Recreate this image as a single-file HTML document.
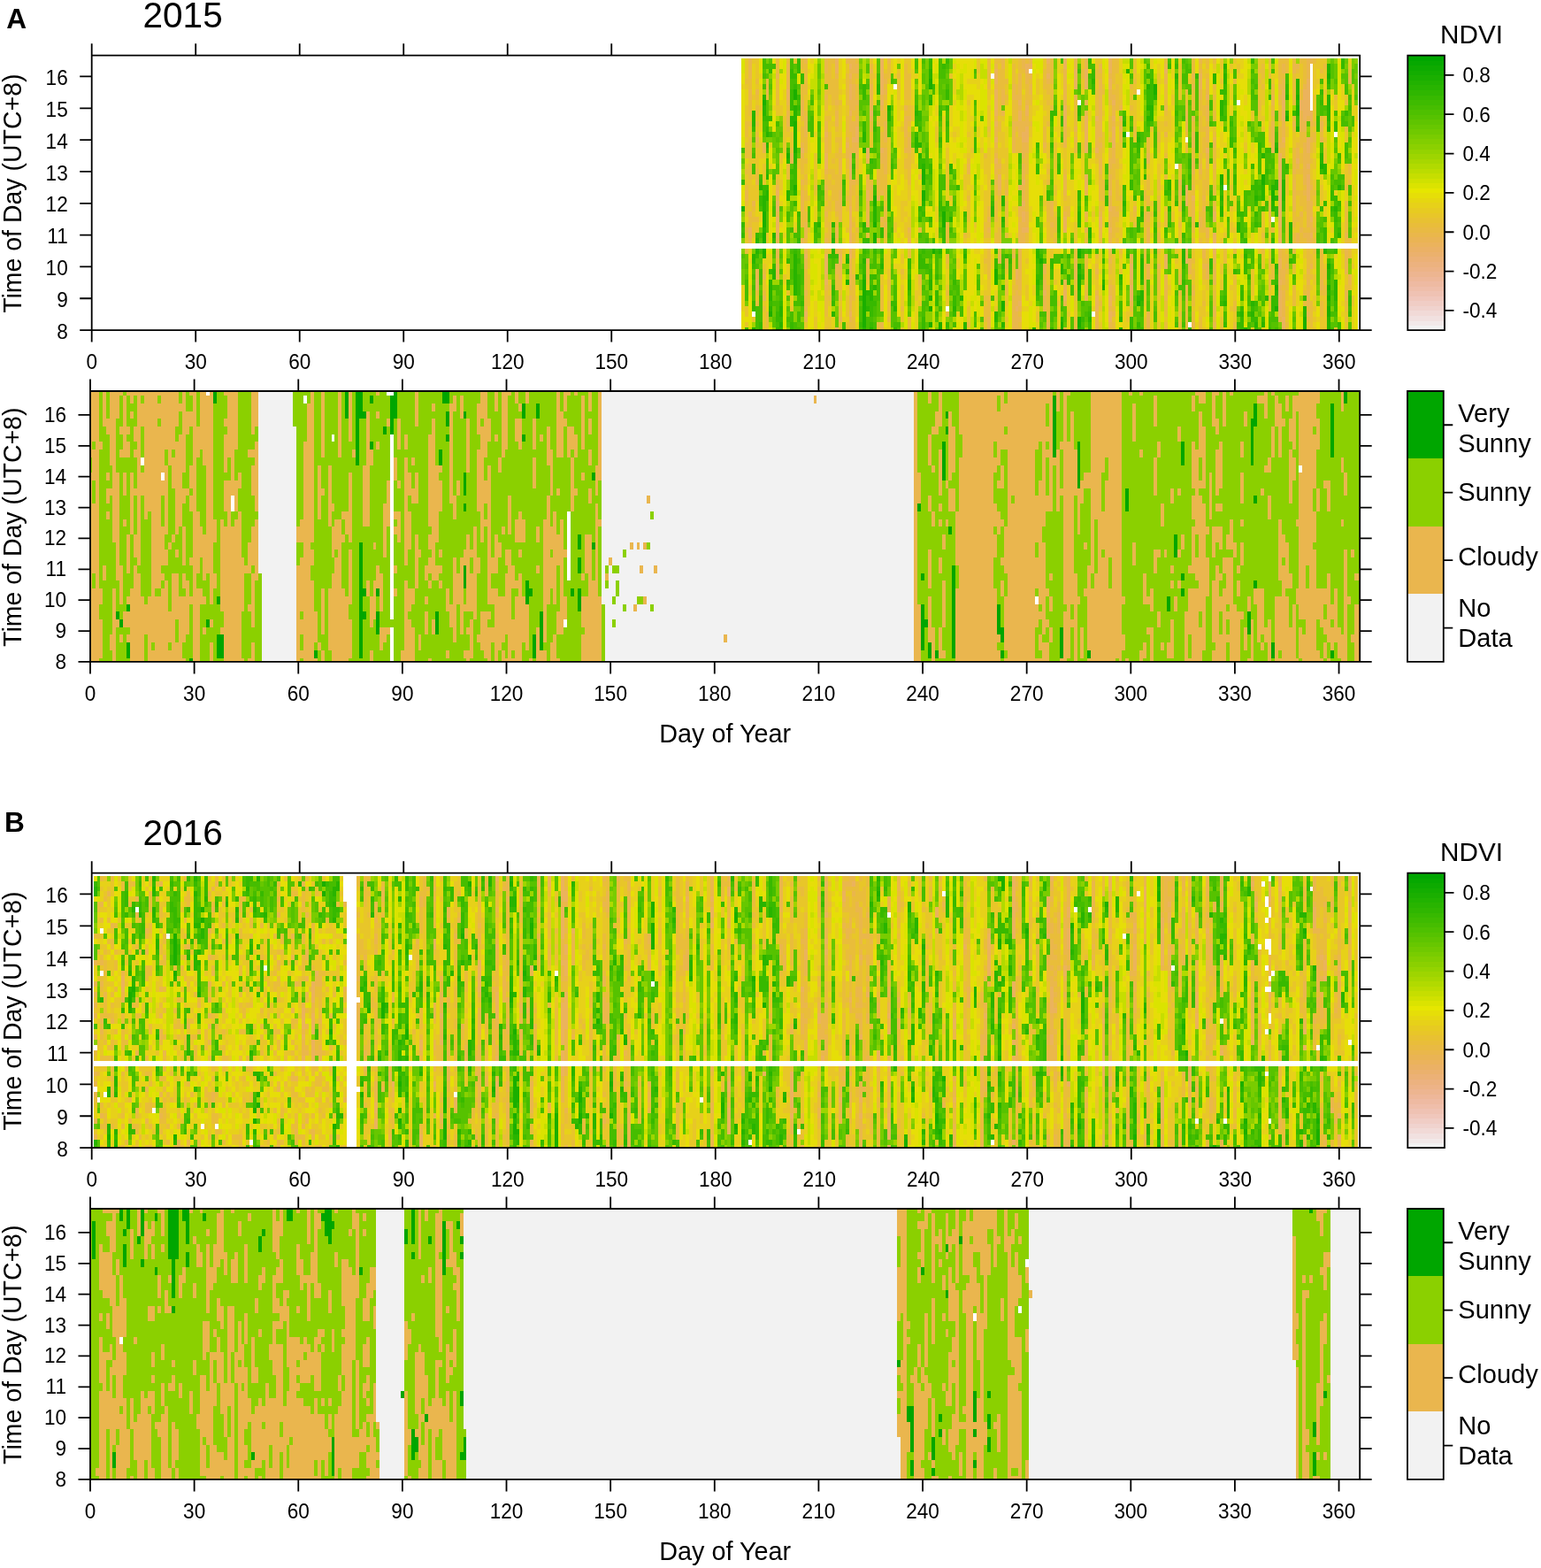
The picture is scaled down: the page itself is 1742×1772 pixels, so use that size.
<!DOCTYPE html>
<html lang="en"><head><meta charset="utf-8"><title>NDVI and sky condition by time of day, 2015-2016</title>
<style>html,body{margin:0;padding:0;background:#fff}body{width:1742px;height:1772px;overflow:hidden}svg{display:block}text{font-family:'Liberation Sans', sans-serif;fill:#000}</style>
</head><body>
<svg width="1742" height="1772" viewBox="0 0 1742 1772" role="img" aria-label="NDVI and sky condition heat maps for 2015 and 2016">
<rect width="1742" height="1772" fill="#fff"/>
<text transform="translate(7.3 31.7) scale(1 1.02)" font-size="31.6" font-weight="bold">A</text>
<text transform="translate(161.4 31.4) scale(1 1.02)" font-size="40.6">2015</text>
<clipPath id="c1A"><rect x="103.7" y="62.7" width="1433.5" height="310.4"/></clipPath>
<g clip-path="url(#c1A)"><g shape-rendering="crispEdges" transform="translate(105.66 376.09) scale(3.917 -5.9717)">
<path fill="#E6DE08" d="M187 0h1v4h-1zM187 25h1v2h-1zM187 37h1v9h-1zM187 47h1v2h-1zM188 2h1v1h-1zM189 2h1v5h-1zM189 9h1v1h-1zM189 11h1v2h-1zM189 14h1v1h-1zM192 20h1v1h-1zM192 37h1v1h-1zM192 47h1v1h-1zM192 49h1v3h-1zM194 9h1v2h-1zM194 15h1v1h-1zM195 12h1v1h-1zM195 18h1v5h-1zM195 24h1v6h-1zM195 32h1v3h-1zM196 31h1v1h-1zM196 38h1v1h-1zM196 40h1v2h-1zM196 43h1v3h-1zM196 51h1v1h-1zM198 19h1v1h-1zM198 25h1v1h-1zM198 44h1v3h-1zM198 48h1v1h-1zM198 50h1v2h-1zM199 0h1v1h-1zM199 6h1v1h-1zM199 8h1v1h-1zM199 11h1v3h-1zM199 15h1v1h-1zM199 17h1v1h-1zM199 19h1v2h-1zM199 24h1v2h-1zM199 32h1v1h-1zM199 46h1v3h-1zM202 21h1v2h-1zM203 35h1v3h-1zM203 40h1v1h-1zM206 0h1v3h-1zM206 26h1v2h-1zM206 29h1v1h-1zM206 45h1v1h-1zM206 47h1v2h-1zM206 50h1v2h-1zM207 1h1v5h-1zM207 34h1v2h-1zM207 49h1v2h-1zM208 6h1v3h-1zM208 13h1v1h-1zM208 24h1v1h-1zM208 34h1v3h-1zM208 38h1v3h-1zM209 0h1v1h-1zM209 2h1v2h-1zM209 8h1v6h-1zM209 15h1v1h-1zM209 29h1v2h-1zM210 0h1v2h-1zM210 31h1v1h-1zM210 34h1v2h-1zM210 37h1v2h-1zM216 3h1v1h-1zM216 8h1v1h-1zM216 18h1v2h-1zM216 30h1v3h-1zM216 34h1v4h-1zM216 40h1v1h-1zM216 43h1v2h-1zM216 46h1v1h-1zM216 48h1v4h-1zM217 17h1v2h-1zM220 2h1v1h-1zM220 7h1v2h-1zM220 14h1v2h-1zM221 33h1v2h-1zM222 29h1v1h-1zM225 44h1v1h-1zM225 51h1v1h-1zM228 1h1v8h-1zM228 10h1v1h-1zM229 43h1v4h-1zM230 23h1v1h-1zM230 27h1v2h-1zM230 45h1v1h-1zM231 13h1v1h-1zM231 17h1v2h-1zM231 22h1v2h-1zM231 28h1v1h-1zM231 30h1v1h-1zM231 38h1v1h-1zM231 43h1v2h-1zM231 49h1v3h-1zM232 3h1v5h-1zM232 13h1v3h-1zM232 19h1v1h-1zM232 26h1v2h-1zM232 33h1v2h-1zM232 39h1v1h-1zM233 18h1v1h-1zM233 27h1v3h-1zM233 40h1v2h-1zM233 43h1v9h-1zM234 8h1v2h-1zM234 12h1v2h-1zM234 17h1v1h-1zM236 2h1v1h-1zM236 26h1v1h-1zM236 30h1v1h-1zM236 39h1v1h-1zM236 46h1v2h-1zM236 50h1v2h-1zM237 12h1v4h-1zM237 18h1v2h-1zM237 25h1v2h-1zM237 29h1v1h-1zM237 32h1v2h-1zM237 38h1v1h-1zM238 28h1v1h-1zM238 45h1v3h-1zM238 49h1v3h-1zM240 19h1v2h-1zM240 23h1v1h-1zM241 23h1v1h-1zM241 33h1v1h-1zM241 40h1v1h-1zM242 39h1v1h-1zM242 41h1v1h-1zM242 49h1v2h-1zM243 17h1v1h-1zM243 20h1v1h-1zM243 24h1v3h-1zM243 31h1v4h-1zM243 40h1v1h-1zM243 43h1v1h-1zM243 51h1v1h-1zM245 1h1v3h-1zM245 35h1v3h-1zM245 41h1v1h-1zM247 32h1v5h-1zM247 38h1v1h-1zM248 0h1v1h-1zM248 31h1v1h-1zM248 34h1v2h-1zM248 39h1v4h-1zM248 44h1v1h-1zM248 48h1v1h-1zM249 2h1v1h-1zM249 10h1v2h-1zM249 14h1v1h-1zM249 33h1v2h-1zM249 36h1v1h-1zM249 39h1v3h-1zM249 49h1v1h-1zM249 51h1v1h-1zM250 0h1v3h-1zM250 18h1v1h-1zM250 23h1v1h-1zM250 29h1v1h-1zM250 33h1v1h-1zM250 50h1v2h-1zM251 7h1v1h-1zM251 24h1v1h-1zM251 32h1v1h-1zM251 35h1v1h-1zM251 37h1v3h-1zM251 42h1v2h-1zM251 46h1v3h-1zM251 51h1v1h-1zM252 6h1v7h-1zM252 45h1v2h-1zM252 48h1v4h-1zM253 7h1v9h-1zM253 17h1v2h-1zM253 22h1v5h-1zM253 28h1v2h-1zM253 32h1v1h-1zM253 39h1v1h-1zM253 41h1v3h-1zM253 45h1v2h-1zM253 50h1v2h-1zM254 4h1v2h-1zM254 8h1v1h-1zM254 14h1v1h-1zM254 18h1v1h-1zM254 30h1v1h-1zM254 44h1v3h-1zM255 6h1v1h-1zM255 13h1v2h-1zM255 22h1v2h-1zM255 36h1v1h-1zM255 39h1v2h-1zM255 42h1v4h-1zM256 3h1v2h-1zM256 8h1v1h-1zM256 15h1v1h-1zM256 17h1v1h-1zM256 19h1v6h-1zM256 28h1v3h-1zM256 37h1v3h-1zM256 47h1v1h-1zM257 10h1v1h-1zM257 27h1v1h-1zM257 36h1v1h-1zM257 46h1v1h-1zM259 3h1v1h-1zM259 8h1v1h-1zM259 15h1v1h-1zM259 30h1v2h-1zM259 35h1v1h-1zM259 40h1v2h-1zM259 44h1v1h-1zM259 46h1v1h-1zM259 49h1v1h-1zM259 51h1v1h-1zM260 8h1v1h-1zM263 0h1v1h-1zM263 39h1v4h-1zM264 0h1v1h-1zM264 19h1v3h-1zM264 25h1v1h-1zM264 41h1v3h-1zM265 17h1v1h-1zM265 19h1v1h-1zM265 21h1v2h-1zM265 24h1v1h-1zM265 26h1v1h-1zM265 29h1v2h-1zM265 32h1v2h-1zM266 19h1v3h-1zM266 24h1v1h-1zM266 26h1v3h-1zM266 31h1v3h-1zM268 0h1v4h-1zM268 5h1v2h-1zM269 1h1v3h-1zM269 5h1v1h-1zM269 11h1v1h-1zM270 6h1v10h-1zM270 20h1v1h-1zM270 24h1v8h-1zM271 2h1v3h-1zM271 6h1v1h-1zM271 12h1v1h-1zM271 17h1v2h-1zM271 20h1v2h-1zM271 23h1v10h-1zM271 35h1v4h-1zM271 40h1v1h-1zM271 43h1v1h-1zM271 45h1v4h-1zM271 50h1v1h-1zM272 22h1v6h-1zM272 36h1v2h-1zM272 40h1v2h-1zM272 49h1v1h-1zM273 26h1v3h-1zM273 30h1v1h-1zM273 34h1v9h-1zM273 44h1v1h-1zM273 48h1v1h-1zM274 17h1v1h-1zM274 19h1v1h-1zM274 21h1v2h-1zM274 30h1v1h-1zM274 32h1v2h-1zM277 8h1v1h-1zM277 12h1v1h-1zM277 37h1v1h-1zM278 7h1v1h-1zM278 12h1v1h-1zM278 24h1v3h-1zM278 29h1v1h-1zM278 34h1v1h-1zM278 36h1v1h-1zM278 42h1v7h-1zM279 8h1v1h-1zM279 15h1v1h-1zM279 18h1v6h-1zM279 30h1v1h-1zM279 32h1v1h-1zM279 45h1v1h-1zM281 0h1v1h-1zM281 15h1v1h-1zM281 17h1v3h-1zM281 26h1v1h-1zM281 29h1v1h-1zM281 47h1v1h-1zM281 49h1v1h-1zM281 51h1v1h-1zM282 3h1v1h-1zM282 21h1v1h-1zM282 23h1v1h-1zM282 35h1v1h-1zM282 37h1v1h-1zM282 42h1v2h-1zM282 46h1v2h-1zM282 49h1v3h-1zM283 27h1v2h-1zM283 31h1v2h-1zM284 29h1v1h-1zM284 31h1v2h-1zM284 36h1v2h-1zM285 19h1v2h-1zM285 24h1v1h-1zM285 27h1v2h-1zM287 12h1v1h-1zM287 36h1v4h-1zM287 42h1v1h-1zM287 49h1v1h-1zM288 0h1v3h-1zM288 5h1v4h-1zM288 13h1v2h-1zM288 19h1v2h-1zM288 24h1v3h-1zM288 30h1v2h-1zM288 33h1v1h-1zM288 35h1v1h-1zM288 51h1v1h-1zM289 17h1v3h-1zM289 25h1v3h-1zM290 9h1v2h-1zM290 12h1v1h-1zM291 19h1v1h-1zM291 38h1v2h-1zM292 2h1v5h-1zM292 18h1v1h-1zM292 21h1v1h-1zM292 32h1v2h-1zM292 47h1v2h-1zM292 50h1v2h-1zM295 0h1v4h-1zM296 1h1v1h-1zM297 4h1v4h-1zM297 15h1v1h-1zM297 28h1v1h-1zM297 30h1v2h-1zM297 33h1v2h-1zM297 42h1v1h-1zM297 44h1v1h-1zM297 47h1v1h-1zM298 0h1v1h-1zM298 9h1v2h-1zM298 20h1v2h-1zM298 26h1v1h-1zM299 26h1v1h-1zM301 8h1v1h-1zM301 25h1v1h-1zM301 39h1v1h-1zM301 44h1v1h-1zM301 49h1v3h-1zM302 27h1v1h-1zM302 29h1v2h-1zM302 33h1v2h-1zM302 38h1v2h-1zM302 41h1v1h-1zM305 9h1v1h-1zM305 11h1v1h-1zM305 14h1v1h-1zM305 17h1v1h-1zM305 19h1v1h-1zM305 25h1v1h-1zM305 34h1v1h-1zM306 30h1v3h-1zM306 50h1v1h-1zM307 41h1v3h-1zM307 51h1v1h-1zM308 11h1v1h-1zM308 18h1v2h-1zM308 26h1v1h-1zM308 28h1v2h-1zM308 33h1v3h-1zM308 41h1v1h-1zM308 43h1v1h-1zM308 45h1v2h-1zM308 48h1v4h-1zM310 1h1v1h-1zM310 5h1v2h-1zM310 10h1v1h-1zM310 30h1v1h-1zM310 32h1v4h-1zM310 43h1v2h-1zM311 0h1v5h-1zM311 7h1v1h-1zM311 11h1v1h-1zM311 13h1v1h-1zM311 27h1v2h-1zM311 30h1v4h-1zM311 35h1v2h-1zM311 41h1v1h-1zM311 46h1v2h-1zM311 50h1v2h-1zM312 0h1v1h-1zM312 18h1v6h-1zM314 34h1v4h-1zM318 0h1v1h-1zM318 2h1v2h-1zM318 17h1v1h-1zM318 23h1v1h-1zM318 25h1v2h-1zM318 49h1v3h-1zM319 8h1v1h-1zM319 10h1v4h-1zM321 1h1v1h-1zM321 4h1v1h-1zM322 14h1v2h-1zM322 17h1v1h-1zM322 28h1v1h-1zM322 36h1v2h-1zM322 45h1v6h-1zM324 3h1v1h-1zM324 7h1v6h-1zM324 22h1v1h-1zM324 31h1v2h-1zM324 35h1v2h-1zM324 40h1v1h-1zM324 51h1v1h-1zM325 19h1v1h-1zM325 34h1v1h-1zM325 38h1v1h-1zM325 44h1v1h-1zM326 0h1v1h-1zM326 20h1v2h-1zM326 23h1v1h-1zM326 36h1v2h-1zM327 0h1v11h-1zM327 13h1v1h-1zM328 9h1v1h-1zM328 12h1v2h-1zM328 15h1v1h-1zM328 18h1v1h-1zM328 31h1v4h-1zM328 43h1v1h-1zM328 47h1v2h-1zM329 21h1v2h-1zM330 6h1v1h-1zM330 13h1v1h-1zM330 26h1v6h-1zM330 37h1v2h-1zM330 47h1v1h-1zM331 12h1v2h-1zM331 15h1v1h-1zM331 25h1v1h-1zM331 30h1v2h-1zM331 35h1v1h-1zM331 41h1v4h-1zM331 46h1v2h-1zM331 49h1v1h-1zM332 21h1v1h-1zM332 27h1v1h-1zM332 39h1v3h-1zM332 45h1v7h-1zM333 22h1v1h-1zM333 27h1v1h-1zM333 31h1v2h-1zM334 32h1v2h-1zM335 30h1v1h-1zM335 32h1v1h-1zM335 34h1v1h-1zM337 30h1v3h-1zM338 0h1v1h-1zM338 3h1v1h-1zM338 37h1v1h-1zM339 43h1v1h-1zM341 42h1v2h-1zM341 47h1v1h-1zM345 0h1v1h-1zM345 4h1v1h-1zM345 7h1v1h-1zM345 22h1v1h-1zM345 35h1v5h-1zM345 43h1v1h-1zM345 45h1v1h-1zM345 49h1v3h-1zM347 0h1v5h-1zM347 8h1v2h-1zM348 7h1v3h-1zM348 12h1v1h-1zM348 14h1v1h-1zM352 23h1v1h-1zM353 0h1v2h-1zM353 3h1v2h-1zM353 45h1v1h-1zM355 27h1v2h-1zM356 17h1v2h-1zM356 20h1v5h-1zM357 18h1v1h-1zM357 33h1v1h-1zM357 36h1v1h-1zM357 38h1v1h-1zM357 40h1v3h-1zM357 44h1v1h-1zM358 12h1v2h-1zM359 5h1v4h-1zM359 35h1v2h-1zM359 42h1v4h-1zM359 51h1v1h-1zM360 2h1v1h-1zM360 4h1v1h-1zM360 6h1v6h-1zM360 21h1v1h-1zM360 24h1v1h-1zM360 31h1v3h-1zM360 42h1v2h-1zM363 7h1v1h-1zM363 11h1v1h-1zM363 20h1v1h-1zM363 28h1v9h-1zM364 0h1v9h-1zM364 12h1v3h-1zM364 18h1v1h-1zM364 20h1v1h-1zM364 22h1v3h-1zM364 26h1v2h-1zM364 31h1v1h-1zM364 34h1v3h-1zM364 38h1v2h-1z"/>
<path fill="#E7D119" d="M187 4h1v5h-1zM187 46h1v1h-1zM188 21h1v1h-1zM188 32h1v1h-1zM188 43h1v3h-1zM189 7h1v2h-1zM189 13h1v1h-1zM189 15h1v1h-1zM190 17h1v1h-1zM190 28h1v1h-1zM190 42h1v2h-1zM190 45h1v6h-1zM191 22h1v3h-1zM192 21h1v2h-1zM192 30h1v3h-1zM192 36h1v1h-1zM192 38h1v4h-1zM192 43h1v4h-1zM192 48h1v1h-1zM193 13h1v1h-1zM193 32h1v1h-1zM194 4h1v5h-1zM194 11h1v4h-1zM195 13h1v2h-1zM195 31h1v1h-1zM195 35h1v1h-1zM196 26h1v2h-1zM196 42h1v1h-1zM198 20h1v1h-1zM198 24h1v1h-1zM198 26h1v1h-1zM198 29h1v3h-1zM198 43h1v1h-1zM199 9h1v1h-1zM199 18h1v1h-1zM199 33h1v1h-1zM199 41h1v5h-1zM200 10h1v3h-1zM200 36h1v1h-1zM201 5h1v2h-1zM201 38h1v1h-1zM202 20h1v1h-1zM203 29h1v2h-1zM203 38h1v2h-1zM205 0h1v1h-1zM206 3h1v2h-1zM206 11h1v1h-1zM206 17h1v2h-1zM206 24h1v1h-1zM206 28h1v1h-1zM206 30h1v8h-1zM206 44h1v1h-1zM206 46h1v1h-1zM206 49h1v1h-1zM207 51h1v1h-1zM208 3h1v3h-1zM208 21h1v3h-1zM208 25h1v1h-1zM208 37h1v1h-1zM210 29h1v2h-1zM210 36h1v1h-1zM212 3h1v2h-1zM212 26h1v1h-1zM212 42h1v1h-1zM213 0h1v3h-1zM213 21h1v2h-1zM213 34h1v5h-1zM213 40h1v1h-1zM215 44h1v1h-1zM215 46h1v6h-1zM216 2h1v1h-1zM216 13h1v2h-1zM216 17h1v1h-1zM216 20h1v4h-1zM216 41h1v2h-1zM216 45h1v1h-1zM216 47h1v1h-1zM217 2h1v1h-1zM217 7h1v2h-1zM217 15h1v1h-1zM217 20h1v3h-1zM217 27h1v2h-1zM219 22h1v1h-1zM220 0h1v2h-1zM220 3h1v4h-1zM220 20h1v3h-1zM221 30h1v3h-1zM223 8h1v1h-1zM225 43h1v1h-1zM225 45h1v3h-1zM225 49h1v2h-1zM228 0h1v1h-1zM228 9h1v1h-1zM228 11h1v4h-1zM228 50h1v2h-1zM229 0h1v2h-1zM229 12h1v4h-1zM229 28h1v2h-1zM230 49h1v3h-1zM231 12h1v1h-1zM231 21h1v1h-1zM231 24h1v4h-1zM231 48h1v1h-1zM232 11h1v2h-1zM232 18h1v1h-1zM232 20h1v6h-1zM232 28h1v5h-1zM232 35h1v4h-1zM232 40h1v4h-1zM232 51h1v1h-1zM233 9h1v1h-1zM233 12h1v1h-1zM233 15h1v1h-1zM233 17h1v1h-1zM233 19h1v2h-1zM233 25h1v2h-1zM233 30h1v8h-1zM233 39h1v1h-1zM233 42h1v1h-1zM234 10h1v2h-1zM234 21h1v1h-1zM234 23h1v1h-1zM234 25h1v4h-1zM235 22h1v3h-1zM236 31h1v1h-1zM236 43h1v3h-1zM236 48h1v2h-1zM237 0h1v6h-1zM237 8h1v3h-1zM237 17h1v1h-1zM237 27h1v2h-1zM237 31h1v1h-1zM237 48h1v1h-1zM238 6h1v1h-1zM238 24h1v4h-1zM238 30h1v1h-1zM238 34h1v1h-1zM243 18h1v2h-1zM243 21h1v3h-1zM243 35h1v1h-1zM243 39h1v1h-1zM243 41h1v2h-1zM245 38h1v3h-1zM246 9h1v3h-1zM246 25h1v2h-1zM246 35h1v1h-1zM247 24h1v1h-1zM247 37h1v1h-1zM247 39h1v4h-1zM248 32h1v2h-1zM248 36h1v1h-1zM248 38h1v1h-1zM248 43h1v1h-1zM248 45h1v3h-1zM248 50h1v1h-1zM249 3h1v1h-1zM249 12h1v2h-1zM249 37h1v2h-1zM251 23h1v1h-1zM251 25h1v2h-1zM251 30h1v2h-1zM251 33h1v1h-1zM252 0h1v1h-1zM252 5h1v1h-1zM252 17h1v1h-1zM252 19h1v2h-1zM252 27h1v1h-1zM252 34h1v3h-1zM252 38h1v5h-1zM252 44h1v1h-1zM252 47h1v1h-1zM253 27h1v1h-1zM253 33h1v1h-1zM253 35h1v4h-1zM253 40h1v1h-1zM253 44h1v1h-1zM253 47h1v1h-1zM254 0h1v1h-1zM254 15h1v1h-1zM254 17h1v1h-1zM254 19h1v1h-1zM254 47h1v1h-1zM255 15h1v1h-1zM255 37h1v2h-1zM255 46h1v3h-1zM256 7h1v1h-1zM256 9h1v6h-1zM256 25h1v3h-1zM256 31h1v3h-1zM256 35h1v2h-1zM257 8h1v2h-1zM257 28h1v2h-1zM258 35h1v2h-1zM258 43h1v1h-1zM259 12h1v3h-1zM259 32h1v3h-1zM259 45h1v1h-1zM260 5h1v1h-1zM260 7h1v1h-1zM261 22h1v1h-1zM261 35h1v1h-1zM262 29h1v1h-1zM262 32h1v1h-1zM262 38h1v2h-1zM263 1h1v1h-1zM263 3h1v2h-1zM263 10h1v1h-1zM263 35h1v4h-1zM263 48h1v4h-1zM264 18h1v1h-1zM265 23h1v1h-1zM266 18h1v1h-1zM266 22h1v2h-1zM266 49h1v1h-1zM268 4h1v1h-1zM268 7h1v9h-1zM268 45h1v1h-1zM269 0h1v1h-1zM269 4h1v1h-1zM269 9h1v2h-1zM269 12h1v1h-1zM269 14h1v2h-1zM270 5h1v1h-1zM270 17h1v3h-1zM270 21h1v3h-1zM270 34h1v3h-1zM271 7h1v2h-1zM271 41h1v2h-1zM271 44h1v1h-1zM272 0h1v2h-1zM272 4h1v1h-1zM272 42h1v1h-1zM272 44h1v1h-1zM272 48h1v1h-1zM273 29h1v1h-1zM273 43h1v1h-1zM273 45h1v3h-1zM274 20h1v1h-1zM274 23h1v1h-1zM274 25h1v3h-1zM274 29h1v1h-1zM274 31h1v1h-1zM274 41h1v1h-1zM275 13h1v3h-1zM275 32h1v1h-1zM275 36h1v3h-1zM277 10h1v2h-1zM277 15h1v1h-1zM277 23h1v1h-1zM277 25h1v1h-1zM277 28h1v3h-1zM277 36h1v1h-1zM277 38h1v1h-1zM278 1h1v4h-1zM278 6h1v1h-1zM278 8h1v4h-1zM278 15h1v1h-1zM278 27h1v2h-1zM278 35h1v1h-1zM278 37h1v5h-1zM278 49h1v3h-1zM279 7h1v1h-1zM279 24h1v3h-1zM279 33h1v2h-1zM279 44h1v1h-1zM279 46h1v3h-1zM279 50h1v1h-1zM281 1h1v2h-1zM281 4h1v5h-1zM281 20h1v2h-1zM281 27h1v2h-1zM281 30h1v7h-1zM281 39h1v2h-1zM281 43h1v4h-1zM282 19h1v2h-1zM282 24h1v5h-1zM282 34h1v1h-1zM282 38h1v4h-1zM283 21h1v6h-1zM283 33h1v1h-1zM285 29h1v5h-1zM285 36h1v2h-1zM285 45h1v1h-1zM287 13h1v1h-1zM287 31h1v2h-1zM287 40h1v2h-1zM288 4h1v1h-1zM288 9h1v4h-1zM288 21h1v1h-1zM288 23h1v1h-1zM288 32h1v1h-1zM288 34h1v1h-1zM289 28h1v4h-1zM290 2h1v2h-1zM290 7h1v2h-1zM290 11h1v1h-1zM290 13h1v3h-1zM291 20h1v3h-1zM291 29h1v5h-1zM291 40h1v1h-1zM291 42h1v3h-1zM291 47h1v3h-1zM295 36h1v3h-1zM295 40h1v2h-1zM296 12h1v2h-1zM296 17h1v1h-1zM296 20h1v3h-1zM296 28h1v3h-1zM296 32h1v1h-1zM296 49h1v3h-1zM297 0h1v4h-1zM298 1h1v1h-1zM298 4h1v1h-1zM299 23h1v3h-1zM301 40h1v4h-1zM301 46h1v3h-1zM302 28h1v1h-1zM302 40h1v1h-1zM303 3h1v2h-1zM304 30h1v1h-1zM305 0h1v9h-1zM305 10h1v1h-1zM305 12h1v2h-1zM305 15h1v1h-1zM305 18h1v1h-1zM305 20h1v2h-1zM305 23h1v1h-1zM305 27h1v7h-1zM305 35h1v3h-1zM305 50h1v2h-1zM307 0h1v1h-1zM307 2h1v4h-1zM307 32h1v2h-1zM307 40h1v1h-1zM307 44h1v3h-1zM307 49h1v2h-1zM308 12h1v4h-1zM308 17h1v1h-1zM308 20h1v1h-1zM308 27h1v1h-1zM308 30h1v3h-1zM308 36h1v2h-1zM308 40h1v1h-1zM308 47h1v1h-1zM310 7h1v1h-1zM310 9h1v1h-1zM310 31h1v1h-1zM310 36h1v2h-1zM310 42h1v1h-1zM311 23h1v4h-1zM311 29h1v1h-1zM311 37h1v4h-1zM311 42h1v1h-1zM311 45h1v1h-1zM311 48h1v2h-1zM312 12h1v1h-1zM313 12h1v4h-1zM313 22h1v1h-1zM313 51h1v1h-1zM316 48h1v1h-1zM318 1h1v1h-1zM318 4h1v12h-1zM318 27h1v1h-1zM318 29h1v2h-1zM319 5h1v3h-1zM319 14h1v2h-1zM320 1h1v2h-1zM320 8h1v1h-1zM320 31h1v2h-1zM320 46h1v2h-1zM320 50h1v1h-1zM321 0h1v1h-1zM321 3h1v1h-1zM321 5h1v3h-1zM321 25h1v1h-1zM322 18h1v2h-1zM322 38h1v1h-1zM322 51h1v1h-1zM323 49h1v1h-1zM324 17h1v4h-1zM324 33h1v2h-1zM325 3h1v2h-1zM325 10h1v1h-1zM325 13h1v3h-1zM325 18h1v1h-1zM325 20h1v1h-1zM325 35h1v3h-1zM325 39h1v1h-1zM325 46h1v1h-1zM325 48h1v2h-1zM326 19h1v1h-1zM326 22h1v1h-1zM326 24h1v3h-1zM326 28h1v3h-1zM326 33h1v1h-1zM326 35h1v1h-1zM327 11h1v2h-1zM328 0h1v4h-1zM328 5h1v3h-1zM328 10h1v2h-1zM328 14h1v1h-1zM328 21h1v2h-1zM328 25h1v2h-1zM328 28h1v3h-1zM328 41h1v2h-1zM328 44h1v3h-1zM328 49h1v1h-1zM329 18h1v1h-1zM329 20h1v1h-1zM329 23h1v3h-1zM329 50h1v1h-1zM330 48h1v1h-1zM330 51h1v1h-1zM331 14h1v1h-1zM331 48h1v1h-1zM331 50h1v2h-1zM332 28h1v1h-1zM332 30h1v1h-1zM332 36h1v3h-1zM332 43h1v2h-1zM333 23h1v1h-1zM334 0h1v1h-1zM334 6h1v1h-1zM334 17h1v2h-1zM334 34h1v2h-1zM336 17h1v3h-1zM337 0h1v1h-1zM337 24h1v1h-1zM337 39h1v1h-1zM337 41h1v2h-1zM339 18h1v1h-1zM339 35h1v1h-1zM339 40h1v3h-1zM340 7h1v2h-1zM340 48h1v1h-1zM341 48h1v3h-1zM344 5h1v1h-1zM344 21h1v5h-1zM344 32h1v5h-1zM344 39h1v1h-1zM345 5h1v2h-1zM347 5h1v3h-1zM347 37h1v1h-1zM349 9h1v1h-1zM349 11h1v3h-1zM351 6h1v2h-1zM351 9h1v1h-1zM352 1h1v1h-1zM352 3h1v1h-1zM352 5h1v1h-1zM352 7h1v2h-1zM352 11h1v1h-1zM352 22h1v1h-1zM352 29h1v2h-1zM352 33h1v1h-1zM352 45h1v1h-1zM353 2h1v1h-1zM353 23h1v1h-1zM353 46h1v1h-1zM353 48h1v2h-1zM354 24h1v1h-1zM354 28h1v2h-1zM355 13h1v2h-1zM355 22h1v2h-1zM355 25h1v2h-1zM355 35h1v1h-1zM355 37h1v2h-1zM355 43h1v2h-1zM355 46h1v2h-1zM357 19h1v1h-1zM357 43h1v1h-1zM357 45h1v1h-1zM358 14h1v1h-1zM358 26h1v1h-1zM360 3h1v1h-1zM360 5h1v1h-1zM360 12h1v3h-1zM360 17h1v4h-1zM360 30h1v1h-1zM360 44h1v3h-1zM361 25h1v2h-1zM362 51h1v1h-1zM363 0h1v5h-1zM363 8h1v3h-1zM363 13h1v3h-1zM363 17h1v3h-1zM363 21h1v7h-1zM363 37h1v1h-1zM363 41h1v5h-1zM364 15h1v1h-1zM364 17h1v1h-1zM364 19h1v1h-1zM364 40h1v3h-1z"/>
<path fill="#79CC00" d="M187 9h1v3h-1zM188 5h1v1h-1zM190 15h1v1h-1zM190 37h1v1h-1zM192 19h1v1h-1zM192 26h1v1h-1zM194 36h1v1h-1zM194 51h1v1h-1zM195 2h1v1h-1zM195 30h1v1h-1zM195 36h1v1h-1zM195 38h1v1h-1zM195 42h1v1h-1zM195 44h1v1h-1zM196 7h1v1h-1zM196 13h1v1h-1zM196 33h1v1h-1zM198 21h1v2h-1zM198 39h1v1h-1zM200 14h1v1h-1zM200 35h1v1h-1zM202 4h1v1h-1zM202 17h1v1h-1zM202 23h1v1h-1zM202 43h1v1h-1zM203 4h1v1h-1zM206 20h1v1h-1zM206 42h1v1h-1zM207 45h1v1h-1zM209 17h1v1h-1zM209 22h1v1h-1zM209 41h1v2h-1zM209 44h1v1h-1zM209 46h1v2h-1zM213 10h1v1h-1zM213 19h1v1h-1zM214 3h1v2h-1zM215 17h1v1h-1zM215 20h1v1h-1zM221 23h1v1h-1zM221 35h1v1h-1zM221 38h1v1h-1zM221 51h1v1h-1zM222 18h1v1h-1zM222 35h1v1h-1zM223 35h1v8h-1zM224 14h1v2h-1zM224 20h1v1h-1zM226 2h1v1h-1zM226 18h1v3h-1zM226 42h1v1h-1zM230 13h1v1h-1zM230 34h1v1h-1zM230 36h1v2h-1zM230 41h1v1h-1zM232 2h1v1h-1zM238 36h1v2h-1zM239 9h1v1h-1zM239 19h1v2h-1zM239 27h1v1h-1zM239 38h1v1h-1zM239 41h1v1h-1zM240 8h1v1h-1zM240 30h1v1h-1zM240 41h1v1h-1zM240 43h1v1h-1zM240 50h1v2h-1zM241 7h1v1h-1zM241 17h1v1h-1zM241 26h1v1h-1zM243 0h1v1h-1zM243 4h1v1h-1zM244 5h1v1h-1zM244 30h1v1h-1zM244 33h1v1h-1zM247 0h1v1h-1zM247 2h1v1h-1zM247 4h1v1h-1zM247 13h1v1h-1zM247 20h1v1h-1zM248 14h1v1h-1zM248 28h1v1h-1zM251 19h1v1h-1zM254 23h1v2h-1zM261 6h1v2h-1zM261 11h1v1h-1zM262 3h1v1h-1zM262 7h1v1h-1zM262 17h1v2h-1zM262 23h1v1h-1zM263 17h1v1h-1zM264 15h1v1h-1zM264 17h1v1h-1zM267 24h1v2h-1zM273 7h1v1h-1zM273 23h1v1h-1zM274 1h1v1h-1zM275 27h1v1h-1zM276 4h1v1h-1zM276 8h1v1h-1zM276 31h1v2h-1zM276 36h1v1h-1zM277 0h1v2h-1zM277 47h1v1h-1zM277 50h1v2h-1zM279 3h1v1h-1zM280 10h1v1h-1zM280 12h1v2h-1zM280 15h1v1h-1zM282 12h1v1h-1zM282 14h1v1h-1zM282 29h1v1h-1zM284 4h1v2h-1zM284 47h1v2h-1zM285 9h1v1h-1zM285 41h1v2h-1zM286 30h1v3h-1zM286 44h1v1h-1zM287 29h1v2h-1zM291 14h1v1h-1zM297 36h1v1h-1zM298 6h1v2h-1zM298 17h1v1h-1zM299 29h1v1h-1zM300 1h1v2h-1zM300 34h1v1h-1zM301 31h1v1h-1zM302 15h1v1h-1zM303 42h1v1h-1zM304 49h1v1h-1zM306 11h1v1h-1zM306 13h1v1h-1zM306 21h1v1h-1zM306 39h1v1h-1zM306 43h1v1h-1zM309 15h1v1h-1zM309 17h1v1h-1zM309 31h1v1h-1zM311 18h1v2h-1zM312 4h1v1h-1zM312 38h1v1h-1zM312 49h1v1h-1zM313 34h1v1h-1zM313 43h1v1h-1zM314 0h1v1h-1zM314 31h1v1h-1zM314 43h1v2h-1zM315 10h1v1h-1zM315 18h1v1h-1zM315 22h1v2h-1zM315 28h1v3h-1zM316 6h1v1h-1zM316 37h1v1h-1zM318 39h1v1h-1zM322 2h1v1h-1zM322 24h1v1h-1zM326 4h1v1h-1zM326 12h1v1h-1zM326 39h1v1h-1zM330 2h1v1h-1zM330 4h1v1h-1zM330 21h1v1h-1zM332 18h1v1h-1zM332 31h1v1h-1zM332 33h1v1h-1zM333 4h1v1h-1zM333 11h1v1h-1zM333 38h1v1h-1zM334 28h1v2h-1zM334 36h1v1h-1zM334 50h1v1h-1zM335 3h1v1h-1zM335 19h1v1h-1zM335 50h1v1h-1zM336 9h1v1h-1zM339 29h1v1h-1zM342 1h1v1h-1zM353 5h1v1h-1zM353 8h1v1h-1zM353 24h1v2h-1zM353 27h1v2h-1zM357 4h1v1h-1zM357 46h1v2h-1zM358 11h1v1h-1zM358 29h1v1h-1zM358 32h1v1h-1zM361 50h1v1h-1zM362 13h1v1h-1zM363 50h1v2h-1zM364 43h1v1h-1zM364 48h1v1h-1z"/>
<path fill="#67C700" d="M187 12h1v2h-1zM187 32h1v1h-1zM188 11h1v1h-1zM188 13h1v2h-1zM192 8h1v1h-1zM192 12h1v1h-1zM192 14h1v1h-1zM193 36h1v1h-1zM195 45h1v1h-1zM195 47h1v1h-1zM196 3h1v2h-1zM196 6h1v1h-1zM196 25h1v1h-1zM196 28h1v1h-1zM196 35h1v2h-1zM197 32h1v2h-1zM197 35h1v1h-1zM197 37h1v2h-1zM198 13h1v1h-1zM198 15h1v1h-1zM198 17h1v2h-1zM198 34h1v1h-1zM198 36h1v1h-1zM198 38h1v1h-1zM200 3h1v1h-1zM201 22h1v1h-1zM202 49h1v1h-1zM203 33h1v1h-1zM203 45h1v1h-1zM204 13h1v2h-1zM209 45h1v1h-1zM209 48h1v3h-1zM210 27h1v1h-1zM213 11h1v1h-1zM214 1h1v2h-1zM214 6h1v2h-1zM221 36h1v1h-1zM221 39h1v1h-1zM221 41h1v1h-1zM221 48h1v2h-1zM222 42h1v1h-1zM223 31h1v1h-1zM224 13h1v1h-1zM224 21h1v2h-1zM224 24h1v1h-1zM226 31h1v2h-1zM226 34h1v2h-1zM230 7h1v2h-1zM230 12h1v1h-1zM230 14h1v1h-1zM230 17h1v2h-1zM230 35h1v1h-1zM231 32h1v1h-1zM232 50h1v1h-1zM235 4h1v1h-1zM236 36h1v2h-1zM237 47h1v1h-1zM238 2h1v1h-1zM239 21h1v1h-1zM239 34h1v2h-1zM239 39h1v2h-1zM239 42h1v1h-1zM239 45h1v1h-1zM239 49h1v1h-1zM240 0h1v1h-1zM240 9h1v1h-1zM240 36h1v2h-1zM240 40h1v1h-1zM240 44h1v2h-1zM240 47h1v3h-1zM241 27h1v1h-1zM244 6h1v1h-1zM244 11h1v3h-1zM244 20h1v1h-1zM244 34h1v1h-1zM244 38h1v1h-1zM244 43h1v2h-1zM245 46h1v1h-1zM246 48h1v1h-1zM247 5h1v1h-1zM247 9h1v1h-1zM247 11h1v2h-1zM247 14h1v2h-1zM247 28h1v1h-1zM247 43h1v5h-1zM247 50h1v2h-1zM248 12h1v1h-1zM249 4h1v1h-1zM251 20h1v1h-1zM254 21h1v1h-1zM254 27h1v1h-1zM254 39h1v1h-1zM259 26h1v1h-1zM261 0h1v1h-1zM261 2h1v1h-1zM261 4h1v2h-1zM261 12h1v1h-1zM262 15h1v1h-1zM262 19h1v1h-1zM262 42h1v1h-1zM266 12h1v3h-1zM267 30h1v1h-1zM272 5h1v1h-1zM273 0h1v1h-1zM273 2h1v1h-1zM273 19h1v2h-1zM273 24h1v1h-1zM276 7h1v1h-1zM276 25h1v1h-1zM276 29h1v2h-1zM276 33h1v1h-1zM277 2h1v1h-1zM277 44h1v1h-1zM277 46h1v1h-1zM280 1h1v1h-1zM280 14h1v1h-1zM282 10h1v2h-1zM282 18h1v1h-1zM282 30h1v1h-1zM282 32h1v2h-1zM283 45h1v1h-1zM285 43h1v2h-1zM286 1h1v1h-1zM286 23h1v1h-1zM286 42h1v1h-1zM287 28h1v1h-1zM287 33h1v1h-1zM296 41h1v1h-1zM298 5h1v1h-1zM298 8h1v1h-1zM298 18h1v1h-1zM299 15h1v1h-1zM299 17h1v1h-1zM299 47h1v1h-1zM300 0h1v1h-1zM300 5h1v1h-1zM300 7h1v3h-1zM300 27h1v2h-1zM300 30h1v1h-1zM301 26h1v2h-1zM302 17h1v1h-1zM302 19h1v1h-1zM303 40h1v2h-1zM303 44h1v1h-1zM304 6h1v1h-1zM304 15h1v1h-1zM304 23h1v1h-1zM304 51h1v1h-1zM306 5h1v1h-1zM306 7h1v4h-1zM308 42h1v1h-1zM309 11h1v1h-1zM309 30h1v1h-1zM309 32h1v1h-1zM310 12h1v1h-1zM311 14h1v1h-1zM311 20h1v1h-1zM312 9h1v3h-1zM312 26h1v1h-1zM313 33h1v1h-1zM313 35h1v1h-1zM313 37h1v1h-1zM313 40h1v2h-1zM314 4h1v2h-1zM314 32h1v1h-1zM314 46h1v1h-1zM314 49h1v1h-1zM315 11h1v2h-1zM315 17h1v1h-1zM315 19h1v2h-1zM315 31h1v3h-1zM316 3h1v1h-1zM316 15h1v1h-1zM316 18h1v2h-1zM316 21h1v1h-1zM316 36h1v1h-1zM316 38h1v5h-1zM316 51h1v1h-1zM318 31h1v1h-1zM318 40h1v1h-1zM321 21h1v2h-1zM322 6h1v1h-1zM322 20h1v1h-1zM322 40h1v1h-1zM323 19h1v1h-1zM326 11h1v1h-1zM326 17h1v1h-1zM327 23h1v2h-1zM329 39h1v2h-1zM329 45h1v2h-1zM330 25h1v1h-1zM333 8h1v1h-1zM334 21h1v1h-1zM334 39h1v1h-1zM335 37h1v1h-1zM336 4h1v1h-1zM336 8h1v1h-1zM336 11h1v1h-1zM337 9h1v1h-1zM340 29h1v1h-1zM342 0h1v1h-1zM343 17h1v2h-1zM346 1h1v1h-1zM346 3h1v1h-1zM353 7h1v1h-1zM353 9h1v5h-1zM353 19h1v1h-1zM353 21h1v2h-1zM353 26h1v1h-1zM357 30h1v1h-1zM357 51h1v1h-1zM358 30h1v2h-1zM358 35h1v1h-1zM358 45h1v2h-1zM358 48h1v3h-1zM360 47h1v1h-1zM361 49h1v1h-1zM361 51h1v1h-1zM362 20h1v1h-1zM362 33h1v1h-1zM362 35h1v1h-1zM362 39h1v2h-1zM364 45h1v3h-1zM364 49h1v2h-1z"/>
<path fill="#56C200" d="M187 14h1v1h-1zM188 10h1v1h-1zM188 12h1v1h-1zM190 6h1v2h-1zM190 9h1v1h-1zM190 11h1v1h-1zM190 34h1v1h-1zM190 36h1v1h-1zM191 13h1v1h-1zM192 7h1v1h-1zM192 13h1v1h-1zM192 17h1v1h-1zM193 37h1v1h-1zM193 49h1v1h-1zM194 19h1v4h-1zM194 41h1v3h-1zM194 48h1v1h-1zM195 46h1v1h-1zM195 51h1v1h-1zM196 1h1v2h-1zM196 14h1v1h-1zM196 24h1v1h-1zM196 30h1v1h-1zM196 37h1v1h-1zM197 6h1v1h-1zM197 30h1v2h-1zM197 34h1v1h-1zM197 36h1v1h-1zM198 8h1v1h-1zM198 11h1v1h-1zM198 14h1v1h-1zM198 23h1v1h-1zM198 37h1v1h-1zM200 1h1v1h-1zM200 4h1v1h-1zM200 6h1v1h-1zM200 17h1v3h-1zM201 9h1v1h-1zM201 12h1v3h-1zM201 23h1v2h-1zM201 31h1v1h-1zM202 50h1v1h-1zM203 1h1v1h-1zM203 34h1v1h-1zM203 46h1v1h-1zM204 0h1v2h-1zM204 3h1v2h-1zM204 7h1v2h-1zM204 12h1v1h-1zM206 40h1v2h-1zM207 41h1v1h-1zM207 44h1v1h-1zM209 19h1v1h-1zM209 21h1v1h-1zM209 23h1v2h-1zM209 37h1v1h-1zM210 25h1v1h-1zM210 28h1v1h-1zM212 11h1v3h-1zM213 9h1v1h-1zM214 13h1v1h-1zM216 25h1v1h-1zM219 29h1v1h-1zM219 32h1v1h-1zM221 5h1v1h-1zM221 8h1v2h-1zM221 11h1v1h-1zM221 13h1v2h-1zM221 18h1v1h-1zM221 20h1v1h-1zM221 24h1v2h-1zM221 27h1v3h-1zM221 42h1v2h-1zM221 45h1v1h-1zM221 47h1v1h-1zM222 43h1v1h-1zM223 14h1v1h-1zM223 30h1v1h-1zM223 43h1v2h-1zM223 47h1v1h-1zM223 49h1v2h-1zM224 29h1v1h-1zM225 2h1v1h-1zM225 35h1v1h-1zM225 40h1v1h-1zM225 42h1v1h-1zM226 3h1v3h-1zM226 10h1v1h-1zM226 12h1v1h-1zM226 15h1v1h-1zM226 21h1v3h-1zM226 33h1v1h-1zM226 36h1v3h-1zM226 41h1v1h-1zM226 49h1v3h-1zM227 3h1v1h-1zM227 24h1v1h-1zM229 17h1v1h-1zM229 19h1v2h-1zM230 1h1v4h-1zM230 10h1v2h-1zM230 20h1v3h-1zM230 33h1v1h-1zM230 39h1v2h-1zM230 42h1v1h-1zM230 48h1v1h-1zM231 2h1v2h-1zM231 9h1v2h-1zM231 14h1v2h-1zM231 31h1v1h-1zM231 33h1v1h-1zM231 47h1v1h-1zM232 0h1v1h-1zM235 3h1v1h-1zM236 35h1v1h-1zM237 45h1v1h-1zM237 49h1v1h-1zM238 0h1v2h-1zM238 3h1v1h-1zM238 11h1v1h-1zM238 17h1v1h-1zM239 7h1v1h-1zM239 10h1v2h-1zM239 17h1v2h-1zM239 36h1v2h-1zM239 43h1v2h-1zM239 47h1v2h-1zM239 50h1v1h-1zM240 1h1v1h-1zM240 4h1v1h-1zM240 6h1v2h-1zM240 18h1v1h-1zM240 21h1v1h-1zM240 25h1v4h-1zM240 35h1v1h-1zM240 46h1v1h-1zM241 13h1v1h-1zM241 20h1v1h-1zM241 24h1v1h-1zM241 32h1v1h-1zM243 2h1v1h-1zM243 9h1v1h-1zM244 8h1v1h-1zM244 10h1v1h-1zM244 18h1v1h-1zM244 21h1v1h-1zM244 31h1v1h-1zM244 37h1v1h-1zM244 39h1v1h-1zM244 45h1v3h-1zM245 42h1v1h-1zM245 44h1v2h-1zM245 47h1v1h-1zM246 21h1v2h-1zM246 47h1v1h-1zM246 49h1v1h-1zM247 3h1v1h-1zM247 8h1v1h-1zM247 10h1v1h-1zM247 18h1v1h-1zM247 23h1v1h-1zM247 27h1v1h-1zM248 7h1v1h-1zM248 13h1v1h-1zM248 18h1v1h-1zM248 23h1v1h-1zM248 25h1v1h-1zM248 27h1v1h-1zM248 30h1v1h-1zM249 5h1v2h-1zM249 9h1v1h-1zM251 8h1v4h-1zM254 2h1v1h-1zM254 28h1v1h-1zM254 41h1v2h-1zM254 48h1v1h-1zM255 10h1v1h-1zM255 12h1v1h-1zM256 2h1v1h-1zM256 5h1v1h-1zM259 28h1v1h-1zM260 0h1v1h-1zM261 3h1v1h-1zM261 10h1v1h-1zM267 26h1v1h-1zM267 28h1v1h-1zM267 31h1v1h-1zM272 33h1v1h-1zM273 1h1v1h-1zM273 5h1v2h-1zM273 8h1v1h-1zM273 17h1v2h-1zM273 25h1v1h-1zM274 2h1v1h-1zM274 15h1v1h-1zM276 1h1v1h-1zM276 27h1v1h-1zM276 38h1v1h-1zM277 4h1v1h-1zM277 43h1v1h-1zM278 17h1v1h-1zM279 5h1v1h-1zM279 37h1v1h-1zM280 2h1v3h-1zM281 12h1v2h-1zM282 0h1v3h-1zM282 15h1v1h-1zM282 17h1v1h-1zM284 33h1v1h-1zM284 45h1v2h-1zM284 50h1v1h-1zM285 3h1v2h-1zM285 12h1v1h-1zM286 2h1v1h-1zM286 4h1v2h-1zM286 24h1v1h-1zM287 5h1v1h-1zM287 34h1v2h-1zM287 46h1v2h-1zM291 10h1v2h-1zM296 7h1v1h-1zM298 19h1v1h-1zM299 39h1v1h-1zM299 50h1v2h-1zM300 3h1v2h-1zM300 6h1v1h-1zM300 10h1v2h-1zM300 17h1v3h-1zM300 26h1v1h-1zM300 29h1v1h-1zM300 32h1v2h-1zM300 44h1v1h-1zM301 2h1v2h-1zM301 28h1v3h-1zM302 1h1v2h-1zM302 35h1v1h-1zM303 36h1v4h-1zM303 45h1v1h-1zM303 47h1v3h-1zM303 51h1v1h-1zM304 4h1v2h-1zM304 7h1v3h-1zM304 13h1v2h-1zM304 37h1v1h-1zM306 4h1v1h-1zM306 12h1v1h-1zM306 14h1v1h-1zM306 33h1v2h-1zM306 38h1v1h-1zM310 11h1v1h-1zM310 13h1v3h-1zM312 2h1v1h-1zM312 5h1v2h-1zM312 14h1v1h-1zM312 25h1v1h-1zM312 27h1v2h-1zM312 32h1v2h-1zM312 36h1v2h-1zM312 43h1v3h-1zM313 32h1v1h-1zM313 38h1v1h-1zM313 42h1v1h-1zM314 2h1v2h-1zM314 6h1v1h-1zM314 21h1v1h-1zM314 29h1v1h-1zM314 33h1v1h-1zM314 41h1v2h-1zM314 50h1v1h-1zM315 9h1v1h-1zM315 46h1v1h-1zM315 51h1v1h-1zM316 2h1v1h-1zM316 4h1v1h-1zM316 7h1v3h-1zM316 14h1v1h-1zM316 17h1v1h-1zM316 20h1v1h-1zM316 35h1v1h-1zM316 43h1v1h-1zM316 46h1v1h-1zM316 50h1v1h-1zM317 41h1v1h-1zM318 42h1v6h-1zM322 0h1v1h-1zM322 3h1v3h-1zM322 9h1v1h-1zM322 21h1v1h-1zM322 27h1v1h-1zM323 25h1v1h-1zM323 39h1v1h-1zM325 7h1v1h-1zM326 31h1v1h-1zM327 18h1v3h-1zM327 25h1v1h-1zM327 27h1v1h-1zM328 24h1v1h-1zM329 30h1v1h-1zM329 37h1v2h-1zM329 41h1v1h-1zM329 43h1v2h-1zM332 20h1v1h-1zM333 7h1v1h-1zM333 9h1v1h-1zM333 14h1v1h-1zM333 24h1v2h-1zM334 1h1v1h-1zM334 12h1v1h-1zM334 19h1v2h-1zM334 23h1v4h-1zM334 37h1v2h-1zM334 42h1v2h-1zM334 46h1v1h-1zM334 48h1v1h-1zM335 41h1v3h-1zM335 47h1v2h-1zM336 0h1v1h-1zM336 3h1v1h-1zM336 7h1v1h-1zM336 10h1v1h-1zM336 13h1v2h-1zM336 21h1v2h-1zM337 6h1v3h-1zM337 11h1v1h-1zM338 18h1v1h-1zM338 23h1v1h-1zM339 3h1v1h-1zM339 27h1v2h-1zM339 31h1v1h-1zM340 0h1v2h-1zM340 18h1v1h-1zM340 20h1v1h-1zM340 30h1v1h-1zM340 33h1v1h-1zM341 1h1v1h-1zM341 38h1v1h-1zM341 40h1v2h-1zM343 19h1v3h-1zM346 0h1v1h-1zM346 2h1v1h-1zM346 9h1v1h-1zM350 39h1v1h-1zM353 20h1v1h-1zM353 41h1v4h-1zM354 17h1v2h-1zM354 20h1v2h-1zM355 41h1v1h-1zM357 1h1v1h-1zM357 5h1v2h-1zM357 8h1v3h-1zM357 13h1v1h-1zM357 28h1v1h-1zM357 48h1v3h-1zM358 1h1v2h-1zM358 17h1v1h-1zM358 27h1v1h-1zM358 34h1v1h-1zM358 36h1v1h-1zM358 47h1v1h-1zM359 20h1v1h-1zM360 28h1v1h-1zM360 41h1v1h-1zM360 48h1v1h-1zM361 32h1v1h-1zM361 40h1v1h-1zM361 47h1v2h-1zM362 0h1v2h-1zM362 18h1v2h-1zM362 21h1v2h-1zM362 32h1v1h-1zM362 36h1v1h-1zM362 38h1v1h-1zM362 41h1v1h-1zM362 43h1v1h-1zM363 47h1v3h-1zM364 44h1v1h-1z"/>
<path fill="#8BD000" d="M187 15h1v1h-1zM187 17h1v1h-1zM187 22h1v1h-1zM187 31h1v1h-1zM193 47h1v1h-1zM194 49h1v1h-1zM195 43h1v1h-1zM195 48h1v1h-1zM196 34h1v1h-1zM198 12h1v1h-1zM198 40h1v1h-1zM200 0h1v1h-1zM200 15h1v1h-1zM200 23h1v1h-1zM201 17h1v1h-1zM201 21h1v1h-1zM202 2h1v2h-1zM204 2h1v1h-1zM209 43h1v1h-1zM209 51h1v1h-1zM215 18h1v2h-1zM216 12h1v1h-1zM216 29h1v1h-1zM217 12h1v1h-1zM220 9h1v1h-1zM221 10h1v1h-1zM221 19h1v1h-1zM221 21h1v1h-1zM221 44h1v1h-1zM221 50h1v1h-1zM223 45h1v1h-1zM223 51h1v1h-1zM224 17h1v3h-1zM224 23h1v1h-1zM225 19h1v1h-1zM226 14h1v1h-1zM227 2h1v1h-1zM230 15h1v1h-1zM230 38h1v1h-1zM230 43h1v1h-1zM237 46h1v1h-1zM238 20h1v1h-1zM238 44h1v1h-1zM239 6h1v1h-1zM239 33h1v1h-1zM240 2h1v2h-1zM240 13h1v1h-1zM240 42h1v1h-1zM241 2h1v2h-1zM241 25h1v1h-1zM244 32h1v1h-1zM245 24h1v2h-1zM246 2h1v1h-1zM247 1h1v1h-1zM247 6h1v1h-1zM247 17h1v1h-1zM247 29h1v1h-1zM248 15h1v1h-1zM248 17h1v1h-1zM248 19h1v1h-1zM248 22h1v1h-1zM248 26h1v1h-1zM250 5h1v1h-1zM254 22h1v1h-1zM254 40h1v1h-1zM255 7h1v1h-1zM259 21h1v1h-1zM261 8h1v2h-1zM263 15h1v1h-1zM266 15h1v1h-1zM267 29h1v1h-1zM272 32h1v1h-1zM273 22h1v1h-1zM274 0h1v1h-1zM274 14h1v1h-1zM277 48h1v2h-1zM279 10h1v1h-1zM279 13h1v1h-1zM279 43h1v1h-1zM280 17h1v1h-1zM282 31h1v1h-1zM284 3h1v1h-1zM284 13h1v1h-1zM284 44h1v1h-1zM285 13h1v1h-1zM286 33h1v1h-1zM286 45h1v1h-1zM287 14h1v1h-1zM291 12h1v1h-1zM292 29h1v1h-1zM300 31h1v1h-1zM301 32h1v1h-1zM303 30h1v1h-1zM303 34h1v1h-1zM303 43h1v1h-1zM303 46h1v1h-1zM304 47h1v1h-1zM309 24h1v2h-1zM310 17h1v1h-1zM310 19h1v1h-1zM311 17h1v1h-1zM312 30h1v1h-1zM314 25h1v1h-1zM314 30h1v1h-1zM318 38h1v1h-1zM318 41h1v1h-1zM322 1h1v1h-1zM322 7h1v1h-1zM322 33h1v2h-1zM325 21h1v1h-1zM328 51h1v1h-1zM329 13h1v1h-1zM329 35h1v1h-1zM330 12h1v1h-1zM332 32h1v1h-1zM333 2h1v1h-1zM334 22h1v1h-1zM335 38h1v3h-1zM335 45h1v1h-1zM335 51h1v1h-1zM336 29h1v1h-1zM337 3h1v1h-1zM338 19h1v1h-1zM339 26h1v1h-1zM343 22h1v1h-1zM344 42h1v2h-1zM345 12h1v1h-1zM345 14h1v1h-1zM350 37h1v1h-1zM355 20h1v1h-1zM355 29h1v1h-1zM356 14h1v1h-1zM356 51h1v1h-1zM357 2h1v1h-1zM357 21h1v1h-1zM358 51h1v1h-1zM359 22h1v1h-1zM359 30h1v1h-1zM360 49h1v1h-1zM362 11h1v2h-1zM362 37h1v1h-1zM362 45h1v1h-1zM364 51h1v1h-1z"/>
<path fill="#37B900" d="M187 18h1v1h-1zM187 20h1v1h-1zM187 28h1v1h-1zM190 4h1v2h-1zM190 12h1v1h-1zM190 38h1v1h-1zM191 14h1v1h-1zM191 18h1v1h-1zM192 0h1v2h-1zM192 24h1v2h-1zM192 28h1v1h-1zM193 26h1v2h-1zM193 40h1v1h-1zM194 27h1v1h-1zM194 30h1v1h-1zM194 34h1v1h-1zM194 38h1v1h-1zM194 40h1v1h-1zM195 5h1v1h-1zM195 11h1v1h-1zM195 37h1v1h-1zM195 40h1v1h-1zM195 49h1v1h-1zM196 12h1v1h-1zM196 17h1v1h-1zM197 0h1v1h-1zM197 2h1v2h-1zM198 0h1v1h-1zM198 2h1v1h-1zM198 5h1v1h-1zM200 9h1v1h-1zM200 13h1v1h-1zM200 34h1v1h-1zM201 0h1v2h-1zM201 27h1v2h-1zM201 30h1v1h-1zM201 42h1v4h-1zM201 48h1v2h-1zM202 15h1v1h-1zM202 24h1v1h-1zM202 28h1v4h-1zM202 46h1v1h-1zM202 48h1v1h-1zM203 7h1v4h-1zM203 13h1v1h-1zM203 17h1v1h-1zM203 22h1v1h-1zM203 42h1v1h-1zM203 44h1v1h-1zM203 49h1v3h-1zM204 5h1v1h-1zM204 47h1v2h-1zM208 19h1v2h-1zM209 27h1v1h-1zM209 32h1v1h-1zM212 14h1v1h-1zM213 5h1v1h-1zM213 7h1v2h-1zM213 14h1v1h-1zM213 18h1v1h-1zM214 14h1v1h-1zM216 28h1v1h-1zM217 11h1v1h-1zM219 31h1v1h-1zM221 1h1v1h-1zM221 6h1v1h-1zM221 26h1v1h-1zM222 11h1v2h-1zM222 15h1v1h-1zM222 17h1v1h-1zM222 19h1v1h-1zM222 38h1v2h-1zM222 44h1v3h-1zM223 5h1v2h-1zM223 17h1v1h-1zM224 1h1v1h-1zM224 3h1v3h-1zM224 8h1v1h-1zM224 10h1v1h-1zM224 32h1v1h-1zM225 5h1v1h-1zM225 10h1v1h-1zM225 15h1v1h-1zM225 26h1v1h-1zM225 38h1v1h-1zM226 47h1v2h-1zM227 13h1v1h-1zM227 15h1v1h-1zM227 18h1v2h-1zM229 27h1v1h-1zM230 5h1v1h-1zM230 31h1v1h-1zM231 0h1v1h-1zM231 5h1v1h-1zM235 7h1v1h-1zM235 10h1v1h-1zM235 12h1v2h-1zM237 34h1v1h-1zM237 37h1v1h-1zM237 39h1v2h-1zM237 42h1v1h-1zM238 12h1v3h-1zM238 21h1v1h-1zM238 23h1v1h-1zM238 31h1v2h-1zM238 38h1v1h-1zM238 40h1v2h-1zM239 0h1v3h-1zM239 12h1v2h-1zM239 15h1v1h-1zM239 22h1v1h-1zM239 32h1v1h-1zM240 12h1v1h-1zM241 10h1v2h-1zM241 21h1v1h-1zM241 30h1v2h-1zM241 44h1v1h-1zM241 50h1v2h-1zM242 17h1v1h-1zM242 46h1v1h-1zM243 5h1v3h-1zM243 10h1v1h-1zM243 15h1v1h-1zM244 23h1v2h-1zM244 36h1v1h-1zM244 41h1v1h-1zM245 17h1v3h-1zM245 23h1v1h-1zM245 50h1v1h-1zM246 1h1v1h-1zM246 24h1v1h-1zM246 39h1v1h-1zM246 42h1v1h-1zM246 44h1v2h-1zM246 51h1v1h-1zM247 30h1v1h-1zM248 3h1v1h-1zM248 5h1v2h-1zM248 9h1v1h-1zM249 27h1v1h-1zM251 15h1v1h-1zM251 22h1v1h-1zM254 34h1v3h-1zM259 24h1v1h-1zM260 12h1v2h-1zM260 15h1v1h-1zM262 10h1v1h-1zM262 12h1v1h-1zM262 20h1v1h-1zM263 14h1v1h-1zM264 13h1v1h-1zM272 7h1v2h-1zM272 10h1v1h-1zM272 13h1v1h-1zM272 30h1v2h-1zM272 35h1v1h-1zM273 10h1v3h-1zM273 14h1v1h-1zM275 25h1v2h-1zM276 0h1v1h-1zM276 12h1v2h-1zM276 35h1v1h-1zM276 40h1v2h-1zM277 41h1v1h-1zM278 19h1v3h-1zM278 30h1v2h-1zM279 9h1v1h-1zM279 14h1v1h-1zM279 39h1v2h-1zM281 9h1v2h-1zM281 14h1v1h-1zM284 23h1v1h-1zM284 25h1v2h-1zM284 40h1v1h-1zM285 0h1v1h-1zM285 2h1v1h-1zM285 10h1v1h-1zM285 15h1v1h-1zM287 0h1v2h-1zM287 3h1v1h-1zM287 15h1v1h-1zM287 17h1v1h-1zM287 51h1v1h-1zM288 45h1v2h-1zM288 48h1v2h-1zM291 13h1v1h-1zM291 15h1v1h-1zM292 24h1v2h-1zM292 27h1v1h-1zM294 15h1v1h-1zM296 9h1v1h-1zM297 22h1v2h-1zM297 27h1v1h-1zM297 35h1v1h-1zM297 40h1v1h-1zM298 14h1v1h-1zM299 0h1v3h-1zM299 27h1v2h-1zM299 38h1v1h-1zM300 25h1v1h-1zM301 1h1v1h-1zM301 19h1v3h-1zM301 34h1v2h-1zM301 37h1v1h-1zM302 5h1v1h-1zM302 9h1v1h-1zM302 14h1v1h-1zM302 21h1v1h-1zM302 23h1v1h-1zM302 25h1v1h-1zM303 31h1v2h-1zM304 39h1v1h-1zM304 43h1v3h-1zM304 48h1v1h-1zM305 43h1v5h-1zM306 15h1v1h-1zM306 19h1v1h-1zM306 22h1v1h-1zM309 19h1v1h-1zM309 26h1v1h-1zM310 20h1v1h-1zM310 26h1v1h-1zM310 50h1v1h-1zM312 24h1v1h-1zM312 41h1v1h-1zM312 47h1v1h-1zM312 50h1v1h-1zM314 9h1v1h-1zM314 12h1v1h-1zM314 18h1v1h-1zM314 23h1v2h-1zM314 27h1v1h-1zM316 0h1v1h-1zM316 29h1v1h-1zM316 31h1v2h-1zM318 34h1v4h-1zM318 48h1v1h-1zM322 12h1v2h-1zM322 25h1v1h-1zM325 5h1v1h-1zM325 24h1v1h-1zM325 26h1v1h-1zM325 40h1v1h-1zM325 45h1v1h-1zM326 1h1v1h-1zM326 6h1v1h-1zM326 40h1v1h-1zM326 43h1v1h-1zM326 45h1v2h-1zM326 49h1v1h-1zM327 29h1v2h-1zM328 35h1v2h-1zM328 39h1v1h-1zM329 11h1v1h-1zM329 28h1v2h-1zM329 34h1v1h-1zM330 1h1v1h-1zM330 3h1v1h-1zM330 22h1v1h-1zM331 0h1v3h-1zM331 4h1v1h-1zM331 6h1v2h-1zM331 18h1v1h-1zM331 22h1v1h-1zM332 11h1v3h-1zM332 15h1v1h-1zM332 17h1v1h-1zM333 3h1v1h-1zM333 10h1v1h-1zM334 2h1v1h-1zM334 4h1v1h-1zM334 27h1v1h-1zM334 31h1v1h-1zM334 51h1v1h-1zM335 0h1v1h-1zM335 2h1v1h-1zM335 5h1v1h-1zM335 20h1v1h-1zM335 22h1v1h-1zM335 24h1v1h-1zM335 26h1v3h-1zM336 25h1v1h-1zM336 27h1v1h-1zM336 34h1v2h-1zM336 39h1v1h-1zM337 2h1v1h-1zM337 23h1v1h-1zM338 30h1v1h-1zM338 34h1v1h-1zM339 0h1v1h-1zM339 34h1v1h-1zM339 44h1v1h-1zM339 46h1v2h-1zM340 4h1v3h-1zM340 13h1v1h-1zM340 17h1v1h-1zM341 5h1v2h-1zM341 9h1v1h-1zM341 11h1v1h-1zM341 22h1v2h-1zM343 23h1v2h-1zM344 31h1v1h-1zM344 45h1v2h-1zM345 13h1v1h-1zM346 41h1v1h-1zM347 39h1v2h-1zM349 6h1v1h-1zM353 15h1v1h-1zM353 38h1v3h-1zM354 23h1v1h-1zM354 30h1v1h-1zM354 43h1v1h-1zM354 45h1v1h-1zM355 17h1v3h-1zM355 24h1v1h-1zM356 9h1v1h-1zM356 13h1v1h-1zM356 39h1v1h-1zM356 46h1v1h-1zM357 23h1v1h-1zM357 25h1v2h-1zM358 4h1v2h-1zM358 15h1v1h-1zM358 21h1v2h-1zM358 25h1v1h-1zM358 38h1v2h-1zM359 0h1v2h-1zM359 19h1v1h-1zM359 24h1v1h-1zM359 33h1v1h-1zM360 50h1v2h-1zM361 41h1v1h-1zM362 3h1v1h-1zM362 5h1v2h-1z"/>
<path fill="#46BD00" d="M187 19h1v1h-1zM187 34h1v1h-1zM188 0h1v1h-1zM188 6h1v4h-1zM190 8h1v1h-1zM190 10h1v1h-1zM190 30h1v2h-1zM190 33h1v1h-1zM191 0h1v5h-1zM191 12h1v1h-1zM192 2h1v5h-1zM192 9h1v3h-1zM192 15h1v1h-1zM192 18h1v1h-1zM192 23h1v1h-1zM192 29h1v1h-1zM193 38h1v2h-1zM193 46h1v1h-1zM193 48h1v1h-1zM193 50h1v2h-1zM194 23h1v2h-1zM194 31h1v2h-1zM194 39h1v1h-1zM194 50h1v1h-1zM195 50h1v1h-1zM196 5h1v1h-1zM196 8h1v1h-1zM196 15h1v1h-1zM196 22h1v2h-1zM196 29h1v1h-1zM196 50h1v1h-1zM197 1h1v1h-1zM197 4h1v2h-1zM197 7h1v2h-1zM197 39h1v1h-1zM198 6h1v2h-1zM198 9h1v1h-1zM200 2h1v1h-1zM200 8h1v1h-1zM200 21h1v2h-1zM201 2h1v2h-1zM201 10h1v2h-1zM201 15h1v1h-1zM201 19h1v1h-1zM201 26h1v1h-1zM201 29h1v1h-1zM201 46h1v2h-1zM201 50h1v2h-1zM202 0h1v2h-1zM202 5h1v1h-1zM202 18h1v1h-1zM202 47h1v1h-1zM203 0h1v1h-1zM203 2h1v2h-1zM203 5h1v2h-1zM203 11h1v2h-1zM203 14h1v2h-1zM203 18h1v4h-1zM203 41h1v1h-1zM203 43h1v1h-1zM204 6h1v1h-1zM204 9h1v3h-1zM206 21h1v3h-1zM206 38h1v2h-1zM207 37h1v4h-1zM207 43h1v1h-1zM208 17h1v2h-1zM209 18h1v1h-1zM209 25h1v2h-1zM209 33h1v4h-1zM209 38h1v2h-1zM210 24h1v1h-1zM210 26h1v1h-1zM211 46h1v1h-1zM213 6h1v1h-1zM213 12h1v2h-1zM216 0h1v2h-1zM216 24h1v1h-1zM216 26h1v2h-1zM219 30h1v1h-1zM219 33h1v1h-1zM221 0h1v1h-1zM221 2h1v3h-1zM221 12h1v1h-1zM221 22h1v1h-1zM221 46h1v1h-1zM222 14h1v1h-1zM222 41h1v1h-1zM223 0h1v3h-1zM223 15h1v1h-1zM223 19h1v1h-1zM223 46h1v1h-1zM224 2h1v1h-1zM224 9h1v1h-1zM224 12h1v1h-1zM224 30h1v2h-1zM224 34h1v1h-1zM225 0h1v2h-1zM225 3h1v2h-1zM225 6h1v1h-1zM225 12h1v3h-1zM225 27h1v1h-1zM225 31h1v2h-1zM225 34h1v1h-1zM225 36h1v2h-1zM225 39h1v1h-1zM225 41h1v1h-1zM226 6h1v4h-1zM226 11h1v1h-1zM226 43h1v1h-1zM227 11h1v1h-1zM227 14h1v1h-1zM227 23h1v1h-1zM229 18h1v1h-1zM229 21h1v1h-1zM229 37h1v3h-1zM230 19h1v1h-1zM230 29h1v2h-1zM230 32h1v1h-1zM230 47h1v1h-1zM231 1h1v1h-1zM231 6h1v3h-1zM231 34h1v1h-1zM232 1h1v1h-1zM235 5h1v2h-1zM235 11h1v1h-1zM237 43h1v2h-1zM237 50h1v2h-1zM238 15h1v1h-1zM238 18h1v1h-1zM238 22h1v1h-1zM238 39h1v1h-1zM239 3h1v3h-1zM239 8h1v1h-1zM239 14h1v1h-1zM239 23h1v1h-1zM239 51h1v1h-1zM240 5h1v1h-1zM240 11h1v1h-1zM240 14h1v2h-1zM240 17h1v1h-1zM240 29h1v1h-1zM240 31h1v4h-1zM241 12h1v1h-1zM241 14h1v2h-1zM241 28h1v2h-1zM242 45h1v1h-1zM243 3h1v1h-1zM243 11h1v4h-1zM244 4h1v1h-1zM244 14h1v1h-1zM244 19h1v1h-1zM244 22h1v1h-1zM244 25h1v5h-1zM244 35h1v1h-1zM244 40h1v1h-1zM244 42h1v1h-1zM244 48h1v4h-1zM245 27h1v3h-1zM245 48h1v2h-1zM246 0h1v1h-1zM246 15h1v1h-1zM246 23h1v1h-1zM246 36h1v3h-1zM246 40h1v2h-1zM246 46h1v1h-1zM246 50h1v1h-1zM247 7h1v1h-1zM247 19h1v1h-1zM247 22h1v1h-1zM248 1h1v1h-1zM248 8h1v1h-1zM248 10h1v2h-1zM248 24h1v1h-1zM248 29h1v1h-1zM249 7h1v2h-1zM250 3h1v2h-1zM251 13h1v1h-1zM251 21h1v1h-1zM254 1h1v1h-1zM254 3h1v1h-1zM254 26h1v1h-1zM254 29h1v1h-1zM254 38h1v1h-1zM254 43h1v1h-1zM254 49h1v1h-1zM255 8h1v2h-1zM256 0h1v1h-1zM256 40h1v1h-1zM259 6h1v1h-1zM259 25h1v1h-1zM260 1h1v1h-1zM262 0h1v1h-1zM262 11h1v1h-1zM262 13h1v2h-1zM264 10h1v3h-1zM264 14h1v1h-1zM267 32h1v2h-1zM272 6h1v1h-1zM272 11h1v2h-1zM272 20h1v2h-1zM272 34h1v1h-1zM273 3h1v1h-1zM273 9h1v1h-1zM273 15h1v1h-1zM274 3h1v1h-1zM274 13h1v1h-1zM276 2h1v2h-1zM276 5h1v2h-1zM276 10h1v2h-1zM276 26h1v1h-1zM276 28h1v1h-1zM276 34h1v1h-1zM276 37h1v1h-1zM276 39h1v1h-1zM277 3h1v1h-1zM277 5h1v3h-1zM277 13h1v2h-1zM277 42h1v1h-1zM278 13h1v2h-1zM278 18h1v1h-1zM278 22h1v2h-1zM278 32h1v2h-1zM279 4h1v1h-1zM279 6h1v1h-1zM279 36h1v1h-1zM279 42h1v1h-1zM279 51h1v1h-1zM280 11h1v1h-1zM282 7h1v2h-1zM284 24h1v1h-1zM284 34h1v2h-1zM284 49h1v1h-1zM285 1h1v1h-1zM285 5h1v1h-1zM285 11h1v1h-1zM285 14h1v1h-1zM286 3h1v1h-1zM286 15h1v1h-1zM286 25h1v1h-1zM287 4h1v1h-1zM287 7h1v5h-1zM287 48h1v1h-1zM287 50h1v1h-1zM288 50h1v1h-1zM289 15h1v1h-1zM292 20h1v1h-1zM292 28h1v1h-1zM292 30h1v2h-1zM296 3h1v3h-1zM296 8h1v1h-1zM297 12h1v1h-1zM297 17h1v1h-1zM297 25h1v2h-1zM297 41h1v1h-1zM298 15h1v1h-1zM299 18h1v2h-1zM299 30h1v7h-1zM299 40h1v1h-1zM299 48h1v1h-1zM300 12h1v4h-1zM300 35h1v1h-1zM301 0h1v1h-1zM301 7h1v1h-1zM301 33h1v1h-1zM302 0h1v1h-1zM302 3h1v2h-1zM302 26h1v1h-1zM302 36h1v2h-1zM304 38h1v1h-1zM304 41h1v1h-1zM304 50h1v1h-1zM305 39h1v1h-1zM305 48h1v2h-1zM306 2h1v2h-1zM306 17h1v2h-1zM306 20h1v1h-1zM306 23h1v2h-1zM306 35h1v3h-1zM309 18h1v1h-1zM309 27h1v2h-1zM310 21h1v2h-1zM310 25h1v1h-1zM310 51h1v1h-1zM312 1h1v1h-1zM312 7h1v1h-1zM312 17h1v1h-1zM312 34h1v1h-1zM312 39h1v2h-1zM312 42h1v1h-1zM312 46h1v1h-1zM312 51h1v1h-1zM313 8h1v1h-1zM314 1h1v1h-1zM314 7h1v2h-1zM314 10h1v2h-1zM314 17h1v1h-1zM314 22h1v1h-1zM314 28h1v1h-1zM314 40h1v1h-1zM314 47h1v2h-1zM314 51h1v1h-1zM315 47h1v4h-1zM316 27h1v2h-1zM316 30h1v1h-1zM316 33h1v1h-1zM316 45h1v1h-1zM316 49h1v1h-1zM318 32h1v1h-1zM321 23h1v1h-1zM322 11h1v1h-1zM322 22h1v2h-1zM322 26h1v1h-1zM322 32h1v1h-1zM322 35h1v1h-1zM322 39h1v1h-1zM322 42h1v2h-1zM325 6h1v1h-1zM326 2h1v2h-1zM326 7h1v4h-1zM326 32h1v1h-1zM326 34h1v1h-1zM326 38h1v1h-1zM326 41h1v2h-1zM326 44h1v1h-1zM327 21h1v1h-1zM327 28h1v1h-1zM328 37h1v2h-1zM328 40h1v1h-1zM329 14h1v1h-1zM329 26h1v2h-1zM329 31h1v1h-1zM329 33h1v1h-1zM329 36h1v1h-1zM329 48h1v2h-1zM330 0h1v1h-1zM330 11h1v1h-1zM330 23h1v2h-1zM331 8h1v1h-1zM331 17h1v1h-1zM331 19h1v3h-1zM332 19h1v1h-1zM332 22h1v5h-1zM333 0h1v2h-1zM333 5h1v2h-1zM333 12h1v1h-1zM333 15h1v1h-1zM333 26h1v1h-1zM333 39h1v1h-1zM334 13h1v3h-1zM334 44h1v2h-1zM334 47h1v1h-1zM334 49h1v1h-1zM335 4h1v1h-1zM335 21h1v1h-1zM335 36h1v1h-1zM335 44h1v1h-1zM335 46h1v1h-1zM336 6h1v1h-1zM336 12h1v1h-1zM336 20h1v1h-1zM336 23h1v1h-1zM336 26h1v1h-1zM336 28h1v1h-1zM336 30h1v4h-1zM336 36h1v2h-1zM337 5h1v1h-1zM337 35h1v3h-1zM338 24h1v1h-1zM338 28h1v2h-1zM338 31h1v3h-1zM339 1h1v2h-1zM339 30h1v1h-1zM339 32h1v2h-1zM340 2h1v2h-1zM340 9h1v1h-1zM340 14h1v2h-1zM340 28h1v1h-1zM340 31h1v2h-1zM340 49h1v1h-1zM340 51h1v1h-1zM341 0h1v1h-1zM341 2h1v1h-1zM341 10h1v1h-1zM341 36h1v2h-1zM343 29h1v4h-1zM344 30h1v1h-1zM344 47h1v2h-1zM345 15h1v1h-1zM346 10h1v1h-1zM346 13h1v2h-1zM353 14h1v1h-1zM353 17h1v2h-1zM354 19h1v1h-1zM354 34h1v2h-1zM354 41h1v2h-1zM354 44h1v1h-1zM354 47h1v1h-1zM355 21h1v1h-1zM355 42h1v1h-1zM356 15h1v1h-1zM357 0h1v1h-1zM357 3h1v1h-1zM357 7h1v1h-1zM357 11h1v2h-1zM357 15h1v1h-1zM357 17h1v1h-1zM357 22h1v1h-1zM357 27h1v1h-1zM357 29h1v1h-1zM358 3h1v1h-1zM358 18h1v3h-1zM358 24h1v1h-1zM358 28h1v1h-1zM358 41h1v1h-1zM359 21h1v1h-1zM359 23h1v1h-1zM359 28h1v2h-1zM359 32h1v1h-1zM360 27h1v1h-1zM360 29h1v1h-1zM360 39h1v2h-1zM361 33h1v3h-1zM361 39h1v1h-1zM361 45h1v2h-1zM362 4h1v1h-1zM362 7h1v1h-1zM362 24h1v1h-1zM362 26h1v2h-1zM362 42h1v1h-1zM362 44h1v1h-1zM363 39h1v2h-1z"/>
<path fill="#9ED500" d="M187 21h1v1h-1zM187 29h1v1h-1zM187 33h1v1h-1zM190 1h1v1h-1zM190 35h1v1h-1zM193 45h1v1h-1zM194 33h1v1h-1zM195 10h1v1h-1zM195 41h1v1h-1zM196 0h1v1h-1zM196 9h1v1h-1zM196 32h1v1h-1zM197 9h1v1h-1zM198 10h1v1h-1zM198 35h1v1h-1zM198 49h1v1h-1zM200 5h1v1h-1zM200 20h1v1h-1zM200 27h1v2h-1zM201 7h1v2h-1zM201 18h1v1h-1zM201 20h1v1h-1zM201 41h1v1h-1zM202 6h1v1h-1zM204 18h1v2h-1zM206 43h1v1h-1zM207 42h1v1h-1zM212 10h1v1h-1zM214 5h1v1h-1zM217 10h1v1h-1zM221 7h1v1h-1zM221 15h1v1h-1zM221 37h1v1h-1zM221 40h1v1h-1zM223 3h1v1h-1zM224 11h1v1h-1zM225 7h1v1h-1zM225 9h1v1h-1zM225 28h1v1h-1zM225 33h1v1h-1zM226 13h1v1h-1zM226 24h1v1h-1zM227 17h1v1h-1zM227 22h1v1h-1zM229 22h1v1h-1zM230 0h1v1h-1zM230 6h1v1h-1zM230 44h1v1h-1zM231 11h1v1h-1zM236 38h1v1h-1zM238 4h1v1h-1zM238 42h1v2h-1zM239 46h1v1h-1zM240 24h1v1h-1zM240 38h1v2h-1zM241 45h1v1h-1zM243 1h1v1h-1zM244 3h1v1h-1zM244 7h1v1h-1zM244 9h1v1h-1zM245 43h1v1h-1zM246 43h1v1h-1zM247 26h1v1h-1zM247 49h1v1h-1zM250 7h1v1h-1zM251 12h1v1h-1zM254 25h1v1h-1zM254 37h1v1h-1zM256 6h1v1h-1zM259 27h1v1h-1zM261 1h1v1h-1zM262 2h1v1h-1zM266 17h1v1h-1zM273 32h1v1h-1zM276 9h1v1h-1zM279 38h1v1h-1zM279 41h1v1h-1zM280 18h1v1h-1zM281 11h1v1h-1zM284 51h1v1h-1zM286 0h1v1h-1zM286 20h1v1h-1zM291 17h1v1h-1zM292 26h1v1h-1zM293 35h1v1h-1zM296 6h1v1h-1zM297 38h1v1h-1zM298 13h1v1h-1zM301 4h1v1h-1zM301 18h1v1h-1zM302 8h1v1h-1zM302 18h1v1h-1zM302 24h1v1h-1zM303 33h1v1h-1zM306 0h1v2h-1zM306 6h1v1h-1zM306 42h1v1h-1zM311 15h1v1h-1zM312 29h1v1h-1zM312 35h1v1h-1zM313 36h1v1h-1zM313 39h1v1h-1zM314 45h1v1h-1zM315 21h1v1h-1zM321 20h1v1h-1zM322 8h1v1h-1zM322 10h1v1h-1zM322 41h1v1h-1zM322 44h1v1h-1zM323 20h1v1h-1zM326 51h1v1h-1zM327 26h1v1h-1zM329 32h1v1h-1zM331 5h1v1h-1zM334 30h1v1h-1zM335 49h1v1h-1zM336 1h1v2h-1zM336 5h1v1h-1zM336 24h1v1h-1zM336 38h1v1h-1zM337 4h1v1h-1zM337 10h1v1h-1zM337 34h1v1h-1zM338 17h1v1h-1zM339 45h1v1h-1zM340 22h1v1h-1zM340 50h1v1h-1zM341 26h1v1h-1zM346 4h1v1h-1zM346 42h1v1h-1zM347 51h1v1h-1zM348 6h1v1h-1zM350 38h1v1h-1zM354 46h1v1h-1zM356 45h1v1h-1zM357 14h1v1h-1zM357 24h1v1h-1zM358 33h1v1h-1zM358 40h1v1h-1zM359 31h1v1h-1zM361 42h1v1h-1zM362 23h1v1h-1zM362 25h1v1h-1zM362 34h1v1h-1zM362 46h1v1h-1zM363 38h1v1h-1z"/>
<path fill="#1AAF00" d="M187 23h1v1h-1zM193 14h1v2h-1zM193 17h1v2h-1zM193 20h1v3h-1zM193 43h1v1h-1zM195 3h1v1h-1zM200 33h1v1h-1zM202 27h1v1h-1zM202 34h1v6h-1zM202 44h1v2h-1zM217 9h1v1h-1zM217 13h1v1h-1zM222 1h1v9h-1zM222 34h1v1h-1zM225 17h1v2h-1zM225 20h1v1h-1zM225 24h1v2h-1zM229 42h1v1h-1zM239 25h1v2h-1zM239 28h1v3h-1zM241 1h1v1h-1zM241 4h1v1h-1zM241 6h1v1h-1zM241 46h1v2h-1zM242 15h1v1h-1zM244 0h1v2h-1zM245 20h1v3h-1zM260 9h1v3h-1zM262 4h1v2h-1zM273 13h1v1h-1zM279 0h1v2h-1zM284 1h1v2h-1zM284 8h1v3h-1zM284 12h1v1h-1zM284 14h1v2h-1zM291 8h1v1h-1zM297 37h1v1h-1zM301 5h1v1h-1zM306 45h1v2h-1zM325 28h1v2h-1zM337 28h1v2h-1zM340 25h1v2h-1zM341 4h1v1h-1zM341 8h1v1h-1zM341 34h1v1h-1zM344 40h1v1h-1zM347 38h1v1h-1zM347 41h1v2h-1zM347 44h1v1h-1zM349 0h1v3h-1zM354 31h1v1h-1zM356 3h1v2h-1zM356 6h1v1h-1zM356 8h1v1h-1zM356 12h1v1h-1zM356 48h1v1h-1z"/>
<path fill="#DBE300" d="M187 24h1v1h-1zM187 27h1v1h-1zM187 35h1v2h-1zM187 49h1v3h-1zM189 1h1v1h-1zM189 10h1v1h-1zM195 0h1v1h-1zM195 15h1v1h-1zM195 17h1v1h-1zM195 23h1v1h-1zM195 39h1v1h-1zM196 19h1v1h-1zM196 21h1v1h-1zM196 39h1v1h-1zM196 46h1v2h-1zM196 49h1v1h-1zM198 47h1v1h-1zM199 1h1v5h-1zM199 7h1v1h-1zM199 14h1v1h-1zM199 21h1v1h-1zM199 26h1v4h-1zM199 31h1v1h-1zM199 49h1v3h-1zM203 23h1v3h-1zM203 27h1v2h-1zM203 47h1v2h-1zM207 0h1v1h-1zM207 6h1v1h-1zM207 8h1v1h-1zM207 10h1v4h-1zM207 15h1v1h-1zM207 17h1v2h-1zM207 20h1v4h-1zM207 31h1v3h-1zM207 36h1v1h-1zM207 48h1v1h-1zM208 9h1v4h-1zM208 14h1v2h-1zM208 41h1v3h-1zM208 51h1v1h-1zM209 1h1v1h-1zM209 4h1v2h-1zM209 14h1v1h-1zM210 2h1v4h-1zM210 7h1v1h-1zM210 14h1v1h-1zM210 20h1v1h-1zM210 32h1v2h-1zM210 39h1v4h-1zM216 4h1v2h-1zM216 9h1v2h-1zM216 38h1v2h-1zM220 13h1v1h-1zM222 28h1v1h-1zM222 30h1v2h-1zM222 47h1v1h-1zM225 29h1v2h-1zM228 15h1v1h-1zM230 24h1v3h-1zM230 46h1v1h-1zM231 29h1v1h-1zM231 35h1v3h-1zM231 39h1v4h-1zM231 45h1v1h-1zM232 8h1v3h-1zM232 17h1v1h-1zM234 0h1v5h-1zM234 6h1v2h-1zM236 0h1v2h-1zM236 3h1v1h-1zM236 10h1v2h-1zM236 17h1v1h-1zM236 25h1v1h-1zM236 27h1v3h-1zM237 11h1v1h-1zM237 20h1v1h-1zM237 22h1v3h-1zM237 30h1v1h-1zM238 48h1v1h-1zM240 22h1v1h-1zM241 18h1v2h-1zM241 22h1v1h-1zM241 34h1v6h-1zM242 0h1v1h-1zM242 4h1v1h-1zM242 6h1v1h-1zM242 12h1v1h-1zM242 19h1v4h-1zM242 31h1v8h-1zM242 40h1v1h-1zM242 42h1v1h-1zM242 51h1v1h-1zM243 27h1v4h-1zM243 44h1v1h-1zM243 47h1v1h-1zM243 49h1v2h-1zM245 0h1v1h-1zM245 6h1v2h-1zM245 11h1v5h-1zM245 31h1v1h-1zM245 33h1v2h-1zM248 20h1v2h-1zM248 49h1v1h-1zM248 51h1v1h-1zM249 0h1v2h-1zM249 15h1v1h-1zM249 19h1v1h-1zM249 28h1v1h-1zM249 35h1v1h-1zM249 42h1v2h-1zM249 46h1v3h-1zM249 50h1v1h-1zM250 11h1v4h-1zM250 17h1v1h-1zM250 19h1v4h-1zM250 24h1v3h-1zM250 30h1v3h-1zM250 34h1v1h-1zM250 36h1v4h-1zM250 42h1v1h-1zM250 49h1v1h-1zM251 3h1v4h-1zM251 34h1v1h-1zM251 36h1v1h-1zM251 40h1v2h-1zM251 44h1v2h-1zM251 49h1v2h-1zM252 13h1v2h-1zM253 3h1v2h-1zM253 6h1v1h-1zM253 19h1v3h-1zM253 30h1v2h-1zM253 48h1v2h-1zM254 6h1v2h-1zM254 9h1v5h-1zM254 31h1v3h-1zM254 50h1v2h-1zM255 0h1v2h-1zM255 3h1v3h-1zM255 17h1v5h-1zM255 24h1v1h-1zM255 26h1v1h-1zM255 28h1v1h-1zM255 32h1v2h-1zM255 35h1v1h-1zM255 41h1v1h-1zM256 18h1v1h-1zM256 42h1v5h-1zM256 51h1v1h-1zM257 34h1v2h-1zM257 39h1v7h-1zM257 47h1v1h-1zM257 50h1v2h-1zM259 1h1v2h-1zM259 5h1v1h-1zM259 7h1v1h-1zM259 9h1v3h-1zM259 17h1v1h-1zM259 29h1v1h-1zM259 36h1v4h-1zM259 42h1v2h-1zM259 47h1v1h-1zM259 50h1v1h-1zM264 1h1v5h-1zM264 7h1v3h-1zM264 23h1v2h-1zM264 26h1v2h-1zM264 34h1v3h-1zM264 44h1v2h-1zM264 47h1v4h-1zM265 18h1v1h-1zM265 20h1v1h-1zM265 25h1v1h-1zM265 27h1v2h-1zM265 31h1v1h-1zM266 25h1v1h-1zM266 29h1v2h-1zM270 1h1v4h-1zM270 32h1v2h-1zM271 1h1v1h-1zM271 5h1v1h-1zM271 9h1v3h-1zM271 13h1v2h-1zM271 19h1v1h-1zM271 22h1v1h-1zM271 34h1v1h-1zM271 39h1v1h-1zM271 49h1v1h-1zM271 51h1v1h-1zM272 17h1v3h-1zM272 28h1v2h-1zM272 38h1v2h-1zM272 43h1v1h-1zM272 50h1v2h-1zM273 31h1v1h-1zM273 33h1v1h-1zM273 49h1v3h-1zM274 18h1v1h-1zM277 39h1v2h-1zM279 17h1v1h-1zM279 27h1v3h-1zM279 31h1v1h-1zM281 48h1v1h-1zM281 50h1v1h-1zM282 4h1v3h-1zM282 22h1v1h-1zM282 36h1v1h-1zM282 44h1v2h-1zM282 48h1v1h-1zM283 29h1v2h-1zM284 17h1v1h-1zM284 27h1v2h-1zM284 30h1v1h-1zM284 38h1v2h-1zM285 7h1v2h-1zM285 21h1v3h-1zM285 25h1v2h-1zM287 21h1v1h-1zM287 23h1v2h-1zM287 26h1v2h-1zM287 43h1v3h-1zM288 17h1v1h-1zM288 27h1v1h-1zM288 29h1v1h-1zM288 36h1v3h-1zM288 41h1v1h-1zM288 43h1v2h-1zM289 20h1v2h-1zM289 24h1v1h-1zM291 18h1v1h-1zM291 50h1v2h-1zM292 1h1v1h-1zM292 7h1v2h-1zM292 10h1v1h-1zM292 12h1v1h-1zM292 14h1v2h-1zM292 17h1v1h-1zM292 19h1v1h-1zM292 22h1v2h-1zM292 34h1v1h-1zM292 40h1v3h-1zM292 46h1v1h-1zM292 49h1v1h-1zM295 4h1v1h-1zM295 7h1v2h-1zM297 8h1v4h-1zM297 13h1v2h-1zM297 18h1v2h-1zM297 21h1v1h-1zM297 29h1v1h-1zM297 32h1v1h-1zM297 43h1v1h-1zM297 45h1v2h-1zM297 48h1v1h-1zM297 50h1v1h-1zM298 11h1v2h-1zM298 22h1v1h-1zM298 25h1v1h-1zM298 27h1v10h-1zM298 41h1v2h-1zM298 46h1v3h-1zM298 50h1v1h-1zM301 9h1v7h-1zM301 17h1v1h-1zM301 22h1v3h-1zM302 31h1v2h-1zM302 42h1v5h-1zM302 50h1v1h-1zM306 29h1v1h-1zM306 49h1v1h-1zM306 51h1v1h-1zM308 2h1v2h-1zM308 7h1v4h-1zM308 21h1v5h-1zM308 44h1v1h-1zM310 0h1v1h-1zM310 2h1v3h-1zM310 18h1v1h-1zM310 29h1v1h-1zM310 45h1v4h-1zM311 5h1v2h-1zM311 8h1v3h-1zM311 12h1v1h-1zM311 34h1v1h-1zM314 19h1v2h-1zM314 38h1v2h-1zM318 18h1v2h-1zM318 21h1v2h-1zM318 24h1v1h-1zM319 9h1v1h-1zM321 2h1v1h-1zM322 29h1v3h-1zM324 0h1v3h-1zM324 5h1v2h-1zM324 13h1v1h-1zM324 15h1v1h-1zM324 21h1v1h-1zM324 23h1v1h-1zM324 25h1v1h-1zM324 30h1v1h-1zM324 37h1v3h-1zM324 41h1v8h-1zM325 30h1v4h-1zM327 15h1v1h-1zM327 17h1v1h-1zM327 22h1v1h-1zM327 37h1v1h-1zM327 50h1v2h-1zM328 17h1v1h-1zM330 5h1v1h-1zM330 7h1v2h-1zM330 10h1v1h-1zM330 14h1v2h-1zM330 17h1v2h-1zM330 32h1v5h-1zM330 39h1v4h-1zM330 44h1v3h-1zM331 9h1v3h-1zM331 24h1v1h-1zM331 26h1v4h-1zM331 32h1v3h-1zM331 36h1v1h-1zM331 38h1v1h-1zM331 40h1v1h-1zM331 45h1v1h-1zM332 1h1v1h-1zM332 4h1v2h-1zM332 8h1v2h-1zM332 29h1v1h-1zM332 42h1v1h-1zM333 17h1v1h-1zM333 20h1v2h-1zM333 28h1v3h-1zM333 33h1v5h-1zM333 40h1v5h-1zM333 50h1v1h-1zM335 7h1v2h-1zM335 11h1v2h-1zM335 14h1v2h-1zM335 17h1v2h-1zM335 29h1v1h-1zM335 31h1v1h-1zM335 33h1v1h-1zM335 35h1v1h-1zM338 1h1v2h-1zM338 4h1v1h-1zM338 10h1v1h-1zM338 14h1v2h-1zM338 20h1v3h-1zM338 26h1v2h-1zM338 35h1v2h-1zM338 38h1v2h-1zM338 46h1v1h-1zM338 50h1v1h-1zM341 15h1v1h-1zM341 17h1v4h-1zM341 44h1v3h-1zM341 51h1v1h-1zM345 1h1v3h-1zM345 8h1v3h-1zM345 21h1v1h-1zM345 24h1v2h-1zM345 27h1v3h-1zM345 33h1v1h-1zM345 40h1v3h-1zM345 44h1v1h-1zM345 46h1v3h-1zM347 10h1v4h-1zM347 15h1v1h-1zM348 0h1v3h-1zM348 4h1v2h-1zM348 10h1v1h-1zM348 13h1v1h-1zM348 15h1v1h-1zM353 29h1v4h-1zM353 34h1v1h-1zM356 19h1v1h-1zM356 25h1v3h-1zM356 30h1v2h-1zM357 20h1v1h-1zM357 31h1v2h-1zM357 34h1v2h-1zM357 37h1v1h-1zM357 39h1v1h-1zM359 3h1v2h-1zM359 9h1v1h-1zM359 11h1v5h-1zM359 17h1v1h-1zM359 34h1v1h-1zM359 37h1v3h-1zM359 41h1v1h-1zM359 46h1v5h-1zM360 0h1v2h-1zM360 22h1v2h-1zM360 25h1v2h-1zM360 34h1v4h-1zM364 9h1v3h-1zM364 21h1v1h-1zM364 25h1v1h-1zM364 28h1v3h-1zM364 32h1v1h-1zM364 37h1v1h-1z"/>
<path fill="#B1DA00" d="M187 30h1v1h-1zM194 28h1v1h-1zM197 40h1v1h-1zM200 24h1v1h-1zM201 25h1v1h-1zM202 25h1v1h-1zM204 15h1v1h-1zM207 27h1v1h-1zM207 29h1v1h-1zM209 28h1v1h-1zM209 40h1v1h-1zM210 10h1v1h-1zM210 48h1v1h-1zM213 4h1v1h-1zM216 11h1v1h-1zM221 17h1v1h-1zM222 23h1v4h-1zM222 32h1v1h-1zM222 40h1v1h-1zM222 49h1v3h-1zM223 48h1v1h-1zM224 33h1v1h-1zM225 11h1v1h-1zM226 44h1v1h-1zM227 25h1v1h-1zM230 9h1v1h-1zM233 1h1v1h-1zM236 5h1v2h-1zM236 13h1v3h-1zM236 20h1v4h-1zM240 10h1v1h-1zM241 0h1v1h-1zM241 5h1v1h-1zM242 10h1v1h-1zM242 14h1v1h-1zM242 23h1v4h-1zM243 8h1v1h-1zM244 2h1v1h-1zM244 17h1v1h-1zM245 51h1v1h-1zM248 2h1v1h-1zM249 21h1v3h-1zM249 45h1v1h-1zM250 8h1v2h-1zM250 44h1v3h-1zM255 11h1v1h-1zM256 1h1v1h-1zM259 0h1v1h-1zM259 20h1v1h-1zM260 14h1v1h-1zM262 6h1v1h-1zM262 9h1v1h-1zM262 22h1v1h-1zM263 19h1v1h-1zM264 28h1v1h-1zM264 31h1v1h-1zM264 39h1v1h-1zM273 4h1v1h-1zM273 21h1v1h-1zM277 45h1v1h-1zM282 9h1v1h-1zM282 13h1v1h-1zM287 6h1v1h-1zM291 4h1v1h-1zM291 7h1v1h-1zM295 11h1v1h-1zM295 13h1v1h-1zM299 20h1v1h-1zM299 37h1v1h-1zM299 49h1v1h-1zM302 20h1v1h-1zM303 35h1v1h-1zM303 50h1v1h-1zM306 41h1v1h-1zM306 47h1v1h-1zM310 24h1v1h-1zM312 3h1v1h-1zM312 8h1v1h-1zM316 5h1v1h-1zM316 34h1v1h-1zM316 44h1v1h-1zM318 33h1v1h-1zM324 27h1v1h-1zM327 32h1v1h-1zM327 43h1v4h-1zM327 48h1v1h-1zM329 12h1v1h-1zM329 42h1v1h-1zM333 13h1v1h-1zM333 45h1v3h-1zM335 6h1v1h-1zM335 23h1v1h-1zM338 8h1v1h-1zM338 12h1v1h-1zM341 3h1v1h-1zM341 29h1v2h-1zM341 32h1v2h-1zM341 39h1v1h-1zM345 11h1v1h-1zM345 31h1v1h-1zM353 6h1v1h-1zM354 22h1v1h-1zM358 10h1v1h-1zM362 2h1v1h-1z"/>
<path fill="#E8C629" d="M188 1h1v1h-1zM188 3h1v2h-1zM188 17h1v2h-1zM188 20h1v1h-1zM188 22h1v2h-1zM188 28h1v2h-1zM188 31h1v1h-1zM188 36h1v1h-1zM188 40h1v3h-1zM188 46h1v1h-1zM188 48h1v4h-1zM189 23h1v6h-1zM189 32h1v1h-1zM189 37h1v2h-1zM189 40h1v1h-1zM190 2h1v1h-1zM190 18h1v3h-1zM190 22h1v1h-1zM190 25h1v3h-1zM190 29h1v1h-1zM190 32h1v1h-1zM190 44h1v1h-1zM190 51h1v1h-1zM191 6h1v1h-1zM191 19h1v2h-1zM191 25h1v3h-1zM191 31h1v4h-1zM191 38h1v1h-1zM191 40h1v1h-1zM191 43h1v1h-1zM191 46h1v1h-1zM191 48h1v4h-1zM192 33h1v3h-1zM192 42h1v1h-1zM193 0h1v4h-1zM193 5h1v1h-1zM193 8h1v2h-1zM193 12h1v1h-1zM193 28h1v4h-1zM193 33h1v1h-1zM194 0h1v1h-1zM194 17h1v2h-1zM197 29h1v1h-1zM197 41h1v2h-1zM198 27h1v2h-1zM198 32h1v2h-1zM198 41h1v2h-1zM199 10h1v1h-1zM199 34h1v7h-1zM200 7h1v1h-1zM200 37h1v1h-1zM201 4h1v1h-1zM201 35h1v3h-1zM202 19h1v1h-1zM202 51h1v1h-1zM203 31h1v2h-1zM204 29h1v1h-1zM204 39h1v1h-1zM204 49h1v1h-1zM205 1h1v1h-1zM205 23h1v2h-1zM205 27h1v1h-1zM205 30h1v2h-1zM205 33h1v1h-1zM205 42h1v3h-1zM206 5h1v6h-1zM206 12h1v4h-1zM206 19h1v1h-1zM206 25h1v1h-1zM208 0h1v3h-1zM208 26h1v1h-1zM208 28h1v6h-1zM211 1h1v2h-1zM211 19h1v1h-1zM211 24h1v1h-1zM211 41h1v1h-1zM212 0h1v3h-1zM212 5h1v1h-1zM212 7h1v1h-1zM212 9h1v1h-1zM212 15h1v1h-1zM212 21h1v2h-1zM212 25h1v1h-1zM212 29h1v1h-1zM212 31h1v3h-1zM212 38h1v2h-1zM212 41h1v1h-1zM212 43h1v2h-1zM213 23h1v2h-1zM213 28h1v1h-1zM213 31h1v1h-1zM213 33h1v1h-1zM213 39h1v1h-1zM213 41h1v2h-1zM213 48h1v3h-1zM214 21h1v1h-1zM214 30h1v3h-1zM214 34h1v2h-1zM214 37h1v1h-1zM215 0h1v2h-1zM215 5h1v1h-1zM215 7h1v1h-1zM215 37h1v6h-1zM215 45h1v1h-1zM216 15h1v1h-1zM216 33h1v1h-1zM217 0h1v2h-1zM217 3h1v4h-1zM217 19h1v1h-1zM217 23h1v2h-1zM217 26h1v1h-1zM217 29h1v2h-1zM217 41h1v2h-1zM217 49h1v2h-1zM219 3h1v3h-1zM219 11h1v3h-1zM219 19h1v1h-1zM219 21h1v1h-1zM219 23h1v3h-1zM219 40h1v1h-1zM220 17h1v2h-1zM220 26h1v2h-1zM220 29h1v2h-1zM220 47h1v1h-1zM223 9h1v1h-1zM224 35h1v3h-1zM224 51h1v1h-1zM225 48h1v1h-1zM226 0h1v1h-1zM226 40h1v1h-1zM227 9h1v2h-1zM227 38h1v1h-1zM228 17h1v1h-1zM228 24h1v1h-1zM228 42h1v2h-1zM228 49h1v1h-1zM229 3h1v1h-1zM229 6h1v2h-1zM229 10h1v2h-1zM229 30h1v7h-1zM229 47h1v1h-1zM231 19h1v2h-1zM232 44h1v2h-1zM232 47h1v1h-1zM232 49h1v1h-1zM233 0h1v1h-1zM233 2h1v2h-1zM233 5h1v4h-1zM233 10h1v1h-1zM233 13h1v2h-1zM233 21h1v4h-1zM233 38h1v1h-1zM234 18h1v3h-1zM234 22h1v1h-1zM234 24h1v1h-1zM234 29h1v2h-1zM234 33h1v1h-1zM234 43h1v1h-1zM234 51h1v1h-1zM235 20h1v2h-1zM235 25h1v3h-1zM235 38h1v1h-1zM235 43h1v1h-1zM235 49h1v3h-1zM236 32h1v3h-1zM236 40h1v3h-1zM237 6h1v2h-1zM238 5h1v1h-1zM238 7h1v2h-1zM243 36h1v3h-1zM246 5h1v2h-1zM246 8h1v1h-1zM246 12h1v1h-1zM246 27h1v8h-1zM247 25h1v1h-1zM247 48h1v1h-1zM248 37h1v1h-1zM251 17h1v1h-1zM251 27h1v3h-1zM252 2h1v3h-1zM252 18h1v1h-1zM252 21h1v4h-1zM252 26h1v1h-1zM252 28h1v2h-1zM252 33h1v1h-1zM252 37h1v1h-1zM252 43h1v1h-1zM253 34h1v1h-1zM254 20h1v1h-1zM255 49h1v3h-1zM256 34h1v1h-1zM257 0h1v2h-1zM257 5h1v1h-1zM257 7h1v1h-1zM257 11h1v2h-1zM257 14h1v2h-1zM257 17h1v1h-1zM257 21h1v6h-1zM257 30h1v3h-1zM258 7h1v3h-1zM258 17h1v1h-1zM258 24h1v11h-1zM258 37h1v1h-1zM258 39h1v4h-1zM258 44h1v2h-1zM260 4h1v1h-1zM260 6h1v1h-1zM260 19h1v2h-1zM260 25h1v1h-1zM261 20h1v2h-1zM261 23h1v2h-1zM261 33h1v2h-1zM261 36h1v2h-1zM261 40h1v1h-1zM261 50h1v1h-1zM262 26h1v3h-1zM262 30h1v2h-1zM262 33h1v5h-1zM262 40h1v1h-1zM263 2h1v1h-1zM263 5h1v2h-1zM263 9h1v1h-1zM263 11h1v1h-1zM263 20h1v2h-1zM263 25h1v1h-1zM263 29h1v6h-1zM263 43h1v1h-1zM263 45h1v2h-1zM265 9h1v5h-1zM265 51h1v1h-1zM266 37h1v1h-1zM266 47h1v2h-1zM266 50h1v2h-1zM268 42h1v3h-1zM268 46h1v3h-1zM269 6h1v3h-1zM269 13h1v1h-1zM269 29h1v1h-1zM270 37h1v2h-1zM270 40h1v3h-1zM272 2h1v2h-1zM272 45h1v3h-1zM274 24h1v1h-1zM274 28h1v1h-1zM274 39h1v2h-1zM274 42h1v4h-1zM274 50h1v2h-1zM275 9h1v4h-1zM275 17h1v4h-1zM275 29h1v1h-1zM275 31h1v1h-1zM275 33h1v3h-1zM275 40h1v3h-1zM275 44h1v1h-1zM276 14h1v2h-1zM276 17h1v1h-1zM276 43h1v1h-1zM276 46h1v1h-1zM277 9h1v1h-1zM277 18h1v1h-1zM277 22h1v1h-1zM277 24h1v1h-1zM277 26h1v2h-1zM277 31h1v5h-1zM278 0h1v1h-1zM278 5h1v1h-1zM279 35h1v1h-1zM279 49h1v1h-1zM280 24h1v1h-1zM280 31h1v4h-1zM281 3h1v1h-1zM281 24h1v2h-1zM281 37h1v2h-1zM281 41h1v2h-1zM283 3h1v3h-1zM283 8h1v1h-1zM283 17h1v4h-1zM285 34h1v2h-1zM285 38h1v3h-1zM285 46h1v2h-1zM285 50h1v2h-1zM286 9h1v3h-1zM286 18h1v1h-1zM288 22h1v1h-1zM289 8h1v2h-1zM289 13h1v1h-1zM289 32h1v1h-1zM289 46h1v2h-1zM289 50h1v2h-1zM290 0h1v2h-1zM290 4h1v1h-1zM290 6h1v1h-1zM290 24h1v1h-1zM290 51h1v1h-1zM291 23h1v2h-1zM291 34h1v4h-1zM291 41h1v1h-1zM291 46h1v1h-1zM293 10h1v1h-1zM293 37h1v1h-1zM293 41h1v2h-1zM294 2h1v1h-1zM294 5h1v1h-1zM294 9h1v6h-1zM294 17h1v1h-1zM294 24h1v5h-1zM294 46h1v1h-1zM295 18h1v1h-1zM295 20h1v1h-1zM295 24h1v1h-1zM295 29h1v2h-1zM295 33h1v3h-1zM295 39h1v1h-1zM295 47h1v2h-1zM296 11h1v1h-1zM296 14h1v1h-1zM296 18h1v2h-1zM296 23h1v2h-1zM296 26h1v2h-1zM296 31h1v1h-1zM296 33h1v3h-1zM296 44h1v5h-1zM298 2h1v2h-1zM299 3h1v1h-1zM299 21h1v2h-1zM299 41h1v1h-1zM299 43h1v3h-1zM300 21h1v1h-1zM300 24h1v1h-1zM300 36h1v1h-1zM300 39h1v5h-1zM300 46h1v1h-1zM300 48h1v1h-1zM300 50h1v2h-1zM303 0h1v3h-1zM303 5h1v3h-1zM303 10h1v2h-1zM303 13h1v1h-1zM303 17h1v3h-1zM303 23h1v2h-1zM303 27h1v2h-1zM304 26h1v1h-1zM304 29h1v1h-1zM304 31h1v1h-1zM305 22h1v1h-1zM305 24h1v1h-1zM305 26h1v1h-1zM305 38h1v1h-1zM307 1h1v1h-1zM307 6h1v2h-1zM307 13h1v2h-1zM307 19h1v1h-1zM307 21h1v2h-1zM307 26h1v1h-1zM307 29h1v3h-1zM307 34h1v2h-1zM307 38h1v2h-1zM307 47h1v2h-1zM308 38h1v2h-1zM309 2h1v1h-1zM309 23h1v1h-1zM309 34h1v3h-1zM309 38h1v1h-1zM309 40h1v1h-1zM310 8h1v1h-1zM310 38h1v4h-1zM311 21h1v2h-1zM311 43h1v2h-1zM312 13h1v1h-1zM312 15h1v1h-1zM313 0h1v1h-1zM313 2h1v1h-1zM313 4h1v3h-1zM313 11h1v1h-1zM313 17h1v3h-1zM313 21h1v1h-1zM313 24h1v1h-1zM313 29h1v2h-1zM313 44h1v7h-1zM315 44h1v1h-1zM316 10h1v1h-1zM316 47h1v1h-1zM317 4h1v1h-1zM317 9h1v1h-1zM317 12h1v1h-1zM317 14h1v2h-1zM317 18h1v1h-1zM318 28h1v1h-1zM319 3h1v2h-1zM319 18h1v1h-1zM319 23h1v6h-1zM319 34h1v4h-1zM319 41h1v1h-1zM320 0h1v1h-1zM320 3h1v2h-1zM320 6h1v2h-1zM320 9h1v1h-1zM320 17h1v2h-1zM320 29h1v2h-1zM320 33h1v1h-1zM320 37h1v1h-1zM320 39h1v2h-1zM320 43h1v3h-1zM320 48h1v2h-1zM320 51h1v1h-1zM321 8h1v2h-1zM321 14h1v2h-1zM321 24h1v1h-1zM321 26h1v1h-1zM321 49h1v1h-1zM323 8h1v1h-1zM323 28h1v1h-1zM323 38h1v1h-1zM323 42h1v2h-1zM323 45h1v1h-1zM323 50h1v1h-1zM325 1h1v2h-1zM325 8h1v2h-1zM325 11h1v2h-1zM325 17h1v1h-1zM325 47h1v1h-1zM325 50h1v2h-1zM326 18h1v1h-1zM328 4h1v1h-1zM328 8h1v1h-1zM328 19h1v2h-1zM328 23h1v1h-1zM328 27h1v1h-1zM328 50h1v1h-1zM329 2h1v2h-1zM329 6h1v3h-1zM329 10h1v1h-1zM329 17h1v1h-1zM329 19h1v1h-1zM329 51h1v1h-1zM330 49h1v2h-1zM332 34h1v2h-1zM334 7h1v5h-1zM334 40h1v2h-1zM336 15h1v1h-1zM336 40h1v2h-1zM336 44h1v3h-1zM336 48h1v1h-1zM336 50h1v2h-1zM337 12h1v3h-1zM337 17h1v1h-1zM337 19h1v4h-1zM337 38h1v1h-1zM337 40h1v1h-1zM337 43h1v3h-1zM337 47h1v1h-1zM337 51h1v1h-1zM339 4h1v2h-1zM339 7h1v1h-1zM339 11h1v1h-1zM339 14h1v2h-1zM339 17h1v1h-1zM339 19h1v2h-1zM339 24h1v2h-1zM339 39h1v1h-1zM339 49h1v1h-1zM340 12h1v1h-1zM340 47h1v1h-1zM342 39h1v1h-1zM342 42h1v1h-1zM344 0h1v1h-1zM344 2h1v3h-1zM344 6h1v2h-1zM344 10h1v1h-1zM344 15h1v1h-1zM344 17h1v4h-1zM344 26h1v4h-1zM344 37h1v2h-1zM346 11h1v1h-1zM346 19h1v1h-1zM346 35h1v3h-1zM347 19h1v2h-1zM347 22h1v4h-1zM347 27h1v3h-1zM347 36h1v1h-1zM347 48h1v1h-1zM348 23h1v1h-1zM348 27h1v3h-1zM348 31h1v1h-1zM348 34h1v1h-1zM348 46h1v5h-1zM349 8h1v1h-1zM349 10h1v1h-1zM349 14h1v2h-1zM349 20h1v3h-1zM350 0h1v2h-1zM351 0h1v1h-1zM351 8h1v1h-1zM351 11h1v1h-1zM351 15h1v1h-1zM351 29h1v3h-1zM351 33h1v1h-1zM352 0h1v1h-1zM352 2h1v1h-1zM352 4h1v1h-1zM352 6h1v1h-1zM352 9h1v2h-1zM352 12h1v3h-1zM352 18h1v1h-1zM352 20h1v2h-1zM352 24h1v2h-1zM352 27h1v2h-1zM352 31h1v2h-1zM352 34h1v2h-1zM352 38h1v1h-1zM352 40h1v5h-1zM352 46h1v5h-1zM353 47h1v1h-1zM353 50h1v2h-1zM354 0h1v3h-1zM354 6h1v1h-1zM354 25h1v3h-1zM354 48h1v1h-1zM354 50h1v2h-1zM355 0h1v7h-1zM355 9h1v1h-1zM355 12h1v1h-1zM355 32h1v3h-1zM355 36h1v1h-1zM355 39h1v2h-1zM355 45h1v1h-1zM355 48h1v2h-1zM355 51h1v1h-1zM358 0h1v1h-1zM358 42h1v2h-1zM360 15h1v1h-1zM361 0h1v2h-1zM361 3h1v1h-1zM361 9h1v2h-1zM361 28h1v4h-1zM361 36h1v2h-1zM361 44h1v1h-1zM362 29h1v1h-1zM362 50h1v1h-1zM363 5h1v2h-1zM363 12h1v1h-1zM363 46h1v1h-1z"/>
<path fill="#E9BD3A" d="M188 15h1v1h-1zM188 19h1v1h-1zM188 24h1v1h-1zM188 27h1v1h-1zM188 30h1v1h-1zM188 33h1v3h-1zM188 37h1v3h-1zM188 47h1v1h-1zM189 20h1v2h-1zM189 29h1v3h-1zM189 33h1v4h-1zM189 39h1v1h-1zM189 41h1v3h-1zM189 46h1v2h-1zM190 21h1v1h-1zM190 23h1v1h-1zM191 5h1v1h-1zM191 7h1v1h-1zM191 21h1v1h-1zM191 29h1v2h-1zM191 35h1v1h-1zM191 37h1v1h-1zM191 39h1v1h-1zM191 41h1v2h-1zM191 44h1v1h-1zM191 47h1v1h-1zM193 4h1v1h-1zM193 7h1v1h-1zM193 11h1v1h-1zM194 1h1v3h-1zM194 44h1v1h-1zM194 46h1v2h-1zM197 13h1v1h-1zM197 28h1v1h-1zM197 43h1v5h-1zM197 49h1v3h-1zM200 29h1v3h-1zM200 38h1v1h-1zM200 42h1v1h-1zM200 51h1v1h-1zM201 34h1v1h-1zM204 20h1v3h-1zM204 27h1v1h-1zM204 30h1v3h-1zM204 36h1v3h-1zM204 40h1v1h-1zM204 44h1v3h-1zM204 50h1v2h-1zM205 5h1v2h-1zM205 8h1v4h-1zM205 17h1v1h-1zM205 21h1v2h-1zM205 25h1v2h-1zM205 28h1v2h-1zM205 32h1v1h-1zM205 34h1v3h-1zM205 41h1v1h-1zM205 45h1v6h-1zM208 27h1v1h-1zM211 0h1v1h-1zM211 3h1v5h-1zM211 15h1v1h-1zM211 18h1v1h-1zM211 20h1v2h-1zM211 23h1v1h-1zM211 25h1v2h-1zM211 28h1v2h-1zM211 40h1v1h-1zM211 42h1v2h-1zM211 45h1v1h-1zM211 47h1v2h-1zM212 6h1v1h-1zM212 8h1v1h-1zM212 17h1v4h-1zM212 23h1v2h-1zM212 27h1v2h-1zM212 30h1v1h-1zM212 34h1v4h-1zM212 40h1v1h-1zM212 45h1v7h-1zM213 25h1v3h-1zM213 29h1v2h-1zM213 32h1v1h-1zM213 43h1v5h-1zM213 51h1v1h-1zM214 8h1v3h-1zM214 15h1v1h-1zM214 17h1v1h-1zM214 20h1v1h-1zM214 22h1v1h-1zM214 25h1v5h-1zM214 33h1v1h-1zM214 36h1v1h-1zM214 38h1v1h-1zM214 42h1v1h-1zM214 44h1v4h-1zM215 3h1v2h-1zM215 6h1v1h-1zM215 8h1v2h-1zM215 27h1v3h-1zM215 33h1v1h-1zM215 35h1v2h-1zM215 43h1v1h-1zM217 25h1v1h-1zM217 31h1v2h-1zM217 37h1v4h-1zM217 43h1v6h-1zM218 0h1v2h-1zM218 7h1v1h-1zM218 35h1v3h-1zM219 0h1v3h-1zM219 6h1v5h-1zM219 14h1v2h-1zM219 17h1v2h-1zM219 20h1v1h-1zM219 26h1v2h-1zM219 41h1v1h-1zM219 47h1v2h-1zM220 19h1v1h-1zM220 23h1v3h-1zM220 28h1v1h-1zM220 31h1v2h-1zM220 41h1v2h-1zM220 44h1v3h-1zM220 48h1v1h-1zM220 51h1v1h-1zM223 10h1v3h-1zM223 18h1v1h-1zM223 29h1v1h-1zM224 25h1v2h-1zM224 28h1v1h-1zM224 38h1v2h-1zM224 47h1v2h-1zM224 50h1v1h-1zM226 1h1v1h-1zM226 17h1v1h-1zM226 26h1v2h-1zM226 29h1v2h-1zM226 39h1v1h-1zM227 4h1v5h-1zM227 20h1v1h-1zM227 27h1v5h-1zM227 35h1v3h-1zM227 39h1v3h-1zM228 18h1v2h-1zM228 21h1v3h-1zM228 25h1v5h-1zM228 35h1v1h-1zM228 40h1v2h-1zM228 44h1v1h-1zM228 46h1v1h-1zM228 48h1v1h-1zM229 2h1v1h-1zM229 4h1v2h-1zM229 8h1v2h-1zM229 48h1v3h-1zM232 46h1v1h-1zM232 48h1v1h-1zM233 4h1v1h-1zM233 11h1v1h-1zM234 31h1v2h-1zM234 35h1v2h-1zM234 41h1v1h-1zM234 44h1v7h-1zM235 0h1v3h-1zM235 14h1v2h-1zM235 18h1v1h-1zM235 28h1v6h-1zM235 37h1v1h-1zM235 39h1v1h-1zM235 41h1v2h-1zM235 44h1v5h-1zM238 9h1v2h-1zM238 19h1v1h-1zM238 29h1v1h-1zM246 3h1v1h-1zM246 7h1v1h-1zM246 13h1v2h-1zM246 17h1v4h-1zM251 18h1v1h-1zM252 1h1v1h-1zM252 25h1v1h-1zM252 32h1v1h-1zM257 2h1v3h-1zM257 6h1v1h-1zM257 13h1v1h-1zM257 18h1v3h-1zM257 33h1v1h-1zM258 3h1v4h-1zM258 10h1v6h-1zM258 18h1v1h-1zM258 20h1v1h-1zM258 22h1v2h-1zM258 38h1v1h-1zM258 46h1v6h-1zM260 17h1v2h-1zM260 21h1v4h-1zM260 26h1v2h-1zM260 29h1v1h-1zM260 34h1v1h-1zM260 51h1v1h-1zM261 15h1v1h-1zM261 17h1v3h-1zM261 25h1v1h-1zM261 30h1v1h-1zM261 32h1v1h-1zM261 38h1v2h-1zM261 41h1v9h-1zM261 51h1v1h-1zM262 46h1v4h-1zM263 7h1v2h-1zM263 12h1v2h-1zM263 18h1v1h-1zM263 22h1v3h-1zM263 27h1v2h-1zM263 44h1v1h-1zM263 47h1v1h-1zM265 7h1v2h-1zM265 15h1v1h-1zM265 40h1v4h-1zM265 47h1v4h-1zM266 8h1v1h-1zM266 34h1v3h-1zM266 38h1v1h-1zM266 40h1v4h-1zM266 45h1v2h-1zM267 1h1v1h-1zM267 3h1v1h-1zM267 7h1v1h-1zM267 21h1v1h-1zM267 34h1v3h-1zM267 49h1v3h-1zM268 32h1v1h-1zM268 40h1v2h-1zM268 49h1v1h-1zM269 17h1v2h-1zM269 23h1v6h-1zM269 30h1v4h-1zM269 44h1v3h-1zM269 51h1v1h-1zM270 39h1v1h-1zM270 43h1v2h-1zM270 47h1v1h-1zM274 10h1v1h-1zM274 34h1v1h-1zM274 36h1v3h-1zM274 46h1v4h-1zM275 0h1v1h-1zM275 2h1v7h-1zM275 21h1v4h-1zM275 28h1v1h-1zM275 30h1v1h-1zM275 39h1v1h-1zM275 43h1v1h-1zM275 45h1v2h-1zM276 18h1v2h-1zM276 21h1v1h-1zM276 42h1v1h-1zM276 44h1v2h-1zM276 47h1v5h-1zM277 17h1v1h-1zM277 19h1v3h-1zM280 0h1v1h-1zM280 23h1v1h-1zM280 25h1v1h-1zM280 30h1v1h-1zM281 22h1v2h-1zM283 1h1v2h-1zM283 6h1v2h-1zM283 9h1v1h-1zM283 14h1v2h-1zM283 34h1v2h-1zM283 37h1v1h-1zM283 39h1v5h-1zM285 48h1v2h-1zM286 7h1v2h-1zM286 12h1v3h-1zM286 17h1v1h-1zM286 21h1v1h-1zM289 10h1v1h-1zM289 12h1v1h-1zM289 14h1v1h-1zM289 33h1v1h-1zM289 41h1v5h-1zM289 48h1v2h-1zM290 5h1v1h-1zM290 17h1v1h-1zM290 23h1v1h-1zM290 25h1v5h-1zM290 33h1v2h-1zM290 36h1v1h-1zM290 48h1v1h-1zM291 25h1v4h-1zM291 45h1v1h-1zM293 0h1v1h-1zM293 9h1v1h-1zM293 11h1v2h-1zM293 14h1v1h-1zM293 30h1v1h-1zM293 33h1v2h-1zM293 36h1v1h-1zM293 38h1v3h-1zM293 43h1v1h-1zM294 0h1v2h-1zM294 4h1v1h-1zM294 6h1v3h-1zM294 18h1v4h-1zM294 29h1v3h-1zM294 45h1v1h-1zM294 47h1v5h-1zM295 17h1v1h-1zM295 19h1v1h-1zM295 21h1v1h-1zM295 23h1v1h-1zM295 25h1v4h-1zM295 31h1v2h-1zM295 42h1v5h-1zM295 49h1v3h-1zM296 15h1v1h-1zM296 25h1v1h-1zM296 36h1v2h-1zM296 39h1v1h-1zM296 43h1v1h-1zM299 4h1v1h-1zM299 42h1v1h-1zM299 46h1v1h-1zM300 20h1v1h-1zM300 22h1v1h-1zM300 37h1v2h-1zM300 45h1v1h-1zM300 47h1v1h-1zM300 49h1v1h-1zM303 8h1v2h-1zM303 12h1v1h-1zM303 14h1v2h-1zM303 20h1v3h-1zM303 25h1v2h-1zM304 0h1v1h-1zM304 20h1v1h-1zM304 24h1v2h-1zM304 27h1v2h-1zM304 34h1v3h-1zM307 8h1v4h-1zM307 15h1v1h-1zM307 17h1v2h-1zM307 20h1v1h-1zM307 23h1v3h-1zM307 27h1v2h-1zM307 36h1v2h-1zM309 0h1v2h-1zM309 3h1v3h-1zM309 20h1v3h-1zM309 29h1v1h-1zM309 33h1v1h-1zM309 39h1v1h-1zM309 41h1v1h-1zM309 43h1v4h-1zM309 51h1v1h-1zM313 1h1v1h-1zM313 3h1v1h-1zM313 7h1v1h-1zM313 9h1v2h-1zM313 20h1v1h-1zM313 23h1v1h-1zM313 25h1v1h-1zM313 27h1v1h-1zM313 31h1v1h-1zM315 0h1v6h-1zM315 7h1v1h-1zM315 34h1v2h-1zM315 37h1v1h-1zM315 42h1v2h-1zM315 45h1v1h-1zM316 22h1v5h-1zM317 0h1v1h-1zM317 2h1v2h-1zM317 5h1v2h-1zM317 8h1v1h-1zM317 10h1v2h-1zM317 13h1v1h-1zM317 17h1v1h-1zM317 19h1v2h-1zM317 26h1v1h-1zM317 28h1v2h-1zM317 33h1v2h-1zM317 38h1v2h-1zM317 42h1v4h-1zM317 47h1v1h-1zM317 49h1v3h-1zM319 0h1v3h-1zM319 17h1v1h-1zM319 19h1v1h-1zM319 22h1v1h-1zM319 29h1v1h-1zM319 32h1v2h-1zM319 38h1v3h-1zM319 42h1v2h-1zM319 50h1v1h-1zM320 5h1v1h-1zM320 10h1v2h-1zM320 13h1v1h-1zM320 19h1v4h-1zM320 24h1v1h-1zM320 26h1v3h-1zM320 34h1v3h-1zM320 38h1v1h-1zM320 41h1v2h-1zM321 13h1v1h-1zM321 17h1v1h-1zM321 27h1v4h-1zM321 35h1v1h-1zM321 39h1v1h-1zM321 43h1v1h-1zM321 48h1v1h-1zM321 50h1v2h-1zM323 0h1v1h-1zM323 2h1v1h-1zM323 5h1v3h-1zM323 12h1v1h-1zM323 24h1v1h-1zM323 26h1v2h-1zM323 29h1v2h-1zM323 32h1v3h-1zM323 37h1v1h-1zM323 40h1v2h-1zM323 44h1v1h-1zM323 46h1v1h-1zM323 51h1v1h-1zM325 0h1v1h-1zM326 13h1v3h-1zM329 1h1v1h-1zM329 4h1v2h-1zM329 9h1v1h-1zM329 15h1v1h-1zM329 47h1v1h-1zM336 42h1v2h-1zM336 47h1v1h-1zM336 49h1v1h-1zM337 15h1v1h-1zM337 18h1v1h-1zM337 46h1v1h-1zM337 48h1v3h-1zM339 6h1v1h-1zM339 8h1v3h-1zM339 12h1v2h-1zM339 21h1v1h-1zM339 23h1v1h-1zM339 36h1v3h-1zM339 48h1v1h-1zM339 50h1v2h-1zM340 10h1v2h-1zM340 19h1v1h-1zM340 40h1v1h-1zM340 42h1v1h-1zM340 45h1v2h-1zM342 34h1v1h-1zM342 36h1v3h-1zM342 40h1v2h-1zM342 43h1v1h-1zM342 45h1v1h-1zM342 47h1v5h-1zM343 8h1v1h-1zM343 12h1v4h-1zM343 33h1v2h-1zM343 48h1v1h-1zM343 51h1v1h-1zM344 1h1v1h-1zM344 8h1v2h-1zM344 11h1v1h-1zM344 13h1v2h-1zM344 49h1v3h-1zM346 5h1v4h-1zM346 12h1v1h-1zM346 15h1v1h-1zM346 17h1v2h-1zM346 20h1v3h-1zM346 29h1v1h-1zM346 31h1v4h-1zM346 38h1v1h-1zM346 40h1v1h-1zM346 43h1v6h-1zM346 51h1v1h-1zM347 21h1v1h-1zM347 26h1v1h-1zM347 30h1v1h-1zM347 35h1v1h-1zM347 49h1v1h-1zM348 17h1v2h-1zM348 20h1v2h-1zM348 24h1v3h-1zM348 30h1v1h-1zM348 32h1v2h-1zM348 35h1v3h-1zM348 44h1v2h-1zM348 51h1v1h-1zM349 5h1v1h-1zM349 7h1v1h-1zM349 17h1v1h-1zM349 19h1v1h-1zM349 23h1v3h-1zM349 27h1v1h-1zM349 36h1v2h-1zM349 47h1v5h-1zM350 2h1v1h-1zM350 4h1v1h-1zM350 8h1v1h-1zM350 10h1v1h-1zM350 12h1v4h-1zM350 19h1v1h-1zM351 1h1v5h-1zM351 10h1v1h-1zM351 13h1v2h-1zM351 25h1v2h-1zM351 28h1v1h-1zM351 32h1v1h-1zM351 34h1v2h-1zM351 37h1v2h-1zM352 15h1v1h-1zM352 17h1v1h-1zM352 19h1v1h-1zM352 26h1v1h-1zM352 36h1v2h-1zM352 39h1v1h-1zM352 51h1v1h-1zM354 3h1v3h-1zM354 7h1v1h-1zM354 10h1v6h-1zM354 37h1v1h-1zM354 40h1v1h-1zM354 49h1v1h-1zM355 7h1v2h-1zM355 10h1v2h-1zM355 50h1v1h-1zM358 44h1v1h-1zM361 2h1v1h-1zM361 4h1v2h-1zM361 8h1v1h-1zM361 17h1v1h-1zM361 19h1v6h-1zM361 27h1v1h-1zM361 38h1v1h-1zM361 43h1v1h-1zM362 8h1v1h-1zM362 14h1v2h-1zM362 17h1v1h-1zM362 28h1v1h-1zM362 30h1v2h-1zM362 48h1v2h-1z"/>
<path fill="#EAB74B" d="M188 25h1v2h-1zM189 17h1v1h-1zM189 22h1v1h-1zM189 44h1v2h-1zM189 48h1v4h-1zM190 24h1v1h-1zM191 10h1v2h-1zM191 28h1v1h-1zM191 36h1v1h-1zM191 45h1v1h-1zM193 6h1v1h-1zM193 10h1v1h-1zM193 34h1v2h-1zM194 45h1v1h-1zM197 10h1v3h-1zM197 14h1v2h-1zM197 17h1v1h-1zM197 22h1v1h-1zM197 25h1v1h-1zM197 27h1v1h-1zM197 48h1v1h-1zM200 39h1v3h-1zM200 43h1v1h-1zM200 46h1v5h-1zM201 32h1v2h-1zM204 17h1v1h-1zM204 23h1v4h-1zM204 28h1v1h-1zM204 33h1v1h-1zM204 35h1v1h-1zM204 41h1v3h-1zM205 2h1v1h-1zM205 4h1v1h-1zM205 7h1v1h-1zM205 12h1v2h-1zM205 15h1v1h-1zM205 18h1v3h-1zM205 37h1v4h-1zM205 51h1v1h-1zM211 8h1v1h-1zM211 10h1v1h-1zM211 17h1v1h-1zM211 22h1v1h-1zM211 27h1v1h-1zM211 30h1v1h-1zM211 34h1v3h-1zM211 38h1v2h-1zM211 44h1v1h-1zM211 49h1v3h-1zM214 11h1v2h-1zM214 18h1v2h-1zM214 23h1v2h-1zM214 39h1v3h-1zM214 43h1v1h-1zM214 48h1v1h-1zM215 2h1v1h-1zM215 10h1v3h-1zM215 15h1v1h-1zM215 21h1v6h-1zM215 30h1v3h-1zM215 34h1v1h-1zM217 33h1v2h-1zM217 36h1v1h-1zM217 51h1v1h-1zM218 2h1v1h-1zM218 4h1v3h-1zM218 8h1v6h-1zM218 24h1v5h-1zM218 34h1v1h-1zM218 38h1v3h-1zM218 42h1v2h-1zM218 47h1v1h-1zM218 49h1v1h-1zM218 51h1v1h-1zM219 28h1v1h-1zM219 34h1v2h-1zM219 37h1v3h-1zM219 42h1v5h-1zM219 49h1v3h-1zM220 33h1v3h-1zM220 39h1v2h-1zM220 43h1v1h-1zM220 49h1v2h-1zM223 13h1v1h-1zM223 20h1v5h-1zM223 27h1v2h-1zM223 32h1v1h-1zM224 27h1v1h-1zM224 40h1v1h-1zM224 42h1v5h-1zM224 49h1v1h-1zM226 25h1v1h-1zM226 28h1v1h-1zM227 0h1v2h-1zM227 21h1v1h-1zM227 26h1v1h-1zM227 32h1v2h-1zM227 42h1v1h-1zM227 44h1v1h-1zM228 20h1v1h-1zM228 30h1v5h-1zM228 36h1v4h-1zM228 45h1v1h-1zM228 47h1v1h-1zM229 51h1v1h-1zM234 34h1v1h-1zM234 37h1v4h-1zM234 42h1v1h-1zM235 17h1v1h-1zM235 19h1v1h-1zM235 34h1v3h-1zM235 40h1v1h-1zM252 30h1v2h-1zM258 0h1v3h-1zM258 19h1v1h-1zM258 21h1v1h-1zM260 28h1v1h-1zM260 30h1v2h-1zM260 33h1v1h-1zM260 35h1v1h-1zM260 37h1v2h-1zM260 40h1v1h-1zM260 46h1v1h-1zM260 50h1v1h-1zM261 13h1v2h-1zM261 26h1v1h-1zM261 31h1v1h-1zM262 41h1v1h-1zM262 43h1v3h-1zM262 50h1v2h-1zM263 26h1v1h-1zM265 0h1v7h-1zM265 14h1v1h-1zM265 34h1v6h-1zM265 44h1v3h-1zM266 0h1v4h-1zM266 5h1v3h-1zM266 9h1v1h-1zM266 39h1v1h-1zM266 44h1v1h-1zM267 0h1v1h-1zM267 2h1v1h-1zM267 4h1v1h-1zM267 6h1v1h-1zM267 8h1v8h-1zM267 17h1v4h-1zM267 22h1v2h-1zM267 27h1v1h-1zM267 37h1v3h-1zM267 42h1v1h-1zM267 44h1v5h-1zM268 17h1v2h-1zM268 20h1v1h-1zM268 23h1v1h-1zM268 25h1v3h-1zM268 29h1v3h-1zM268 33h1v3h-1zM268 38h1v2h-1zM268 50h1v2h-1zM269 20h1v3h-1zM269 34h1v2h-1zM269 39h1v2h-1zM269 43h1v1h-1zM269 47h1v2h-1zM270 45h1v2h-1zM270 48h1v1h-1zM270 51h1v1h-1zM274 4h1v3h-1zM274 8h1v2h-1zM274 11h1v2h-1zM274 35h1v1h-1zM275 1h1v1h-1zM275 47h1v1h-1zM275 49h1v2h-1zM276 20h1v1h-1zM276 22h1v3h-1zM280 5h1v1h-1zM280 8h1v2h-1zM280 22h1v1h-1zM280 26h1v4h-1zM280 35h1v4h-1zM280 43h1v7h-1zM283 0h1v1h-1zM283 10h1v4h-1zM283 36h1v1h-1zM283 38h1v1h-1zM283 44h1v1h-1zM283 50h1v2h-1zM286 6h1v1h-1zM286 19h1v1h-1zM286 22h1v1h-1zM286 26h1v1h-1zM286 41h1v1h-1zM286 43h1v1h-1zM286 50h1v2h-1zM289 0h1v4h-1zM289 7h1v1h-1zM289 11h1v1h-1zM289 35h1v5h-1zM290 18h1v2h-1zM290 22h1v1h-1zM290 30h1v3h-1zM290 35h1v1h-1zM290 37h1v11h-1zM290 49h1v2h-1zM293 1h1v1h-1zM293 4h1v1h-1zM293 7h1v2h-1zM293 13h1v1h-1zM293 15h1v1h-1zM293 17h1v2h-1zM293 20h1v3h-1zM293 24h1v2h-1zM293 27h1v3h-1zM293 31h1v2h-1zM293 44h1v2h-1zM293 48h1v1h-1zM294 3h1v1h-1zM294 22h1v2h-1zM294 32h1v3h-1zM294 39h1v1h-1zM294 41h1v2h-1zM294 44h1v1h-1zM295 22h1v1h-1zM296 38h1v1h-1zM296 40h1v1h-1zM296 42h1v1h-1zM299 5h1v1h-1zM299 9h1v1h-1zM299 13h1v2h-1zM300 23h1v1h-1zM304 1h1v3h-1zM304 10h1v3h-1zM304 17h1v3h-1zM304 21h1v2h-1zM304 32h1v2h-1zM307 12h1v1h-1zM309 6h1v5h-1zM309 37h1v1h-1zM309 42h1v1h-1zM309 47h1v2h-1zM309 50h1v1h-1zM313 26h1v1h-1zM313 28h1v1h-1zM315 6h1v1h-1zM315 8h1v1h-1zM315 14h1v2h-1zM315 38h1v4h-1zM316 11h1v3h-1zM317 1h1v1h-1zM317 7h1v1h-1zM317 21h1v4h-1zM317 27h1v1h-1zM317 30h1v3h-1zM317 35h1v3h-1zM317 40h1v1h-1zM317 46h1v1h-1zM317 48h1v1h-1zM319 20h1v2h-1zM319 30h1v2h-1zM319 44h1v2h-1zM319 49h1v1h-1zM319 51h1v1h-1zM320 12h1v1h-1zM320 14h1v2h-1zM320 23h1v1h-1zM320 25h1v1h-1zM321 10h1v3h-1zM321 18h1v2h-1zM321 31h1v3h-1zM321 36h1v3h-1zM321 40h1v3h-1zM321 45h1v3h-1zM323 1h1v1h-1zM323 3h1v2h-1zM323 9h1v3h-1zM323 13h1v2h-1zM323 23h1v1h-1zM323 31h1v1h-1zM323 35h1v2h-1zM329 0h1v1h-1zM339 22h1v1h-1zM340 34h1v6h-1zM340 41h1v1h-1zM340 43h1v2h-1zM342 2h1v1h-1zM342 8h1v1h-1zM342 10h1v2h-1zM342 14h1v2h-1zM342 18h1v2h-1zM342 35h1v1h-1zM342 44h1v1h-1zM342 46h1v1h-1zM343 3h1v5h-1zM343 9h1v3h-1zM343 35h1v1h-1zM343 37h1v3h-1zM343 46h1v2h-1zM343 49h1v2h-1zM344 12h1v1h-1zM346 23h1v6h-1zM346 30h1v1h-1zM346 39h1v1h-1zM346 49h1v2h-1zM347 17h1v2h-1zM347 31h1v1h-1zM347 33h1v2h-1zM347 50h1v1h-1zM348 19h1v1h-1zM348 22h1v1h-1zM348 38h1v4h-1zM349 18h1v1h-1zM349 26h1v1h-1zM349 28h1v8h-1zM349 38h1v2h-1zM349 46h1v1h-1zM350 3h1v1h-1zM350 5h1v3h-1zM350 9h1v1h-1zM350 11h1v1h-1zM350 17h1v2h-1zM350 20h1v5h-1zM350 30h1v1h-1zM350 32h1v2h-1zM350 40h1v1h-1zM350 48h1v4h-1zM351 12h1v1h-1zM351 17h1v1h-1zM351 19h1v2h-1zM351 22h1v3h-1zM351 27h1v1h-1zM351 36h1v1h-1zM351 39h1v1h-1zM351 51h1v1h-1zM354 8h1v2h-1zM354 36h1v1h-1zM354 38h1v2h-1zM361 6h1v2h-1zM361 11h1v5h-1zM361 18h1v1h-1zM362 9h1v2h-1zM362 47h1v1h-1z"/>
<path fill="#C6DE00" d="M189 0h1v1h-1zM195 1h1v1h-1zM196 20h1v1h-1zM196 48h1v1h-1zM199 22h1v2h-1zM199 30h1v1h-1zM203 26h1v1h-1zM207 7h1v1h-1zM207 9h1v1h-1zM207 14h1v1h-1zM207 19h1v1h-1zM207 24h1v3h-1zM207 28h1v1h-1zM207 30h1v1h-1zM207 46h1v2h-1zM208 44h1v7h-1zM209 6h1v2h-1zM209 31h1v1h-1zM210 6h1v1h-1zM210 8h1v2h-1zM210 11h1v3h-1zM210 15h1v1h-1zM210 17h1v3h-1zM210 21h1v3h-1zM210 43h1v5h-1zM210 49h1v3h-1zM216 6h1v2h-1zM220 11h1v2h-1zM222 21h1v2h-1zM222 27h1v1h-1zM222 33h1v1h-1zM222 48h1v1h-1zM234 5h1v1h-1zM234 14h1v2h-1zM236 4h1v1h-1zM236 7h1v3h-1zM236 12h1v1h-1zM236 18h1v2h-1zM236 24h1v1h-1zM237 21h1v1h-1zM241 41h1v2h-1zM242 1h1v3h-1zM242 5h1v1h-1zM242 7h1v3h-1zM242 11h1v1h-1zM242 13h1v1h-1zM242 18h1v1h-1zM242 27h1v4h-1zM242 43h1v2h-1zM242 47h1v2h-1zM243 45h1v2h-1zM243 48h1v1h-1zM245 4h1v2h-1zM245 8h1v3h-1zM245 26h1v1h-1zM245 30h1v1h-1zM245 32h1v1h-1zM249 17h1v2h-1zM249 20h1v1h-1zM249 24h1v3h-1zM249 29h1v4h-1zM249 44h1v1h-1zM250 10h1v1h-1zM250 15h1v1h-1zM250 27h1v2h-1zM250 35h1v1h-1zM250 40h1v2h-1zM250 43h1v1h-1zM250 47h1v2h-1zM251 2h1v1h-1zM252 15h1v1h-1zM253 0h1v3h-1zM253 5h1v1h-1zM255 2h1v1h-1zM255 25h1v1h-1zM255 27h1v1h-1zM255 29h1v3h-1zM255 34h1v1h-1zM256 41h1v1h-1zM256 48h1v3h-1zM257 37h1v2h-1zM257 48h1v2h-1zM259 4h1v1h-1zM259 18h1v2h-1zM264 6h1v1h-1zM264 22h1v1h-1zM264 29h1v2h-1zM264 32h1v2h-1zM264 37h1v2h-1zM264 40h1v1h-1zM264 46h1v1h-1zM264 51h1v1h-1zM270 0h1v1h-1zM271 15h1v1h-1zM271 33h1v1h-1zM284 18h1v2h-1zM285 6h1v1h-1zM285 17h1v2h-1zM287 20h1v1h-1zM287 22h1v1h-1zM287 25h1v1h-1zM288 15h1v1h-1zM288 18h1v1h-1zM288 28h1v1h-1zM288 39h1v2h-1zM288 42h1v1h-1zM289 22h1v2h-1zM291 0h1v4h-1zM291 5h1v2h-1zM292 0h1v1h-1zM292 9h1v1h-1zM292 11h1v1h-1zM292 13h1v1h-1zM292 35h1v5h-1zM292 43h1v3h-1zM295 5h1v2h-1zM295 9h1v2h-1zM295 12h1v1h-1zM295 14h1v2h-1zM297 20h1v1h-1zM297 49h1v1h-1zM297 51h1v1h-1zM298 23h1v2h-1zM298 38h1v3h-1zM298 43h1v3h-1zM298 51h1v1h-1zM301 38h1v1h-1zM302 47h1v3h-1zM302 51h1v1h-1zM306 25h1v4h-1zM306 40h1v1h-1zM306 48h1v1h-1zM308 0h1v2h-1zM308 4h1v3h-1zM310 49h1v1h-1zM324 4h1v1h-1zM324 14h1v1h-1zM324 24h1v1h-1zM324 26h1v1h-1zM324 28h1v2h-1zM324 49h1v2h-1zM327 14h1v1h-1zM327 31h1v1h-1zM327 33h1v4h-1zM327 38h1v5h-1zM327 47h1v1h-1zM327 49h1v1h-1zM330 9h1v1h-1zM331 23h1v1h-1zM331 37h1v1h-1zM331 39h1v1h-1zM332 2h1v2h-1zM332 6h1v2h-1zM332 10h1v1h-1zM333 18h1v2h-1zM333 48h1v2h-1zM333 51h1v1h-1zM335 9h1v2h-1zM335 13h1v1h-1zM338 5h1v1h-1zM338 7h1v1h-1zM338 9h1v1h-1zM338 11h1v1h-1zM338 13h1v1h-1zM338 25h1v1h-1zM338 40h1v6h-1zM338 47h1v3h-1zM338 51h1v1h-1zM341 13h1v2h-1zM341 21h1v1h-1zM341 24h1v1h-1zM341 31h1v1h-1zM345 23h1v1h-1zM345 26h1v1h-1zM345 30h1v1h-1zM345 32h1v1h-1zM345 34h1v1h-1zM347 14h1v1h-1zM348 3h1v1h-1zM348 11h1v1h-1zM353 33h1v1h-1zM353 35h1v3h-1zM356 28h1v2h-1zM356 32h1v6h-1zM359 2h1v1h-1zM359 10h1v1h-1zM359 25h1v2h-1zM359 40h1v1h-1zM360 38h1v1h-1zM364 33h1v1h-1z"/>
<path fill="#EBB35C" d="M189 18h1v2h-1zM191 8h1v2h-1zM197 18h1v4h-1zM197 23h1v2h-1zM197 26h1v1h-1zM200 44h1v2h-1zM204 34h1v1h-1zM205 3h1v1h-1zM205 14h1v1h-1zM211 9h1v1h-1zM211 11h1v4h-1zM211 31h1v3h-1zM211 37h1v1h-1zM214 0h1v1h-1zM214 49h1v3h-1zM215 13h1v2h-1zM217 35h1v1h-1zM218 3h1v1h-1zM218 14h1v2h-1zM218 17h1v7h-1zM218 29h1v5h-1zM218 41h1v1h-1zM218 44h1v3h-1zM218 48h1v1h-1zM218 50h1v1h-1zM219 36h1v1h-1zM220 36h1v3h-1zM223 25h1v2h-1zM223 33h1v2h-1zM224 41h1v1h-1zM227 34h1v1h-1zM227 43h1v1h-1zM227 45h1v7h-1zM260 32h1v1h-1zM260 36h1v1h-1zM260 39h1v1h-1zM260 41h1v5h-1zM260 47h1v3h-1zM261 27h1v3h-1zM266 4h1v1h-1zM266 10h1v2h-1zM267 5h1v1h-1zM267 40h1v2h-1zM267 43h1v1h-1zM268 19h1v1h-1zM268 21h1v2h-1zM268 24h1v1h-1zM268 28h1v1h-1zM268 36h1v2h-1zM269 19h1v1h-1zM269 36h1v3h-1zM269 41h1v2h-1zM269 49h1v2h-1zM270 50h1v1h-1zM274 7h1v1h-1zM275 48h1v1h-1zM275 51h1v1h-1zM280 6h1v2h-1zM280 19h1v3h-1zM280 39h1v4h-1zM280 50h1v2h-1zM283 46h1v4h-1zM286 27h1v3h-1zM286 34h1v7h-1zM286 46h1v4h-1zM289 4h1v3h-1zM289 34h1v1h-1zM289 40h1v1h-1zM290 20h1v2h-1zM293 2h1v2h-1zM293 5h1v2h-1zM293 19h1v1h-1zM293 23h1v1h-1zM293 26h1v1h-1zM293 46h1v2h-1zM293 49h1v3h-1zM294 35h1v4h-1zM294 40h1v1h-1zM294 43h1v1h-1zM299 6h1v3h-1zM299 10h1v3h-1zM309 12h1v3h-1zM309 49h1v1h-1zM315 13h1v1h-1zM315 24h1v4h-1zM317 25h1v1h-1zM319 46h1v3h-1zM321 34h1v1h-1zM321 44h1v1h-1zM323 15h1v1h-1zM323 17h1v2h-1zM323 21h1v2h-1zM342 3h1v5h-1zM342 9h1v1h-1zM342 12h1v2h-1zM342 17h1v1h-1zM342 20h1v14h-1zM343 0h1v3h-1zM343 36h1v1h-1zM343 40h1v6h-1zM347 32h1v1h-1zM348 42h1v2h-1zM349 40h1v6h-1zM350 25h1v5h-1zM350 31h1v1h-1zM350 34h1v3h-1zM350 41h1v7h-1zM351 18h1v1h-1zM351 21h1v1h-1zM351 40h1v2h-1z"/>
<path fill="#28B400" d="M190 0h1v1h-1zM190 13h1v2h-1zM190 39h1v3h-1zM191 15h1v1h-1zM191 17h1v1h-1zM192 27h1v1h-1zM193 19h1v1h-1zM193 23h1v3h-1zM193 41h1v2h-1zM193 44h1v1h-1zM194 25h1v2h-1zM194 29h1v1h-1zM194 35h1v1h-1zM194 37h1v1h-1zM195 4h1v1h-1zM195 6h1v4h-1zM196 10h1v2h-1zM196 18h1v1h-1zM198 1h1v1h-1zM198 3h1v2h-1zM200 25h1v2h-1zM200 32h1v1h-1zM201 39h1v2h-1zM202 7h1v8h-1zM202 26h1v1h-1zM202 32h1v2h-1zM202 40h1v3h-1zM209 20h1v1h-1zM213 3h1v1h-1zM213 15h1v1h-1zM213 17h1v1h-1zM213 20h1v1h-1zM217 14h1v1h-1zM220 10h1v1h-1zM222 0h1v1h-1zM222 10h1v1h-1zM222 13h1v1h-1zM222 20h1v1h-1zM222 36h1v2h-1zM223 4h1v1h-1zM223 7h1v1h-1zM224 0h1v1h-1zM224 6h1v2h-1zM225 8h1v1h-1zM225 21h1v3h-1zM226 45h1v2h-1zM227 12h1v1h-1zM229 23h1v4h-1zM229 40h1v2h-1zM231 4h1v1h-1zM235 8h1v2h-1zM237 35h1v2h-1zM237 41h1v1h-1zM238 33h1v1h-1zM238 35h1v1h-1zM239 24h1v1h-1zM239 31h1v1h-1zM241 8h1v2h-1zM241 43h1v1h-1zM241 48h1v2h-1zM244 15h1v1h-1zM247 21h1v1h-1zM247 31h1v1h-1zM248 4h1v1h-1zM250 6h1v1h-1zM251 0h1v2h-1zM251 14h1v1h-1zM259 22h1v2h-1zM260 2h1v2h-1zM262 1h1v1h-1zM262 8h1v1h-1zM262 21h1v1h-1zM262 24h1v2h-1zM271 0h1v1h-1zM272 9h1v1h-1zM272 14h1v2h-1zM279 2h1v1h-1zM279 11h1v2h-1zM284 0h1v1h-1zM284 6h1v2h-1zM284 11h1v1h-1zM284 20h1v3h-1zM284 41h1v2h-1zM287 2h1v1h-1zM287 18h1v2h-1zM288 47h1v1h-1zM291 9h1v1h-1zM296 0h1v1h-1zM296 2h1v1h-1zM296 10h1v1h-1zM297 24h1v1h-1zM297 39h1v1h-1zM298 49h1v1h-1zM301 6h1v1h-1zM301 36h1v1h-1zM302 6h1v2h-1zM302 10h1v4h-1zM302 22h1v1h-1zM303 29h1v1h-1zM304 40h1v1h-1zM304 42h1v1h-1zM304 46h1v1h-1zM305 40h1v3h-1zM306 44h1v1h-1zM310 23h1v1h-1zM310 27h1v2h-1zM312 48h1v1h-1zM314 13h1v3h-1zM314 26h1v1h-1zM318 20h1v1h-1zM323 47h1v2h-1zM325 22h1v2h-1zM325 25h1v1h-1zM325 27h1v1h-1zM325 41h1v3h-1zM326 5h1v1h-1zM326 47h1v2h-1zM326 50h1v1h-1zM330 19h1v2h-1zM331 3h1v1h-1zM332 0h1v1h-1zM332 14h1v1h-1zM334 3h1v1h-1zM334 5h1v1h-1zM335 1h1v1h-1zM335 25h1v1h-1zM337 1h1v1h-1zM337 25h1v3h-1zM337 33h1v1h-1zM338 6h1v1h-1zM340 23h1v2h-1zM340 27h1v1h-1zM341 7h1v1h-1zM341 12h1v1h-1zM341 25h1v1h-1zM341 27h1v2h-1zM341 35h1v1h-1zM343 25h1v4h-1zM344 41h1v1h-1zM344 44h1v1h-1zM345 17h1v4h-1zM347 43h1v1h-1zM347 45h1v3h-1zM349 3h1v2h-1zM354 32h1v2h-1zM355 15h1v1h-1zM355 30h1v2h-1zM356 0h1v3h-1zM356 5h1v1h-1zM356 7h1v1h-1zM356 10h1v2h-1zM356 38h1v1h-1zM356 40h1v5h-1zM356 47h1v1h-1zM356 49h1v2h-1zM358 6h1v4h-1zM358 23h1v1h-1zM359 18h1v1h-1zM359 27h1v1h-1z"/>
</g></g>
<path d="M103.7 62.7H1537.2V373.1H103.7ZM103.7 373.1v13.5M103.7 62.7v-13.5M221.21 373.1v13.5M221.21 62.7v-13.5M338.72 373.1v13.5M338.72 62.7v-13.5M456.23 373.1v13.5M456.23 62.7v-13.5M573.74 373.1v13.5M573.74 62.7v-13.5M691.25 373.1v13.5M691.25 62.7v-13.5M808.76 373.1v13.5M808.76 62.7v-13.5M926.27 373.1v13.5M926.27 62.7v-13.5M1043.78 373.1v13.5M1043.78 62.7v-13.5M1161.29 373.1v13.5M1161.29 62.7v-13.5M1278.8 373.1v13.5M1278.8 62.7v-13.5M1396.31 373.1v13.5M1396.31 62.7v-13.5M1513.82 373.1v13.5M1513.82 62.7v-13.5M103.7 373.1h-13.5M1537.2 373.1h13.5M103.7 337.27h-13.5M1537.2 337.27h13.5M103.7 301.44h-13.5M1537.2 301.44h13.5M103.7 265.61h-13.5M1537.2 265.61h13.5M103.7 229.78h-13.5M1537.2 229.78h13.5M103.7 193.95h-13.5M1537.2 193.95h13.5M103.7 158.12h-13.5M1537.2 158.12h13.5M103.7 122.29h-13.5M1537.2 122.29h13.5M103.7 86.46h-13.5M1537.2 86.46h13.5" fill="none" stroke="#000" stroke-width="1.8" stroke-linecap="butt"/>
<g font-size="22.6" text-anchor="middle">
<text transform="translate(103.7 417.3) scale(1 1.02)">0</text>
<text transform="translate(221.21 417.3) scale(1 1.02)">30</text>
<text transform="translate(338.72 417.3) scale(1 1.02)">60</text>
<text transform="translate(456.23 417.3) scale(1 1.02)">90</text>
<text transform="translate(573.74 417.3) scale(1 1.02)">120</text>
<text transform="translate(691.25 417.3) scale(1 1.02)">150</text>
<text transform="translate(808.76 417.3) scale(1 1.02)">180</text>
<text transform="translate(926.27 417.3) scale(1 1.02)">210</text>
<text transform="translate(1043.78 417.3) scale(1 1.02)">240</text>
<text transform="translate(1161.29 417.3) scale(1 1.02)">270</text>
<text transform="translate(1278.8 417.3) scale(1 1.02)">300</text>
<text transform="translate(1396.31 417.3) scale(1 1.02)">330</text>
<text transform="translate(1513.82 417.3) scale(1 1.02)">360</text>
</g>
<g font-size="22.6" text-anchor="end">
<text transform="translate(76.7 382.7) scale(1 1.02)">8</text>
<text transform="translate(76.7 346.87) scale(1 1.02)">9</text>
<text transform="translate(76.7 311.04) scale(1 1.02)">10</text>
<text transform="translate(76.7 275.21) scale(1 1.02)">11</text>
<text transform="translate(76.7 239.38) scale(1 1.02)">12</text>
<text transform="translate(76.7 203.55) scale(1 1.02)">13</text>
<text transform="translate(76.7 167.72) scale(1 1.02)">14</text>
<text transform="translate(76.7 131.89) scale(1 1.02)">15</text>
<text transform="translate(76.7 96.06) scale(1 1.02)">16</text>
</g>
<text transform="translate(23.5 218.7) rotate(-90) scale(1 1.02)" font-size="28.5" text-anchor="middle">Time of Day (UTC+8)</text>
<g shape-rendering="crispEdges">
<rect x="1591.3" y="367.56" width="41.7" height="6.04" fill="#F2F2F2"/>
<rect x="1591.3" y="362.01" width="41.7" height="6.04" fill="#F2E9E9"/>
<rect x="1591.3" y="356.47" width="41.7" height="6.04" fill="#F1E1E0"/>
<rect x="1591.3" y="350.93" width="41.7" height="6.04" fill="#F1DAD7"/>
<rect x="1591.3" y="345.39" width="41.7" height="6.04" fill="#F0D3CE"/>
<rect x="1591.3" y="339.84" width="41.7" height="6.04" fill="#F0CDC5"/>
<rect x="1591.3" y="334.3" width="41.7" height="6.04" fill="#F0C7BC"/>
<rect x="1591.3" y="328.76" width="41.7" height="6.04" fill="#EFC2B3"/>
<rect x="1591.3" y="323.21" width="41.7" height="6.04" fill="#EFBEAA"/>
<rect x="1591.3" y="317.67" width="41.7" height="6.04" fill="#EEBAA2"/>
<rect x="1591.3" y="312.13" width="41.7" height="6.04" fill="#EEB799"/>
<rect x="1591.3" y="306.59" width="41.7" height="6.04" fill="#EDB590"/>
<rect x="1591.3" y="301.04" width="41.7" height="6.04" fill="#EDB387"/>
<rect x="1591.3" y="295.5" width="41.7" height="6.04" fill="#ECB27F"/>
<rect x="1591.3" y="289.96" width="41.7" height="6.04" fill="#ECB176"/>
<rect x="1591.3" y="284.41" width="41.7" height="6.04" fill="#EBB16D"/>
<rect x="1591.3" y="278.87" width="41.7" height="6.04" fill="#EBB165"/>
<rect x="1591.3" y="273.33" width="41.7" height="6.04" fill="#EBB35C"/>
<rect x="1591.3" y="267.79" width="41.7" height="6.04" fill="#EAB454"/>
<rect x="1591.3" y="262.24" width="41.7" height="6.04" fill="#EAB74B"/>
<rect x="1591.3" y="256.7" width="41.7" height="6.04" fill="#E9BA43"/>
<rect x="1591.3" y="251.16" width="41.7" height="6.04" fill="#E9BD3A"/>
<rect x="1591.3" y="245.61" width="41.7" height="6.04" fill="#E8C132"/>
<rect x="1591.3" y="240.07" width="41.7" height="6.04" fill="#E8C629"/>
<rect x="1591.3" y="234.53" width="41.7" height="6.04" fill="#E7CB21"/>
<rect x="1591.3" y="228.99" width="41.7" height="6.04" fill="#E7D119"/>
<rect x="1591.3" y="223.44" width="41.7" height="6.04" fill="#E6D710"/>
<rect x="1591.3" y="217.9" width="41.7" height="6.04" fill="#E6DE08"/>
<rect x="1591.3" y="212.36" width="41.7" height="6.04" fill="#E6E600"/>
<rect x="1591.3" y="206.81" width="41.7" height="6.04" fill="#DBE300"/>
<rect x="1591.3" y="201.27" width="41.7" height="6.04" fill="#D0E100"/>
<rect x="1591.3" y="195.73" width="41.7" height="6.04" fill="#C6DE00"/>
<rect x="1591.3" y="190.19" width="41.7" height="6.04" fill="#BBDC00"/>
<rect x="1591.3" y="184.64" width="41.7" height="6.04" fill="#B1DA00"/>
<rect x="1591.3" y="179.1" width="41.7" height="6.04" fill="#A7D700"/>
<rect x="1591.3" y="173.56" width="41.7" height="6.04" fill="#9ED500"/>
<rect x="1591.3" y="168.01" width="41.7" height="6.04" fill="#94D300"/>
<rect x="1591.3" y="162.47" width="41.7" height="6.04" fill="#8BD000"/>
<rect x="1591.3" y="156.93" width="41.7" height="6.04" fill="#82CE00"/>
<rect x="1591.3" y="151.39" width="41.7" height="6.04" fill="#79CC00"/>
<rect x="1591.3" y="145.84" width="41.7" height="6.04" fill="#70C900"/>
<rect x="1591.3" y="140.3" width="41.7" height="6.04" fill="#67C700"/>
<rect x="1591.3" y="134.76" width="41.7" height="6.04" fill="#5FC400"/>
<rect x="1591.3" y="129.21" width="41.7" height="6.04" fill="#56C200"/>
<rect x="1591.3" y="123.67" width="41.7" height="6.04" fill="#4EC000"/>
<rect x="1591.3" y="118.13" width="41.7" height="6.04" fill="#46BD00"/>
<rect x="1591.3" y="112.59" width="41.7" height="6.04" fill="#3EBB00"/>
<rect x="1591.3" y="107.04" width="41.7" height="6.04" fill="#37B900"/>
<rect x="1591.3" y="101.5" width="41.7" height="6.04" fill="#2FB600"/>
<rect x="1591.3" y="95.96" width="41.7" height="6.04" fill="#28B400"/>
<rect x="1591.3" y="90.41" width="41.7" height="6.04" fill="#21B200"/>
<rect x="1591.3" y="84.87" width="41.7" height="6.04" fill="#1AAF00"/>
<rect x="1591.3" y="79.33" width="41.7" height="6.04" fill="#13AD00"/>
<rect x="1591.3" y="73.79" width="41.7" height="6.04" fill="#0DAA00"/>
<rect x="1591.3" y="68.24" width="41.7" height="6.04" fill="#06A800"/>
<rect x="1591.3" y="62.7" width="41.7" height="6.04" fill="#00A600"/>
</g>
<g font-size="22.6">
<text transform="translate(1653.5 359.23) scale(1 1.02)">-0.4</text>
<text transform="translate(1653.5 314.89) scale(1 1.02)">-0.2</text>
<text transform="translate(1653.5 270.54) scale(1 1.02)">0.0</text>
<text transform="translate(1653.5 226.2) scale(1 1.02)">0.2</text>
<text transform="translate(1653.5 181.86) scale(1 1.02)">0.4</text>
<text transform="translate(1653.5 137.51) scale(1 1.02)">0.6</text>
<text transform="translate(1653.5 93.17) scale(1 1.02)">0.8</text>
</g>
<path d="M1591.3 62.7H1633V373.1H1591.3ZM1633 350.93h10.5M1633 306.59h10.5M1633 262.24h10.5M1633 217.9h10.5M1633 173.56h10.5M1633 129.21h10.5M1633 84.87h10.5" fill="none" stroke="#000" stroke-width="1.8"/>
<text transform="translate(1663.5 48.8) scale(1 1.02)" font-size="29.7" text-anchor="middle">NDVI</text>
<clipPath id="c2A"><rect x="102" y="442" width="1435.2" height="305.9"/></clipPath>
<rect x="102" y="442" width="1435.2" height="305.9" fill="#F2F2F2"/>
<g clip-path="url(#c2A)"><g shape-rendering="crispEdges" transform="translate(100.04 752.26) scale(3.921 -8.7175)">
<path fill="#EAB64E" d="M0 0h1v25h-1zM0 27h1v9h-1zM1 0h1v10h-1zM1 12h1v9h-1zM1 24h1v4h-1zM1 29h1v7h-1zM2 0h1v36h-1zM3 1h1v5h-1zM3 8h1v2h-1zM3 28h1v1h-1zM4 11h1v2h-1zM4 31h1v5h-1zM5 19h1v1h-1zM5 21h1v2h-1zM5 24h1v1h-1zM5 30h1v2h-1zM6 2h1v2h-1zM6 22h1v1h-1zM6 26h1v10h-1zM7 0h1v10h-1zM7 16h1v20h-1zM8 5h1v1h-1zM8 11h1v14h-1zM8 32h1v4h-1zM9 3h1v1h-1zM9 8h1v5h-1zM9 27h1v1h-1zM9 30h1v1h-1zM9 35h1v1h-1zM10 5h1v2h-1zM10 18h1v1h-1zM10 22h1v3h-1zM10 27h1v8h-1zM11 3h1v1h-1zM11 5h1v2h-1zM11 8h1v1h-1zM11 12h1v5h-1zM11 27h1v2h-1zM11 30h1v1h-1zM11 35h1v1h-1zM12 0h1v10h-1zM12 17h1v8h-1zM12 32h1v1h-1zM12 34h1v2h-1zM13 0h1v13h-1zM13 14h1v3h-1zM13 22h1v1h-1zM13 27h1v1h-1zM13 29h1v2h-1zM13 35h1v1h-1zM14 0h1v12h-1zM14 13h1v23h-1zM15 0h1v9h-1zM15 22h1v3h-1zM15 31h1v3h-1zM15 35h1v1h-1zM16 4h1v4h-1zM16 19h1v17h-1zM17 0h1v9h-1zM17 20h1v16h-1zM18 0h1v2h-1zM18 3h1v33h-1zM19 0h1v9h-1zM19 10h1v26h-1zM20 0h1v9h-1zM20 10h1v21h-1zM20 32h1v2h-1zM20 35h1v1h-1zM21 0h1v10h-1zM21 11h1v1h-1zM21 13h1v5h-1zM21 22h1v2h-1zM21 25h1v11h-1zM22 0h1v11h-1zM22 13h1v2h-1zM22 17h1v9h-1zM22 28h1v8h-1zM23 0h1v2h-1zM23 3h1v4h-1zM23 15h1v1h-1zM23 26h1v10h-1zM24 0h1v12h-1zM24 16h1v1h-1zM24 23h1v4h-1zM24 28h1v8h-1zM25 0h1v3h-1zM25 6h1v6h-1zM25 14h1v1h-1zM25 17h1v12h-1zM25 31h1v5h-1zM26 0h1v9h-1zM26 18h1v12h-1zM26 33h1v1h-1zM27 0h1v1h-1zM27 3h1v6h-1zM27 10h1v2h-1zM27 13h1v5h-1zM27 21h1v2h-1zM27 25h1v11h-1zM28 4h1v7h-1zM28 22h1v1h-1zM28 30h1v3h-1zM29 8h1v1h-1zM29 13h1v1h-1zM29 20h1v2h-1zM29 23h1v3h-1zM29 31h1v2h-1zM29 35h1v1h-1zM30 0h1v36h-1zM31 0h1v10h-1zM31 12h1v8h-1zM31 27h1v4h-1zM32 8h1v2h-1zM32 14h1v4h-1zM32 28h1v8h-1zM33 4h1v1h-1zM33 8h1v1h-1zM33 11h1v6h-1zM33 26h1v10h-1zM34 12h1v23h-1zM35 0h1v3h-1zM35 5h1v1h-1zM35 8h1v28h-1zM36 10h1v2h-1zM36 16h1v3h-1zM38 4h1v1h-1zM38 7h1v12h-1zM39 0h1v18h-1zM39 20h1v4h-1zM39 25h1v5h-1zM39 31h1v1h-1zM39 35h1v1h-1zM40 0h1v24h-1zM40 27h1v9h-1zM41 0h1v18h-1zM41 22h1v14h-1zM42 0h1v19h-1zM42 20h1v4h-1zM42 28h1v8h-1zM43 0h1v20h-1zM43 23h1v2h-1zM44 0h1v1h-1zM44 7h1v7h-1zM45 12h1v1h-1zM46 0h1v1h-1zM46 7h1v1h-1zM46 12h1v4h-1zM46 27h1v1h-1zM47 0h1v3h-1zM47 5h1v7h-1zM47 13h1v5h-1zM47 22h1v4h-1zM47 27h1v1h-1zM47 30h1v6h-1zM48 11h1v8h-1zM48 20h1v9h-1zM48 31h1v5h-1zM60 0h1v13h-1zM60 16h1v2h-1zM61 1h1v1h-1zM61 4h1v2h-1zM61 7h1v7h-1zM61 16h1v3h-1zM62 0h1v29h-1zM63 0h1v34h-1zM64 0h1v11h-1zM64 13h1v2h-1zM64 16h1v20h-1zM65 0h1v1h-1zM65 3h1v4h-1zM66 2h1v1h-1zM66 19h1v7h-1zM67 0h1v2h-1zM67 4h1v6h-1zM67 22h1v1h-1zM67 27h1v9h-1zM69 2h1v8h-1zM69 18h1v8h-1zM70 0h1v12h-1zM70 14h1v4h-1zM70 20h1v1h-1zM71 0h1v14h-1zM71 15h1v4h-1zM72 0h1v19h-1zM72 27h1v9h-1zM73 0h1v10h-1zM73 16h1v1h-1zM73 19h1v1h-1zM74 0h1v9h-1zM74 17h1v3h-1zM75 1h1v5h-1zM75 8h1v7h-1zM75 16h1v9h-1zM75 29h1v7h-1zM76 27h1v1h-1zM79 18h1v8h-1zM80 9h1v2h-1zM80 18h1v15h-1zM81 0h1v2h-1zM81 5h1v4h-1zM81 26h1v2h-1zM82 6h1v5h-1zM82 15h1v1h-1zM83 10h1v3h-1zM83 28h1v1h-1zM83 32h1v1h-1zM83 35h1v1h-1zM84 2h1v3h-1zM84 7h1v5h-1zM85 3h1v2h-1zM85 14h1v7h-1zM86 4h1v1h-1zM86 18h1v6h-1zM86 31h1v1h-1zM88 9h1v1h-1zM88 12h1v1h-1zM88 17h1v1h-1zM88 19h1v1h-1zM88 24h1v3h-1zM89 16h1v4h-1zM89 23h1v1h-1zM89 28h1v4h-1zM90 0h1v2h-1zM91 0h1v11h-1zM91 13h1v14h-1zM91 28h1v2h-1zM92 0h1v6h-1zM92 7h1v3h-1zM92 15h1v5h-1zM92 22h1v3h-1zM93 0h1v5h-1zM93 8h1v2h-1zM93 21h1v2h-1zM93 26h1v1h-1zM94 10h1v7h-1zM94 21h1v4h-1zM94 31h1v5h-1zM95 2h1v2h-1zM95 14h1v1h-1zM97 4h1v3h-1zM97 8h1v1h-1zM97 11h1v2h-1zM98 0h1v1h-1zM98 10h1v1h-1zM98 12h1v2h-1zM98 15h1v2h-1zM98 18h1v12h-1zM99 4h1v2h-1zM99 11h1v21h-1zM99 33h1v1h-1zM100 11h1v2h-1zM100 16h1v10h-1zM101 10h1v1h-1zM101 12h1v1h-1zM101 14h1v1h-1zM101 20h1v4h-1zM101 25h1v1h-1zM103 1h1v1h-1zM103 7h1v3h-1zM104 5h1v3h-1zM104 21h1v13h-1zM105 3h1v11h-1zM105 19h1v3h-1zM105 33h1v2h-1zM106 8h1v4h-1zM106 22h1v2h-1zM107 4h1v10h-1zM107 32h1v3h-1zM108 1h1v1h-1zM108 7h1v1h-1zM108 13h1v2h-1zM109 0h1v2h-1zM109 4h1v1h-1zM109 7h1v10h-1zM109 25h1v7h-1zM110 1h1v5h-1zM110 7h1v5h-1zM110 14h1v1h-1zM111 6h1v12h-1zM112 3h1v1h-1zM112 12h1v2h-1zM112 20h1v8h-1zM112 30h1v4h-1zM113 2h1v5h-1zM113 16h1v15h-1zM113 32h1v4h-1zM114 1h1v6h-1zM114 18h1v1h-1zM114 21h1v3h-1zM114 27h1v9h-1zM115 0h1v5h-1zM115 6h1v1h-1zM115 8h1v18h-1zM115 29h1v3h-1zM116 3h1v2h-1zM116 8h1v2h-1zM116 12h1v2h-1zM117 0h1v10h-1zM117 12h1v5h-1zM117 29h1v1h-1zM117 33h1v3h-1zM118 2h1v7h-1zM118 14h1v2h-1zM118 25h1v2h-1zM119 0h1v2h-1zM119 3h1v6h-1zM119 17h1v1h-1zM119 27h1v9h-1zM120 0h1v1h-1zM120 4h1v8h-1zM120 13h1v2h-1zM120 28h1v8h-1zM121 0h1v15h-1zM121 17h1v5h-1zM121 35h1v1h-1zM122 0h1v1h-1zM122 2h1v4h-1zM122 10h1v3h-1zM123 0h1v9h-1zM123 10h1v1h-1zM123 16h1v3h-1zM123 29h1v3h-1zM123 34h1v2h-1zM124 0h1v12h-1zM124 14h1v1h-1zM124 16h1v4h-1zM124 28h1v4h-1zM124 33h1v1h-1zM125 3h1v6h-1zM125 16h1v3h-1zM126 2h1v6h-1zM126 34h1v2h-1zM127 0h1v1h-1zM128 23h1v4h-1zM128 28h1v4h-1zM129 0h1v5h-1zM129 12h1v1h-1zM129 16h1v2h-1zM130 0h1v2h-1zM130 29h1v1h-1zM131 0h1v2h-1zM131 3h1v16h-1zM132 8h1v14h-1zM132 26h1v5h-1zM133 0h1v3h-1zM133 10h1v4h-1zM133 15h1v3h-1zM133 22h1v6h-1zM134 0h1v4h-1zM134 8h1v12h-1zM135 0h1v1h-1zM135 4h1v3h-1zM135 13h1v4h-1zM135 22h1v1h-1zM135 27h1v9h-1zM136 4h1v15h-1zM136 27h1v6h-1zM137 6h1v3h-1zM137 14h1v1h-1zM137 31h1v1h-1zM137 33h1v3h-1zM138 27h1v4h-1zM138 35h1v1h-1zM139 20h1v7h-1zM139 28h1v3h-1zM140 22h1v1h-1zM140 27h1v3h-1zM140 35h1v1h-1zM142 0h1v4h-1zM142 5h1v4h-1zM142 11h1v1h-1zM142 24h1v1h-1zM142 28h1v7h-1zM143 0h1v9h-1zM143 12h1v5h-1zM144 0h1v17h-1zM144 21h1v2h-1zM144 26h1v2h-1zM144 30h1v2h-1zM144 33h1v3h-1zM145 0h1v11h-1zM146 0h1v21h-1zM146 22h1v4h-1zM147 0h1v9h-1zM147 18h1v1h-1zM147 24h1v12h-1zM149 11h1v1h-1zM150 13h1v1h-1zM156 15h1v1h-1zM157 7h1v1h-1zM158 15h1v1h-1zM159 12h1v1h-1zM160 8h1v1h-1zM160 15h1v1h-1zM161 21h1v1h-1zM163 12h1v1h-1zM183 3h1v1h-1zM209 34h1v1h-1zM238 0h1v36h-1zM239 0h1v8h-1zM239 21h1v4h-1zM242 3h1v6h-1zM242 10h1v5h-1zM242 20h1v2h-1zM242 26h1v4h-1zM242 34h1v2h-1zM243 0h1v5h-1zM243 18h1v2h-1zM243 25h1v1h-1zM243 30h1v1h-1zM244 30h1v3h-1zM245 1h1v4h-1zM245 12h1v2h-1zM245 18h1v1h-1zM245 20h1v1h-1zM245 22h1v6h-1zM245 31h1v5h-1zM246 1h1v1h-1zM246 5h1v6h-1zM246 15h1v2h-1zM247 18h1v1h-1zM247 23h1v1h-1zM248 20h1v3h-1zM248 24h1v9h-1zM249 20h1v3h-1zM249 25h1v6h-1zM250 0h1v10h-1zM250 13h1v7h-1zM251 0h1v27h-1zM251 30h1v6h-1zM252 0h1v36h-1zM253 0h1v36h-1zM254 0h1v36h-1zM255 0h1v36h-1zM256 0h1v36h-1zM257 0h1v36h-1zM258 0h1v36h-1zM259 0h1v36h-1zM260 0h1v36h-1zM261 0h1v10h-1zM261 14h1v3h-1zM261 18h1v3h-1zM261 25h1v2h-1zM261 29h1v7h-1zM262 0h1v2h-1zM262 3h1v1h-1zM262 17h1v3h-1zM262 23h1v1h-1zM262 26h1v7h-1zM262 35h1v1h-1zM263 9h1v2h-1zM263 13h1v1h-1zM263 18h1v1h-1zM263 23h1v3h-1zM263 28h1v8h-1zM264 0h1v1h-1zM264 2h1v7h-1zM264 12h1v6h-1zM264 28h1v2h-1zM264 31h1v3h-1zM265 0h1v36h-1zM266 0h1v21h-1zM266 22h1v14h-1zM267 0h1v36h-1zM268 0h1v36h-1zM269 0h1v36h-1zM270 0h1v36h-1zM271 0h1v36h-1zM272 0h1v36h-1zM273 0h1v1h-1zM273 5h1v3h-1zM273 10h1v4h-1zM273 16h1v6h-1zM273 28h1v8h-1zM274 0h1v1h-1zM274 2h1v2h-1zM274 6h1v1h-1zM274 8h1v16h-1zM274 29h1v7h-1zM275 0h1v3h-1zM275 4h1v12h-1zM275 18h1v18h-1zM276 0h1v3h-1zM276 5h1v1h-1zM276 9h1v1h-1zM276 20h1v2h-1zM276 27h1v1h-1zM276 29h1v2h-1zM276 34h1v2h-1zM277 3h1v2h-1zM277 7h1v2h-1zM277 11h1v1h-1zM277 20h1v16h-1zM278 26h1v1h-1zM279 20h1v8h-1zM279 33h1v3h-1zM280 0h1v1h-1zM280 22h1v1h-1zM280 28h1v1h-1zM281 0h1v7h-1zM281 8h1v28h-1zM282 1h1v28h-1zM282 35h1v1h-1zM283 5h1v1h-1zM283 8h1v25h-1zM284 0h1v12h-1zM284 22h1v6h-1zM285 8h1v1h-1zM285 17h1v6h-1zM286 1h1v4h-1zM286 21h1v3h-1zM287 9h1v1h-1zM287 15h1v1h-1zM287 23h1v2h-1zM288 0h1v1h-1zM288 2h1v11h-1zM288 23h1v2h-1zM289 0h1v10h-1zM289 12h1v24h-1zM290 0h1v12h-1zM290 19h1v17h-1zM291 0h1v36h-1zM292 0h1v14h-1zM292 15h1v5h-1zM292 25h1v11h-1zM293 0h1v24h-1zM293 27h1v9h-1zM294 0h1v10h-1zM294 14h1v22h-1zM295 0h1v36h-1zM296 1h1v35h-1zM297 0h1v36h-1zM298 2h1v2h-1zM298 8h1v1h-1zM299 0h1v1h-1zM300 35h1v1h-1zM301 13h1v3h-1zM301 29h1v5h-1zM303 0h1v2h-1zM303 27h1v1h-1zM303 35h1v1h-1zM304 1h1v2h-1zM304 8h1v4h-1zM305 4h1v1h-1zM305 8h1v1h-1zM306 0h1v5h-1zM306 7h1v3h-1zM307 12h1v3h-1zM307 22h1v5h-1zM307 31h1v4h-1zM308 5h1v2h-1zM308 14h1v1h-1zM308 27h1v2h-1zM309 2h1v1h-1zM309 18h1v3h-1zM310 14h1v1h-1zM311 1h1v2h-1zM312 1h1v5h-1zM312 10h1v1h-1zM312 12h1v1h-1zM312 21h1v2h-1zM313 7h1v2h-1zM314 10h1v1h-1zM314 14h1v1h-1zM314 22h1v1h-1zM314 29h1v2h-1zM315 15h1v2h-1zM316 0h1v7h-1zM317 0h1v1h-1zM317 4h1v6h-1zM317 12h1v1h-1zM318 0h1v10h-1zM318 12h1v6h-1zM318 19h1v3h-1zM318 23h1v6h-1zM318 33h1v2h-1zM319 0h1v10h-1zM319 11h1v3h-1zM319 17h1v11h-1zM319 35h1v1h-1zM320 0h1v5h-1zM320 7h1v15h-1zM320 23h1v1h-1zM320 27h1v6h-1zM320 34h1v2h-1zM321 2h1v19h-1zM321 23h1v8h-1zM321 34h1v2h-1zM322 9h1v5h-1zM322 17h1v1h-1zM323 19h1v6h-1zM324 0h1v2h-1zM324 3h1v8h-1zM324 14h1v4h-1zM324 31h1v5h-1zM325 0h1v13h-1zM325 16h1v2h-1zM325 20h1v1h-1zM325 22h1v6h-1zM325 30h1v2h-1zM325 35h1v1h-1zM326 0h1v4h-1zM326 7h1v2h-1zM326 11h1v1h-1zM326 15h1v3h-1zM326 20h1v1h-1zM326 23h1v6h-1zM327 0h1v10h-1zM327 12h1v2h-1zM327 31h1v5h-1zM328 3h1v1h-1zM328 6h1v1h-1zM328 8h1v6h-1zM328 15h1v2h-1zM329 0h1v14h-1zM329 15h1v4h-1zM329 35h1v1h-1zM330 0h1v8h-1zM330 14h1v2h-1zM331 0h1v7h-1zM331 9h1v2h-1zM331 12h1v1h-1zM332 6h1v1h-1zM332 13h1v3h-1zM332 18h1v1h-1zM332 21h1v4h-1zM332 27h1v2h-1zM333 2h1v3h-1zM333 31h1v2h-1zM334 0h1v1h-1zM334 7h1v2h-1zM335 0h1v6h-1zM336 8h1v2h-1zM337 3h1v7h-1zM337 34h1v1h-1zM338 2h1v1h-1zM338 4h1v6h-1zM338 22h1v1h-1zM338 34h1v1h-1zM339 3h1v2h-1zM339 25h1v1h-1zM339 32h1v4h-1zM340 0h1v6h-1zM340 19h1v3h-1zM340 25h1v2h-1zM341 27h1v4h-1zM341 35h1v1h-1zM342 0h1v9h-1zM342 31h1v4h-1zM343 0h1v1h-1zM343 2h1v7h-1zM343 11h1v8h-1zM343 27h1v7h-1zM344 0h1v13h-1zM344 14h1v3h-1zM344 31h1v1h-1zM345 0h1v9h-1zM345 10h1v6h-1zM345 33h1v2h-1zM346 0h1v5h-1zM346 10h1v2h-1zM346 21h1v7h-1zM346 29h1v3h-1zM347 0h1v8h-1zM347 24h1v3h-1zM347 28h1v7h-1zM348 0h1v1h-1zM348 8h1v2h-1zM348 18h1v1h-1zM348 33h1v2h-1zM349 1h1v4h-1zM349 6h1v19h-1zM349 26h1v10h-1zM350 0h1v4h-1zM350 6h1v30h-1zM351 0h1v10h-1zM351 13h1v23h-1zM352 0h1v36h-1zM353 0h1v15h-1zM353 16h1v4h-1zM353 23h1v7h-1zM353 31h1v5h-1zM354 0h1v2h-1zM354 6h1v4h-1zM354 20h1v3h-1zM354 28h1v4h-1zM354 34h1v2h-1zM355 0h1v1h-1zM355 5h1v5h-1zM356 1h1v2h-1zM356 4h1v2h-1zM356 8h1v2h-1zM356 23h1v1h-1zM357 0h1v1h-1zM357 3h1v9h-1zM357 20h1v4h-1zM358 2h1v3h-1zM358 6h1v2h-1zM359 3h1v7h-1zM360 1h1v4h-1zM361 0h1v4h-1zM361 18h1v1h-1zM361 25h1v2h-1zM361 33h1v3h-1zM362 0h1v15h-1zM362 22h1v3h-1zM363 8h1v1h-1zM364 3h1v1h-1zM364 14h1v1h-1zM365 0h1v8h-1zM365 11h1v1h-1zM366 0h1v8h-1zM366 11h1v1h-1z"/>
<path fill="#8BD000" d="M0 25h1v2h-1zM1 10h1v2h-1zM1 21h1v3h-1zM1 28h1v1h-1zM3 0h1v1h-1zM3 6h1v2h-1zM3 10h1v18h-1zM3 29h1v7h-1zM4 0h1v11h-1zM4 13h1v18h-1zM5 0h1v19h-1zM5 20h1v1h-1zM5 23h1v1h-1zM5 25h1v5h-1zM5 32h1v4h-1zM6 0h1v2h-1zM6 4h1v18h-1zM6 23h1v3h-1zM7 10h1v6h-1zM8 0h1v5h-1zM8 7h1v4h-1zM8 25h1v7h-1zM9 0h1v3h-1zM9 4h1v1h-1zM9 6h1v2h-1zM9 13h1v14h-1zM9 28h1v2h-1zM9 31h1v4h-1zM10 0h1v5h-1zM10 7h1v11h-1zM10 19h1v3h-1zM10 25h1v2h-1zM10 35h1v1h-1zM11 0h1v1h-1zM11 4h1v1h-1zM11 9h1v3h-1zM11 17h1v10h-1zM11 29h1v1h-1zM11 31h1v4h-1zM12 10h1v7h-1zM12 25h1v7h-1zM12 33h1v1h-1zM13 13h1v1h-1zM13 17h1v5h-1zM13 23h1v4h-1zM13 28h1v1h-1zM13 31h1v4h-1zM14 12h1v1h-1zM15 9h1v13h-1zM15 25h1v1h-1zM15 27h1v4h-1zM15 34h1v1h-1zM16 0h1v4h-1zM16 8h1v11h-1zM17 9h1v11h-1zM18 2h1v1h-1zM19 9h1v1h-1zM20 9h1v1h-1zM20 31h1v1h-1zM20 34h1v1h-1zM21 10h1v1h-1zM21 12h1v1h-1zM21 18h1v4h-1zM22 11h1v2h-1zM22 15h1v2h-1zM22 26h1v2h-1zM23 2h1v1h-1zM23 7h1v8h-1zM23 16h1v10h-1zM24 12h1v4h-1zM24 17h1v6h-1zM24 27h1v1h-1zM25 3h1v3h-1zM25 12h1v2h-1zM25 15h1v2h-1zM25 29h1v2h-1zM26 9h1v9h-1zM26 30h1v3h-1zM26 34h1v2h-1zM27 1h1v2h-1zM27 9h1v1h-1zM27 12h1v1h-1zM27 18h1v3h-1zM27 23h1v2h-1zM28 0h1v4h-1zM28 11h1v11h-1zM28 23h1v7h-1zM28 33h1v3h-1zM29 1h1v7h-1zM29 9h1v4h-1zM29 14h1v6h-1zM29 22h1v1h-1zM29 26h1v5h-1zM29 33h1v2h-1zM31 10h1v2h-1zM31 20h1v7h-1zM31 31h1v5h-1zM32 0h1v8h-1zM32 10h1v4h-1zM32 18h1v10h-1zM33 0h1v4h-1zM33 5h1v3h-1zM33 9h1v2h-1zM33 17h1v9h-1zM34 0h1v5h-1zM34 6h1v6h-1zM35 3h1v2h-1zM35 6h1v2h-1zM36 0h1v10h-1zM36 12h1v4h-1zM36 19h1v15h-1zM37 0h1v1h-1zM37 4h1v4h-1zM37 9h1v27h-1zM38 0h1v1h-1zM38 5h1v2h-1zM38 19h1v17h-1zM39 18h1v2h-1zM39 24h1v1h-1zM39 30h1v1h-1zM39 32h1v3h-1zM40 24h1v3h-1zM41 18h1v2h-1zM42 19h1v1h-1zM42 24h1v4h-1zM43 20h1v3h-1zM43 25h1v11h-1zM44 1h1v6h-1zM44 14h1v22h-1zM45 0h1v12h-1zM45 13h1v23h-1zM46 1h1v6h-1zM46 8h1v4h-1zM46 16h1v11h-1zM46 28h1v8h-1zM47 3h1v2h-1zM47 12h1v1h-1zM47 18h1v4h-1zM47 26h1v1h-1zM47 28h1v2h-1zM48 0h1v11h-1zM48 19h1v1h-1zM48 29h1v2h-1zM49 0h1v12h-1zM59 31h1v5h-1zM60 13h1v3h-1zM60 18h1v18h-1zM61 0h1v1h-1zM61 2h1v2h-1zM61 6h1v1h-1zM61 14h1v2h-1zM61 19h1v17h-1zM62 29h1v5h-1zM62 35h1v1h-1zM63 34h1v2h-1zM64 11h1v2h-1zM64 15h1v1h-1zM65 2h1v1h-1zM65 7h1v29h-1zM66 0h1v2h-1zM66 3h1v16h-1zM66 26h1v10h-1zM67 2h1v2h-1zM67 10h1v12h-1zM67 23h1v4h-1zM68 0h1v36h-1zM69 0h1v2h-1zM69 10h1v8h-1zM69 26h1v10h-1zM70 12h1v2h-1zM70 18h1v2h-1zM70 21h1v8h-1zM70 30h1v6h-1zM71 14h1v1h-1zM71 19h1v17h-1zM72 19h1v8h-1zM73 10h1v6h-1zM73 17h1v2h-1zM73 20h1v16h-1zM74 9h1v8h-1zM74 20h1v12h-1zM75 0h1v1h-1zM75 6h1v2h-1zM75 15h1v1h-1zM75 25h1v4h-1zM76 0h1v27h-1zM76 28h1v8h-1zM77 0h1v26h-1zM78 0h1v1h-1zM78 16h1v16h-1zM79 0h1v6h-1zM79 7h1v2h-1zM79 10h1v8h-1zM79 26h1v6h-1zM79 33h1v3h-1zM80 0h1v9h-1zM80 11h1v7h-1zM80 33h1v3h-1zM81 2h1v3h-1zM81 9h1v17h-1zM81 29h1v5h-1zM81 35h1v1h-1zM82 0h1v6h-1zM82 11h1v4h-1zM82 16h1v20h-1zM83 0h1v4h-1zM83 7h1v2h-1zM83 13h1v15h-1zM83 29h1v3h-1zM83 33h1v2h-1zM84 0h1v2h-1zM84 5h1v2h-1zM84 12h1v24h-1zM85 0h1v3h-1zM85 5h1v9h-1zM85 21h1v9h-1zM85 31h1v5h-1zM86 0h1v4h-1zM86 5h1v13h-1zM86 24h1v7h-1zM86 32h1v3h-1zM87 5h1v1h-1zM88 0h1v9h-1zM88 10h1v2h-1zM88 13h1v4h-1zM88 18h1v1h-1zM88 20h1v4h-1zM88 27h1v5h-1zM89 0h1v16h-1zM89 20h1v3h-1zM89 24h1v4h-1zM89 32h1v4h-1zM90 2h1v34h-1zM91 11h1v2h-1zM91 27h1v1h-1zM91 30h1v6h-1zM92 6h1v1h-1zM92 10h1v5h-1zM92 20h1v2h-1zM92 25h1v11h-1zM93 5h1v3h-1zM93 10h1v11h-1zM93 23h1v3h-1zM93 27h1v9h-1zM94 0h1v10h-1zM94 17h1v4h-1zM94 25h1v6h-1zM95 0h1v2h-1zM95 4h1v10h-1zM95 15h1v21h-1zM96 0h1v36h-1zM97 0h1v4h-1zM97 7h1v1h-1zM97 9h1v2h-1zM97 13h1v23h-1zM98 1h1v9h-1zM98 11h1v1h-1zM98 14h1v1h-1zM98 17h1v1h-1zM98 30h1v6h-1zM99 0h1v4h-1zM99 6h1v5h-1zM99 32h1v1h-1zM99 34h1v2h-1zM100 0h1v4h-1zM100 7h1v4h-1zM100 13h1v3h-1zM100 26h1v10h-1zM101 0h1v10h-1zM101 11h1v1h-1zM101 13h1v1h-1zM101 15h1v5h-1zM101 24h1v1h-1zM101 28h1v8h-1zM102 0h1v34h-1zM103 0h1v1h-1zM103 2h1v5h-1zM103 10h1v19h-1zM103 30h1v1h-1zM103 33h1v1h-1zM104 0h1v5h-1zM104 8h1v13h-1zM104 34h1v2h-1zM105 0h1v3h-1zM105 14h1v5h-1zM105 22h1v11h-1zM105 35h1v1h-1zM106 0h1v8h-1zM106 12h1v10h-1zM106 24h1v12h-1zM107 0h1v4h-1zM107 14h1v18h-1zM107 35h1v1h-1zM108 0h1v1h-1zM108 2h1v5h-1zM108 8h1v2h-1zM108 15h1v5h-1zM108 21h1v1h-1zM108 25h1v7h-1zM108 33h1v3h-1zM109 2h1v2h-1zM109 5h1v2h-1zM109 17h1v8h-1zM109 32h1v4h-1zM110 0h1v1h-1zM110 6h1v1h-1zM110 12h1v2h-1zM110 15h1v21h-1zM111 0h1v6h-1zM111 18h1v18h-1zM112 0h1v3h-1zM112 4h1v8h-1zM112 14h1v6h-1zM112 28h1v2h-1zM112 34h1v2h-1zM113 0h1v2h-1zM113 7h1v9h-1zM113 31h1v1h-1zM114 0h1v1h-1zM114 7h1v11h-1zM114 19h1v2h-1zM114 24h1v3h-1zM115 5h1v1h-1zM115 7h1v1h-1zM115 26h1v3h-1zM115 32h1v4h-1zM116 0h1v3h-1zM116 5h1v3h-1zM116 10h1v2h-1zM116 14h1v22h-1zM117 10h1v2h-1zM117 17h1v12h-1zM117 30h1v3h-1zM118 0h1v2h-1zM118 9h1v5h-1zM118 16h1v9h-1zM118 27h1v9h-1zM119 2h1v1h-1zM119 9h1v8h-1zM119 18h1v9h-1zM120 1h1v3h-1zM120 12h1v1h-1zM120 15h1v13h-1zM121 15h1v2h-1zM121 22h1v13h-1zM122 1h1v1h-1zM122 6h1v4h-1zM122 13h1v23h-1zM123 9h1v1h-1zM123 11h1v5h-1zM123 19h1v10h-1zM123 32h1v2h-1zM124 12h1v2h-1zM124 15h1v1h-1zM124 20h1v8h-1zM124 32h1v1h-1zM124 34h1v2h-1zM125 0h1v3h-1zM125 9h1v7h-1zM125 19h1v10h-1zM125 30h1v2h-1zM125 34h1v2h-1zM126 0h1v2h-1zM126 11h1v23h-1zM127 1h1v8h-1zM127 10h1v26h-1zM128 0h1v1h-1zM128 4h1v19h-1zM128 27h1v1h-1zM128 32h1v4h-1zM129 5h1v7h-1zM129 13h1v3h-1zM129 18h1v14h-1zM129 34h1v2h-1zM130 7h1v22h-1zM130 30h1v6h-1zM131 2h1v1h-1zM131 19h1v17h-1zM132 0h1v8h-1zM132 22h1v4h-1zM132 31h1v5h-1zM133 3h1v7h-1zM133 14h1v1h-1zM133 18h1v4h-1zM133 28h1v8h-1zM134 4h1v4h-1zM134 20h1v16h-1zM135 1h1v3h-1zM135 7h1v6h-1zM135 17h1v5h-1zM135 23h1v4h-1zM136 0h1v4h-1zM136 19h1v8h-1zM136 33h1v3h-1zM137 0h1v5h-1zM137 9h1v5h-1zM137 15h1v16h-1zM137 32h1v1h-1zM138 0h1v11h-1zM138 20h1v7h-1zM138 31h1v4h-1zM139 0h1v9h-1zM139 10h1v10h-1zM139 27h1v1h-1zM139 31h1v5h-1zM140 0h1v22h-1zM140 23h1v4h-1zM140 30h1v5h-1zM141 0h1v7h-1zM141 10h1v2h-1zM141 14h1v1h-1zM141 17h1v19h-1zM142 4h1v1h-1zM142 9h1v2h-1zM142 12h1v12h-1zM142 25h1v3h-1zM142 35h1v1h-1zM143 9h1v3h-1zM143 17h1v19h-1zM144 17h1v4h-1zM144 23h1v3h-1zM144 28h1v2h-1zM144 32h1v1h-1zM145 11h1v4h-1zM145 16h1v8h-1zM145 25h1v11h-1zM146 21h1v1h-1zM146 26h1v10h-1zM147 9h1v9h-1zM147 19h1v5h-1zM148 0h1v8h-1zM149 10h1v1h-1zM149 12h1v1h-1zM151 5h1v1h-1zM151 8h1v1h-1zM151 12h1v1h-1zM152 9h1v2h-1zM152 12h1v1h-1zM154 7h1v1h-1zM154 14h1v1h-1zM158 8h1v1h-1zM159 8h1v1h-1zM161 15h1v1h-1zM162 7h1v1h-1zM162 19h1v1h-1zM239 8h1v12h-1zM239 25h1v11h-1zM240 0h1v2h-1zM240 8h1v3h-1zM240 12h1v24h-1zM241 0h1v5h-1zM241 6h1v30h-1zM242 0h1v1h-1zM242 9h1v1h-1zM242 15h1v5h-1zM242 22h1v4h-1zM242 30h1v4h-1zM243 5h1v13h-1zM243 20h1v5h-1zM243 26h1v4h-1zM243 31h1v5h-1zM244 0h1v1h-1zM244 2h1v28h-1zM244 33h1v3h-1zM245 0h1v1h-1zM245 5h1v7h-1zM245 14h1v4h-1zM245 19h1v1h-1zM245 21h1v1h-1zM245 28h1v3h-1zM246 0h1v1h-1zM246 2h1v3h-1zM246 11h1v4h-1zM246 17h1v7h-1zM246 29h1v7h-1zM247 0h1v18h-1zM247 19h1v4h-1zM247 24h1v6h-1zM247 31h1v1h-1zM247 33h1v3h-1zM248 0h1v17h-1zM248 18h1v2h-1zM248 23h1v1h-1zM248 33h1v3h-1zM249 0h1v1h-1zM249 13h1v7h-1zM249 23h1v2h-1zM249 31h1v5h-1zM250 10h1v3h-1zM250 20h1v16h-1zM251 27h1v3h-1zM261 10h1v4h-1zM261 17h1v1h-1zM261 21h1v4h-1zM261 27h1v2h-1zM262 2h1v1h-1zM262 8h1v9h-1zM262 20h1v3h-1zM262 24h1v2h-1zM262 33h1v2h-1zM263 0h1v1h-1zM263 2h1v1h-1zM263 5h1v4h-1zM263 11h1v2h-1zM263 14h1v4h-1zM263 19h1v4h-1zM263 26h1v2h-1zM264 1h1v1h-1zM264 9h1v3h-1zM264 18h1v10h-1zM264 30h1v1h-1zM264 34h1v2h-1zM266 21h1v1h-1zM273 1h1v4h-1zM273 9h1v1h-1zM273 14h1v2h-1zM273 22h1v6h-1zM274 1h1v1h-1zM274 4h1v2h-1zM274 7h1v1h-1zM274 24h1v5h-1zM275 3h1v1h-1zM275 16h1v2h-1zM276 3h1v2h-1zM276 6h1v3h-1zM276 10h1v10h-1zM276 22h1v5h-1zM276 28h1v1h-1zM276 31h1v3h-1zM277 0h1v3h-1zM277 5h1v2h-1zM277 9h1v2h-1zM277 12h1v8h-1zM278 0h1v26h-1zM278 35h1v1h-1zM279 0h1v20h-1zM279 28h1v5h-1zM280 5h1v17h-1zM280 23h1v5h-1zM280 29h1v7h-1zM281 7h1v1h-1zM282 0h1v1h-1zM282 29h1v6h-1zM283 0h1v5h-1zM283 6h1v2h-1zM283 33h1v3h-1zM284 12h1v10h-1zM284 28h1v8h-1zM285 0h1v8h-1zM285 9h1v8h-1zM285 29h1v7h-1zM286 0h1v1h-1zM286 5h1v16h-1zM286 24h1v12h-1zM287 0h1v9h-1zM287 10h1v5h-1zM287 16h1v7h-1zM287 25h1v11h-1zM288 13h1v10h-1zM288 25h1v11h-1zM289 10h1v2h-1zM290 12h1v7h-1zM292 14h1v1h-1zM292 20h1v5h-1zM293 24h1v3h-1zM294 10h1v4h-1zM296 0h1v1h-1zM298 0h1v2h-1zM298 4h1v4h-1zM298 9h1v27h-1zM299 1h1v19h-1zM299 23h1v13h-1zM300 0h1v35h-1zM301 0h1v13h-1zM301 16h1v13h-1zM301 34h1v2h-1zM302 0h1v36h-1zM303 2h1v25h-1zM303 28h1v7h-1zM304 0h1v1h-1zM304 3h1v5h-1zM304 12h1v24h-1zM305 0h1v4h-1zM305 5h1v3h-1zM305 9h1v27h-1zM306 5h1v2h-1zM306 10h1v26h-1zM307 0h1v12h-1zM307 15h1v7h-1zM307 27h1v4h-1zM307 35h1v1h-1zM308 0h1v5h-1zM308 7h1v7h-1zM308 15h1v12h-1zM308 29h1v7h-1zM309 0h1v2h-1zM309 3h1v15h-1zM309 21h1v15h-1zM310 0h1v14h-1zM310 15h1v21h-1zM311 0h1v1h-1zM311 3h1v4h-1zM311 9h1v27h-1zM312 0h1v1h-1zM312 6h1v4h-1zM312 11h1v1h-1zM312 13h1v8h-1zM312 23h1v13h-1zM313 0h1v7h-1zM313 9h1v5h-1zM313 17h1v19h-1zM314 0h1v10h-1zM314 11h1v3h-1zM314 15h1v7h-1zM314 23h1v6h-1zM314 31h1v5h-1zM315 0h1v9h-1zM315 10h1v1h-1zM315 12h1v3h-1zM315 17h1v9h-1zM315 29h1v7h-1zM316 7h1v29h-1zM317 1h1v3h-1zM317 10h1v2h-1zM317 13h1v23h-1zM318 10h1v2h-1zM318 18h1v1h-1zM318 22h1v1h-1zM318 29h1v4h-1zM318 35h1v1h-1zM319 10h1v1h-1zM319 14h1v3h-1zM319 28h1v7h-1zM320 5h1v2h-1zM320 22h1v1h-1zM320 24h1v3h-1zM320 33h1v1h-1zM321 0h1v2h-1zM321 21h1v2h-1zM321 31h1v3h-1zM322 0h1v9h-1zM322 14h1v3h-1zM322 18h1v18h-1zM323 0h1v19h-1zM323 25h1v11h-1zM324 2h1v1h-1zM324 11h1v3h-1zM324 18h1v13h-1zM325 13h1v3h-1zM325 18h1v2h-1zM325 21h1v1h-1zM325 28h1v2h-1zM325 32h1v3h-1zM326 4h1v3h-1zM326 9h1v2h-1zM326 12h1v3h-1zM326 18h1v2h-1zM326 21h1v2h-1zM326 29h1v7h-1zM327 10h1v2h-1zM327 14h1v17h-1zM328 0h1v3h-1zM328 4h1v2h-1zM328 7h1v1h-1zM328 14h1v1h-1zM328 17h1v19h-1zM329 14h1v1h-1zM329 19h1v16h-1zM330 8h1v6h-1zM330 16h1v20h-1zM331 7h1v2h-1zM331 11h1v1h-1zM331 13h1v23h-1zM332 0h1v6h-1zM332 7h1v6h-1zM332 16h1v2h-1zM332 19h1v2h-1zM332 25h1v2h-1zM332 29h1v7h-1zM333 0h1v2h-1zM333 5h1v26h-1zM333 33h1v3h-1zM334 1h1v3h-1zM334 9h1v27h-1zM335 6h1v20h-1zM335 32h1v4h-1zM336 0h1v8h-1zM336 11h1v10h-1zM336 22h1v9h-1zM336 34h1v2h-1zM337 0h1v3h-1zM337 10h1v24h-1zM337 35h1v1h-1zM338 0h1v2h-1zM338 3h1v1h-1zM338 10h1v12h-1zM338 23h1v11h-1zM338 35h1v1h-1zM339 0h1v3h-1zM339 5h1v20h-1zM339 26h1v6h-1zM340 6h1v13h-1zM340 22h1v3h-1zM340 27h1v9h-1zM341 0h1v1h-1zM341 3h1v24h-1zM341 31h1v4h-1zM342 9h1v22h-1zM342 35h1v1h-1zM343 1h1v1h-1zM343 9h1v2h-1zM343 19h1v8h-1zM343 34h1v2h-1zM344 13h1v1h-1zM344 17h1v14h-1zM344 32h1v4h-1zM345 9h1v1h-1zM345 16h1v17h-1zM345 35h1v1h-1zM346 5h1v5h-1zM346 12h1v9h-1zM346 28h1v1h-1zM346 32h1v4h-1zM347 8h1v16h-1zM347 27h1v1h-1zM347 35h1v1h-1zM348 1h1v7h-1zM348 10h1v8h-1zM348 19h1v14h-1zM348 35h1v1h-1zM349 0h1v1h-1zM349 5h1v1h-1zM350 4h1v2h-1zM351 10h1v3h-1zM353 15h1v1h-1zM353 20h1v3h-1zM353 30h1v1h-1zM354 2h1v4h-1zM354 10h1v10h-1zM354 23h1v5h-1zM354 32h1v2h-1zM355 1h1v4h-1zM355 10h1v26h-1zM356 0h1v1h-1zM356 3h1v1h-1zM356 6h1v2h-1zM356 10h1v13h-1zM356 24h1v12h-1zM357 1h1v2h-1zM357 12h1v8h-1zM357 24h1v12h-1zM358 0h1v1h-1zM358 5h1v1h-1zM358 8h1v19h-1zM358 34h1v2h-1zM359 0h1v3h-1zM359 10h1v26h-1zM360 0h1v1h-1zM360 5h1v31h-1zM361 4h1v14h-1zM361 19h1v6h-1zM361 27h1v6h-1zM362 15h1v7h-1zM362 25h1v9h-1zM363 0h1v8h-1zM363 9h1v27h-1zM364 0h1v3h-1zM364 4h1v10h-1zM364 15h1v21h-1zM365 8h1v3h-1zM365 12h1v24h-1zM366 8h1v3h-1zM366 12h1v24h-1z"/>
<path fill="#00A600" d="M8 6h1v1h-1zM9 5h1v1h-1zM11 1h1v2h-1zM11 7h1v1h-1zM29 0h1v1h-1zM34 5h1v1h-1zM36 34h1v2h-1zM37 1h1v3h-1zM37 8h1v1h-1zM38 1h1v3h-1zM65 1h1v1h-1zM74 32h1v4h-1zM77 26h1v10h-1zM78 1h1v15h-1zM78 32h1v4h-1zM79 6h1v1h-1zM79 9h1v1h-1zM79 32h1v1h-1zM81 28h1v1h-1zM81 34h1v1h-1zM83 4h1v3h-1zM83 9h1v1h-1zM85 30h1v1h-1zM87 30h1v5h-1zM88 32h1v4h-1zM100 4h1v3h-1zM101 26h1v2h-1zM102 34h1v2h-1zM103 29h1v1h-1zM103 31h1v2h-1zM103 34h1v2h-1zM108 10h1v3h-1zM108 20h1v1h-1zM108 22h1v3h-1zM108 32h1v1h-1zM125 29h1v1h-1zM125 32h1v2h-1zM126 8h1v3h-1zM127 9h1v1h-1zM128 1h1v3h-1zM129 32h1v2h-1zM130 2h1v5h-1zM139 9h1v1h-1zM141 7h1v3h-1zM141 12h1v2h-1zM141 15h1v2h-1zM145 15h1v1h-1zM145 24h1v1h-1zM239 20h1v1h-1zM240 2h1v6h-1zM240 11h1v1h-1zM241 5h1v1h-1zM242 1h1v2h-1zM244 1h1v1h-1zM246 24h1v5h-1zM247 30h1v1h-1zM247 32h1v1h-1zM248 17h1v1h-1zM249 1h1v12h-1zM262 4h1v4h-1zM263 1h1v1h-1zM263 3h1v2h-1zM278 27h1v8h-1zM280 1h1v4h-1zM285 23h1v6h-1zM288 1h1v1h-1zM299 20h1v3h-1zM311 7h1v2h-1zM313 14h1v3h-1zM315 9h1v1h-1zM315 11h1v1h-1zM315 26h1v3h-1zM334 4h1v3h-1zM335 26h1v6h-1zM336 10h1v1h-1zM336 21h1v1h-1zM336 31h1v3h-1zM341 1h1v2h-1zM358 1h1v1h-1zM358 27h1v7h-1zM362 34h1v2h-1z"/>
<path fill="#FFFFFF" d="M15 26h1v1h-1zM21 24h1v1h-1zM34 35h1v1h-1zM41 20h1v2h-1zM62 34h1v1h-1zM70 29h1v1h-1zM86 35h1v1h-1zM87 0h1v5h-1zM87 6h1v24h-1zM87 35h1v1h-1zM137 5h1v1h-1zM138 11h1v9h-1zM273 8h1v1h-1zM349 25h1v1h-1z"/>
</g></g>
<path d="M102 442H1537.2V747.9H102ZM102 747.9v13.5M102 442v-13.5M219.63 747.9v13.5M219.63 442v-13.5M337.26 747.9v13.5M337.26 442v-13.5M454.89 747.9v13.5M454.89 442v-13.5M572.52 747.9v13.5M572.52 442v-13.5M690.15 747.9v13.5M690.15 442v-13.5M807.78 747.9v13.5M807.78 442v-13.5M925.41 747.9v13.5M925.41 442v-13.5M1043.04 747.9v13.5M1043.04 442v-13.5M1160.67 747.9v13.5M1160.67 442v-13.5M1278.3 747.9v13.5M1278.3 442v-13.5M1395.93 747.9v13.5M1395.93 442v-13.5M1513.56 747.9v13.5M1513.56 442v-13.5M102 747.9h-13.5M1537.2 747.9h13.5M102 713.03h-13.5M1537.2 713.03h13.5M102 678.16h-13.5M1537.2 678.16h13.5M102 643.29h-13.5M1537.2 643.29h13.5M102 608.42h-13.5M1537.2 608.42h13.5M102 573.55h-13.5M1537.2 573.55h13.5M102 538.68h-13.5M1537.2 538.68h13.5M102 503.81h-13.5M1537.2 503.81h13.5M102 468.94h-13.5M1537.2 468.94h13.5" fill="none" stroke="#000" stroke-width="1.8" stroke-linecap="butt"/>
<g font-size="22.6" text-anchor="middle">
<text transform="translate(102 792.1) scale(1 1.02)">0</text>
<text transform="translate(219.63 792.1) scale(1 1.02)">30</text>
<text transform="translate(337.26 792.1) scale(1 1.02)">60</text>
<text transform="translate(454.89 792.1) scale(1 1.02)">90</text>
<text transform="translate(572.52 792.1) scale(1 1.02)">120</text>
<text transform="translate(690.15 792.1) scale(1 1.02)">150</text>
<text transform="translate(807.78 792.1) scale(1 1.02)">180</text>
<text transform="translate(925.41 792.1) scale(1 1.02)">210</text>
<text transform="translate(1043.04 792.1) scale(1 1.02)">240</text>
<text transform="translate(1160.67 792.1) scale(1 1.02)">270</text>
<text transform="translate(1278.3 792.1) scale(1 1.02)">300</text>
<text transform="translate(1395.93 792.1) scale(1 1.02)">330</text>
<text transform="translate(1513.56 792.1) scale(1 1.02)">360</text>
</g>
<g font-size="22.6" text-anchor="end">
<text transform="translate(75 755.9) scale(1 1.02)">8</text>
<text transform="translate(75 721.03) scale(1 1.02)">9</text>
<text transform="translate(75 686.16) scale(1 1.02)">10</text>
<text transform="translate(75 651.29) scale(1 1.02)">11</text>
<text transform="translate(75 616.42) scale(1 1.02)">12</text>
<text transform="translate(75 581.55) scale(1 1.02)">13</text>
<text transform="translate(75 546.68) scale(1 1.02)">14</text>
<text transform="translate(75 511.81) scale(1 1.02)">15</text>
<text transform="translate(75 476.94) scale(1 1.02)">16</text>
</g>
<text transform="translate(23.5 595.75) rotate(-90) scale(1 1.02)" font-size="28.5" text-anchor="middle">Time of Day (UTC+8)</text>
<g shape-rendering="crispEdges">
<rect x="1591" y="442" width="40.8" height="76.97" fill="#00A600"/>
<rect x="1591" y="518.48" width="40.8" height="76.97" fill="#8BD000"/>
<rect x="1591" y="594.95" width="40.8" height="76.97" fill="#EAB64E"/>
<rect x="1591" y="671.42" width="40.8" height="76.97" fill="#F2F2F2"/>
</g>
<path d="M1591 442H1631.8V747.9H1591ZM1631.8 480.24h10.5M1631.8 556.71h10.5M1631.8 633.19h10.5M1631.8 709.66h10.5" fill="none" stroke="#000" stroke-width="1.8"/>
<g font-size="29.1">
<text transform="translate(1648.3 476.6) scale(1 1.02)">Very</text>
<text transform="translate(1648.3 511) scale(1 1.02)">Sunny</text>
<text transform="translate(1648.3 565.5) scale(1 1.02)">Sunny</text>
<text transform="translate(1648.3 639.4) scale(1 1.02)">Cloudy</text>
<text transform="translate(1648.3 696.7) scale(1 1.02)">No</text>
<text transform="translate(1648.3 730.6) scale(1 1.02)">Data</text>
</g>
<text transform="translate(819.7 839.2) scale(1 1.02)" font-size="28.8" text-anchor="middle">Day of Year</text>
<text transform="translate(5 940) scale(1 1.02)" font-size="31.6" font-weight="bold">B</text>
<text transform="translate(161.4 955.4) scale(1 1.02)" font-size="40.6">2016</text>
<clipPath id="c1B"><rect x="103.7" y="986.7" width="1433.5" height="310.4"/></clipPath>
<g clip-path="url(#c1B)"><g shape-rendering="crispEdges" transform="translate(105.66 1300.09) scale(3.917 -5.9717)">
<path fill="#37B900" d="M0 0h1v1h-1zM0 50h1v1h-1zM3 24h1v1h-1zM4 23h1v1h-1zM6 2h1v1h-1zM6 11h1v1h-1zM6 15h1v1h-1zM8 23h1v1h-1zM8 26h1v1h-1zM8 35h1v1h-1zM9 44h1v1h-1zM9 46h1v3h-1zM10 3h1v2h-1zM10 18h1v1h-1zM10 34h1v1h-1zM11 3h1v1h-1zM11 36h1v1h-1zM11 39h1v2h-1zM11 46h1v1h-1zM12 17h1v1h-1zM13 40h1v1h-1zM13 45h1v2h-1zM13 50h1v1h-1zM14 31h1v3h-1zM14 37h1v1h-1zM14 41h1v2h-1zM15 26h1v2h-1zM17 43h1v1h-1zM17 50h1v1h-1zM18 14h1v1h-1zM18 22h1v1h-1zM18 34h1v1h-1zM18 37h1v1h-1zM18 42h1v1h-1zM22 35h1v2h-1zM22 39h1v1h-1zM22 45h1v2h-1zM22 50h1v1h-1zM23 42h1v4h-1zM23 48h1v1h-1zM24 8h1v1h-1zM24 37h1v2h-1zM24 43h1v1h-1zM26 3h1v1h-1zM26 24h1v1h-1zM26 49h1v1h-1zM27 5h1v1h-1zM27 14h1v1h-1zM27 19h1v2h-1zM27 26h1v1h-1zM27 37h1v1h-1zM27 40h1v1h-1zM27 45h1v1h-1zM27 51h1v1h-1zM28 2h1v1h-1zM28 39h1v1h-1zM29 11h1v1h-1zM29 14h1v1h-1zM29 37h1v1h-1zM29 43h1v5h-1zM29 50h1v1h-1zM30 31h1v4h-1zM30 39h1v2h-1zM30 43h1v1h-1zM30 45h1v1h-1zM32 48h1v4h-1zM33 42h1v1h-1zM34 8h1v1h-1zM35 19h1v2h-1zM35 27h1v1h-1zM35 46h1v1h-1zM38 38h1v3h-1zM38 47h1v1h-1zM41 39h1v1h-1zM41 44h1v1h-1zM41 47h1v1h-1zM44 0h1v1h-1zM44 3h1v2h-1zM44 46h1v1h-1zM44 48h1v1h-1zM44 50h1v2h-1zM45 17h1v1h-1zM45 23h1v1h-1zM45 34h1v2h-1zM45 39h1v1h-1zM45 51h1v1h-1zM46 0h1v1h-1zM46 8h1v2h-1zM46 44h1v1h-1zM46 46h1v2h-1zM47 36h1v1h-1zM47 38h1v1h-1zM48 30h1v6h-1zM48 44h1v1h-1zM48 48h1v1h-1zM49 43h1v1h-1zM51 14h1v1h-1zM52 28h1v1h-1zM52 50h1v1h-1zM54 3h1v2h-1zM56 9h1v1h-1zM62 1h1v1h-1zM62 35h1v1h-1zM62 41h1v1h-1zM62 49h1v1h-1zM64 21h1v2h-1zM65 44h1v1h-1zM67 50h1v1h-1zM68 21h1v1h-1zM68 23h1v2h-1zM68 46h1v3h-1zM69 1h1v3h-1zM69 12h1v1h-1zM69 20h1v1h-1zM69 44h1v2h-1zM69 47h1v1h-1zM70 4h1v2h-1zM70 7h1v1h-1zM70 17h1v2h-1zM70 45h1v1h-1zM77 5h1v2h-1zM77 8h1v2h-1zM77 13h1v1h-1zM77 22h1v1h-1zM77 49h1v1h-1zM78 24h1v1h-1zM78 27h1v4h-1zM78 32h1v1h-1zM79 0h1v1h-1zM79 15h1v1h-1zM79 28h1v2h-1zM80 17h1v1h-1zM80 47h1v1h-1zM80 49h1v1h-1zM82 14h1v1h-1zM82 18h1v1h-1zM82 35h1v1h-1zM83 22h1v2h-1zM83 28h1v3h-1zM83 37h1v1h-1zM84 13h1v1h-1zM84 18h1v1h-1zM84 26h1v1h-1zM86 3h1v1h-1zM86 20h1v3h-1zM86 30h1v2h-1zM86 33h1v1h-1zM87 6h1v1h-1zM87 22h1v1h-1zM87 51h1v1h-1zM88 2h1v1h-1zM88 14h1v1h-1zM88 19h1v1h-1zM88 23h1v3h-1zM88 27h1v1h-1zM88 30h1v1h-1zM88 37h1v1h-1zM88 40h1v1h-1zM89 14h1v1h-1zM89 17h1v1h-1zM89 20h1v2h-1zM89 27h1v1h-1zM90 0h1v2h-1zM90 3h1v1h-1zM90 9h1v1h-1zM90 12h1v2h-1zM90 19h1v1h-1zM90 24h1v5h-1zM90 35h1v2h-1zM90 39h1v1h-1zM90 44h1v1h-1zM90 49h1v3h-1zM92 29h1v1h-1zM92 42h1v1h-1zM93 24h1v1h-1zM93 49h1v1h-1zM94 15h1v1h-1zM94 29h1v1h-1zM94 32h1v1h-1zM94 37h1v1h-1zM96 27h1v2h-1zM96 32h1v1h-1zM97 44h1v1h-1zM97 51h1v1h-1zM98 34h1v1h-1zM101 0h1v2h-1zM101 12h1v1h-1zM101 14h1v2h-1zM101 22h1v1h-1zM101 26h1v1h-1zM101 33h1v1h-1zM101 35h1v1h-1zM101 39h1v2h-1zM101 42h1v2h-1zM101 45h1v1h-1zM101 49h1v1h-1zM102 31h1v2h-1zM102 35h1v5h-1zM102 41h1v2h-1zM103 47h1v3h-1zM105 0h1v1h-1zM105 2h1v1h-1zM105 17h1v1h-1zM105 23h1v1h-1zM105 29h1v3h-1zM105 33h1v2h-1zM106 9h1v1h-1zM106 31h1v1h-1zM106 42h1v3h-1zM106 46h1v2h-1zM107 0h1v1h-1zM108 0h1v1h-1zM108 3h1v1h-1zM108 14h1v1h-1zM108 17h1v1h-1zM108 35h1v1h-1zM108 48h1v2h-1zM109 19h1v2h-1zM109 23h1v1h-1zM109 25h1v3h-1zM109 40h1v1h-1zM110 36h1v1h-1zM110 48h1v1h-1zM112 1h1v2h-1zM112 28h1v1h-1zM112 30h1v1h-1zM112 32h1v1h-1zM112 49h1v1h-1zM112 51h1v1h-1zM113 30h1v1h-1zM113 32h1v1h-1zM113 35h1v1h-1zM114 27h1v1h-1zM114 31h1v2h-1zM114 35h1v1h-1zM114 37h1v1h-1zM115 12h1v1h-1zM115 34h1v1h-1zM117 12h1v1h-1zM117 14h1v1h-1zM117 17h1v1h-1zM117 19h1v2h-1zM117 22h1v1h-1zM118 17h1v1h-1zM118 38h1v1h-1zM120 18h1v1h-1zM120 21h1v1h-1zM120 33h1v2h-1zM120 41h1v1h-1zM120 43h1v1h-1zM120 45h1v1h-1zM120 49h1v1h-1zM121 0h1v2h-1zM121 15h1v1h-1zM121 23h1v1h-1zM121 45h1v1h-1zM121 48h1v1h-1zM122 7h1v1h-1zM122 20h1v1h-1zM124 10h1v1h-1zM124 25h1v3h-1zM124 35h1v1h-1zM124 40h1v2h-1zM124 45h1v1h-1zM124 49h1v1h-1zM125 4h1v1h-1zM125 32h1v1h-1zM126 14h1v1h-1zM126 20h1v2h-1zM126 25h1v4h-1zM126 47h1v1h-1zM126 49h1v1h-1zM126 51h1v1h-1zM127 37h1v2h-1zM129 1h1v1h-1zM131 6h1v1h-1zM131 26h1v1h-1zM131 28h1v2h-1zM131 33h1v1h-1zM133 7h1v1h-1zM133 31h1v1h-1zM134 46h1v2h-1zM138 5h1v1h-1zM138 8h1v1h-1zM138 13h1v1h-1zM138 48h1v2h-1zM139 5h1v1h-1zM139 29h1v1h-1zM140 3h1v2h-1zM140 12h1v1h-1zM140 20h1v1h-1zM141 1h1v1h-1zM144 1h1v2h-1zM144 8h1v1h-1zM144 19h1v1h-1zM144 23h1v1h-1zM144 33h1v1h-1zM144 36h1v1h-1zM145 1h1v1h-1zM145 23h1v1h-1zM145 33h1v2h-1zM146 1h1v1h-1zM146 23h1v1h-1zM149 7h1v1h-1zM149 17h1v2h-1zM149 34h1v1h-1zM150 0h1v2h-1zM150 8h1v1h-1zM150 18h1v2h-1zM150 36h1v1h-1zM151 32h1v2h-1zM152 10h1v1h-1zM152 14h1v1h-1zM152 23h1v3h-1zM152 29h1v1h-1zM152 33h1v3h-1zM153 0h1v1h-1zM153 2h1v1h-1zM153 9h1v2h-1zM153 26h1v1h-1zM155 10h1v1h-1zM156 7h1v1h-1zM157 26h1v1h-1zM157 30h1v2h-1zM157 45h1v1h-1zM158 32h1v1h-1zM158 34h1v1h-1zM158 49h1v1h-1zM160 0h1v1h-1zM160 24h1v1h-1zM161 5h1v1h-1zM161 7h1v1h-1zM161 10h1v2h-1zM161 14h1v1h-1zM161 18h1v1h-1zM161 22h1v1h-1zM161 28h1v2h-1zM162 8h1v1h-1zM162 10h1v1h-1zM162 20h1v1h-1zM162 31h1v1h-1zM165 51h1v1h-1zM166 14h1v2h-1zM166 32h1v1h-1zM166 46h1v1h-1zM167 1h1v1h-1zM167 42h1v1h-1zM169 17h1v1h-1zM169 20h1v1h-1zM169 22h1v1h-1zM172 36h1v1h-1zM173 17h1v1h-1zM175 3h1v1h-1zM175 43h1v1h-1zM177 2h1v2h-1zM177 41h1v1h-1zM177 43h1v2h-1zM180 24h1v2h-1zM180 33h1v1h-1zM180 50h1v1h-1zM181 10h1v1h-1zM181 46h1v1h-1zM184 1h1v1h-1zM184 24h1v1h-1zM184 30h1v1h-1zM185 22h1v2h-1zM185 27h1v1h-1zM185 33h1v1h-1zM186 41h1v1h-1zM186 48h1v2h-1zM187 0h1v1h-1zM187 2h1v1h-1zM187 6h1v1h-1zM188 9h1v1h-1zM189 2h1v1h-1zM189 5h1v1h-1zM189 10h1v1h-1zM189 35h1v1h-1zM189 44h1v1h-1zM190 5h1v1h-1zM190 8h1v1h-1zM190 10h1v1h-1zM190 25h1v1h-1zM190 27h1v1h-1zM190 29h1v1h-1zM191 2h1v5h-1zM191 10h1v1h-1zM191 12h1v1h-1zM191 50h1v2h-1zM192 17h1v2h-1zM192 20h1v1h-1zM192 30h1v3h-1zM193 19h1v1h-1zM193 30h1v4h-1zM194 1h1v1h-1zM194 3h1v1h-1zM194 5h1v3h-1zM194 20h1v1h-1zM194 30h1v2h-1zM194 36h1v1h-1zM195 1h1v1h-1zM195 9h1v1h-1zM195 12h1v2h-1zM195 15h1v1h-1zM195 36h1v1h-1zM195 46h1v1h-1zM195 48h1v4h-1zM196 28h1v1h-1zM196 33h1v2h-1zM196 39h1v1h-1zM196 42h1v1h-1zM196 44h1v3h-1zM197 4h1v1h-1zM197 28h1v1h-1zM197 35h1v1h-1zM197 41h1v3h-1zM198 3h1v1h-1zM198 21h1v1h-1zM198 23h1v2h-1zM198 29h1v1h-1zM199 3h1v1h-1zM199 5h1v1h-1zM202 0h1v3h-1zM204 4h1v1h-1zM204 18h1v1h-1zM210 0h1v2h-1zM210 46h1v1h-1zM210 48h1v1h-1zM210 50h1v1h-1zM213 25h1v1h-1zM213 31h1v1h-1zM217 3h1v1h-1zM217 12h1v3h-1zM217 18h1v2h-1zM219 32h1v1h-1zM220 19h1v3h-1zM222 15h1v1h-1zM224 28h1v1h-1zM224 44h1v2h-1zM225 21h1v1h-1zM226 50h1v1h-1zM227 11h1v1h-1zM227 23h1v1h-1zM227 32h1v3h-1zM227 36h1v1h-1zM227 39h1v1h-1zM227 44h1v2h-1zM228 45h1v1h-1zM228 49h1v1h-1zM230 5h1v2h-1zM230 25h1v1h-1zM230 29h1v1h-1zM231 17h1v2h-1zM231 20h1v2h-1zM233 25h1v1h-1zM235 13h1v1h-1zM235 30h1v1h-1zM235 34h1v1h-1zM235 44h1v1h-1zM236 12h1v1h-1zM236 27h1v1h-1zM236 29h1v1h-1zM236 31h1v1h-1zM236 40h1v1h-1zM236 49h1v1h-1zM237 39h1v1h-1zM238 23h1v1h-1zM239 27h1v3h-1zM239 33h1v1h-1zM239 35h1v1h-1zM239 39h1v1h-1zM242 9h1v1h-1zM242 12h1v2h-1zM242 20h1v1h-1zM242 24h1v2h-1zM243 2h1v1h-1zM243 7h1v2h-1zM243 10h1v1h-1zM243 13h1v2h-1zM243 31h1v2h-1zM244 1h1v1h-1zM244 4h1v2h-1zM244 14h1v1h-1zM244 41h1v1h-1zM245 5h1v1h-1zM245 10h1v3h-1zM247 1h1v1h-1zM248 41h1v1h-1zM248 46h1v2h-1zM250 15h1v1h-1zM250 28h1v1h-1zM250 42h1v2h-1zM250 45h1v1h-1zM254 3h1v1h-1zM254 9h1v1h-1zM254 17h1v1h-1zM258 2h1v1h-1zM258 5h1v1h-1zM258 9h1v1h-1zM258 11h1v1h-1zM258 15h1v1h-1zM259 7h1v2h-1zM259 22h1v1h-1zM259 24h1v1h-1zM259 26h1v1h-1zM259 44h1v1h-1zM260 30h1v2h-1zM260 41h1v1h-1zM261 6h1v2h-1zM261 12h1v2h-1zM261 24h1v1h-1zM261 26h1v1h-1zM261 33h1v2h-1zM261 40h1v4h-1zM262 29h1v1h-1zM262 31h1v1h-1zM262 41h1v2h-1zM263 41h1v1h-1zM263 43h1v1h-1zM264 8h1v2h-1zM264 12h1v1h-1zM264 26h1v5h-1zM264 36h1v1h-1zM264 40h1v1h-1zM264 44h1v1h-1zM264 50h1v1h-1zM267 1h1v1h-1zM267 3h1v1h-1zM267 6h1v1h-1zM267 10h1v1h-1zM268 30h1v1h-1zM268 48h1v2h-1zM269 23h1v1h-1zM269 35h1v1h-1zM269 38h1v2h-1zM269 42h1v1h-1zM272 12h1v2h-1zM272 19h1v2h-1zM273 10h1v1h-1zM273 12h1v2h-1zM273 15h1v1h-1zM273 41h1v1h-1zM273 43h1v1h-1zM274 14h1v1h-1zM274 17h1v4h-1zM274 22h1v2h-1zM274 28h1v1h-1zM274 41h1v1h-1zM279 0h1v1h-1zM279 3h1v1h-1zM279 18h1v1h-1zM279 20h1v3h-1zM281 27h1v1h-1zM282 5h1v1h-1zM282 7h1v1h-1zM282 36h1v1h-1zM282 38h1v3h-1zM283 46h1v1h-1zM284 0h1v1h-1zM284 3h1v1h-1zM284 6h1v1h-1zM284 8h1v6h-1zM284 19h1v1h-1zM284 47h1v1h-1zM285 0h1v1h-1zM285 12h1v1h-1zM285 23h1v1h-1zM285 30h1v1h-1zM285 33h1v1h-1zM285 42h1v1h-1zM285 45h1v1h-1zM287 31h1v1h-1zM287 43h1v1h-1zM287 47h1v1h-1zM288 3h1v3h-1zM289 27h1v1h-1zM289 31h1v1h-1zM291 41h1v1h-1zM292 23h1v1h-1zM292 31h1v2h-1zM292 38h1v1h-1zM292 44h1v1h-1zM295 3h1v1h-1zM295 15h1v1h-1zM298 34h1v2h-1zM298 39h1v2h-1zM299 15h1v1h-1zM300 4h1v1h-1zM300 9h1v1h-1zM300 20h1v1h-1zM303 6h1v2h-1zM303 14h1v1h-1zM303 21h1v1h-1zM304 1h1v2h-1zM306 15h1v1h-1zM307 7h1v1h-1zM307 10h1v1h-1zM307 21h1v3h-1zM307 42h1v1h-1zM307 45h1v1h-1zM311 31h1v1h-1zM311 40h1v4h-1zM312 47h1v1h-1zM312 50h1v1h-1zM313 18h1v2h-1zM314 1h1v3h-1zM314 18h1v1h-1zM314 20h1v2h-1zM314 28h1v1h-1zM315 9h1v1h-1zM315 28h1v4h-1zM315 34h1v3h-1zM316 2h1v1h-1zM316 4h1v1h-1zM317 9h1v1h-1zM317 11h1v1h-1zM317 14h1v2h-1zM317 27h1v3h-1zM317 46h1v1h-1zM317 51h1v1h-1zM318 2h1v1h-1zM320 24h1v1h-1zM321 10h1v2h-1zM322 0h1v1h-1zM323 26h1v2h-1zM323 49h1v1h-1zM324 35h1v4h-1zM324 46h1v2h-1zM325 37h1v1h-1zM325 42h1v1h-1zM326 1h1v2h-1zM326 4h1v1h-1zM326 37h1v3h-1zM326 41h1v2h-1zM326 44h1v1h-1zM327 3h1v2h-1zM329 23h1v1h-1zM331 10h1v1h-1zM331 15h1v1h-1zM331 17h1v2h-1zM331 24h1v1h-1zM331 26h1v1h-1zM331 29h1v1h-1zM331 50h1v1h-1zM332 0h1v2h-1zM332 7h1v1h-1zM332 30h1v1h-1zM332 33h1v1h-1zM332 36h1v1h-1zM332 40h1v1h-1zM333 37h1v1h-1zM334 3h1v1h-1zM335 1h1v1h-1zM335 15h1v1h-1zM335 26h1v1h-1zM335 35h1v1h-1zM336 1h1v3h-1zM336 5h1v1h-1zM336 10h1v2h-1zM336 15h1v1h-1zM337 13h1v1h-1zM337 15h1v1h-1zM342 0h1v3h-1zM342 29h1v1h-1zM342 31h1v1h-1zM342 33h1v1h-1zM343 11h1v1h-1zM343 17h1v1h-1zM343 19h1v1h-1zM343 31h1v3h-1zM344 2h1v1h-1zM344 13h1v1h-1zM344 15h1v1h-1zM344 17h1v3h-1zM344 30h1v2h-1zM346 8h1v1h-1zM347 3h1v1h-1zM347 38h1v1h-1zM348 13h1v2h-1zM348 34h1v1h-1zM348 36h1v3h-1zM348 48h1v1h-1zM349 4h1v1h-1zM349 7h1v1h-1zM349 9h1v1h-1zM349 15h1v1h-1zM350 5h1v1h-1zM350 7h1v1h-1zM350 49h1v2h-1zM351 10h1v2h-1zM351 15h1v1h-1zM352 32h1v2h-1zM354 15h1v1h-1zM354 20h1v2h-1zM355 17h1v1h-1zM356 2h1v1h-1zM356 5h1v1h-1zM356 20h1v3h-1zM358 45h1v1h-1zM359 14h1v1h-1zM359 17h1v1h-1zM360 27h1v1h-1zM361 30h1v1h-1zM363 7h1v2h-1zM363 19h1v1h-1z"/>
<path fill="#28B400" d="M0 1h1v1h-1zM0 48h1v2h-1zM2 28h1v1h-1zM4 0h1v2h-1zM4 3h1v2h-1zM4 10h1v2h-1zM6 1h1v1h-1zM6 3h1v1h-1zM6 10h1v1h-1zM6 12h1v2h-1zM10 26h1v1h-1zM10 30h1v1h-1zM10 33h1v1h-1zM11 29h1v1h-1zM11 31h1v2h-1zM11 45h1v1h-1zM13 44h1v1h-1zM17 44h1v2h-1zM17 48h1v2h-1zM17 51h1v1h-1zM18 15h1v1h-1zM18 21h1v1h-1zM18 38h1v2h-1zM23 1h1v1h-1zM23 32h1v1h-1zM27 18h1v1h-1zM27 21h1v1h-1zM27 36h1v1h-1zM29 34h1v3h-1zM29 42h1v1h-1zM29 48h1v1h-1zM29 51h1v1h-1zM30 24h1v2h-1zM30 30h1v1h-1zM30 35h1v1h-1zM30 37h1v1h-1zM30 42h1v1h-1zM31 40h1v2h-1zM32 47h1v1h-1zM38 46h1v1h-1zM41 43h1v1h-1zM41 45h1v1h-1zM44 49h1v1h-1zM45 18h1v1h-1zM45 22h1v1h-1zM45 37h1v2h-1zM46 3h1v1h-1zM46 14h1v1h-1zM46 45h1v1h-1zM47 14h1v1h-1zM47 29h1v1h-1zM47 51h1v1h-1zM49 44h1v1h-1zM59 50h1v1h-1zM62 40h1v1h-1zM67 20h1v1h-1zM69 13h1v3h-1zM69 43h1v1h-1zM69 46h1v1h-1zM69 48h1v2h-1zM70 0h1v1h-1zM70 6h1v1h-1zM70 49h1v2h-1zM71 6h1v1h-1zM77 12h1v1h-1zM77 30h1v1h-1zM78 31h1v1h-1zM79 27h1v1h-1zM80 44h1v1h-1zM82 17h1v1h-1zM84 27h1v1h-1zM88 4h1v1h-1zM88 10h1v2h-1zM88 13h1v1h-1zM88 15h1v1h-1zM88 17h1v2h-1zM88 20h1v1h-1zM88 42h1v1h-1zM88 47h1v1h-1zM90 10h1v1h-1zM90 17h1v1h-1zM90 23h1v1h-1zM90 37h1v2h-1zM94 14h1v1h-1zM94 30h1v2h-1zM96 29h1v1h-1zM96 31h1v1h-1zM101 10h1v2h-1zM101 21h1v1h-1zM101 27h1v1h-1zM101 38h1v1h-1zM103 33h1v1h-1zM105 1h1v1h-1zM105 3h1v1h-1zM106 35h1v1h-1zM106 41h1v1h-1zM108 1h1v1h-1zM108 15h1v1h-1zM108 18h1v3h-1zM109 21h1v2h-1zM109 24h1v1h-1zM110 38h1v1h-1zM113 29h1v1h-1zM113 31h1v1h-1zM114 28h1v1h-1zM114 50h1v2h-1zM115 10h1v1h-1zM115 14h1v1h-1zM117 21h1v1h-1zM117 23h1v1h-1zM120 27h1v1h-1zM120 30h1v3h-1zM120 46h1v2h-1zM120 51h1v1h-1zM121 2h1v1h-1zM121 5h1v1h-1zM121 18h1v4h-1zM121 29h1v1h-1zM121 46h1v2h-1zM122 1h1v2h-1zM122 8h1v1h-1zM122 14h1v1h-1zM122 18h1v1h-1zM122 35h1v1h-1zM124 29h1v2h-1zM124 32h1v1h-1zM124 34h1v1h-1zM126 23h1v2h-1zM126 43h1v1h-1zM127 36h1v1h-1zM128 19h1v1h-1zM133 32h1v1h-1zM138 14h1v2h-1zM138 50h1v1h-1zM139 4h1v1h-1zM140 7h1v2h-1zM140 11h1v1h-1zM142 6h1v1h-1zM144 4h1v3h-1zM145 26h1v1h-1zM145 28h1v2h-1zM146 2h1v1h-1zM149 11h1v1h-1zM149 13h1v2h-1zM150 35h1v1h-1zM152 11h1v1h-1zM152 13h1v1h-1zM152 22h1v1h-1zM152 36h1v1h-1zM153 1h1v1h-1zM153 21h1v1h-1zM157 25h1v1h-1zM161 32h1v1h-1zM162 11h1v1h-1zM166 33h1v1h-1zM167 43h1v1h-1zM167 45h1v1h-1zM172 33h1v3h-1zM174 38h1v1h-1zM181 6h1v1h-1zM181 9h1v1h-1zM181 14h1v1h-1zM184 51h1v1h-1zM185 3h1v1h-1zM185 24h1v2h-1zM185 28h1v2h-1zM185 32h1v1h-1zM185 45h1v1h-1zM187 1h1v1h-1zM187 3h1v1h-1zM187 5h1v1h-1zM189 9h1v1h-1zM189 14h1v1h-1zM190 3h1v2h-1zM190 30h1v2h-1zM191 13h1v1h-1zM192 45h1v3h-1zM193 35h1v2h-1zM193 46h1v1h-1zM194 35h1v1h-1zM195 14h1v1h-1zM195 44h1v2h-1zM196 29h1v1h-1zM196 31h1v1h-1zM198 1h1v2h-1zM199 10h1v1h-1zM200 31h1v2h-1zM202 3h1v2h-1zM202 24h1v1h-1zM213 24h1v1h-1zM217 20h1v1h-1zM224 46h1v1h-1zM226 47h1v1h-1zM226 49h1v1h-1zM226 51h1v1h-1zM227 12h1v1h-1zM227 35h1v1h-1zM228 41h1v2h-1zM231 15h1v1h-1zM231 19h1v1h-1zM233 26h1v1h-1zM234 2h1v1h-1zM235 20h1v1h-1zM235 32h1v2h-1zM236 10h1v1h-1zM236 20h1v4h-1zM237 41h1v3h-1zM238 25h1v2h-1zM239 1h1v1h-1zM239 3h1v1h-1zM239 30h1v2h-1zM239 37h1v1h-1zM241 18h1v2h-1zM242 10h1v2h-1zM243 3h1v2h-1zM243 9h1v1h-1zM243 29h1v1h-1zM243 33h1v1h-1zM244 2h1v1h-1zM246 44h1v4h-1zM247 2h1v1h-1zM250 19h1v1h-1zM250 48h1v1h-1zM254 8h1v1h-1zM254 14h1v2h-1zM254 27h1v2h-1zM258 6h1v1h-1zM258 12h1v1h-1zM258 14h1v1h-1zM259 2h1v1h-1zM259 23h1v1h-1zM259 27h1v3h-1zM260 4h1v1h-1zM260 32h1v2h-1zM260 35h1v1h-1zM261 8h1v1h-1zM261 14h1v1h-1zM261 18h1v3h-1zM261 22h1v1h-1zM261 25h1v1h-1zM261 31h1v1h-1zM262 32h1v1h-1zM263 39h1v1h-1zM264 33h1v2h-1zM264 38h1v2h-1zM264 45h1v1h-1zM269 22h1v1h-1zM269 40h1v1h-1zM272 14h1v1h-1zM272 21h1v1h-1zM272 24h1v1h-1zM273 14h1v1h-1zM274 40h1v1h-1zM274 49h1v2h-1zM279 13h1v1h-1zM279 19h1v1h-1zM282 0h1v1h-1zM282 8h1v1h-1zM282 37h1v1h-1zM282 41h1v1h-1zM284 5h1v1h-1zM285 24h1v2h-1zM285 43h1v2h-1zM287 44h1v1h-1zM288 0h1v3h-1zM289 30h1v1h-1zM291 39h1v1h-1zM292 36h1v2h-1zM292 45h1v1h-1zM295 12h1v1h-1zM295 14h1v1h-1zM295 45h1v3h-1zM297 4h1v1h-1zM297 25h1v1h-1zM299 10h1v2h-1zM299 51h1v1h-1zM300 1h1v1h-1zM300 3h1v1h-1zM300 5h1v4h-1zM300 19h1v1h-1zM301 18h1v1h-1zM303 8h1v1h-1zM303 23h1v1h-1zM303 27h1v1h-1zM304 3h1v2h-1zM307 1h1v1h-1zM307 6h1v1h-1zM307 49h1v1h-1zM314 4h1v1h-1zM314 22h1v1h-1zM314 24h1v1h-1zM315 17h1v1h-1zM317 47h1v1h-1zM322 44h1v1h-1zM324 2h1v1h-1zM324 5h1v1h-1zM324 33h1v1h-1zM325 39h1v2h-1zM325 43h1v1h-1zM326 36h1v1h-1zM326 40h1v1h-1zM327 6h1v5h-1zM331 9h1v1h-1zM331 11h1v1h-1zM332 2h1v1h-1zM332 4h1v1h-1zM332 31h1v2h-1zM332 35h1v1h-1zM333 38h1v1h-1zM333 48h1v2h-1zM336 0h1v1h-1zM336 6h1v1h-1zM336 12h1v3h-1zM337 17h1v1h-1zM343 9h1v1h-1zM344 6h1v2h-1zM348 0h1v2h-1zM348 3h1v1h-1zM348 24h1v1h-1zM348 44h1v1h-1zM349 40h1v1h-1zM349 44h1v1h-1zM350 2h1v1h-1zM350 8h1v1h-1zM352 7h1v2h-1zM353 4h1v1h-1zM353 6h1v1h-1zM354 17h1v1h-1zM360 28h1v2h-1z"/>
<path fill="#EAB74B" d="M0 2h1v1h-1zM0 5h1v1h-1zM0 10h1v1h-1zM0 12h1v1h-1zM0 14h1v1h-1zM0 21h1v1h-1zM0 25h1v1h-1zM0 27h1v1h-1zM0 29h1v1h-1zM0 31h1v1h-1zM0 35h1v1h-1zM2 6h1v1h-1zM2 22h1v1h-1zM2 24h1v1h-1zM2 31h1v1h-1zM2 35h1v1h-1zM2 46h1v1h-1zM3 29h1v1h-1zM4 48h1v1h-1zM5 24h1v1h-1zM5 42h1v1h-1zM8 28h1v2h-1zM8 33h1v1h-1zM12 7h1v1h-1zM12 18h1v1h-1zM12 44h1v1h-1zM12 47h1v1h-1zM15 5h1v1h-1zM15 11h1v1h-1zM15 37h1v1h-1zM15 41h1v1h-1zM19 6h1v1h-1zM19 10h1v1h-1zM19 21h1v2h-1zM19 25h1v1h-1zM19 30h1v1h-1zM19 50h1v1h-1zM20 18h1v1h-1zM20 36h1v1h-1zM24 0h1v2h-1zM27 1h1v1h-1zM27 23h1v1h-1zM27 38h1v1h-1zM30 27h1v1h-1zM33 20h1v1h-1zM33 23h1v1h-1zM33 25h1v1h-1zM33 28h1v1h-1zM33 31h1v1h-1zM33 36h1v1h-1zM33 41h1v1h-1zM34 9h1v2h-1zM34 33h1v1h-1zM34 45h1v1h-1zM34 49h1v1h-1zM35 50h1v1h-1zM53 0h1v1h-1zM53 11h1v1h-1zM53 35h1v1h-1zM53 44h1v1h-1zM57 13h1v1h-1zM57 26h1v1h-1zM57 36h1v1h-1zM57 40h1v1h-1zM58 3h1v1h-1zM58 13h1v1h-1zM58 31h1v1h-1zM60 4h1v1h-1zM60 18h1v3h-1zM60 22h1v1h-1zM60 27h1v1h-1zM60 46h1v1h-1zM60 50h1v1h-1zM61 5h1v1h-1zM61 18h1v1h-1zM61 23h1v1h-1zM61 29h1v1h-1zM61 32h1v1h-1zM61 36h1v2h-1zM61 44h1v1h-1zM63 2h1v2h-1zM63 26h1v2h-1zM64 18h1v1h-1zM64 31h1v2h-1zM65 17h1v3h-1zM65 24h1v1h-1zM65 31h1v2h-1zM72 9h1v1h-1zM72 30h1v1h-1zM72 46h1v1h-1zM76 23h1v5h-1zM76 32h1v1h-1zM76 36h1v1h-1zM78 15h1v1h-1zM78 18h1v1h-1zM78 36h1v1h-1zM78 50h1v1h-1zM81 6h1v1h-1zM81 9h1v4h-1zM81 37h1v1h-1zM81 39h1v2h-1zM81 43h1v1h-1zM81 46h1v1h-1zM83 11h1v1h-1zM83 47h1v3h-1zM85 2h1v1h-1zM85 13h1v2h-1zM86 10h1v2h-1zM86 28h1v1h-1zM93 39h1v1h-1zM94 3h1v1h-1zM94 18h1v1h-1zM94 46h1v2h-1zM98 6h1v1h-1zM98 11h1v1h-1zM98 15h1v1h-1zM98 19h1v2h-1zM98 25h1v3h-1zM98 47h1v1h-1zM98 49h1v1h-1zM100 5h1v2h-1zM100 21h1v4h-1zM100 26h1v4h-1zM100 32h1v1h-1zM102 13h1v3h-1zM102 18h1v1h-1zM102 28h1v1h-1zM102 44h1v2h-1zM104 7h1v1h-1zM104 40h1v1h-1zM105 43h1v1h-1zM106 23h1v1h-1zM107 17h1v3h-1zM110 2h1v1h-1zM110 14h1v1h-1zM110 17h1v1h-1zM111 8h1v8h-1zM111 17h1v3h-1zM111 22h1v5h-1zM111 29h1v1h-1zM111 39h1v2h-1zM111 42h1v1h-1zM113 12h1v2h-1zM113 50h1v1h-1zM115 20h1v1h-1zM115 30h1v1h-1zM116 5h1v2h-1zM116 9h1v3h-1zM116 13h1v1h-1zM116 18h1v2h-1zM116 23h1v2h-1zM116 30h1v1h-1zM116 36h1v2h-1zM116 39h1v1h-1zM116 45h1v1h-1zM116 49h1v2h-1zM118 28h1v5h-1zM118 34h1v1h-1zM118 36h1v1h-1zM118 49h1v1h-1zM119 4h1v5h-1zM119 11h1v2h-1zM119 19h1v1h-1zM119 22h1v3h-1zM119 28h1v1h-1zM119 35h1v1h-1zM119 47h1v1h-1zM119 49h1v3h-1zM123 21h1v2h-1zM123 24h1v1h-1zM123 26h1v2h-1zM123 46h1v2h-1zM125 26h1v1h-1zM126 1h1v1h-1zM126 7h1v6h-1zM126 33h1v1h-1zM127 19h1v2h-1zM127 23h1v1h-1zM128 40h1v1h-1zM128 50h1v2h-1zM131 8h1v1h-1zM131 36h1v2h-1zM131 49h1v1h-1zM135 9h1v5h-1zM135 28h1v1h-1zM135 32h1v3h-1zM135 36h1v4h-1zM135 46h1v1h-1zM136 0h1v1h-1zM136 7h1v1h-1zM136 14h1v2h-1zM136 17h1v6h-1zM136 32h1v1h-1zM136 36h1v1h-1zM136 41h1v1h-1zM136 46h1v1h-1zM136 49h1v1h-1zM138 21h1v1h-1zM138 35h1v6h-1zM147 5h1v1h-1zM147 24h1v5h-1zM147 31h1v2h-1zM147 38h1v1h-1zM147 46h1v1h-1zM147 51h1v1h-1zM148 0h1v1h-1zM148 24h1v4h-1zM148 45h1v4h-1zM151 21h1v1h-1zM151 51h1v1h-1zM152 0h1v1h-1zM153 12h1v1h-1zM153 18h1v1h-1zM153 39h1v1h-1zM154 0h1v7h-1zM154 45h1v3h-1zM154 49h1v2h-1zM160 7h1v1h-1zM160 9h1v2h-1zM160 12h1v1h-1zM160 34h1v3h-1zM160 39h1v2h-1zM170 22h1v1h-1zM170 28h1v1h-1zM170 34h1v3h-1zM171 34h1v4h-1zM171 44h1v3h-1zM171 48h1v3h-1zM178 0h1v3h-1zM178 7h1v2h-1zM178 15h1v1h-1zM178 43h1v1h-1zM178 46h1v1h-1zM178 48h1v4h-1zM183 8h1v1h-1zM183 10h1v1h-1zM183 13h1v1h-1zM183 42h1v2h-1zM183 51h1v1h-1zM187 14h1v2h-1zM198 37h1v2h-1zM198 45h1v7h-1zM199 34h1v3h-1zM201 3h1v3h-1zM201 7h1v1h-1zM201 22h1v1h-1zM204 0h1v1h-1zM204 22h1v4h-1zM204 27h1v3h-1zM204 39h1v1h-1zM205 19h1v2h-1zM205 24h1v1h-1zM205 27h1v1h-1zM205 33h1v3h-1zM205 38h1v4h-1zM209 6h1v2h-1zM209 10h1v1h-1zM209 21h1v2h-1zM209 26h1v2h-1zM209 47h1v1h-1zM210 18h1v1h-1zM210 21h1v5h-1zM211 18h1v4h-1zM211 23h1v4h-1zM211 35h1v2h-1zM211 38h1v1h-1zM211 40h1v2h-1zM211 45h1v5h-1zM211 51h1v1h-1zM215 5h1v4h-1zM215 10h1v2h-1zM215 15h1v1h-1zM216 13h1v1h-1zM216 42h1v1h-1zM216 46h1v1h-1zM216 49h1v2h-1zM217 40h1v2h-1zM217 50h1v1h-1zM218 7h1v1h-1zM218 9h1v2h-1zM218 14h1v1h-1zM218 19h1v1h-1zM218 26h1v2h-1zM218 29h1v1h-1zM218 32h1v5h-1zM218 41h1v3h-1zM218 50h1v2h-1zM219 48h1v1h-1zM219 51h1v1h-1zM220 25h1v1h-1zM220 27h1v1h-1zM220 29h1v2h-1zM220 45h1v2h-1zM221 0h1v6h-1zM221 7h1v2h-1zM221 10h1v3h-1zM221 22h1v4h-1zM221 27h1v4h-1zM221 35h1v1h-1zM221 37h1v1h-1zM221 39h1v7h-1zM222 11h1v1h-1zM222 40h1v1h-1zM223 17h1v1h-1zM223 24h1v2h-1zM223 30h1v1h-1zM223 32h1v1h-1zM223 35h1v2h-1zM223 40h1v1h-1zM223 44h1v1h-1zM224 39h1v1h-1zM226 15h1v1h-1zM226 26h1v2h-1zM229 7h1v2h-1zM229 11h1v3h-1zM229 15h1v1h-1zM229 17h1v1h-1zM229 23h1v2h-1zM229 26h1v2h-1zM229 29h1v2h-1zM229 45h1v3h-1zM232 23h1v2h-1zM232 28h1v1h-1zM232 45h1v3h-1zM232 49h1v3h-1zM235 26h1v1h-1zM243 41h1v1h-1zM245 8h1v1h-1zM245 46h1v1h-1zM248 1h1v4h-1zM248 8h1v1h-1zM248 10h1v2h-1zM248 13h1v1h-1zM248 21h1v2h-1zM248 25h1v1h-1zM251 23h1v2h-1zM251 37h1v1h-1zM251 39h1v1h-1zM252 27h1v4h-1zM256 0h1v4h-1zM256 10h1v6h-1zM256 18h1v4h-1zM257 11h1v1h-1zM257 20h1v5h-1zM257 26h1v2h-1zM257 32h1v1h-1zM258 31h1v1h-1zM258 41h1v1h-1zM265 24h1v1h-1zM266 0h1v1h-1zM266 10h1v2h-1zM266 17h1v1h-1zM266 19h1v4h-1zM266 45h1v2h-1zM266 50h1v1h-1zM270 51h1v1h-1zM271 12h1v1h-1zM275 2h1v1h-1zM275 14h1v2h-1zM275 17h1v2h-1zM275 20h1v2h-1zM275 35h1v1h-1zM275 41h1v2h-1zM275 44h1v1h-1zM276 17h1v3h-1zM276 22h1v4h-1zM276 31h1v2h-1zM276 34h1v1h-1zM276 36h1v4h-1zM276 41h1v2h-1zM276 47h1v1h-1zM276 49h1v2h-1zM277 1h1v2h-1zM277 12h1v3h-1zM277 17h1v3h-1zM277 22h1v1h-1zM277 27h1v1h-1zM277 29h1v1h-1zM277 31h1v1h-1zM277 33h1v1h-1zM277 36h1v1h-1zM277 38h1v1h-1zM278 34h1v1h-1zM278 41h1v4h-1zM280 1h1v3h-1zM280 6h1v1h-1zM280 29h1v1h-1zM280 32h1v1h-1zM280 35h1v1h-1zM280 37h1v7h-1zM281 0h1v2h-1zM281 18h1v1h-1zM281 34h1v1h-1zM281 36h1v2h-1zM281 42h1v2h-1zM281 46h1v6h-1zM286 8h1v1h-1zM286 10h1v1h-1zM286 18h1v2h-1zM288 35h1v2h-1zM288 38h1v1h-1zM288 44h1v1h-1zM288 46h1v5h-1zM291 0h1v3h-1zM291 12h1v2h-1zM291 19h1v5h-1zM291 25h1v2h-1zM291 48h1v1h-1zM293 3h1v3h-1zM293 9h1v2h-1zM293 14h1v2h-1zM293 17h1v1h-1zM293 26h1v1h-1zM293 28h1v3h-1zM293 40h1v2h-1zM298 4h1v1h-1zM299 0h1v1h-1zM299 33h1v1h-1zM299 44h1v1h-1zM300 26h1v3h-1zM300 30h1v2h-1zM300 33h1v1h-1zM300 39h1v2h-1zM300 43h1v2h-1zM303 2h1v1h-1zM303 39h1v1h-1zM303 41h1v1h-1zM303 43h1v1h-1zM303 45h1v1h-1zM303 50h1v2h-1zM304 11h1v3h-1zM308 0h1v3h-1zM308 4h1v2h-1zM308 12h1v1h-1zM308 34h1v1h-1zM308 44h1v1h-1zM309 45h1v7h-1zM310 31h1v2h-1zM310 34h1v1h-1zM310 36h1v1h-1zM310 38h1v1h-1zM310 41h1v2h-1zM310 45h1v1h-1zM310 47h1v1h-1zM310 51h1v1h-1zM311 49h1v1h-1zM313 0h1v1h-1zM314 14h1v1h-1zM314 35h1v3h-1zM314 41h1v5h-1zM314 49h1v3h-1zM316 10h1v2h-1zM316 15h1v1h-1zM316 42h1v1h-1zM316 47h1v1h-1zM318 11h1v1h-1zM318 26h1v1h-1zM318 30h1v4h-1zM318 35h1v1h-1zM318 39h1v6h-1zM321 0h1v1h-1zM321 20h1v2h-1zM321 23h1v2h-1zM321 34h1v2h-1zM321 37h1v4h-1zM321 42h1v1h-1zM321 44h1v1h-1zM321 48h1v4h-1zM322 7h1v3h-1zM322 21h1v1h-1zM322 33h1v6h-1zM323 45h1v2h-1zM325 0h1v2h-1zM325 19h1v1h-1zM325 30h1v1h-1zM325 33h1v3h-1zM325 46h1v1h-1zM325 48h1v4h-1zM334 21h1v1h-1zM334 23h1v7h-1zM334 34h1v2h-1zM334 39h1v1h-1zM334 49h1v1h-1zM334 51h1v1h-1zM335 45h1v1h-1zM335 47h1v1h-1zM336 22h1v1h-1zM339 17h1v1h-1zM339 26h1v3h-1zM339 33h1v4h-1zM339 46h1v1h-1zM342 4h1v2h-1zM342 38h1v1h-1zM342 47h1v2h-1zM342 50h1v2h-1zM349 0h1v1h-1zM349 23h1v2h-1zM349 29h1v3h-1zM352 24h1v1h-1zM352 41h1v1h-1zM352 46h1v1h-1zM352 49h1v3h-1zM353 27h1v2h-1zM353 30h1v5h-1zM353 36h1v1h-1zM353 41h1v1h-1zM354 25h1v2h-1zM354 29h1v1h-1zM354 32h1v1h-1zM354 34h1v2h-1zM354 37h1v1h-1zM355 1h1v1h-1zM355 33h1v1h-1zM355 36h1v1h-1zM355 43h1v1h-1zM355 46h1v1h-1zM357 8h1v2h-1zM357 46h1v1h-1zM358 5h1v1h-1zM358 26h1v1h-1zM359 1h1v1h-1zM359 8h1v1h-1zM359 27h1v7h-1zM359 35h1v2h-1zM362 36h1v2h-1zM362 39h1v3h-1zM362 43h1v4h-1zM362 49h1v3h-1z"/>
<path fill="#E8C629" d="M0 3h1v1h-1zM0 8h1v1h-1zM0 13h1v1h-1zM0 15h1v1h-1zM0 17h1v1h-1zM0 26h1v1h-1zM0 28h1v1h-1zM1 15h1v1h-1zM1 19h1v1h-1zM1 24h1v1h-1zM1 26h1v1h-1zM1 32h1v1h-1zM1 43h1v1h-1zM2 0h1v1h-1zM2 2h1v1h-1zM2 7h1v1h-1zM2 15h1v1h-1zM2 18h1v3h-1zM2 27h1v1h-1zM2 29h1v1h-1zM2 34h1v1h-1zM2 38h1v1h-1zM2 40h1v1h-1zM2 45h1v1h-1zM2 49h1v1h-1zM3 3h1v1h-1zM3 7h1v1h-1zM3 15h1v1h-1zM3 21h1v2h-1zM3 30h1v3h-1zM3 38h1v1h-1zM3 45h1v1h-1zM3 48h1v1h-1zM3 51h1v1h-1zM4 8h1v1h-1zM4 13h1v1h-1zM4 31h1v1h-1zM4 34h1v2h-1zM4 37h1v1h-1zM4 41h1v1h-1zM4 46h1v2h-1zM4 49h1v1h-1zM5 5h1v1h-1zM5 9h1v1h-1zM5 12h1v1h-1zM5 14h1v1h-1zM5 17h1v1h-1zM5 22h1v1h-1zM5 26h1v1h-1zM5 31h1v1h-1zM5 33h1v4h-1zM5 41h1v1h-1zM5 48h1v3h-1zM6 4h1v2h-1zM6 9h1v1h-1zM6 20h1v1h-1zM6 24h1v2h-1zM6 27h1v2h-1zM7 0h1v1h-1zM7 6h1v1h-1zM7 8h1v1h-1zM7 27h1v2h-1zM7 37h1v1h-1zM7 43h1v1h-1zM7 51h1v1h-1zM8 7h1v2h-1zM8 10h1v4h-1zM8 37h1v1h-1zM9 9h1v1h-1zM9 11h1v2h-1zM9 22h1v1h-1zM9 31h1v1h-1zM9 33h1v1h-1zM9 35h1v1h-1zM9 42h1v1h-1zM10 24h1v1h-1zM10 37h1v1h-1zM10 39h1v1h-1zM10 42h1v1h-1zM10 47h1v1h-1zM10 49h1v1h-1zM10 51h1v1h-1zM11 0h1v1h-1zM11 17h1v1h-1zM11 38h1v1h-1zM11 47h1v1h-1zM12 1h1v1h-1zM12 35h1v1h-1zM12 43h1v1h-1zM13 4h1v1h-1zM13 6h1v1h-1zM13 8h1v1h-1zM13 15h1v1h-1zM14 14h1v2h-1zM14 26h1v2h-1zM15 2h1v1h-1zM15 4h1v1h-1zM15 10h1v1h-1zM15 15h1v1h-1zM15 30h1v1h-1zM15 38h1v1h-1zM15 42h1v1h-1zM15 44h1v1h-1zM15 49h1v1h-1zM16 9h1v1h-1zM16 13h1v1h-1zM16 15h1v1h-1zM16 19h1v1h-1zM16 28h1v1h-1zM16 40h1v1h-1zM16 50h1v2h-1zM17 3h1v1h-1zM17 8h1v1h-1zM18 18h1v1h-1zM18 25h1v2h-1zM18 30h1v2h-1zM18 50h1v1h-1zM19 4h1v1h-1zM19 26h1v1h-1zM19 31h1v2h-1zM19 39h1v1h-1zM19 41h1v1h-1zM19 43h1v1h-1zM19 46h1v1h-1zM20 1h1v2h-1zM20 4h1v1h-1zM20 8h1v1h-1zM20 28h1v1h-1zM20 37h1v1h-1zM20 44h1v1h-1zM20 46h1v1h-1zM21 6h1v1h-1zM21 9h1v1h-1zM21 12h1v1h-1zM22 15h1v1h-1zM23 9h1v3h-1zM23 13h1v1h-1zM23 19h1v1h-1zM23 21h1v1h-1zM23 24h1v1h-1zM24 7h1v1h-1zM24 13h1v1h-1zM24 18h1v1h-1zM24 32h1v1h-1zM25 5h1v1h-1zM25 17h1v1h-1zM25 21h1v3h-1zM25 28h1v1h-1zM25 30h1v1h-1zM25 33h1v1h-1zM25 36h1v1h-1zM25 40h1v2h-1zM25 45h1v1h-1zM26 10h1v1h-1zM26 12h1v1h-1zM26 27h1v1h-1zM26 33h1v1h-1zM26 46h1v1h-1zM27 9h1v1h-1zM27 17h1v1h-1zM27 22h1v1h-1zM27 30h1v1h-1zM27 32h1v1h-1zM28 7h1v1h-1zM28 20h1v1h-1zM28 26h1v1h-1zM28 32h1v1h-1zM28 34h1v2h-1zM28 37h1v1h-1zM29 6h1v1h-1zM29 17h1v1h-1zM29 25h1v1h-1zM29 31h1v1h-1zM29 39h1v1h-1zM30 14h1v1h-1zM31 2h1v1h-1zM31 13h1v1h-1zM32 4h1v1h-1zM32 9h1v1h-1zM32 20h1v1h-1zM32 33h1v1h-1zM33 3h1v1h-1zM33 12h1v1h-1zM33 29h1v1h-1zM33 38h1v1h-1zM33 40h1v1h-1zM33 47h1v1h-1zM33 51h1v1h-1zM34 4h1v1h-1zM34 7h1v1h-1zM34 11h1v1h-1zM34 24h1v1h-1zM34 41h1v2h-1zM34 44h1v1h-1zM35 2h1v1h-1zM35 9h1v1h-1zM35 15h1v1h-1zM35 22h1v1h-1zM35 25h1v1h-1zM35 30h1v1h-1zM35 36h1v1h-1zM35 48h1v1h-1zM36 6h1v1h-1zM36 9h1v1h-1zM36 19h1v1h-1zM36 22h1v1h-1zM36 40h1v1h-1zM36 42h1v4h-1zM36 48h1v1h-1zM37 9h1v1h-1zM37 18h1v1h-1zM37 21h1v1h-1zM37 24h1v2h-1zM37 28h1v1h-1zM37 36h1v1h-1zM37 44h1v1h-1zM37 47h1v1h-1zM37 51h1v1h-1zM38 0h1v1h-1zM38 2h1v1h-1zM38 11h1v1h-1zM38 15h1v1h-1zM38 20h1v1h-1zM38 22h1v1h-1zM38 25h1v1h-1zM38 27h1v1h-1zM38 32h1v1h-1zM39 0h1v1h-1zM39 8h1v1h-1zM39 17h1v1h-1zM39 29h1v3h-1zM39 36h1v1h-1zM39 39h1v2h-1zM39 42h1v1h-1zM39 44h1v1h-1zM39 50h1v2h-1zM40 1h1v1h-1zM40 8h1v1h-1zM40 10h1v1h-1zM40 13h1v1h-1zM40 15h1v1h-1zM40 43h1v2h-1zM41 1h1v1h-1zM41 8h1v1h-1zM41 11h1v2h-1zM42 3h1v1h-1zM42 7h1v1h-1zM42 13h1v1h-1zM42 24h1v1h-1zM42 26h1v1h-1zM42 36h1v1h-1zM42 38h1v1h-1zM42 44h1v1h-1zM43 0h1v1h-1zM43 4h1v1h-1zM43 6h1v1h-1zM43 8h1v1h-1zM43 10h1v1h-1zM43 12h1v1h-1zM43 27h1v1h-1zM43 31h1v1h-1zM43 35h1v2h-1zM43 40h1v1h-1zM43 42h1v1h-1zM44 1h1v1h-1zM44 6h1v2h-1zM44 9h1v2h-1zM44 12h1v1h-1zM44 20h1v1h-1zM44 29h1v2h-1zM44 33h1v3h-1zM44 40h1v1h-1zM44 44h1v1h-1zM45 14h1v1h-1zM45 20h1v2h-1zM45 28h1v1h-1zM46 12h1v2h-1zM46 17h1v1h-1zM46 20h1v1h-1zM46 23h1v1h-1zM46 37h1v1h-1zM47 6h1v2h-1zM47 30h1v1h-1zM47 34h1v1h-1zM48 4h1v1h-1zM48 8h1v2h-1zM48 19h1v2h-1zM48 25h1v1h-1zM48 28h1v1h-1zM48 37h1v2h-1zM49 0h1v2h-1zM49 4h1v1h-1zM49 17h1v1h-1zM49 20h1v1h-1zM49 22h1v1h-1zM49 27h1v1h-1zM49 29h1v2h-1zM49 32h1v1h-1zM49 36h1v1h-1zM49 39h1v1h-1zM50 0h1v1h-1zM50 3h1v1h-1zM50 10h1v1h-1zM50 26h1v1h-1zM50 32h1v1h-1zM50 40h1v1h-1zM50 42h1v1h-1zM51 4h1v1h-1zM51 12h1v1h-1zM51 19h1v1h-1zM51 26h1v2h-1zM51 30h1v2h-1zM51 33h1v1h-1zM51 37h1v2h-1zM52 0h1v1h-1zM52 3h1v1h-1zM52 9h1v1h-1zM52 11h1v1h-1zM52 21h1v1h-1zM52 23h1v1h-1zM52 34h1v1h-1zM52 37h1v1h-1zM53 4h1v1h-1zM53 17h1v1h-1zM53 26h1v1h-1zM53 29h1v2h-1zM53 45h1v2h-1zM53 48h1v2h-1zM54 8h1v1h-1zM54 10h1v1h-1zM54 21h1v1h-1zM54 24h1v1h-1zM54 26h1v1h-1zM54 28h1v1h-1zM54 30h1v1h-1zM54 35h1v2h-1zM54 45h1v1h-1zM55 7h1v1h-1zM55 11h1v1h-1zM55 18h1v1h-1zM55 30h1v2h-1zM55 43h1v1h-1zM55 51h1v1h-1zM56 6h1v1h-1zM56 11h1v1h-1zM56 13h1v1h-1zM56 18h1v1h-1zM56 33h1v1h-1zM56 35h1v1h-1zM56 40h1v2h-1zM56 46h1v1h-1zM57 3h1v1h-1zM57 9h1v1h-1zM57 12h1v1h-1zM57 37h1v3h-1zM57 49h1v1h-1zM58 8h1v2h-1zM58 12h1v1h-1zM58 15h1v1h-1zM58 21h1v1h-1zM58 23h1v1h-1zM58 35h1v1h-1zM58 49h1v1h-1zM59 7h1v1h-1zM59 18h1v1h-1zM59 25h1v1h-1zM59 27h1v2h-1zM59 32h1v1h-1zM59 34h1v1h-1zM59 43h1v3h-1zM59 47h1v1h-1zM59 51h1v1h-1zM60 0h1v1h-1zM60 5h1v2h-1zM60 8h1v1h-1zM60 33h1v1h-1zM61 22h1v1h-1zM61 35h1v1h-1zM61 38h1v1h-1zM61 42h1v2h-1zM61 45h1v1h-1zM61 47h1v2h-1zM62 0h1v1h-1zM62 11h1v1h-1zM62 18h1v1h-1zM62 20h1v1h-1zM62 25h1v2h-1zM62 43h1v2h-1zM62 46h1v1h-1zM62 48h1v1h-1zM63 4h1v1h-1zM63 12h1v1h-1zM63 35h1v1h-1zM63 39h1v2h-1zM63 50h1v1h-1zM64 3h1v2h-1zM64 9h1v1h-1zM64 24h1v1h-1zM64 27h1v2h-1zM64 34h1v2h-1zM64 38h1v1h-1zM64 49h1v1h-1zM65 2h1v2h-1zM65 5h1v2h-1zM65 8h1v1h-1zM65 10h1v1h-1zM65 21h1v1h-1zM65 34h1v4h-1zM65 41h1v1h-1zM65 45h1v1h-1zM65 48h1v1h-1zM66 2h1v1h-1zM66 7h1v2h-1zM66 13h1v1h-1zM66 15h1v1h-1zM66 29h1v1h-1zM66 31h1v1h-1zM66 51h1v1h-1zM67 0h1v1h-1zM67 8h1v1h-1zM67 18h1v1h-1zM67 22h1v1h-1zM67 33h1v1h-1zM67 36h1v1h-1zM67 41h1v1h-1zM68 1h1v1h-1zM68 10h1v1h-1zM68 14h1v1h-1zM68 33h1v1h-1zM68 41h1v2h-1zM69 6h1v1h-1zM69 23h1v1h-1zM69 30h1v1h-1zM69 33h1v1h-1zM69 36h1v1h-1zM69 40h1v2h-1zM70 33h1v2h-1zM70 40h1v1h-1zM71 0h1v1h-1zM71 12h1v1h-1zM71 18h1v1h-1zM71 20h1v2h-1zM71 40h1v1h-1zM71 48h1v1h-1zM72 6h1v1h-1zM72 10h1v2h-1zM72 13h1v1h-1zM72 17h1v1h-1zM72 22h1v3h-1zM72 42h1v3h-1zM76 12h1v2h-1zM76 17h1v2h-1zM76 42h1v2h-1zM76 45h1v1h-1zM76 49h1v1h-1zM77 36h1v1h-1zM77 41h1v2h-1zM78 2h1v3h-1zM78 9h1v2h-1zM78 12h1v1h-1zM78 20h1v1h-1zM78 22h1v1h-1zM78 38h1v8h-1zM79 1h1v1h-1zM79 3h1v4h-1zM79 8h1v2h-1zM79 21h1v3h-1zM79 37h1v1h-1zM79 40h1v4h-1zM79 45h1v3h-1zM79 49h1v1h-1zM80 4h1v1h-1zM80 11h1v1h-1zM80 15h1v1h-1zM80 26h1v1h-1zM80 29h1v1h-1zM80 32h1v1h-1zM80 37h1v3h-1zM81 14h1v1h-1zM81 17h1v1h-1zM81 19h1v1h-1zM81 28h1v2h-1zM81 33h1v1h-1zM82 21h1v1h-1zM82 23h1v1h-1zM82 38h1v4h-1zM82 43h1v2h-1zM83 32h1v1h-1zM83 45h1v1h-1zM85 0h1v1h-1zM85 4h1v1h-1zM85 6h1v1h-1zM85 8h1v2h-1zM85 11h1v1h-1zM85 17h1v3h-1zM85 36h1v1h-1zM85 38h1v2h-1zM85 41h1v1h-1zM86 23h1v1h-1zM86 36h1v1h-1zM91 0h1v4h-1zM91 28h1v4h-1zM92 20h1v2h-1zM92 30h1v4h-1zM92 36h1v3h-1zM93 18h1v1h-1zM93 25h1v1h-1zM93 37h1v1h-1zM94 9h1v1h-1zM94 11h1v2h-1zM94 22h1v1h-1zM94 40h1v1h-1zM94 49h1v3h-1zM95 4h1v1h-1zM95 6h1v4h-1zM95 29h1v3h-1zM95 38h1v8h-1zM96 48h1v1h-1zM98 14h1v1h-1zM98 17h1v1h-1zM98 21h1v2h-1zM98 36h1v1h-1zM99 14h1v2h-1zM99 20h1v2h-1zM99 33h1v1h-1zM99 35h1v3h-1zM100 8h1v1h-1zM100 10h1v1h-1zM100 14h1v1h-1zM100 33h1v1h-1zM100 42h1v1h-1zM100 47h1v1h-1zM100 51h1v1h-1zM101 28h1v1h-1zM102 0h1v1h-1zM102 3h1v1h-1zM102 5h1v3h-1zM102 10h1v1h-1zM102 21h1v1h-1zM102 23h1v2h-1zM102 26h1v1h-1zM102 29h1v2h-1zM103 1h1v1h-1zM103 10h1v1h-1zM103 14h1v1h-1zM103 22h1v6h-1zM103 42h1v1h-1zM104 3h1v2h-1zM104 12h1v3h-1zM104 21h1v2h-1zM104 25h1v2h-1zM104 31h1v2h-1zM104 34h1v1h-1zM104 38h1v1h-1zM104 42h1v2h-1zM104 45h1v6h-1zM105 45h1v1h-1zM105 49h1v3h-1zM106 19h1v2h-1zM107 12h1v3h-1zM107 21h1v4h-1zM107 26h1v1h-1zM107 28h1v2h-1zM109 0h1v1h-1zM109 4h1v2h-1zM109 36h1v1h-1zM109 48h1v1h-1zM110 4h1v1h-1zM110 7h1v2h-1zM110 10h1v2h-1zM110 19h1v1h-1zM110 30h1v1h-1zM110 32h1v1h-1zM110 34h1v1h-1zM110 40h1v5h-1zM111 2h1v4h-1zM111 27h1v1h-1zM111 36h1v2h-1zM111 48h1v1h-1zM111 50h1v2h-1zM112 38h1v1h-1zM112 41h1v3h-1zM113 0h1v1h-1zM113 15h1v1h-1zM113 19h1v1h-1zM113 21h1v1h-1zM114 4h1v1h-1zM114 10h1v1h-1zM115 26h1v2h-1zM115 31h1v1h-1zM115 33h1v1h-1zM116 20h1v1h-1zM116 41h1v3h-1zM117 9h1v2h-1zM117 48h1v1h-1zM118 0h1v2h-1zM118 3h1v1h-1zM118 7h1v2h-1zM118 10h1v3h-1zM118 15h1v1h-1zM118 40h1v1h-1zM119 0h1v1h-1zM119 29h1v1h-1zM119 32h1v1h-1zM123 14h1v1h-1zM123 19h1v2h-1zM123 30h1v1h-1zM123 34h1v2h-1zM123 38h1v3h-1zM123 42h1v1h-1zM123 51h1v1h-1zM125 15h1v1h-1zM125 17h1v2h-1zM127 0h1v1h-1zM127 8h1v1h-1zM127 18h1v1h-1zM127 24h1v2h-1zM127 27h1v1h-1zM128 34h1v1h-1zM128 37h1v3h-1zM128 41h1v2h-1zM128 44h1v1h-1zM128 46h1v1h-1zM131 34h1v1h-1zM131 39h1v1h-1zM131 45h1v3h-1zM133 18h1v2h-1zM133 27h1v2h-1zM133 35h1v1h-1zM133 37h1v1h-1zM133 39h1v2h-1zM133 44h1v1h-1zM133 46h1v1h-1zM133 48h1v1h-1zM135 0h1v2h-1zM135 5h1v4h-1zM136 1h1v2h-1zM136 4h1v1h-1zM136 8h1v6h-1zM137 1h1v2h-1zM137 4h1v3h-1zM138 2h1v3h-1zM140 23h1v1h-1zM140 25h1v1h-1zM140 32h1v2h-1zM140 38h1v1h-1zM140 44h1v1h-1zM140 47h1v2h-1zM141 20h1v3h-1zM141 24h1v1h-1zM141 37h1v1h-1zM141 39h1v1h-1zM141 43h1v2h-1zM142 0h1v2h-1zM142 17h1v1h-1zM142 33h1v3h-1zM142 38h1v4h-1zM143 0h1v2h-1zM143 3h1v1h-1zM143 8h1v7h-1zM143 17h1v2h-1zM143 25h1v1h-1zM143 29h1v3h-1zM143 33h1v5h-1zM143 39h1v4h-1zM143 47h1v1h-1zM143 50h1v2h-1zM145 15h1v1h-1zM145 37h1v1h-1zM145 39h1v1h-1zM145 44h1v5h-1zM146 47h1v1h-1zM147 2h1v2h-1zM147 8h1v1h-1zM147 11h1v4h-1zM147 34h1v2h-1zM147 41h1v4h-1zM147 48h1v2h-1zM148 1h1v4h-1zM148 6h1v7h-1zM148 17h1v1h-1zM148 20h1v4h-1zM148 30h1v3h-1zM148 34h1v10h-1zM151 0h1v2h-1zM151 5h1v6h-1zM151 12h1v1h-1zM151 19h1v2h-1zM151 41h1v2h-1zM151 44h1v3h-1zM152 1h1v1h-1zM152 4h1v1h-1zM152 46h1v1h-1zM152 50h1v2h-1zM153 19h1v1h-1zM153 23h1v2h-1zM153 28h1v4h-1zM153 35h1v3h-1zM153 48h1v3h-1zM154 11h1v1h-1zM154 13h1v3h-1zM154 23h1v1h-1zM154 29h1v3h-1zM154 33h1v1h-1zM154 38h1v1h-1zM154 42h1v1h-1zM156 22h1v1h-1zM157 7h1v3h-1zM157 11h1v1h-1zM157 13h1v1h-1zM157 35h1v2h-1zM157 39h1v1h-1zM157 49h1v1h-1zM159 25h1v1h-1zM159 37h1v1h-1zM161 20h1v1h-1zM161 23h1v1h-1zM161 26h1v1h-1zM163 3h1v2h-1zM163 8h1v2h-1zM163 14h1v1h-1zM163 25h1v3h-1zM163 33h1v1h-1zM163 36h1v3h-1zM163 42h1v2h-1zM163 45h1v3h-1zM163 50h1v2h-1zM165 37h1v1h-1zM167 20h1v2h-1zM167 48h1v1h-1zM168 15h1v1h-1zM168 17h1v4h-1zM168 22h1v1h-1zM168 27h1v1h-1zM168 30h1v2h-1zM168 34h1v2h-1zM169 7h1v3h-1zM169 23h1v4h-1zM169 28h1v2h-1zM169 32h1v1h-1zM169 35h1v3h-1zM169 41h1v4h-1zM169 48h1v4h-1zM170 9h1v1h-1zM170 11h1v2h-1zM170 19h1v3h-1zM170 32h1v1h-1zM170 40h1v2h-1zM171 24h1v1h-1zM171 26h1v4h-1zM172 0h1v2h-1zM172 50h1v2h-1zM173 0h1v6h-1zM174 25h1v1h-1zM174 28h1v2h-1zM175 0h1v1h-1zM175 5h1v2h-1zM175 36h1v4h-1zM175 42h1v1h-1zM175 48h1v4h-1zM176 0h1v4h-1zM176 18h1v2h-1zM176 23h1v1h-1zM177 34h1v1h-1zM177 46h1v6h-1zM178 12h1v2h-1zM178 36h1v1h-1zM178 39h1v2h-1zM181 13h1v1h-1zM181 17h1v4h-1zM181 22h1v1h-1zM181 24h1v5h-1zM181 35h1v5h-1zM181 44h1v2h-1zM182 18h1v3h-1zM182 51h1v1h-1zM183 34h1v1h-1zM183 36h1v2h-1zM183 40h1v2h-1zM185 5h1v2h-1zM185 8h1v1h-1zM185 10h1v2h-1zM185 14h1v2h-1zM185 17h1v3h-1zM185 51h1v1h-1zM186 6h1v2h-1zM186 9h1v1h-1zM186 27h1v2h-1zM186 30h1v1h-1zM187 8h1v3h-1zM187 18h1v4h-1zM187 23h1v1h-1zM187 26h1v3h-1zM187 33h1v2h-1zM187 37h1v1h-1zM190 11h1v1h-1zM190 24h1v1h-1zM190 37h1v1h-1zM190 39h1v2h-1zM190 43h1v1h-1zM190 45h1v1h-1zM190 51h1v1h-1zM191 29h1v1h-1zM191 43h1v3h-1zM193 21h1v4h-1zM193 38h1v1h-1zM193 40h1v5h-1zM195 24h1v1h-1zM195 26h1v3h-1zM195 30h1v1h-1zM197 8h1v2h-1zM197 39h1v2h-1zM198 31h1v2h-1zM198 40h1v3h-1zM199 7h1v1h-1zM199 13h1v3h-1zM199 31h1v3h-1zM199 40h1v1h-1zM199 50h1v1h-1zM200 0h1v1h-1zM200 3h1v1h-1zM200 7h1v2h-1zM200 10h1v1h-1zM200 12h1v4h-1zM200 17h1v1h-1zM200 22h1v1h-1zM200 41h1v2h-1zM200 51h1v1h-1zM201 2h1v1h-1zM201 24h1v1h-1zM201 26h1v2h-1zM201 34h1v1h-1zM201 41h1v2h-1zM201 48h1v2h-1zM201 51h1v1h-1zM202 19h1v4h-1zM202 25h1v2h-1zM202 30h1v1h-1zM202 38h1v2h-1zM202 43h1v1h-1zM203 1h1v1h-1zM203 5h1v1h-1zM203 20h1v2h-1zM203 34h1v1h-1zM203 36h1v2h-1zM203 41h1v8h-1zM203 50h1v1h-1zM204 3h1v1h-1zM204 7h1v7h-1zM204 19h1v2h-1zM204 42h1v3h-1zM204 46h1v2h-1zM204 50h1v2h-1zM205 32h1v1h-1zM205 45h1v7h-1zM206 24h1v1h-1zM206 27h1v1h-1zM206 30h1v1h-1zM207 25h1v3h-1zM208 7h1v2h-1zM208 28h1v1h-1zM209 1h1v3h-1zM209 13h1v3h-1zM209 17h1v3h-1zM209 29h1v2h-1zM209 34h1v1h-1zM209 40h1v2h-1zM209 43h1v1h-1zM209 50h1v1h-1zM211 0h1v2h-1zM211 32h1v2h-1zM212 0h1v4h-1zM212 5h1v1h-1zM212 8h1v1h-1zM212 10h1v2h-1zM212 14h1v2h-1zM212 20h1v3h-1zM212 24h1v5h-1zM212 30h1v2h-1zM212 34h1v1h-1zM212 36h1v2h-1zM212 41h1v3h-1zM212 45h1v1h-1zM212 47h1v2h-1zM212 50h1v1h-1zM213 13h1v3h-1zM214 0h1v3h-1zM214 6h1v1h-1zM214 14h1v1h-1zM214 21h1v1h-1zM214 51h1v1h-1zM215 29h1v1h-1zM216 26h1v1h-1zM216 33h1v2h-1zM216 36h1v3h-1zM216 40h1v1h-1zM216 44h1v1h-1zM217 6h1v2h-1zM217 27h1v1h-1zM217 29h1v3h-1zM217 35h1v1h-1zM217 38h1v1h-1zM217 43h1v2h-1zM217 48h1v1h-1zM218 1h1v4h-1zM218 13h1v1h-1zM218 23h1v3h-1zM218 46h1v3h-1zM219 0h1v3h-1zM219 9h1v3h-1zM219 17h1v1h-1zM219 20h1v6h-1zM219 27h1v5h-1zM219 33h1v3h-1zM219 40h1v1h-1zM219 43h1v1h-1zM220 7h1v3h-1zM220 33h1v1h-1zM220 37h1v5h-1zM221 46h1v1h-1zM221 49h1v2h-1zM222 2h1v2h-1zM222 6h1v1h-1zM222 9h1v1h-1zM222 14h1v1h-1zM222 21h1v6h-1zM222 28h1v2h-1zM222 31h1v5h-1zM222 37h1v1h-1zM222 39h1v1h-1zM222 41h1v1h-1zM222 44h1v2h-1zM222 50h1v2h-1zM223 2h1v1h-1zM223 4h1v2h-1zM223 7h1v1h-1zM223 19h1v5h-1zM223 46h1v4h-1zM224 2h1v1h-1zM224 7h1v4h-1zM224 13h1v3h-1zM224 17h1v1h-1zM225 40h1v1h-1zM226 0h1v1h-1zM226 4h1v4h-1zM226 10h1v1h-1zM226 30h1v3h-1zM226 34h1v1h-1zM227 21h1v1h-1zM227 49h1v1h-1zM228 7h1v1h-1zM230 18h1v2h-1zM230 42h1v1h-1zM232 0h1v2h-1zM232 3h1v1h-1zM232 6h1v5h-1zM232 12h1v3h-1zM232 17h1v3h-1zM232 25h1v2h-1zM232 30h1v2h-1zM232 36h1v4h-1zM232 41h1v1h-1zM232 44h1v1h-1zM233 0h1v9h-1zM233 15h1v1h-1zM233 18h1v2h-1zM233 45h1v1h-1zM233 47h1v2h-1zM235 1h1v3h-1zM235 6h1v1h-1zM235 22h1v3h-1zM235 27h1v1h-1zM235 48h1v2h-1zM235 51h1v1h-1zM236 17h1v1h-1zM236 45h1v2h-1zM238 48h1v4h-1zM239 7h1v1h-1zM239 18h1v3h-1zM239 46h1v1h-1zM240 5h1v1h-1zM240 12h1v1h-1zM240 14h1v1h-1zM240 20h1v1h-1zM240 22h1v5h-1zM240 30h1v1h-1zM240 33h1v1h-1zM240 36h1v1h-1zM240 39h1v3h-1zM240 43h1v3h-1zM241 6h1v4h-1zM241 11h1v1h-1zM241 22h1v2h-1zM241 28h1v2h-1zM241 38h1v2h-1zM241 41h1v4h-1zM241 50h1v1h-1zM243 1h1v1h-1zM243 17h1v1h-1zM243 20h1v1h-1zM243 37h1v4h-1zM244 27h1v5h-1zM244 34h1v2h-1zM244 38h1v3h-1zM244 43h1v4h-1zM244 48h1v1h-1zM244 50h1v1h-1zM245 22h1v2h-1zM245 26h1v1h-1zM245 35h1v1h-1zM245 42h1v1h-1zM245 44h1v1h-1zM246 9h1v1h-1zM246 11h1v1h-1zM247 10h1v1h-1zM247 36h1v2h-1zM247 39h1v1h-1zM247 43h1v1h-1zM248 32h1v1h-1zM248 34h1v1h-1zM251 10h1v2h-1zM251 13h1v1h-1zM251 15h1v1h-1zM251 17h1v2h-1zM251 20h1v1h-1zM251 28h1v2h-1zM251 32h1v2h-1zM251 44h1v2h-1zM251 48h1v2h-1zM251 51h1v1h-1zM252 17h1v2h-1zM252 20h1v2h-1zM252 23h1v4h-1zM252 38h1v1h-1zM252 42h1v3h-1zM252 47h1v3h-1zM252 51h1v1h-1zM254 0h1v1h-1zM255 27h1v1h-1zM256 8h1v1h-1zM256 23h1v4h-1zM256 30h1v1h-1zM257 15h1v1h-1zM257 33h1v1h-1zM257 35h1v1h-1zM257 37h1v1h-1zM257 40h1v2h-1zM257 49h1v1h-1zM259 0h1v1h-1zM259 4h1v2h-1zM259 9h1v1h-1zM259 12h1v3h-1zM259 20h1v2h-1zM259 32h1v2h-1zM259 37h1v1h-1zM259 45h1v4h-1zM260 0h1v2h-1zM260 12h1v2h-1zM260 24h1v5h-1zM260 44h1v3h-1zM261 32h1v1h-1zM261 45h1v1h-1zM263 15h1v1h-1zM263 17h1v2h-1zM264 3h1v5h-1zM264 15h1v1h-1zM264 22h1v2h-1zM266 2h1v1h-1zM266 4h1v1h-1zM266 14h1v1h-1zM266 28h1v2h-1zM266 39h1v2h-1zM266 42h1v2h-1zM266 48h1v1h-1zM267 7h1v1h-1zM267 18h1v4h-1zM267 30h1v2h-1zM267 33h1v1h-1zM267 35h1v2h-1zM267 39h1v4h-1zM267 46h1v6h-1zM270 0h1v1h-1zM270 11h1v5h-1zM270 20h1v2h-1zM270 23h1v1h-1zM270 39h1v3h-1zM270 46h1v1h-1zM270 48h1v1h-1zM271 1h1v1h-1zM271 3h1v2h-1zM271 6h1v1h-1zM271 8h1v1h-1zM271 43h1v1h-1zM272 26h1v4h-1zM272 31h1v5h-1zM272 41h1v2h-1zM272 44h1v1h-1zM272 46h1v1h-1zM272 51h1v1h-1zM274 7h1v1h-1zM274 9h1v2h-1zM275 0h1v1h-1zM275 3h1v1h-1zM275 7h1v2h-1zM275 23h1v3h-1zM275 28h1v1h-1zM275 30h1v2h-1zM276 13h1v1h-1zM276 15h1v1h-1zM276 44h1v2h-1zM277 5h1v3h-1zM277 9h1v2h-1zM277 23h1v2h-1zM277 43h1v1h-1zM277 45h1v1h-1zM277 48h1v2h-1zM277 51h1v1h-1zM278 4h1v1h-1zM278 8h1v3h-1zM278 13h1v1h-1zM278 23h1v5h-1zM278 31h1v3h-1zM278 47h1v2h-1zM278 50h1v1h-1zM279 34h1v1h-1zM279 36h1v1h-1zM280 14h1v2h-1zM280 17h1v2h-1zM280 21h1v2h-1zM280 25h1v3h-1zM280 47h1v3h-1zM281 6h1v1h-1zM281 8h1v2h-1zM281 20h1v1h-1zM281 23h1v4h-1zM282 49h1v1h-1zM283 2h1v2h-1zM284 24h1v1h-1zM285 35h1v6h-1zM286 1h1v2h-1zM286 6h1v1h-1zM286 15h1v1h-1zM286 22h1v1h-1zM286 37h1v1h-1zM286 48h1v1h-1zM288 42h1v1h-1zM289 7h1v5h-1zM289 14h1v2h-1zM289 17h1v2h-1zM289 37h1v3h-1zM289 41h1v1h-1zM289 43h1v1h-1zM289 45h1v1h-1zM290 25h1v2h-1zM290 35h1v1h-1zM290 37h1v1h-1zM291 4h1v3h-1zM291 8h1v1h-1zM291 10h1v1h-1zM291 29h1v1h-1zM291 31h1v1h-1zM291 33h1v4h-1zM291 38h1v1h-1zM293 0h1v3h-1zM293 7h1v2h-1zM293 19h1v1h-1zM293 23h1v1h-1zM293 38h1v1h-1zM294 11h1v4h-1zM294 24h1v2h-1zM294 27h1v5h-1zM294 35h1v2h-1zM294 41h1v1h-1zM295 10h1v1h-1zM295 19h1v3h-1zM295 35h1v1h-1zM295 37h1v1h-1zM295 43h1v1h-1zM295 49h1v2h-1zM297 45h1v2h-1zM297 50h1v1h-1zM298 10h1v3h-1zM298 14h1v2h-1zM298 20h1v1h-1zM298 25h1v1h-1zM298 27h1v3h-1zM298 42h1v1h-1zM298 46h1v2h-1zM298 51h1v1h-1zM299 18h1v3h-1zM299 38h1v1h-1zM299 40h1v1h-1zM299 42h1v1h-1zM300 22h1v2h-1zM300 45h1v1h-1zM300 47h1v3h-1zM300 51h1v1h-1zM301 2h1v1h-1zM301 4h1v1h-1zM301 7h1v4h-1zM301 12h1v4h-1zM301 25h1v2h-1zM301 32h1v2h-1zM301 35h1v3h-1zM301 41h1v1h-1zM302 2h1v1h-1zM303 10h1v3h-1zM304 5h1v1h-1zM304 15h1v1h-1zM304 20h1v2h-1zM304 24h1v5h-1zM304 30h1v1h-1zM304 32h1v1h-1zM305 1h1v1h-1zM305 3h1v1h-1zM305 5h1v1h-1zM305 7h1v2h-1zM305 18h1v1h-1zM305 21h1v2h-1zM305 37h1v4h-1zM305 44h1v2h-1zM306 11h1v1h-1zM308 15h1v1h-1zM309 35h1v2h-1zM309 38h1v3h-1zM309 42h1v1h-1zM310 0h1v1h-1zM310 2h1v6h-1zM310 14h1v1h-1zM310 19h1v2h-1zM310 23h1v3h-1zM310 27h1v1h-1zM310 39h1v2h-1zM311 2h1v7h-1zM311 12h1v1h-1zM311 14h1v2h-1zM311 17h1v1h-1zM311 19h1v8h-1zM311 28h1v2h-1zM311 45h1v2h-1zM312 9h1v1h-1zM312 40h1v1h-1zM313 2h1v2h-1zM313 10h1v2h-1zM313 29h1v2h-1zM313 34h1v1h-1zM313 39h1v1h-1zM313 44h1v1h-1zM313 51h1v1h-1zM314 46h1v2h-1zM316 6h1v2h-1zM316 18h1v1h-1zM316 20h1v1h-1zM316 25h1v6h-1zM316 32h1v2h-1zM316 35h1v2h-1zM317 41h1v1h-1zM318 6h1v2h-1zM318 9h1v1h-1zM319 18h1v1h-1zM320 4h1v3h-1zM320 42h1v4h-1zM321 3h1v2h-1zM321 6h1v4h-1zM321 18h1v1h-1zM321 25h1v3h-1zM321 29h1v3h-1zM322 11h1v2h-1zM322 17h1v1h-1zM322 23h1v1h-1zM322 28h1v1h-1zM322 32h1v1h-1zM322 41h1v2h-1zM323 5h1v2h-1zM323 10h1v3h-1zM323 14h1v2h-1zM323 17h1v1h-1zM323 20h1v1h-1zM323 28h1v3h-1zM326 7h1v1h-1zM326 9h1v2h-1zM326 17h1v1h-1zM326 23h1v2h-1zM327 17h1v2h-1zM327 34h1v1h-1zM327 37h1v1h-1zM328 0h1v1h-1zM328 4h1v1h-1zM328 30h1v1h-1zM329 5h1v1h-1zM329 8h1v1h-1zM329 12h1v1h-1zM329 14h1v1h-1zM329 17h1v3h-1zM329 21h1v1h-1zM329 28h1v1h-1zM329 33h1v1h-1zM329 36h1v6h-1zM329 43h1v2h-1zM329 46h1v1h-1zM329 51h1v1h-1zM330 14h1v2h-1zM330 49h1v2h-1zM335 33h1v2h-1zM335 44h1v1h-1zM335 49h1v3h-1zM336 17h1v3h-1zM336 27h1v2h-1zM336 30h1v7h-1zM336 47h1v5h-1zM338 19h1v1h-1zM340 23h1v1h-1zM340 27h1v1h-1zM340 29h1v1h-1zM340 36h1v1h-1zM340 40h1v1h-1zM340 44h1v4h-1zM341 25h1v1h-1zM341 35h1v2h-1zM341 42h1v1h-1zM342 23h1v2h-1zM342 26h1v1h-1zM342 34h1v2h-1zM342 37h1v1h-1zM342 41h1v3h-1zM343 24h1v1h-1zM344 10h1v1h-1zM344 25h1v3h-1zM344 33h1v2h-1zM344 40h1v1h-1zM344 42h1v1h-1zM344 44h1v2h-1zM345 17h1v1h-1zM345 24h1v1h-1zM345 26h1v1h-1zM345 30h1v1h-1zM345 34h1v1h-1zM345 36h1v3h-1zM345 42h1v2h-1zM346 18h1v2h-1zM346 22h1v2h-1zM346 30h1v2h-1zM346 33h1v1h-1zM346 46h1v1h-1zM348 4h1v3h-1zM348 25h1v1h-1zM348 29h1v4h-1zM349 27h1v1h-1zM349 33h1v1h-1zM349 36h1v2h-1zM349 45h1v2h-1zM349 50h1v2h-1zM351 35h1v1h-1zM351 41h1v1h-1zM352 38h1v3h-1zM353 17h1v2h-1zM353 21h1v1h-1zM353 23h1v1h-1zM353 42h1v2h-1zM353 49h1v3h-1zM354 3h1v2h-1zM354 8h1v1h-1zM354 10h1v3h-1zM354 14h1v1h-1zM354 40h1v1h-1zM354 42h1v4h-1zM354 50h1v2h-1zM355 23h1v1h-1zM355 48h1v4h-1zM356 14h1v1h-1zM356 40h1v1h-1zM356 43h1v2h-1zM356 47h1v4h-1zM357 11h1v3h-1zM357 21h1v5h-1zM357 34h1v4h-1zM357 42h1v1h-1zM357 44h1v1h-1zM357 48h1v2h-1zM358 2h1v3h-1zM358 9h1v2h-1zM358 18h1v1h-1zM358 24h1v1h-1zM358 28h1v1h-1zM358 34h1v1h-1zM358 37h1v1h-1zM358 39h1v1h-1zM359 11h1v1h-1zM359 13h1v1h-1zM359 18h1v2h-1zM359 22h1v1h-1zM359 24h1v1h-1zM359 42h1v8h-1zM360 14h1v2h-1zM360 18h1v1h-1zM360 21h1v2h-1zM360 38h1v2h-1zM360 43h1v7h-1zM360 51h1v1h-1zM364 0h1v4h-1zM364 6h1v2h-1zM364 11h1v1h-1zM364 15h1v1h-1zM364 17h1v1h-1zM364 25h1v1h-1zM364 36h1v2h-1zM364 47h1v5h-1z"/>
<path fill="#67C700" d="M0 4h1v1h-1zM0 43h1v2h-1zM1 30h1v1h-1zM1 34h1v1h-1zM1 38h1v1h-1zM6 46h1v1h-1zM8 41h1v1h-1zM10 44h1v1h-1zM12 8h1v1h-1zM12 22h1v1h-1zM12 40h1v1h-1zM13 31h1v2h-1zM14 47h1v1h-1zM15 21h1v1h-1zM17 17h1v1h-1zM17 36h1v1h-1zM18 45h1v2h-1zM19 15h1v1h-1zM19 33h1v2h-1zM21 45h1v2h-1zM21 48h1v1h-1zM24 27h1v1h-1zM24 29h1v1h-1zM24 34h1v1h-1zM25 3h1v2h-1zM26 37h1v1h-1zM27 50h1v1h-1zM29 1h1v1h-1zM29 3h1v1h-1zM30 11h1v1h-1zM31 19h1v1h-1zM31 30h1v2h-1zM32 8h1v1h-1zM32 26h1v1h-1zM32 28h1v1h-1zM32 31h1v1h-1zM32 34h1v1h-1zM33 46h1v1h-1zM34 0h1v2h-1zM34 20h1v1h-1zM34 23h1v1h-1zM34 27h1v1h-1zM34 43h1v1h-1zM35 32h1v1h-1zM36 21h1v1h-1zM36 26h1v1h-1zM36 30h1v1h-1zM36 47h1v1h-1zM36 50h1v1h-1zM44 36h1v1h-1zM45 48h1v2h-1zM48 13h1v1h-1zM48 50h1v1h-1zM49 51h1v1h-1zM50 12h1v1h-1zM50 18h1v1h-1zM50 22h1v1h-1zM50 46h1v2h-1zM51 42h1v1h-1zM51 50h1v1h-1zM52 44h1v2h-1zM54 49h1v1h-1zM55 38h1v1h-1zM56 1h1v1h-1zM56 27h1v1h-1zM56 39h1v1h-1zM56 44h1v2h-1zM57 42h1v1h-1zM58 39h1v1h-1zM58 41h1v1h-1zM58 43h1v3h-1zM60 29h1v1h-1zM60 51h1v1h-1zM63 45h1v2h-1zM64 17h1v1h-1zM64 43h1v1h-1zM66 36h1v1h-1zM67 25h1v1h-1zM67 27h1v1h-1zM67 44h1v1h-1zM68 17h1v1h-1zM69 8h1v1h-1zM69 27h1v1h-1zM77 18h1v1h-1zM80 22h1v1h-1zM81 2h1v2h-1zM81 48h1v1h-1zM82 3h1v1h-1zM82 25h1v2h-1zM83 5h1v1h-1zM83 7h1v1h-1zM83 14h1v1h-1zM83 17h1v3h-1zM83 41h1v1h-1zM83 43h1v1h-1zM83 51h1v1h-1zM84 21h1v1h-1zM84 33h1v1h-1zM84 46h1v1h-1zM84 48h1v1h-1zM86 13h1v2h-1zM86 17h1v2h-1zM86 40h1v1h-1zM86 49h1v1h-1zM87 0h1v1h-1zM87 20h1v1h-1zM90 7h1v1h-1zM91 39h1v1h-1zM91 51h1v1h-1zM92 8h1v3h-1zM92 14h1v2h-1zM93 1h1v1h-1zM93 14h1v2h-1zM96 15h1v1h-1zM96 23h1v1h-1zM96 39h1v1h-1zM96 47h1v1h-1zM96 50h1v1h-1zM97 40h1v1h-1zM98 8h1v2h-1zM98 29h1v2h-1zM100 2h1v2h-1zM102 47h1v1h-1zM103 4h1v1h-1zM105 12h1v1h-1zM105 14h1v1h-1zM105 25h1v1h-1zM105 36h1v2h-1zM106 0h1v2h-1zM106 4h1v1h-1zM106 13h1v2h-1zM106 17h1v1h-1zM106 27h1v3h-1zM108 6h1v1h-1zM108 11h1v1h-1zM109 8h1v1h-1zM109 10h1v1h-1zM110 13h1v1h-1zM110 50h1v2h-1zM112 10h1v1h-1zM112 12h1v2h-1zM112 18h1v1h-1zM113 8h1v2h-1zM113 44h1v2h-1zM114 43h1v2h-1zM115 0h1v1h-1zM115 42h1v1h-1zM115 48h1v1h-1zM116 14h1v2h-1zM118 23h1v1h-1zM118 45h1v2h-1zM118 51h1v1h-1zM120 6h1v2h-1zM120 11h1v1h-1zM122 21h1v1h-1zM122 40h1v2h-1zM124 5h1v2h-1zM124 8h1v1h-1zM124 21h1v1h-1zM125 0h1v1h-1zM125 22h1v2h-1zM125 40h1v1h-1zM125 49h1v1h-1zM127 42h1v1h-1zM127 44h1v2h-1zM129 47h1v1h-1zM131 18h1v1h-1zM131 22h1v1h-1zM138 30h1v3h-1zM138 34h1v1h-1zM138 42h1v1h-1zM142 15h1v1h-1zM144 29h1v1h-1zM144 40h1v1h-1zM146 30h1v1h-1zM149 31h1v1h-1zM149 35h1v1h-1zM149 44h1v2h-1zM149 49h1v1h-1zM150 33h1v1h-1zM150 39h1v1h-1zM150 43h1v1h-1zM150 50h1v2h-1zM151 24h1v1h-1zM151 28h1v1h-1zM155 12h1v2h-1zM155 17h1v1h-1zM155 30h1v1h-1zM155 33h1v1h-1zM156 10h1v2h-1zM156 13h1v3h-1zM156 37h1v1h-1zM158 0h1v1h-1zM158 8h1v1h-1zM158 12h1v1h-1zM158 15h1v1h-1zM158 20h1v4h-1zM158 27h1v1h-1zM159 29h1v1h-1zM159 32h1v2h-1zM160 5h1v2h-1zM160 13h1v1h-1zM160 19h1v1h-1zM160 30h1v4h-1zM160 41h1v2h-1zM160 47h1v4h-1zM161 1h1v1h-1zM162 1h1v5h-1zM165 2h1v1h-1zM165 6h1v2h-1zM165 11h1v2h-1zM165 24h1v1h-1zM165 26h1v1h-1zM165 34h1v1h-1zM165 38h1v3h-1zM166 0h1v2h-1zM166 4h1v1h-1zM166 18h1v2h-1zM166 22h1v1h-1zM166 40h1v3h-1zM166 45h1v1h-1zM166 48h1v1h-1zM166 51h1v1h-1zM172 12h1v1h-1zM172 14h1v1h-1zM172 41h1v1h-1zM174 21h1v1h-1zM174 33h1v2h-1zM174 42h1v2h-1zM174 47h1v1h-1zM175 10h1v1h-1zM175 12h1v1h-1zM175 17h1v5h-1zM175 23h1v1h-1zM175 25h1v1h-1zM175 28h1v8h-1zM177 7h1v1h-1zM177 19h1v1h-1zM177 24h1v1h-1zM177 26h1v1h-1zM177 36h1v1h-1zM177 39h1v1h-1zM180 17h1v1h-1zM180 30h1v1h-1zM182 1h1v1h-1zM182 9h1v1h-1zM182 11h1v2h-1zM182 15h1v1h-1zM184 3h1v3h-1zM184 34h1v1h-1zM187 39h1v1h-1zM187 45h1v2h-1zM187 49h1v1h-1zM187 51h1v1h-1zM188 12h1v1h-1zM188 15h1v1h-1zM188 17h1v1h-1zM188 24h1v2h-1zM188 28h1v1h-1zM188 30h1v1h-1zM188 32h1v1h-1zM188 36h1v4h-1zM188 46h1v3h-1zM188 50h1v1h-1zM189 27h1v1h-1zM189 30h1v1h-1zM189 37h1v1h-1zM191 0h1v1h-1zM192 36h1v1h-1zM192 39h1v1h-1zM194 11h1v2h-1zM194 25h1v4h-1zM194 47h1v3h-1zM195 3h1v2h-1zM196 2h1v1h-1zM196 9h1v1h-1zM196 13h1v1h-1zM196 25h1v2h-1zM197 0h1v1h-1zM197 17h1v1h-1zM197 19h1v1h-1zM197 22h1v2h-1zM197 51h1v1h-1zM198 34h1v1h-1zM201 17h1v4h-1zM202 8h1v1h-1zM202 45h1v1h-1zM202 47h1v1h-1zM203 15h1v1h-1zM210 13h1v1h-1zM210 20h1v1h-1zM210 27h1v1h-1zM210 30h1v1h-1zM210 33h1v2h-1zM210 38h1v1h-1zM210 44h1v1h-1zM211 2h1v1h-1zM211 8h1v1h-1zM211 10h1v1h-1zM213 5h1v1h-1zM213 8h1v4h-1zM213 34h1v1h-1zM213 36h1v1h-1zM213 38h1v2h-1zM215 4h1v1h-1zM216 1h1v4h-1zM220 13h1v2h-1zM220 17h1v1h-1zM220 23h1v1h-1zM221 15h1v1h-1zM224 18h1v2h-1zM224 25h1v1h-1zM224 31h1v1h-1zM224 34h1v1h-1zM225 0h1v1h-1zM225 2h1v1h-1zM225 4h1v1h-1zM225 33h1v1h-1zM225 49h1v1h-1zM226 21h1v2h-1zM226 42h1v1h-1zM227 1h1v1h-1zM228 0h1v1h-1zM228 31h1v1h-1zM229 18h1v2h-1zM229 37h1v2h-1zM229 41h1v1h-1zM230 9h1v1h-1zM230 12h1v1h-1zM230 21h1v1h-1zM230 31h1v1h-1zM231 29h1v2h-1zM233 11h1v2h-1zM235 39h1v2h-1zM236 43h1v2h-1zM237 34h1v1h-1zM240 29h1v1h-1zM241 0h1v1h-1zM241 3h1v1h-1zM241 46h1v1h-1zM243 23h1v1h-1zM243 26h1v1h-1zM243 42h1v2h-1zM243 47h1v2h-1zM243 51h1v1h-1zM244 12h1v1h-1zM244 19h1v1h-1zM244 23h1v1h-1zM246 23h1v2h-1zM248 14h1v1h-1zM250 6h1v2h-1zM257 3h1v2h-1zM258 21h1v1h-1zM258 24h1v1h-1zM258 29h1v1h-1zM258 32h1v1h-1zM258 42h1v1h-1zM258 46h1v3h-1zM258 51h1v1h-1zM259 39h1v1h-1zM260 21h1v2h-1zM260 49h1v3h-1zM261 1h1v2h-1zM262 0h1v1h-1zM262 3h1v1h-1zM262 5h1v2h-1zM262 9h1v2h-1zM262 13h1v3h-1zM263 2h1v1h-1zM263 5h1v2h-1zM265 8h1v2h-1zM265 18h1v1h-1zM265 25h1v1h-1zM265 28h1v1h-1zM265 33h1v4h-1zM267 13h1v2h-1zM268 3h1v1h-1zM268 6h1v1h-1zM268 32h1v1h-1zM268 40h1v1h-1zM268 43h1v1h-1zM269 31h1v1h-1zM270 3h1v2h-1zM270 18h1v1h-1zM270 28h1v2h-1zM270 32h1v1h-1zM271 24h1v1h-1zM272 1h1v1h-1zM273 27h1v2h-1zM274 0h1v1h-1zM274 3h1v1h-1zM275 39h1v1h-1zM275 50h1v2h-1zM281 15h1v1h-1zM281 33h1v1h-1zM284 30h1v1h-1zM284 32h1v1h-1zM284 37h1v2h-1zM284 40h1v1h-1zM284 51h1v1h-1zM286 21h1v1h-1zM286 33h1v1h-1zM286 45h1v1h-1zM291 46h1v1h-1zM292 0h1v1h-1zM292 7h1v1h-1zM292 18h1v2h-1zM292 27h1v1h-1zM294 9h1v1h-1zM295 27h1v1h-1zM295 29h1v3h-1zM297 12h1v1h-1zM297 17h1v2h-1zM297 20h1v2h-1zM299 26h1v1h-1zM299 28h1v1h-1zM300 14h1v1h-1zM303 37h1v1h-1zM312 7h1v1h-1zM312 23h1v1h-1zM312 27h1v3h-1zM312 35h1v2h-1zM312 38h1v1h-1zM313 28h1v1h-1zM314 30h1v1h-1zM314 32h1v1h-1zM314 34h1v1h-1zM317 0h1v1h-1zM317 3h1v1h-1zM318 14h1v1h-1zM318 19h1v3h-1zM318 38h1v1h-1zM318 45h1v1h-1zM319 3h1v1h-1zM319 10h1v3h-1zM319 49h1v2h-1zM322 3h1v2h-1zM323 39h1v1h-1zM324 28h1v2h-1zM324 50h1v1h-1zM325 3h1v1h-1zM325 13h1v2h-1zM326 13h1v1h-1zM326 15h1v1h-1zM326 20h1v1h-1zM327 25h1v1h-1zM327 31h1v1h-1zM331 20h1v1h-1zM332 11h1v1h-1zM332 25h1v1h-1zM332 45h1v1h-1zM333 11h1v1h-1zM333 14h1v1h-1zM334 6h1v1h-1zM334 8h1v2h-1zM334 14h1v1h-1zM334 18h1v1h-1zM334 46h1v3h-1zM335 7h1v2h-1zM335 10h1v1h-1zM335 19h1v1h-1zM335 21h1v2h-1zM335 24h1v1h-1zM335 40h1v3h-1zM339 10h1v1h-1zM340 6h1v1h-1zM340 9h1v1h-1zM340 11h1v1h-1zM340 30h1v2h-1zM341 7h1v1h-1zM341 10h1v3h-1zM341 14h1v1h-1zM341 27h1v1h-1zM341 29h1v3h-1zM343 6h1v1h-1zM343 41h1v1h-1zM343 44h1v1h-1zM343 47h1v1h-1zM345 45h1v1h-1zM346 47h1v3h-1zM346 51h1v1h-1zM347 40h1v1h-1zM347 49h1v1h-1zM348 9h1v1h-1zM348 17h1v1h-1zM348 19h1v1h-1zM349 12h1v1h-1zM350 45h1v1h-1zM351 6h1v1h-1zM351 30h1v1h-1zM351 33h1v2h-1zM351 45h1v3h-1zM352 14h1v1h-1zM352 17h1v1h-1zM354 31h1v1h-1zM355 7h1v2h-1zM355 22h1v1h-1zM355 31h1v1h-1zM356 9h1v1h-1zM356 13h1v1h-1zM356 27h1v1h-1zM356 46h1v1h-1zM358 35h1v1h-1zM358 47h1v1h-1zM361 11h1v1h-1zM361 49h1v1h-1zM361 51h1v1h-1zM363 0h1v1h-1zM363 15h1v1h-1zM363 17h1v1h-1z"/>
<path fill="#E7D119" d="M0 6h1v2h-1zM0 22h1v1h-1zM0 24h1v1h-1zM0 30h1v1h-1zM0 33h1v2h-1zM1 2h1v1h-1zM1 13h1v1h-1zM1 23h1v1h-1zM1 27h1v1h-1zM1 36h1v1h-1zM1 39h1v1h-1zM1 42h1v1h-1zM1 44h1v1h-1zM2 3h1v1h-1zM2 5h1v1h-1zM2 10h1v1h-1zM2 12h1v3h-1zM2 37h1v1h-1zM2 39h1v1h-1zM2 42h1v1h-1zM2 47h1v2h-1zM2 50h1v1h-1zM3 0h1v2h-1zM3 8h1v1h-1zM3 13h1v1h-1zM3 36h1v1h-1zM3 49h1v2h-1zM4 5h1v1h-1zM4 22h1v1h-1zM4 24h1v1h-1zM4 26h1v4h-1zM4 44h1v2h-1zM4 50h1v1h-1zM5 0h1v2h-1zM5 6h1v3h-1zM5 21h1v1h-1zM5 30h1v1h-1zM5 40h1v1h-1zM5 45h1v1h-1zM6 6h1v2h-1zM6 26h1v1h-1zM6 32h1v1h-1zM7 3h1v1h-1zM7 12h1v1h-1zM7 25h1v2h-1zM7 31h1v1h-1zM7 33h1v1h-1zM7 50h1v1h-1zM8 1h1v2h-1zM8 5h1v1h-1zM8 9h1v1h-1zM8 17h1v2h-1zM9 0h1v1h-1zM9 7h1v1h-1zM9 13h1v2h-1zM9 23h1v1h-1zM9 25h1v1h-1zM9 29h1v1h-1zM9 32h1v1h-1zM9 36h1v1h-1zM10 6h1v1h-1zM10 22h1v1h-1zM10 25h1v1h-1zM10 32h1v1h-1zM10 41h1v1h-1zM11 2h1v1h-1zM11 5h1v1h-1zM11 10h1v1h-1zM11 19h1v1h-1zM11 34h1v2h-1zM11 41h1v1h-1zM12 5h1v1h-1zM12 12h1v1h-1zM12 19h1v1h-1zM12 23h1v2h-1zM12 31h1v1h-1zM12 39h1v1h-1zM13 3h1v1h-1zM13 5h1v1h-1zM13 11h1v3h-1zM13 21h1v1h-1zM13 29h1v1h-1zM14 0h1v3h-1zM14 6h1v4h-1zM14 12h1v1h-1zM14 50h1v2h-1zM15 6h1v1h-1zM15 9h1v1h-1zM15 12h1v1h-1zM15 18h1v1h-1zM15 23h1v2h-1zM15 28h1v1h-1zM15 36h1v1h-1zM15 43h1v1h-1zM16 1h1v3h-1zM16 5h1v1h-1zM16 18h1v1h-1zM16 26h1v1h-1zM16 30h1v3h-1zM16 39h1v1h-1zM16 43h1v2h-1zM17 0h1v1h-1zM17 4h1v1h-1zM17 12h1v1h-1zM17 15h1v1h-1zM17 18h1v1h-1zM17 20h1v1h-1zM17 23h1v1h-1zM17 34h1v2h-1zM18 11h1v1h-1zM18 23h1v1h-1zM18 27h1v1h-1zM18 32h1v1h-1zM19 2h1v1h-1zM19 9h1v1h-1zM19 11h1v1h-1zM19 19h1v1h-1zM19 23h1v1h-1zM19 28h1v1h-1zM19 36h1v1h-1zM19 48h1v1h-1zM19 51h1v1h-1zM20 3h1v1h-1zM20 10h1v1h-1zM20 12h1v1h-1zM20 22h1v1h-1zM20 24h1v1h-1zM20 33h1v2h-1zM20 38h1v1h-1zM20 42h1v2h-1zM20 47h1v2h-1zM20 51h1v1h-1zM21 5h1v1h-1zM21 7h1v2h-1zM21 14h1v1h-1zM21 17h1v1h-1zM21 44h1v1h-1zM21 47h1v1h-1zM21 49h1v1h-1zM21 51h1v1h-1zM22 3h1v1h-1zM22 5h1v1h-1zM22 7h1v1h-1zM22 10h1v1h-1zM23 4h1v1h-1zM23 7h1v1h-1zM23 12h1v1h-1zM23 22h1v1h-1zM23 25h1v1h-1zM23 28h1v1h-1zM23 31h1v1h-1zM23 49h1v1h-1zM24 5h1v1h-1zM24 14h1v2h-1zM24 17h1v1h-1zM24 19h1v1h-1zM25 1h1v1h-1zM25 6h1v1h-1zM25 9h1v1h-1zM25 18h1v1h-1zM25 20h1v1h-1zM25 38h1v1h-1zM25 46h1v1h-1zM25 49h1v1h-1zM25 51h1v1h-1zM26 0h1v1h-1zM26 7h1v1h-1zM26 11h1v1h-1zM26 14h1v1h-1zM26 35h1v1h-1zM26 41h1v1h-1zM26 48h1v1h-1zM27 2h1v2h-1zM27 11h1v1h-1zM27 25h1v1h-1zM27 27h1v1h-1zM27 39h1v1h-1zM27 49h1v1h-1zM28 4h1v2h-1zM28 8h1v1h-1zM28 13h1v1h-1zM28 19h1v1h-1zM28 22h1v1h-1zM28 25h1v1h-1zM28 27h1v1h-1zM28 29h1v2h-1zM28 44h1v1h-1zM28 47h1v1h-1zM29 2h1v1h-1zM29 5h1v1h-1zM29 10h1v1h-1zM29 13h1v1h-1zM29 22h1v1h-1zM29 24h1v1h-1zM29 27h1v1h-1zM29 32h1v2h-1zM29 38h1v1h-1zM30 2h1v4h-1zM30 12h1v1h-1zM30 15h1v1h-1zM30 17h1v1h-1zM30 19h1v1h-1zM30 26h1v1h-1zM31 9h1v1h-1zM31 14h1v1h-1zM31 27h1v2h-1zM32 5h1v1h-1zM32 24h1v1h-1zM33 1h1v1h-1zM33 4h1v4h-1zM33 11h1v1h-1zM33 14h1v2h-1zM33 18h1v2h-1zM33 21h1v2h-1zM33 24h1v1h-1zM33 26h1v1h-1zM33 32h1v4h-1zM33 37h1v1h-1zM33 39h1v1h-1zM33 49h1v2h-1zM34 3h1v1h-1zM34 12h1v1h-1zM34 14h1v1h-1zM34 28h1v1h-1zM34 31h1v1h-1zM34 35h1v1h-1zM34 47h1v2h-1zM34 50h1v1h-1zM35 0h1v1h-1zM35 8h1v1h-1zM35 21h1v1h-1zM35 28h1v2h-1zM35 37h1v1h-1zM35 39h1v1h-1zM35 49h1v1h-1zM36 0h1v1h-1zM36 17h1v1h-1zM36 23h1v2h-1zM36 32h1v1h-1zM36 36h1v2h-1zM36 49h1v1h-1zM37 0h1v1h-1zM37 3h1v1h-1zM37 5h1v1h-1zM37 10h1v1h-1zM37 14h1v1h-1zM37 20h1v1h-1zM37 30h1v1h-1zM37 33h1v3h-1zM37 37h1v2h-1zM37 43h1v1h-1zM37 45h1v1h-1zM37 48h1v1h-1zM37 50h1v1h-1zM38 1h1v1h-1zM38 6h1v2h-1zM38 9h1v1h-1zM38 12h1v1h-1zM38 19h1v1h-1zM38 21h1v1h-1zM38 23h1v1h-1zM38 29h1v1h-1zM38 48h1v1h-1zM39 3h1v1h-1zM39 5h1v1h-1zM39 11h1v1h-1zM39 14h1v1h-1zM39 18h1v1h-1zM39 20h1v2h-1zM39 23h1v1h-1zM39 28h1v1h-1zM39 32h1v1h-1zM39 35h1v1h-1zM39 43h1v1h-1zM39 45h1v1h-1zM40 3h1v5h-1zM40 12h1v1h-1zM40 19h1v3h-1zM40 40h1v1h-1zM40 42h1v1h-1zM40 45h1v1h-1zM40 50h1v1h-1zM41 0h1v1h-1zM41 3h1v1h-1zM41 7h1v1h-1zM41 9h1v1h-1zM41 25h1v1h-1zM41 27h1v2h-1zM41 51h1v1h-1zM42 4h1v1h-1zM42 8h1v1h-1zM42 10h1v3h-1zM42 15h1v1h-1zM42 20h1v1h-1zM42 31h1v1h-1zM42 35h1v1h-1zM42 42h1v1h-1zM42 50h1v1h-1zM43 2h1v2h-1zM43 5h1v1h-1zM43 7h1v1h-1zM43 11h1v1h-1zM43 14h1v1h-1zM43 18h1v2h-1zM43 28h1v1h-1zM43 37h1v3h-1zM43 41h1v1h-1zM43 43h1v1h-1zM44 5h1v1h-1zM44 14h1v1h-1zM44 19h1v1h-1zM44 21h1v1h-1zM44 24h1v1h-1zM44 26h1v1h-1zM44 28h1v1h-1zM44 39h1v1h-1zM44 41h1v2h-1zM44 45h1v1h-1zM45 0h1v1h-1zM45 4h1v1h-1zM45 13h1v1h-1zM45 29h1v1h-1zM45 36h1v1h-1zM46 11h1v1h-1zM46 15h1v1h-1zM46 21h1v1h-1zM46 34h1v2h-1zM46 41h1v1h-1zM47 2h1v1h-1zM47 11h1v2h-1zM47 17h1v1h-1zM47 24h1v2h-1zM47 32h1v1h-1zM47 37h1v1h-1zM47 46h1v1h-1zM48 1h1v1h-1zM48 3h1v1h-1zM48 15h1v1h-1zM48 40h1v1h-1zM48 43h1v1h-1zM49 7h1v1h-1zM49 10h1v1h-1zM49 14h1v1h-1zM49 18h1v2h-1zM49 25h1v2h-1zM49 37h1v2h-1zM49 40h1v1h-1zM50 2h1v1h-1zM50 4h1v1h-1zM50 8h1v2h-1zM50 11h1v1h-1zM50 13h1v1h-1zM50 17h1v1h-1zM50 24h1v1h-1zM50 41h1v1h-1zM51 7h1v1h-1zM51 9h1v1h-1zM51 13h1v1h-1zM51 24h1v1h-1zM51 32h1v1h-1zM52 15h1v1h-1zM52 17h1v1h-1zM52 20h1v1h-1zM52 26h1v1h-1zM52 35h1v1h-1zM52 42h1v1h-1zM53 6h1v1h-1zM53 9h1v1h-1zM53 14h1v2h-1zM53 27h1v1h-1zM53 33h1v1h-1zM53 38h1v2h-1zM53 43h1v1h-1zM54 9h1v1h-1zM54 13h1v2h-1zM54 23h1v1h-1zM54 27h1v1h-1zM54 31h1v1h-1zM54 43h1v2h-1zM55 0h1v3h-1zM55 5h1v1h-1zM55 9h1v1h-1zM55 15h1v1h-1zM55 25h1v1h-1zM55 27h1v3h-1zM55 36h1v1h-1zM55 44h1v2h-1zM55 47h1v1h-1zM56 10h1v1h-1zM56 12h1v1h-1zM56 21h1v1h-1zM56 25h1v1h-1zM57 6h1v3h-1zM57 17h1v1h-1zM57 27h1v1h-1zM57 33h1v1h-1zM57 41h1v1h-1zM57 47h1v1h-1zM58 7h1v1h-1zM58 14h1v1h-1zM58 18h1v1h-1zM58 20h1v1h-1zM58 22h1v1h-1zM58 30h1v1h-1zM58 32h1v1h-1zM58 37h1v1h-1zM58 50h1v2h-1zM59 8h1v1h-1zM59 10h1v1h-1zM59 13h1v1h-1zM59 15h1v1h-1zM59 17h1v1h-1zM59 19h1v2h-1zM59 22h1v1h-1zM59 26h1v1h-1zM59 29h1v1h-1zM59 37h1v2h-1zM59 41h1v1h-1zM60 7h1v1h-1zM60 11h1v1h-1zM60 13h1v1h-1zM61 1h1v4h-1zM61 14h1v1h-1zM61 17h1v1h-1zM61 20h1v2h-1zM61 25h1v1h-1zM61 31h1v1h-1zM61 33h1v1h-1zM61 39h1v2h-1zM62 6h1v1h-1zM62 15h1v1h-1zM62 17h1v1h-1zM62 19h1v1h-1zM62 21h1v1h-1zM62 28h1v1h-1zM62 31h1v1h-1zM62 33h1v1h-1zM62 45h1v1h-1zM62 47h1v1h-1zM62 51h1v1h-1zM63 0h1v2h-1zM63 5h1v1h-1zM63 8h1v1h-1zM64 7h1v1h-1zM64 11h1v1h-1zM64 25h1v2h-1zM64 36h1v1h-1zM65 1h1v1h-1zM65 4h1v1h-1zM65 11h1v1h-1zM65 39h1v1h-1zM65 46h1v1h-1zM66 1h1v1h-1zM66 12h1v1h-1zM66 23h1v1h-1zM66 27h1v2h-1zM66 30h1v1h-1zM66 32h1v1h-1zM66 37h1v1h-1zM66 41h1v1h-1zM66 46h1v1h-1zM67 1h1v1h-1zM67 3h1v3h-1zM67 7h1v1h-1zM67 10h1v1h-1zM67 15h1v1h-1zM67 29h1v1h-1zM67 39h1v1h-1zM67 42h1v1h-1zM67 45h1v1h-1zM68 3h1v1h-1zM68 5h1v1h-1zM68 9h1v1h-1zM68 11h1v1h-1zM68 18h1v1h-1zM68 27h1v2h-1zM68 32h1v1h-1zM69 17h1v1h-1zM69 19h1v1h-1zM69 22h1v1h-1zM69 31h1v1h-1zM69 37h1v1h-1zM69 39h1v1h-1zM69 42h1v1h-1zM70 9h1v1h-1zM70 21h1v1h-1zM70 35h1v2h-1zM70 38h1v1h-1zM71 4h1v1h-1zM71 8h1v1h-1zM71 11h1v1h-1zM71 14h1v1h-1zM71 22h1v1h-1zM71 24h1v1h-1zM71 39h1v1h-1zM71 44h1v1h-1zM71 47h1v1h-1zM71 49h1v1h-1zM71 51h1v1h-1zM72 7h1v1h-1zM72 15h1v1h-1zM72 18h1v2h-1zM72 21h1v1h-1zM72 27h1v1h-1zM72 34h1v1h-1zM72 36h1v1h-1zM72 38h1v1h-1zM72 45h1v1h-1zM76 0h1v2h-1zM76 8h1v3h-1zM76 41h1v1h-1zM76 47h1v2h-1zM77 14h1v2h-1zM77 27h1v2h-1zM77 33h1v1h-1zM77 40h1v1h-1zM77 43h1v3h-1zM78 0h1v1h-1zM79 2h1v1h-1zM79 7h1v1h-1zM79 24h1v1h-1zM79 30h1v5h-1zM79 36h1v1h-1zM79 38h1v2h-1zM80 5h1v1h-1zM80 10h1v1h-1zM80 12h1v1h-1zM80 14h1v1h-1zM80 25h1v1h-1zM80 30h1v1h-1zM80 33h1v1h-1zM80 40h1v2h-1zM81 18h1v1h-1zM82 20h1v1h-1zM82 22h1v1h-1zM82 32h1v1h-1zM82 37h1v1h-1zM82 49h1v1h-1zM84 0h1v2h-1zM84 3h1v2h-1zM84 8h1v1h-1zM84 31h1v2h-1zM85 20h1v1h-1zM85 26h1v2h-1zM85 32h1v1h-1zM85 35h1v1h-1zM85 37h1v1h-1zM85 40h1v1h-1zM85 42h1v1h-1zM85 50h1v1h-1zM86 8h1v1h-1zM88 0h1v1h-1zM88 51h1v1h-1zM89 7h1v3h-1zM91 4h1v6h-1zM91 15h1v1h-1zM91 17h1v1h-1zM91 19h1v1h-1zM91 22h1v1h-1zM91 27h1v1h-1zM91 32h1v3h-1zM92 23h1v2h-1zM92 26h1v1h-1zM92 34h1v2h-1zM92 39h1v1h-1zM93 19h1v4h-1zM93 43h1v2h-1zM93 46h1v3h-1zM94 10h1v1h-1zM94 38h1v2h-1zM95 0h1v4h-1zM95 5h1v1h-1zM95 10h1v3h-1zM95 19h1v5h-1zM95 28h1v1h-1zM95 32h1v2h-1zM95 35h1v3h-1zM96 1h1v2h-1zM97 0h1v8h-1zM98 23h1v1h-1zM99 4h1v2h-1zM99 11h1v3h-1zM99 22h1v7h-1zM99 32h1v1h-1zM99 34h1v1h-1zM99 38h1v1h-1zM99 40h1v2h-1zM99 48h1v2h-1zM100 11h1v3h-1zM100 35h1v5h-1zM100 41h1v1h-1zM100 43h1v4h-1zM100 48h1v3h-1zM101 36h1v2h-1zM102 22h1v1h-1zM102 25h1v1h-1zM103 0h1v1h-1zM103 2h1v2h-1zM103 8h1v2h-1zM103 11h1v1h-1zM103 15h1v1h-1zM103 17h1v1h-1zM103 28h1v4h-1zM103 36h1v6h-1zM103 43h1v3h-1zM103 51h1v1h-1zM104 33h1v1h-1zM104 44h1v1h-1zM104 51h1v1h-1zM106 32h1v3h-1zM107 25h1v1h-1zM107 27h1v1h-1zM108 27h1v1h-1zM108 32h1v2h-1zM108 39h1v3h-1zM108 46h1v2h-1zM109 1h1v1h-1zM109 3h1v1h-1zM109 34h1v2h-1zM109 37h1v1h-1zM109 45h1v3h-1zM109 49h1v1h-1zM110 5h1v2h-1zM110 20h1v6h-1zM110 27h1v3h-1zM110 31h1v1h-1zM110 33h1v1h-1zM110 46h1v1h-1zM112 11h1v1h-1zM112 23h1v1h-1zM112 34h1v1h-1zM112 36h1v1h-1zM112 39h1v2h-1zM112 44h1v1h-1zM114 0h1v4h-1zM114 5h1v1h-1zM114 8h1v2h-1zM114 11h1v2h-1zM114 14h1v1h-1zM117 6h1v3h-1zM117 11h1v1h-1zM117 24h1v1h-1zM117 31h1v2h-1zM117 35h1v3h-1zM117 43h1v2h-1zM117 46h1v2h-1zM117 49h1v3h-1zM118 4h1v3h-1zM118 13h1v2h-1zM118 39h1v1h-1zM122 23h1v1h-1zM122 27h1v1h-1zM122 45h1v1h-1zM123 4h1v2h-1zM123 7h1v2h-1zM123 12h1v2h-1zM123 15h1v1h-1zM123 41h1v1h-1zM127 1h1v3h-1zM127 6h1v2h-1zM127 9h1v1h-1zM127 12h1v4h-1zM127 17h1v1h-1zM127 28h1v2h-1zM127 31h1v1h-1zM128 4h1v1h-1zM128 23h1v2h-1zM129 10h1v2h-1zM129 14h1v1h-1zM129 31h1v1h-1zM130 13h1v3h-1zM130 42h1v1h-1zM130 44h1v1h-1zM133 29h1v1h-1zM133 34h1v1h-1zM133 42h1v2h-1zM133 45h1v1h-1zM136 3h1v1h-1zM137 0h1v1h-1zM137 3h1v1h-1zM137 7h1v1h-1zM137 23h1v4h-1zM137 31h1v2h-1zM137 46h1v2h-1zM138 17h1v1h-1zM139 0h1v1h-1zM139 17h1v2h-1zM139 22h1v1h-1zM140 0h1v2h-1zM140 22h1v1h-1zM140 26h1v6h-1zM140 35h1v1h-1zM140 37h1v1h-1zM140 39h1v1h-1zM140 42h1v2h-1zM140 45h1v2h-1zM140 49h1v3h-1zM141 18h1v2h-1zM141 25h1v9h-1zM141 45h1v7h-1zM142 7h1v3h-1zM142 18h1v3h-1zM142 31h1v2h-1zM142 42h1v2h-1zM142 49h1v2h-1zM143 2h1v1h-1zM143 4h1v4h-1zM143 26h1v1h-1zM143 32h1v1h-1zM143 43h1v4h-1zM143 48h1v1h-1zM144 21h1v2h-1zM144 30h1v2h-1zM144 45h1v1h-1zM144 47h1v1h-1zM144 49h1v2h-1zM145 7h1v3h-1zM145 11h1v1h-1zM145 18h1v2h-1zM145 36h1v1h-1zM145 38h1v1h-1zM145 40h1v4h-1zM145 49h1v3h-1zM146 37h1v8h-1zM146 46h1v1h-1zM146 48h1v2h-1zM147 9h1v1h-1zM148 13h1v3h-1zM148 18h1v2h-1zM148 33h1v1h-1zM151 11h1v1h-1zM151 13h1v3h-1zM151 37h1v1h-1zM151 40h1v1h-1zM152 5h1v4h-1zM152 30h1v1h-1zM152 37h1v1h-1zM152 40h1v1h-1zM152 45h1v1h-1zM152 48h1v2h-1zM153 22h1v1h-1zM153 32h1v2h-1zM154 24h1v5h-1zM155 25h1v2h-1zM155 29h1v1h-1zM155 31h1v2h-1zM155 46h1v2h-1zM155 49h1v1h-1zM156 17h1v1h-1zM156 21h1v1h-1zM156 28h1v1h-1zM156 30h1v1h-1zM156 35h1v2h-1zM156 39h1v3h-1zM156 47h1v4h-1zM157 17h1v2h-1zM157 32h1v1h-1zM157 37h1v2h-1zM157 40h1v1h-1zM157 50h1v1h-1zM158 17h1v1h-1zM158 36h1v6h-1zM159 1h1v1h-1zM159 22h1v1h-1zM159 27h1v2h-1zM159 34h1v3h-1zM159 41h1v3h-1zM159 47h1v2h-1zM161 27h1v1h-1zM161 47h1v5h-1zM162 23h1v1h-1zM162 26h1v3h-1zM162 38h1v1h-1zM163 0h1v3h-1zM163 5h1v3h-1zM163 10h1v4h-1zM163 15h1v1h-1zM163 17h1v1h-1zM163 24h1v1h-1zM163 31h1v2h-1zM163 44h1v1h-1zM164 0h1v2h-1zM164 3h1v4h-1zM164 17h1v1h-1zM164 34h1v1h-1zM164 36h1v1h-1zM167 19h1v1h-1zM167 22h1v1h-1zM167 24h1v1h-1zM167 26h1v1h-1zM167 29h1v1h-1zM167 47h1v1h-1zM167 49h1v3h-1zM168 36h1v1h-1zM169 0h1v2h-1zM169 5h1v2h-1zM169 15h1v1h-1zM169 27h1v1h-1zM169 30h1v2h-1zM170 0h1v3h-1zM170 10h1v1h-1zM170 13h1v3h-1zM170 43h1v1h-1zM170 45h1v2h-1zM170 48h1v3h-1zM171 6h1v1h-1zM171 10h1v1h-1zM171 14h1v2h-1zM171 17h1v2h-1zM171 22h1v2h-1zM171 30h1v1h-1zM171 33h1v1h-1zM172 2h1v3h-1zM172 6h1v3h-1zM172 10h1v1h-1zM172 18h1v1h-1zM172 44h1v5h-1zM173 6h1v4h-1zM173 11h1v4h-1zM173 39h1v7h-1zM173 49h1v3h-1zM174 4h1v4h-1zM174 18h1v1h-1zM174 22h1v1h-1zM174 24h1v1h-1zM174 26h1v2h-1zM175 1h1v1h-1zM175 4h1v1h-1zM175 40h1v2h-1zM176 4h1v1h-1zM176 9h1v3h-1zM176 17h1v1h-1zM176 20h1v3h-1zM176 24h1v2h-1zM176 39h1v1h-1zM176 42h1v1h-1zM176 45h1v2h-1zM177 4h1v3h-1zM177 45h1v1h-1zM178 28h1v1h-1zM179 23h1v5h-1zM179 29h1v1h-1zM179 32h1v2h-1zM179 36h1v1h-1zM179 44h1v1h-1zM181 15h1v1h-1zM181 29h1v1h-1zM181 31h1v4h-1zM182 22h1v2h-1zM182 29h1v3h-1zM182 35h1v3h-1zM182 39h1v1h-1zM182 48h1v2h-1zM183 25h1v1h-1zM183 28h1v3h-1zM183 35h1v1h-1zM185 0h1v3h-1zM185 7h1v1h-1zM185 9h1v1h-1zM185 12h1v2h-1zM185 34h1v2h-1zM185 37h1v2h-1zM185 46h1v3h-1zM186 1h1v2h-1zM186 5h1v1h-1zM186 8h1v1h-1zM186 10h1v3h-1zM186 14h1v2h-1zM186 23h1v4h-1zM186 29h1v1h-1zM186 31h1v2h-1zM186 35h1v1h-1zM186 45h1v1h-1zM187 7h1v1h-1zM187 24h1v2h-1zM187 35h1v2h-1zM189 25h1v1h-1zM190 2h1v1h-1zM190 12h1v4h-1zM190 17h1v1h-1zM190 20h1v1h-1zM190 22h1v2h-1zM190 34h1v3h-1zM190 41h1v1h-1zM191 20h1v7h-1zM191 38h1v1h-1zM191 42h1v1h-1zM191 46h1v2h-1zM192 7h1v7h-1zM192 26h1v1h-1zM192 40h1v2h-1zM193 45h1v1h-1zM193 47h1v1h-1zM193 49h1v3h-1zM195 29h1v1h-1zM195 31h1v5h-1zM195 39h1v5h-1zM197 5h1v3h-1zM198 0h1v1h-1zM198 6h1v6h-1zM198 17h1v1h-1zM198 30h1v1h-1zM199 6h1v1h-1zM199 8h1v1h-1zM199 11h1v2h-1zM199 17h1v2h-1zM199 26h1v5h-1zM199 41h1v1h-1zM199 43h1v1h-1zM199 45h1v5h-1zM199 51h1v1h-1zM200 4h1v3h-1zM200 9h1v1h-1zM200 11h1v1h-1zM200 18h1v2h-1zM200 21h1v1h-1zM200 23h1v1h-1zM200 33h1v1h-1zM200 39h1v2h-1zM200 43h1v1h-1zM200 45h1v1h-1zM200 50h1v1h-1zM201 25h1v1h-1zM201 28h1v3h-1zM202 27h1v1h-1zM202 29h1v1h-1zM202 40h1v3h-1zM203 0h1v1h-1zM203 17h1v1h-1zM203 19h1v1h-1zM203 22h1v3h-1zM203 26h1v1h-1zM203 28h1v2h-1zM203 35h1v1h-1zM203 38h1v3h-1zM204 45h1v1h-1zM205 3h1v2h-1zM206 23h1v1h-1zM206 28h1v2h-1zM206 31h1v1h-1zM206 36h1v1h-1zM207 7h1v3h-1zM207 12h1v1h-1zM207 21h1v1h-1zM207 23h1v2h-1zM207 28h1v1h-1zM207 32h1v1h-1zM207 39h1v1h-1zM208 0h1v1h-1zM208 2h1v5h-1zM208 9h1v5h-1zM208 27h1v1h-1zM208 29h1v1h-1zM208 32h1v1h-1zM208 34h1v3h-1zM208 38h1v1h-1zM209 33h1v1h-1zM209 35h1v5h-1zM209 42h1v1h-1zM212 4h1v1h-1zM212 6h1v2h-1zM212 12h1v2h-1zM212 17h1v3h-1zM212 23h1v1h-1zM212 29h1v1h-1zM212 32h1v2h-1zM212 35h1v1h-1zM212 38h1v3h-1zM212 49h1v1h-1zM212 51h1v1h-1zM213 46h1v1h-1zM213 48h1v1h-1zM214 3h1v3h-1zM214 7h1v7h-1zM214 15h1v1h-1zM214 19h1v2h-1zM214 22h1v11h-1zM214 36h1v3h-1zM214 40h1v3h-1zM214 45h1v1h-1zM214 49h1v2h-1zM215 18h1v4h-1zM215 28h1v1h-1zM215 30h1v2h-1zM215 48h1v1h-1zM216 35h1v1h-1zM217 22h1v5h-1zM219 3h1v3h-1zM219 12h1v4h-1zM219 18h1v2h-1zM219 42h1v1h-1zM220 34h1v3h-1zM220 51h1v1h-1zM222 5h1v1h-1zM222 7h1v2h-1zM222 30h1v1h-1zM223 0h1v2h-1zM223 3h1v1h-1zM224 0h1v2h-1zM224 12h1v1h-1zM224 32h1v1h-1zM225 38h1v2h-1zM225 41h1v1h-1zM225 44h1v1h-1zM227 13h1v3h-1zM227 17h1v1h-1zM227 22h1v1h-1zM227 24h1v5h-1zM227 46h1v1h-1zM227 48h1v1h-1zM228 4h1v1h-1zM228 6h1v1h-1zM228 9h1v2h-1zM228 14h1v1h-1zM228 24h1v5h-1zM230 17h1v1h-1zM230 34h1v1h-1zM230 36h1v2h-1zM230 39h1v3h-1zM230 43h1v1h-1zM232 11h1v1h-1zM232 32h1v1h-1zM232 34h1v2h-1zM233 20h1v3h-1zM233 31h1v3h-1zM233 35h1v1h-1zM233 43h1v2h-1zM233 49h1v1h-1zM234 46h1v1h-1zM235 4h1v2h-1zM235 7h1v1h-1zM235 11h1v2h-1zM235 21h1v1h-1zM236 2h1v1h-1zM236 13h1v2h-1zM236 18h1v2h-1zM236 37h1v3h-1zM236 47h1v1h-1zM236 50h1v1h-1zM237 12h1v2h-1zM237 24h1v1h-1zM237 31h1v1h-1zM237 51h1v1h-1zM238 17h1v3h-1zM238 30h1v4h-1zM238 35h1v2h-1zM238 38h1v1h-1zM238 40h1v2h-1zM238 47h1v1h-1zM239 8h1v3h-1zM239 41h1v4h-1zM240 0h1v5h-1zM240 6h1v3h-1zM240 11h1v1h-1zM240 13h1v1h-1zM240 15h1v1h-1zM240 17h1v3h-1zM240 21h1v1h-1zM240 37h1v1h-1zM240 46h1v6h-1zM241 12h1v3h-1zM241 30h1v1h-1zM241 35h1v1h-1zM241 37h1v1h-1zM243 18h1v2h-1zM243 34h1v3h-1zM244 47h1v1h-1zM245 14h1v2h-1zM245 17h1v5h-1zM245 24h1v2h-1zM245 28h1v7h-1zM245 36h1v6h-1zM245 43h1v1h-1zM246 0h1v1h-1zM246 3h1v1h-1zM246 6h1v3h-1zM246 10h1v1h-1zM246 12h1v4h-1zM247 9h1v1h-1zM247 34h1v2h-1zM247 38h1v1h-1zM247 40h1v3h-1zM247 44h1v1h-1zM249 0h1v1h-1zM249 35h1v1h-1zM251 1h1v1h-1zM251 8h1v2h-1zM251 14h1v1h-1zM252 0h1v1h-1zM252 19h1v1h-1zM252 22h1v1h-1zM252 45h1v2h-1zM252 50h1v1h-1zM253 30h1v1h-1zM254 1h1v1h-1zM254 10h1v1h-1zM254 36h1v2h-1zM254 39h1v1h-1zM254 42h1v4h-1zM254 47h1v3h-1zM255 4h1v1h-1zM255 21h1v3h-1zM255 25h1v2h-1zM255 28h1v2h-1zM255 31h1v2h-1zM255 34h1v1h-1zM255 50h1v2h-1zM256 31h1v11h-1zM256 44h1v5h-1zM256 50h1v2h-1zM257 36h1v1h-1zM257 42h1v7h-1zM257 50h1v1h-1zM259 3h1v1h-1zM259 6h1v1h-1zM259 15h1v1h-1zM259 17h1v1h-1zM259 31h1v1h-1zM259 34h1v3h-1zM260 2h1v2h-1zM260 5h1v1h-1zM260 7h1v5h-1zM260 29h1v1h-1zM260 39h1v1h-1zM260 42h1v2h-1zM261 35h1v3h-1zM261 46h1v1h-1zM262 1h1v2h-1zM262 17h1v2h-1zM262 22h1v2h-1zM262 25h1v1h-1zM263 13h1v2h-1zM263 19h1v2h-1zM263 47h1v1h-1zM264 24h1v2h-1zM266 33h1v6h-1zM267 22h1v3h-1zM267 28h1v2h-1zM267 37h1v2h-1zM268 10h1v4h-1zM268 17h1v1h-1zM268 19h1v1h-1zM268 36h1v4h-1zM269 29h1v2h-1zM271 5h1v1h-1zM271 7h1v1h-1zM271 9h1v1h-1zM271 31h1v1h-1zM271 37h1v1h-1zM271 39h1v1h-1zM271 41h1v2h-1zM271 46h1v1h-1zM272 25h1v1h-1zM272 45h1v1h-1zM272 47h1v1h-1zM272 49h1v2h-1zM274 8h1v1h-1zM275 4h1v3h-1zM275 29h1v1h-1zM276 0h1v4h-1zM276 8h1v1h-1zM276 11h1v2h-1zM276 14h1v1h-1zM277 46h1v2h-1zM277 50h1v1h-1zM278 5h1v2h-1zM278 11h1v2h-1zM278 15h1v1h-1zM278 20h1v3h-1zM278 49h1v1h-1zM278 51h1v1h-1zM279 33h1v1h-1zM279 35h1v1h-1zM279 37h1v1h-1zM279 39h1v1h-1zM281 7h1v1h-1zM282 26h1v2h-1zM282 29h1v1h-1zM282 48h1v1h-1zM282 50h1v2h-1zM283 0h1v2h-1zM283 4h1v1h-1zM283 13h1v2h-1zM283 23h1v5h-1zM283 39h1v3h-1zM283 48h1v4h-1zM284 22h1v2h-1zM284 25h1v4h-1zM285 41h1v1h-1zM286 38h1v2h-1zM287 23h1v3h-1zM288 31h1v1h-1zM289 0h1v2h-1zM289 6h1v1h-1zM289 12h1v2h-1zM289 19h1v1h-1zM289 23h1v2h-1zM289 26h1v1h-1zM289 33h1v4h-1zM289 42h1v1h-1zM289 44h1v1h-1zM289 46h1v1h-1zM289 48h1v4h-1zM290 0h1v1h-1zM290 2h1v1h-1zM290 24h1v1h-1zM290 27h1v2h-1zM290 33h1v2h-1zM290 36h1v1h-1zM290 50h1v1h-1zM291 28h1v1h-1zM291 32h1v1h-1zM291 37h1v1h-1zM292 34h1v1h-1zM292 39h1v1h-1zM294 4h1v1h-1zM294 15h1v1h-1zM294 17h1v2h-1zM294 21h1v1h-1zM294 26h1v1h-1zM294 32h1v3h-1zM294 37h1v4h-1zM294 42h1v2h-1zM295 17h1v2h-1zM295 36h1v1h-1zM295 38h1v2h-1zM295 42h1v1h-1zM295 48h1v1h-1zM296 47h1v1h-1zM296 50h1v1h-1zM297 8h1v1h-1zM297 10h1v2h-1zM297 32h1v1h-1zM297 39h1v1h-1zM297 41h1v1h-1zM297 43h1v2h-1zM297 47h1v1h-1zM297 49h1v1h-1zM297 51h1v1h-1zM298 26h1v1h-1zM298 30h1v2h-1zM298 33h1v1h-1zM300 50h1v1h-1zM301 1h1v1h-1zM301 11h1v1h-1zM301 20h1v1h-1zM301 24h1v1h-1zM301 27h1v5h-1zM301 34h1v1h-1zM301 38h1v3h-1zM301 42h1v5h-1zM301 49h1v3h-1zM302 0h1v2h-1zM302 31h1v2h-1zM302 46h1v1h-1zM302 50h1v2h-1zM304 17h1v3h-1zM304 22h1v2h-1zM304 31h1v1h-1zM305 0h1v1h-1zM305 2h1v1h-1zM305 4h1v1h-1zM305 6h1v1h-1zM305 9h1v2h-1zM305 13h1v1h-1zM305 17h1v1h-1zM305 19h1v2h-1zM305 23h1v4h-1zM305 28h1v2h-1zM305 32h1v5h-1zM305 41h1v3h-1zM305 48h1v4h-1zM306 9h1v1h-1zM306 12h1v1h-1zM306 40h1v2h-1zM307 12h1v4h-1zM307 17h1v3h-1zM308 20h1v1h-1zM309 18h1v1h-1zM309 20h1v2h-1zM309 37h1v1h-1zM309 41h1v1h-1zM310 8h1v2h-1zM310 13h1v1h-1zM310 15h1v1h-1zM310 17h1v2h-1zM311 9h1v3h-1zM311 13h1v1h-1zM311 44h1v1h-1zM312 10h1v4h-1zM312 41h1v2h-1zM313 4h1v1h-1zM313 6h1v4h-1zM313 12h1v3h-1zM313 42h1v2h-1zM313 45h1v4h-1zM313 50h1v1h-1zM315 11h1v1h-1zM315 49h1v1h-1zM315 51h1v1h-1zM316 19h1v1h-1zM316 21h1v4h-1zM316 31h1v1h-1zM316 34h1v1h-1zM317 10h1v1h-1zM317 24h1v3h-1zM317 37h1v2h-1zM317 40h1v1h-1zM317 42h1v2h-1zM318 4h1v1h-1zM319 14h1v1h-1zM319 17h1v1h-1zM319 31h1v1h-1zM319 36h1v5h-1zM320 2h1v2h-1zM320 7h1v2h-1zM320 17h1v4h-1zM320 22h1v1h-1zM320 27h1v3h-1zM320 31h1v2h-1zM320 41h1v1h-1zM320 46h1v4h-1zM321 5h1v1h-1zM323 1h1v4h-1zM323 19h1v1h-1zM326 0h1v1h-1zM326 6h1v1h-1zM326 8h1v1h-1zM326 11h1v1h-1zM326 22h1v1h-1zM326 30h1v2h-1zM327 1h1v1h-1zM327 14h1v2h-1zM327 19h1v2h-1zM327 32h1v2h-1zM327 35h1v2h-1zM327 39h1v3h-1zM327 43h1v3h-1zM327 49h1v1h-1zM328 1h1v1h-1zM328 3h1v1h-1zM328 18h1v1h-1zM328 27h1v3h-1zM328 31h1v2h-1zM328 45h1v3h-1zM329 20h1v1h-1zM329 22h1v1h-1zM329 34h1v2h-1zM329 42h1v1h-1zM329 47h1v4h-1zM330 8h1v1h-1zM330 11h1v1h-1zM330 13h1v1h-1zM330 30h1v6h-1zM330 38h1v1h-1zM330 42h1v7h-1zM330 51h1v1h-1zM331 43h1v4h-1zM332 51h1v1h-1zM333 26h1v3h-1zM333 32h1v1h-1zM333 34h1v1h-1zM336 26h1v1h-1zM336 29h1v1h-1zM336 42h1v5h-1zM337 3h1v1h-1zM337 22h1v2h-1zM337 31h1v2h-1zM337 37h1v2h-1zM337 40h1v5h-1zM337 46h1v1h-1zM338 3h1v2h-1zM338 9h1v1h-1zM338 15h1v1h-1zM338 17h1v2h-1zM338 20h1v2h-1zM338 25h1v2h-1zM338 28h1v2h-1zM338 32h1v2h-1zM338 37h1v1h-1zM338 40h1v1h-1zM340 17h1v3h-1zM340 21h1v2h-1zM340 24h1v3h-1zM340 28h1v1h-1zM340 35h1v1h-1zM340 37h1v3h-1zM340 41h1v1h-1zM340 48h1v2h-1zM341 3h1v1h-1zM341 26h1v1h-1zM341 37h1v5h-1zM341 43h1v2h-1zM341 51h1v1h-1zM342 36h1v1h-1zM343 14h1v2h-1zM343 25h1v2h-1zM343 34h1v2h-1zM343 48h1v1h-1zM344 36h1v4h-1zM344 41h1v1h-1zM345 0h1v7h-1zM345 8h1v1h-1zM345 10h1v6h-1zM345 18h1v1h-1zM345 23h1v1h-1zM345 25h1v1h-1zM345 29h1v1h-1zM345 31h1v3h-1zM345 35h1v1h-1zM345 39h1v3h-1zM345 44h1v1h-1zM346 0h1v2h-1zM346 13h1v2h-1zM346 17h1v1h-1zM346 20h1v2h-1zM346 24h1v3h-1zM346 29h1v1h-1zM346 32h1v1h-1zM346 34h1v3h-1zM346 38h1v1h-1zM346 41h1v1h-1zM347 17h1v2h-1zM347 28h1v1h-1zM347 31h1v2h-1zM347 42h1v1h-1zM350 41h1v2h-1zM351 36h1v5h-1zM352 35h1v3h-1zM353 20h1v1h-1zM354 9h1v1h-1zM356 34h1v1h-1zM356 41h1v2h-1zM356 51h1v1h-1zM357 14h1v1h-1zM357 20h1v1h-1zM357 26h1v2h-1zM357 33h1v1h-1zM357 38h1v2h-1zM357 41h1v1h-1zM358 0h1v2h-1zM358 11h1v1h-1zM358 14h1v1h-1zM358 17h1v1h-1zM358 19h1v5h-1zM358 38h1v1h-1zM358 40h1v1h-1zM359 23h1v1h-1zM360 3h1v1h-1zM360 5h1v2h-1zM360 13h1v1h-1zM360 17h1v1h-1zM360 19h1v2h-1zM360 23h1v2h-1zM360 31h1v1h-1zM360 34h1v4h-1zM360 40h1v3h-1zM360 50h1v1h-1zM361 0h1v1h-1zM361 21h1v1h-1zM361 25h1v1h-1zM361 36h1v3h-1zM361 48h1v1h-1zM362 0h1v2h-1zM362 6h1v2h-1zM362 12h1v4h-1zM362 17h1v1h-1zM362 29h1v5h-1zM364 4h1v2h-1zM364 18h1v2h-1zM364 21h1v4h-1zM364 26h1v4h-1zM364 31h1v1h-1zM364 34h1v2h-1zM364 38h1v4h-1zM364 45h1v2h-1z"/>
<path fill="#E9BD3A" d="M0 9h1v1h-1zM0 18h1v1h-1zM0 40h1v1h-1zM1 14h1v1h-1zM1 20h1v1h-1zM1 35h1v1h-1zM1 37h1v1h-1zM1 40h1v1h-1zM1 45h1v2h-1zM2 4h1v1h-1zM2 8h1v1h-1zM2 17h1v1h-1zM2 21h1v1h-1zM2 23h1v1h-1zM2 25h1v1h-1zM2 30h1v1h-1zM2 32h1v1h-1zM2 36h1v1h-1zM2 43h1v1h-1zM2 51h1v1h-1zM3 4h1v3h-1zM3 17h1v1h-1zM3 20h1v1h-1zM3 25h1v4h-1zM3 33h1v3h-1zM3 37h1v1h-1zM3 47h1v1h-1zM4 17h1v1h-1zM4 19h1v1h-1zM4 25h1v1h-1zM4 39h1v1h-1zM4 43h1v1h-1zM5 4h1v1h-1zM5 10h1v2h-1zM5 13h1v1h-1zM5 15h1v1h-1zM5 19h1v2h-1zM5 25h1v1h-1zM5 27h1v1h-1zM5 29h1v1h-1zM5 38h1v2h-1zM5 51h1v1h-1zM6 22h1v1h-1zM6 30h1v1h-1zM6 34h1v2h-1zM6 37h1v1h-1zM6 42h1v1h-1zM8 0h1v1h-1zM8 4h1v1h-1zM8 6h1v1h-1zM8 14h1v1h-1zM8 19h1v4h-1zM8 24h1v2h-1zM8 49h1v2h-1zM9 1h1v1h-1zM9 15h1v1h-1zM9 20h1v1h-1zM10 5h1v1h-1zM10 9h1v1h-1zM10 21h1v1h-1zM10 46h1v1h-1zM10 50h1v1h-1zM11 4h1v1h-1zM11 27h1v1h-1zM11 50h1v1h-1zM12 0h1v1h-1zM12 3h1v2h-1zM12 6h1v1h-1zM12 25h1v1h-1zM12 27h1v2h-1zM12 38h1v1h-1zM13 2h1v1h-1zM13 25h1v1h-1zM13 37h1v1h-1zM13 43h1v1h-1zM15 0h1v1h-1zM15 7h1v2h-1zM15 14h1v1h-1zM15 17h1v1h-1zM15 32h1v3h-1zM15 40h1v1h-1zM16 0h1v1h-1zM16 4h1v1h-1zM16 7h1v2h-1zM16 12h1v1h-1zM16 14h1v1h-1zM16 22h1v2h-1zM16 33h1v2h-1zM16 41h1v2h-1zM16 45h1v4h-1zM18 47h1v1h-1zM19 3h1v1h-1zM19 5h1v1h-1zM19 7h1v1h-1zM19 13h1v1h-1zM19 20h1v1h-1zM19 27h1v1h-1zM19 35h1v1h-1zM19 37h1v2h-1zM19 44h1v2h-1zM20 5h1v3h-1zM20 9h1v1h-1zM20 11h1v1h-1zM20 13h1v1h-1zM20 15h1v1h-1zM20 17h1v1h-1zM20 21h1v1h-1zM20 26h1v1h-1zM20 30h1v1h-1zM20 35h1v1h-1zM20 39h1v2h-1zM21 1h1v1h-1zM21 4h1v1h-1zM21 10h1v1h-1zM22 9h1v1h-1zM22 14h1v1h-1zM23 0h1v1h-1zM23 23h1v1h-1zM23 26h1v1h-1zM23 34h1v1h-1zM24 4h1v1h-1zM24 6h1v1h-1zM24 21h1v1h-1zM24 23h1v2h-1zM24 28h1v1h-1zM25 0h1v1h-1zM25 34h1v1h-1zM26 8h1v2h-1zM26 19h1v3h-1zM26 32h1v1h-1zM26 36h1v1h-1zM26 38h1v1h-1zM26 40h1v1h-1zM26 43h1v1h-1zM26 47h1v1h-1zM26 51h1v1h-1zM27 0h1v1h-1zM27 12h1v1h-1zM27 24h1v1h-1zM27 31h1v1h-1zM27 46h1v3h-1zM28 10h1v1h-1zM28 21h1v1h-1zM28 24h1v1h-1zM29 8h1v1h-1zM29 18h1v2h-1zM29 21h1v1h-1zM29 29h1v1h-1zM30 0h1v2h-1zM30 22h1v1h-1zM30 28h1v1h-1zM32 7h1v1h-1zM32 10h1v2h-1zM32 19h1v1h-1zM32 21h1v2h-1zM33 2h1v1h-1zM33 8h1v3h-1zM33 17h1v1h-1zM33 30h1v1h-1zM33 48h1v1h-1zM34 5h1v2h-1zM34 13h1v1h-1zM34 15h1v1h-1zM34 25h1v1h-1zM34 34h1v1h-1zM34 36h1v1h-1zM34 46h1v1h-1zM35 3h1v1h-1zM35 5h1v2h-1zM35 10h1v1h-1zM35 23h1v1h-1zM35 51h1v1h-1zM36 3h1v1h-1zM37 1h1v1h-1zM37 8h1v1h-1zM37 15h1v1h-1zM37 17h1v1h-1zM37 19h1v1h-1zM37 22h1v1h-1zM37 26h1v1h-1zM37 31h1v1h-1zM37 39h1v1h-1zM37 42h1v1h-1zM37 46h1v1h-1zM37 49h1v1h-1zM38 17h1v1h-1zM40 2h1v1h-1zM41 2h1v1h-1zM42 0h1v3h-1zM42 17h1v1h-1zM42 19h1v1h-1zM42 22h1v1h-1zM42 27h1v1h-1zM42 29h1v1h-1zM42 33h1v2h-1zM42 40h1v2h-1zM42 43h1v1h-1zM42 45h1v3h-1zM43 9h1v1h-1zM43 13h1v1h-1zM43 22h1v1h-1zM43 25h1v2h-1zM43 30h1v1h-1zM43 47h1v1h-1zM44 15h1v1h-1zM44 17h1v1h-1zM44 27h1v1h-1zM45 9h1v2h-1zM45 15h1v1h-1zM45 27h1v1h-1zM45 40h1v1h-1zM45 42h1v2h-1zM45 45h1v1h-1zM48 0h1v1h-1zM48 18h1v1h-1zM48 21h1v1h-1zM48 23h1v1h-1zM48 26h1v1h-1zM48 36h1v1h-1zM48 42h1v1h-1zM50 1h1v1h-1zM50 25h1v1h-1zM50 31h1v1h-1zM52 2h1v1h-1zM52 7h1v1h-1zM52 14h1v1h-1zM52 18h1v1h-1zM52 22h1v1h-1zM52 30h1v2h-1zM52 33h1v1h-1zM52 36h1v1h-1zM52 40h1v1h-1zM53 1h1v1h-1zM53 3h1v1h-1zM53 5h1v1h-1zM53 12h1v1h-1zM53 19h1v2h-1zM53 22h1v1h-1zM53 25h1v1h-1zM53 28h1v1h-1zM53 31h1v2h-1zM53 34h1v1h-1zM53 37h1v1h-1zM53 47h1v1h-1zM53 50h1v1h-1zM54 1h1v1h-1zM54 6h1v2h-1zM54 15h1v1h-1zM54 37h1v1h-1zM54 39h1v2h-1zM55 12h1v1h-1zM55 17h1v1h-1zM57 4h1v1h-1zM57 10h1v2h-1zM57 14h1v1h-1zM57 18h1v1h-1zM57 20h1v1h-1zM57 23h1v2h-1zM57 48h1v1h-1zM58 1h1v2h-1zM58 4h1v3h-1zM58 10h1v1h-1zM58 17h1v1h-1zM58 19h1v1h-1zM58 24h1v1h-1zM58 48h1v1h-1zM59 2h1v1h-1zM59 9h1v1h-1zM59 31h1v1h-1zM60 1h1v2h-1zM60 9h1v1h-1zM60 14h1v2h-1zM60 32h1v1h-1zM60 34h1v3h-1zM60 39h1v2h-1zM60 45h1v1h-1zM60 47h1v2h-1zM61 0h1v1h-1zM61 6h1v1h-1zM61 8h1v1h-1zM61 10h1v2h-1zM61 13h1v1h-1zM61 19h1v1h-1zM61 26h1v1h-1zM61 28h1v1h-1zM61 49h1v1h-1zM61 51h1v1h-1zM62 3h1v1h-1zM62 10h1v1h-1zM62 30h1v1h-1zM63 6h1v1h-1zM63 10h1v2h-1zM63 14h1v2h-1zM63 34h1v1h-1zM63 41h1v2h-1zM64 0h1v1h-1zM64 12h1v2h-1zM64 15h1v1h-1zM64 19h1v2h-1zM64 29h1v2h-1zM64 48h1v1h-1zM65 0h1v1h-1zM65 7h1v1h-1zM65 9h1v1h-1zM65 12h1v3h-1zM65 20h1v1h-1zM65 22h1v2h-1zM65 25h1v6h-1zM65 33h1v1h-1zM66 6h1v1h-1zM66 11h1v1h-1zM66 18h1v1h-1zM66 33h1v1h-1zM66 39h1v1h-1zM67 9h1v1h-1zM67 11h1v2h-1zM67 30h1v1h-1zM67 43h1v1h-1zM68 2h1v1h-1zM68 8h1v1h-1zM68 15h1v1h-1zM68 19h1v1h-1zM68 25h1v1h-1zM68 39h1v1h-1zM69 29h1v1h-1zM70 2h1v1h-1zM70 13h1v1h-1zM70 32h1v1h-1zM70 46h1v1h-1zM72 0h1v1h-1zM72 20h1v1h-1zM72 26h1v1h-1zM72 28h1v2h-1zM72 35h1v1h-1zM76 19h1v4h-1zM76 29h1v3h-1zM76 33h1v3h-1zM76 37h1v4h-1zM76 44h1v1h-1zM76 50h1v2h-1zM77 37h1v3h-1zM78 8h1v1h-1zM78 11h1v1h-1zM78 14h1v1h-1zM78 17h1v1h-1zM78 19h1v1h-1zM78 21h1v1h-1zM78 23h1v1h-1zM78 34h1v2h-1zM78 37h1v1h-1zM78 46h1v4h-1zM78 51h1v1h-1zM79 18h1v3h-1zM79 44h1v1h-1zM79 48h1v1h-1zM79 51h1v1h-1zM80 27h1v2h-1zM81 13h1v1h-1zM81 15h1v1h-1zM81 20h1v8h-1zM81 30h1v3h-1zM81 38h1v1h-1zM81 41h1v2h-1zM81 44h1v2h-1zM82 24h1v1h-1zM82 42h1v1h-1zM83 12h1v1h-1zM83 33h1v1h-1zM83 44h1v1h-1zM83 46h1v1h-1zM83 50h1v1h-1zM85 1h1v1h-1zM85 3h1v1h-1zM85 5h1v1h-1zM85 7h1v1h-1zM85 10h1v1h-1zM85 12h1v1h-1zM85 15h1v1h-1zM86 4h1v4h-1zM86 9h1v1h-1zM86 24h1v1h-1zM86 29h1v1h-1zM86 37h1v1h-1zM92 22h1v1h-1zM93 34h1v3h-1zM93 38h1v1h-1zM94 4h1v1h-1zM94 17h1v1h-1zM94 21h1v1h-1zM94 23h1v4h-1zM94 41h1v5h-1zM94 48h1v1h-1zM95 46h1v6h-1zM96 49h1v1h-1zM98 0h1v1h-1zM98 13h1v1h-1zM98 18h1v1h-1zM98 24h1v1h-1zM98 37h1v1h-1zM98 42h1v5h-1zM98 48h1v1h-1zM98 50h1v2h-1zM99 17h1v3h-1zM100 4h1v1h-1zM100 7h1v1h-1zM100 9h1v1h-1zM100 15h1v1h-1zM100 17h1v3h-1zM100 30h1v2h-1zM102 1h1v2h-1zM102 4h1v1h-1zM102 8h1v2h-1zM102 11h1v2h-1zM102 17h1v1h-1zM102 19h1v2h-1zM102 27h1v1h-1zM102 43h1v1h-1zM104 0h1v3h-1zM104 11h1v1h-1zM104 15h1v1h-1zM104 17h1v4h-1zM104 23h1v2h-1zM104 27h1v4h-1zM104 35h1v3h-1zM104 39h1v1h-1zM104 41h1v1h-1zM105 39h1v1h-1zM105 44h1v1h-1zM105 48h1v1h-1zM106 21h1v2h-1zM107 15h1v1h-1zM107 20h1v1h-1zM107 30h1v4h-1zM107 40h1v2h-1zM108 5h1v1h-1zM109 6h1v2h-1zM110 3h1v1h-1zM110 9h1v1h-1zM110 12h1v1h-1zM110 15h1v1h-1zM110 18h1v1h-1zM111 0h1v2h-1zM111 6h1v2h-1zM111 20h1v2h-1zM111 28h1v1h-1zM111 38h1v1h-1zM111 41h1v1h-1zM111 43h1v5h-1zM111 49h1v1h-1zM113 1h1v6h-1zM113 14h1v1h-1zM113 17h1v2h-1zM113 20h1v1h-1zM113 22h1v4h-1zM113 48h1v2h-1zM113 51h1v1h-1zM115 6h1v3h-1zM115 17h1v3h-1zM115 21h1v4h-1zM115 28h1v2h-1zM115 32h1v1h-1zM116 0h1v5h-1zM116 7h1v2h-1zM116 21h1v2h-1zM116 31h1v5h-1zM116 40h1v1h-1zM116 44h1v1h-1zM116 46h1v3h-1zM118 2h1v1h-1zM118 9h1v1h-1zM118 19h1v4h-1zM118 33h1v1h-1zM118 35h1v1h-1zM118 50h1v1h-1zM119 1h1v3h-1zM119 9h1v2h-1zM119 13h1v3h-1zM119 17h1v2h-1zM119 20h1v2h-1zM119 25h1v3h-1zM119 30h1v2h-1zM119 33h1v2h-1zM119 36h1v11h-1zM119 48h1v1h-1zM123 18h1v1h-1zM123 25h1v1h-1zM123 28h1v2h-1zM123 31h1v3h-1zM123 36h1v2h-1zM123 43h1v3h-1zM123 48h1v3h-1zM125 24h1v2h-1zM125 27h1v2h-1zM126 0h1v1h-1zM126 3h1v2h-1zM126 6h1v1h-1zM126 13h1v1h-1zM127 21h1v2h-1zM127 26h1v1h-1zM128 35h1v2h-1zM128 43h1v1h-1zM128 45h1v1h-1zM128 47h1v3h-1zM131 7h1v1h-1zM131 27h1v1h-1zM131 35h1v1h-1zM131 38h1v1h-1zM131 40h1v5h-1zM131 48h1v1h-1zM133 17h1v1h-1zM133 20h1v7h-1zM133 36h1v1h-1zM133 38h1v1h-1zM133 41h1v1h-1zM133 47h1v1h-1zM135 2h1v3h-1zM135 30h1v2h-1zM136 5h1v2h-1zM136 30h1v2h-1zM136 39h1v2h-1zM136 42h1v2h-1zM136 50h1v2h-1zM138 0h1v2h-1zM138 22h1v1h-1zM138 51h1v1h-1zM140 24h1v1h-1zM141 3h1v3h-1zM141 23h1v1h-1zM141 34h1v3h-1zM141 38h1v1h-1zM141 40h1v3h-1zM142 36h1v2h-1zM143 15h1v1h-1zM143 19h1v6h-1zM143 27h1v2h-1zM143 38h1v1h-1zM143 49h1v1h-1zM147 4h1v1h-1zM147 6h1v1h-1zM147 10h1v1h-1zM147 15h1v1h-1zM147 17h1v3h-1zM147 29h1v1h-1zM147 33h1v1h-1zM147 36h1v2h-1zM147 39h1v2h-1zM147 45h1v1h-1zM147 47h1v1h-1zM147 50h1v1h-1zM148 5h1v1h-1zM148 28h1v2h-1zM148 44h1v1h-1zM148 49h1v3h-1zM150 11h1v5h-1zM150 17h1v1h-1zM150 42h1v1h-1zM151 2h1v3h-1zM151 17h1v2h-1zM151 43h1v1h-1zM151 47h1v4h-1zM152 2h1v2h-1zM153 11h1v1h-1zM153 13h1v3h-1zM153 17h1v1h-1zM153 25h1v1h-1zM153 34h1v1h-1zM153 38h1v1h-1zM153 51h1v1h-1zM154 7h1v4h-1zM154 12h1v1h-1zM154 17h1v6h-1zM154 32h1v1h-1zM154 34h1v4h-1zM154 39h1v3h-1zM154 43h1v2h-1zM154 48h1v1h-1zM154 51h1v1h-1zM157 5h1v2h-1zM157 10h1v1h-1zM157 12h1v1h-1zM159 38h1v3h-1zM160 8h1v1h-1zM160 11h1v1h-1zM160 37h1v2h-1zM161 24h1v2h-1zM163 34h1v2h-1zM163 39h1v3h-1zM163 48h1v2h-1zM168 2h1v7h-1zM168 11h1v4h-1zM168 21h1v1h-1zM168 23h1v1h-1zM168 25h1v2h-1zM168 28h1v2h-1zM168 32h1v2h-1zM168 37h1v15h-1zM169 33h1v2h-1zM169 38h1v3h-1zM169 45h1v3h-1zM170 17h1v2h-1zM170 23h1v1h-1zM170 26h1v2h-1zM170 29h1v3h-1zM170 33h1v1h-1zM170 37h1v3h-1zM171 25h1v1h-1zM171 38h1v6h-1zM171 51h1v1h-1zM178 3h1v4h-1zM178 9h1v3h-1zM178 14h1v1h-1zM178 34h1v2h-1zM178 37h1v2h-1zM178 41h1v1h-1zM181 11h1v2h-1zM181 21h1v1h-1zM181 23h1v1h-1zM181 47h1v5h-1zM182 50h1v1h-1zM183 9h1v1h-1zM183 14h1v2h-1zM183 38h1v2h-1zM183 44h1v4h-1zM183 50h1v1h-1zM185 39h1v1h-1zM185 49h1v2h-1zM187 11h1v3h-1zM187 17h1v1h-1zM187 22h1v1h-1zM187 32h1v1h-1zM187 38h1v1h-1zM190 38h1v1h-1zM190 42h1v1h-1zM190 44h1v1h-1zM190 46h1v5h-1zM193 18h1v1h-1zM193 39h1v1h-1zM195 17h1v5h-1zM195 25h1v1h-1zM197 10h1v2h-1zM198 33h1v1h-1zM198 35h1v2h-1zM198 39h1v1h-1zM198 43h1v2h-1zM199 37h1v3h-1zM200 1h1v2h-1zM201 0h1v2h-1zM201 15h1v1h-1zM201 23h1v1h-1zM201 35h1v6h-1zM201 43h1v5h-1zM201 50h1v1h-1zM202 7h1v1h-1zM202 10h1v1h-1zM202 31h1v1h-1zM203 2h1v1h-1zM203 4h1v1h-1zM203 10h1v3h-1zM203 49h1v1h-1zM203 51h1v1h-1zM204 2h1v1h-1zM204 5h1v2h-1zM204 14h1v1h-1zM204 21h1v1h-1zM204 26h1v1h-1zM204 31h1v8h-1zM204 40h1v2h-1zM204 48h1v2h-1zM205 17h1v2h-1zM205 21h1v3h-1zM205 25h1v2h-1zM205 28h1v4h-1zM205 42h1v3h-1zM206 25h1v2h-1zM209 0h1v1h-1zM209 4h1v2h-1zM209 8h1v2h-1zM209 11h1v2h-1zM209 20h1v1h-1zM209 23h1v1h-1zM209 28h1v1h-1zM209 31h1v2h-1zM209 44h1v3h-1zM209 48h1v2h-1zM209 51h1v1h-1zM211 17h1v1h-1zM211 22h1v1h-1zM211 28h1v4h-1zM211 34h1v1h-1zM211 42h1v2h-1zM212 9h1v1h-1zM212 44h1v1h-1zM212 46h1v1h-1zM215 12h1v3h-1zM216 12h1v1h-1zM216 14h1v2h-1zM216 17h1v9h-1zM216 27h1v6h-1zM216 39h1v1h-1zM216 41h1v1h-1zM216 43h1v1h-1zM216 45h1v1h-1zM216 51h1v1h-1zM217 0h1v3h-1zM217 28h1v1h-1zM217 34h1v1h-1zM217 36h1v2h-1zM217 39h1v1h-1zM217 42h1v1h-1zM217 45h1v3h-1zM217 49h1v1h-1zM217 51h1v1h-1zM218 0h1v1h-1zM218 5h1v2h-1zM218 8h1v1h-1zM218 11h1v2h-1zM218 15h1v1h-1zM218 17h1v2h-1zM218 20h1v3h-1zM218 30h1v2h-1zM218 37h1v4h-1zM218 44h1v2h-1zM218 49h1v1h-1zM219 26h1v1h-1zM219 36h1v4h-1zM219 41h1v1h-1zM219 44h1v4h-1zM219 49h1v1h-1zM220 4h1v3h-1zM220 10h1v2h-1zM220 24h1v1h-1zM220 26h1v1h-1zM220 28h1v1h-1zM220 31h1v2h-1zM220 42h1v3h-1zM220 47h1v4h-1zM221 26h1v1h-1zM221 31h1v4h-1zM221 38h1v1h-1zM221 47h1v2h-1zM221 51h1v1h-1zM222 4h1v1h-1zM222 13h1v1h-1zM222 17h1v4h-1zM222 27h1v1h-1zM222 36h1v1h-1zM222 38h1v1h-1zM222 42h1v2h-1zM222 46h1v4h-1zM223 6h1v1h-1zM223 8h1v8h-1zM223 18h1v1h-1zM223 26h1v3h-1zM223 31h1v1h-1zM223 33h1v2h-1zM223 37h1v3h-1zM223 41h1v3h-1zM223 45h1v1h-1zM223 50h1v2h-1zM224 3h1v4h-1zM224 11h1v1h-1zM224 23h1v1h-1zM224 35h1v4h-1zM224 40h1v1h-1zM226 1h1v3h-1zM226 8h1v2h-1zM226 11h1v4h-1zM226 25h1v1h-1zM226 28h1v2h-1zM226 35h1v1h-1zM226 39h1v2h-1zM229 9h1v2h-1zM229 14h1v1h-1zM229 28h1v1h-1zM229 31h1v5h-1zM232 2h1v1h-1zM232 4h1v2h-1zM232 15h1v1h-1zM232 20h1v3h-1zM232 27h1v1h-1zM232 29h1v1h-1zM232 40h1v1h-1zM232 42h1v2h-1zM232 48h1v1h-1zM233 14h1v1h-1zM233 17h1v1h-1zM233 46h1v1h-1zM235 25h1v1h-1zM235 28h1v2h-1zM235 50h1v1h-1zM239 6h1v1h-1zM239 45h1v1h-1zM240 27h1v1h-1zM240 31h1v2h-1zM240 34h1v2h-1zM240 38h1v1h-1zM240 42h1v1h-1zM241 10h1v1h-1zM241 24h1v4h-1zM241 40h1v1h-1zM241 47h1v3h-1zM241 51h1v1h-1zM244 36h1v2h-1zM244 49h1v1h-1zM244 51h1v1h-1zM245 9h1v1h-1zM245 45h1v1h-1zM245 47h1v1h-1zM248 5h1v3h-1zM248 12h1v1h-1zM248 26h1v2h-1zM248 30h1v2h-1zM248 33h1v1h-1zM248 38h1v1h-1zM251 12h1v1h-1zM251 19h1v1h-1zM251 21h1v2h-1zM251 25h1v3h-1zM251 30h1v2h-1zM251 34h1v3h-1zM251 40h1v4h-1zM251 46h1v2h-1zM251 50h1v1h-1zM252 31h1v7h-1zM252 39h1v3h-1zM256 4h1v4h-1zM256 9h1v1h-1zM256 22h1v1h-1zM256 27h1v3h-1zM257 10h1v1h-1zM257 12h1v3h-1zM257 18h1v2h-1zM257 34h1v1h-1zM257 38h1v2h-1zM257 51h1v1h-1zM259 10h1v1h-1zM259 38h1v1h-1zM259 49h1v1h-1zM260 14h1v2h-1zM261 29h1v1h-1zM264 0h1v3h-1zM266 1h1v1h-1zM266 3h1v1h-1zM266 5h1v5h-1zM266 12h1v2h-1zM266 15h1v1h-1zM266 23h1v5h-1zM266 30h1v3h-1zM266 41h1v1h-1zM266 44h1v1h-1zM266 47h1v1h-1zM266 49h1v1h-1zM266 51h1v1h-1zM267 8h1v1h-1zM267 17h1v1h-1zM267 32h1v1h-1zM267 34h1v1h-1zM267 43h1v3h-1zM270 1h1v1h-1zM270 8h1v3h-1zM270 22h1v1h-1zM270 33h1v1h-1zM270 36h1v3h-1zM270 42h1v4h-1zM270 47h1v1h-1zM270 49h1v2h-1zM271 0h1v1h-1zM271 2h1v1h-1zM271 10h1v2h-1zM271 13h1v1h-1zM271 22h1v1h-1zM272 0h1v1h-1zM272 30h1v1h-1zM272 36h1v3h-1zM272 40h1v1h-1zM274 6h1v1h-1zM275 1h1v1h-1zM275 19h1v1h-1zM275 22h1v1h-1zM275 26h1v2h-1zM275 32h1v3h-1zM275 36h1v1h-1zM276 33h1v1h-1zM276 35h1v1h-1zM276 40h1v1h-1zM276 43h1v1h-1zM276 46h1v1h-1zM276 48h1v1h-1zM277 0h1v1h-1zM277 3h1v2h-1zM277 8h1v1h-1zM277 11h1v1h-1zM277 15h1v1h-1zM277 20h1v2h-1zM277 25h1v1h-1zM277 28h1v1h-1zM277 30h1v1h-1zM277 32h1v1h-1zM277 34h1v2h-1zM277 37h1v1h-1zM277 39h1v4h-1zM277 44h1v1h-1zM278 0h1v4h-1zM278 7h1v1h-1zM278 14h1v1h-1zM278 28h1v3h-1zM278 35h1v6h-1zM278 45h1v2h-1zM280 0h1v1h-1zM280 4h1v2h-1zM280 7h1v7h-1zM280 19h1v2h-1zM280 23h1v2h-1zM280 28h1v1h-1zM280 30h1v2h-1zM280 36h1v1h-1zM280 44h1v3h-1zM280 50h1v2h-1zM281 2h1v4h-1zM281 10h1v2h-1zM281 17h1v1h-1zM281 19h1v1h-1zM281 21h1v2h-1zM281 35h1v1h-1zM284 29h1v1h-1zM285 17h1v1h-1zM286 0h1v1h-1zM286 3h1v3h-1zM286 7h1v1h-1zM286 9h1v1h-1zM286 11h1v1h-1zM286 14h1v1h-1zM286 17h1v1h-1zM286 20h1v1h-1zM286 29h1v2h-1zM286 36h1v1h-1zM286 51h1v1h-1zM288 34h1v1h-1zM288 37h1v1h-1zM288 39h1v3h-1zM288 43h1v1h-1zM288 45h1v1h-1zM288 51h1v1h-1zM289 40h1v1h-1zM291 3h1v1h-1zM291 7h1v1h-1zM291 9h1v1h-1zM291 11h1v1h-1zM291 27h1v1h-1zM291 30h1v1h-1zM291 49h1v3h-1zM293 6h1v1h-1zM293 11h1v1h-1zM293 18h1v1h-1zM293 20h1v3h-1zM293 24h1v2h-1zM293 27h1v1h-1zM293 31h1v7h-1zM293 39h1v1h-1zM293 42h1v7h-1zM295 7h1v1h-1zM295 22h1v4h-1zM295 34h1v1h-1zM295 51h1v1h-1zM298 0h1v4h-1zM298 5h1v5h-1zM298 13h1v1h-1zM298 17h1v3h-1zM298 21h1v4h-1zM298 41h1v1h-1zM298 43h1v1h-1zM298 45h1v1h-1zM298 48h1v3h-1zM299 1h1v1h-1zM299 32h1v1h-1zM299 34h1v4h-1zM299 39h1v1h-1zM299 41h1v1h-1zM299 43h1v1h-1zM299 47h1v1h-1zM300 24h1v2h-1zM300 29h1v1h-1zM300 32h1v1h-1zM300 46h1v1h-1zM301 3h1v1h-1zM301 5h1v2h-1zM303 0h1v2h-1zM303 3h1v3h-1zM303 20h1v1h-1zM303 40h1v1h-1zM303 42h1v1h-1zM303 44h1v1h-1zM304 6h1v5h-1zM304 14h1v1h-1zM304 29h1v1h-1zM304 33h1v1h-1zM308 3h1v1h-1zM308 13h1v2h-1zM308 45h1v7h-1zM309 34h1v1h-1zM309 43h1v2h-1zM310 1h1v1h-1zM310 21h1v2h-1zM310 26h1v1h-1zM310 28h1v3h-1zM310 33h1v1h-1zM310 48h1v3h-1zM311 0h1v2h-1zM311 18h1v1h-1zM311 27h1v1h-1zM311 30h1v1h-1zM311 37h1v2h-1zM311 47h1v2h-1zM311 50h1v2h-1zM313 1h1v1h-1zM313 31h1v3h-1zM313 35h1v4h-1zM313 40h1v2h-1zM314 10h1v4h-1zM314 38h1v3h-1zM314 48h1v1h-1zM316 8h1v1h-1zM316 17h1v1h-1zM316 37h1v5h-1zM316 43h1v4h-1zM316 48h1v4h-1zM318 8h1v1h-1zM318 10h1v1h-1zM318 12h1v2h-1zM318 34h1v1h-1zM321 1h1v1h-1zM321 15h1v1h-1zM321 17h1v1h-1zM321 19h1v1h-1zM321 22h1v1h-1zM321 28h1v1h-1zM321 32h1v2h-1zM321 36h1v1h-1zM321 43h1v1h-1zM321 45h1v3h-1zM322 5h1v2h-1zM322 10h1v1h-1zM322 13h1v3h-1zM322 18h1v3h-1zM322 22h1v1h-1zM322 24h1v4h-1zM322 29h1v3h-1zM322 39h1v2h-1zM322 43h1v1h-1zM323 7h1v3h-1zM323 13h1v1h-1zM323 21h1v3h-1zM323 31h1v4h-1zM325 29h1v1h-1zM325 31h1v2h-1zM325 36h1v1h-1zM325 45h1v1h-1zM325 47h1v1h-1zM326 18h1v2h-1zM329 4h1v1h-1zM329 6h1v2h-1zM329 9h1v3h-1zM329 13h1v1h-1zM329 29h1v4h-1zM329 45h1v1h-1zM334 22h1v1h-1zM334 30h1v4h-1zM334 40h1v1h-1zM335 32h1v1h-1zM335 43h1v1h-1zM335 48h1v1h-1zM336 20h1v2h-1zM336 23h1v3h-1zM336 37h1v1h-1zM339 2h1v1h-1zM339 18h1v3h-1zM339 23h1v1h-1zM339 40h1v4h-1zM341 34h1v1h-1zM342 3h1v1h-1zM342 6h1v10h-1zM342 17h1v2h-1zM342 22h1v1h-1zM342 25h1v1h-1zM342 27h1v2h-1zM342 39h1v2h-1zM342 44h1v3h-1zM343 0h1v6h-1zM344 35h1v1h-1zM348 26h1v3h-1zM348 33h1v1h-1zM349 1h1v2h-1zM349 25h1v2h-1zM349 28h1v1h-1zM349 32h1v1h-1zM349 34h1v2h-1zM349 38h1v2h-1zM349 47h1v3h-1zM352 19h1v5h-1zM352 25h1v1h-1zM352 47h1v2h-1zM353 22h1v1h-1zM353 24h1v3h-1zM353 29h1v1h-1zM353 35h1v1h-1zM353 37h1v4h-1zM353 44h1v5h-1zM354 0h1v3h-1zM354 5h1v3h-1zM354 13h1v1h-1zM354 23h1v2h-1zM354 27h1v2h-1zM354 33h1v1h-1zM354 38h1v2h-1zM354 41h1v1h-1zM354 46h1v4h-1zM355 0h1v1h-1zM355 2h1v1h-1zM355 24h1v3h-1zM355 37h1v6h-1zM355 44h1v2h-1zM355 47h1v1h-1zM357 0h1v2h-1zM357 45h1v1h-1zM357 47h1v1h-1zM357 50h1v2h-1zM358 6h1v3h-1zM358 25h1v1h-1zM358 27h1v1h-1zM358 29h1v1h-1zM358 33h1v1h-1zM358 36h1v1h-1zM359 7h1v1h-1zM359 9h1v2h-1zM359 12h1v1h-1zM359 20h1v2h-1zM359 25h1v2h-1zM359 37h1v5h-1zM359 50h1v2h-1zM362 34h1v2h-1zM362 38h1v1h-1zM362 42h1v1h-1zM362 47h1v2h-1zM364 8h1v3h-1zM364 12h1v1h-1zM364 14h1v1h-1z"/>
<path fill="#8BD000" d="M0 20h1v1h-1zM0 42h1v1h-1zM1 10h1v1h-1zM4 51h1v1h-1zM9 51h1v1h-1zM10 17h1v1h-1zM11 22h1v1h-1zM12 11h1v1h-1zM12 14h1v1h-1zM12 48h1v1h-1zM13 30h1v1h-1zM14 20h1v1h-1zM14 39h1v1h-1zM18 13h1v1h-1zM18 19h1v2h-1zM22 40h1v1h-1zM23 14h1v1h-1zM23 51h1v1h-1zM24 40h1v1h-1zM25 8h1v1h-1zM28 3h1v1h-1zM28 38h1v1h-1zM29 41h1v1h-1zM30 23h1v1h-1zM31 18h1v1h-1zM32 25h1v1h-1zM34 29h1v2h-1zM34 37h1v1h-1zM35 40h1v1h-1zM39 9h1v1h-1zM42 39h1v1h-1zM44 32h1v1h-1zM47 31h1v1h-1zM48 39h1v1h-1zM48 51h1v1h-1zM50 44h1v1h-1zM51 15h1v1h-1zM51 20h1v2h-1zM51 43h1v1h-1zM52 25h1v1h-1zM55 22h1v1h-1zM55 37h1v1h-1zM56 43h1v1h-1zM57 2h1v1h-1zM57 29h1v2h-1zM63 21h1v1h-1zM63 32h1v1h-1zM66 49h1v1h-1zM70 43h1v1h-1zM71 43h1v1h-1zM77 26h1v1h-1zM77 35h1v1h-1zM78 5h1v1h-1zM81 49h1v1h-1zM81 51h1v1h-1zM82 15h1v1h-1zM83 4h1v1h-1zM83 21h1v1h-1zM83 24h1v1h-1zM84 29h1v1h-1zM84 50h1v1h-1zM86 41h1v1h-1zM86 44h1v3h-1zM87 5h1v1h-1zM88 26h1v1h-1zM88 34h1v1h-1zM89 10h1v1h-1zM89 23h1v1h-1zM90 29h1v1h-1zM93 11h1v2h-1zM93 32h1v1h-1zM94 13h1v1h-1zM94 34h1v1h-1zM96 34h1v1h-1zM97 26h1v1h-1zM102 48h1v1h-1zM102 51h1v1h-1zM103 18h1v1h-1zM106 25h1v1h-1zM107 4h1v1h-1zM107 10h1v1h-1zM107 47h1v1h-1zM108 13h1v1h-1zM109 13h1v1h-1zM109 15h1v1h-1zM110 35h1v1h-1zM110 47h1v1h-1zM112 15h1v1h-1zM112 47h1v1h-1zM113 11h1v1h-1zM114 22h1v1h-1zM114 30h1v1h-1zM114 47h1v1h-1zM115 39h1v1h-1zM115 43h1v5h-1zM118 24h1v1h-1zM118 26h1v2h-1zM118 41h1v1h-1zM120 1h1v1h-1zM120 35h1v1h-1zM121 7h1v1h-1zM122 4h1v1h-1zM122 22h1v1h-1zM122 42h1v1h-1zM122 51h1v1h-1zM124 11h1v2h-1zM124 19h1v1h-1zM124 31h1v1h-1zM124 39h1v1h-1zM124 47h1v1h-1zM125 6h1v1h-1zM125 35h1v2h-1zM125 39h1v1h-1zM127 40h1v2h-1zM129 37h1v1h-1zM135 19h1v1h-1zM138 28h1v1h-1zM140 13h1v1h-1zM141 13h1v1h-1zM144 24h1v1h-1zM144 37h1v1h-1zM144 41h1v1h-1zM145 32h1v1h-1zM149 29h1v1h-1zM149 48h1v1h-1zM150 45h1v1h-1zM151 22h1v1h-1zM152 12h1v1h-1zM156 38h1v1h-1zM158 14h1v1h-1zM158 31h1v1h-1zM159 31h1v1h-1zM160 4h1v1h-1zM160 44h1v2h-1zM161 43h1v1h-1zM162 7h1v1h-1zM162 9h1v1h-1zM162 14h1v1h-1zM165 1h1v1h-1zM165 45h1v1h-1zM166 3h1v1h-1zM166 30h1v1h-1zM166 50h1v1h-1zM172 38h1v2h-1zM174 32h1v1h-1zM174 41h1v1h-1zM175 13h1v1h-1zM175 24h1v1h-1zM175 27h1v1h-1zM177 17h1v1h-1zM177 25h1v1h-1zM177 37h1v1h-1zM180 21h1v1h-1zM180 32h1v1h-1zM180 36h1v1h-1zM181 1h1v1h-1zM182 2h1v3h-1zM184 11h1v1h-1zM184 19h1v1h-1zM184 36h1v1h-1zM185 26h1v1h-1zM189 3h1v1h-1zM189 42h1v1h-1zM189 51h1v1h-1zM191 8h1v1h-1zM191 14h1v1h-1zM192 37h1v1h-1zM193 11h1v1h-1zM193 13h1v1h-1zM193 15h1v1h-1zM194 24h1v1h-1zM195 2h1v1h-1zM196 11h1v1h-1zM196 35h1v1h-1zM196 47h1v1h-1zM197 21h1v1h-1zM197 29h1v1h-1zM197 46h1v1h-1zM199 1h1v1h-1zM199 4h1v1h-1zM202 28h1v1h-1zM202 49h1v1h-1zM204 1h1v1h-1zM210 12h1v1h-1zM210 14h1v1h-1zM210 26h1v1h-1zM210 39h1v1h-1zM211 4h1v1h-1zM215 1h1v1h-1zM216 5h1v1h-1zM217 21h1v1h-1zM220 2h1v1h-1zM221 17h1v2h-1zM225 1h1v1h-1zM225 47h1v2h-1zM226 19h1v1h-1zM226 23h1v1h-1zM226 46h1v1h-1zM227 5h1v1h-1zM227 30h1v1h-1zM227 51h1v1h-1zM228 37h1v1h-1zM230 14h1v1h-1zM233 13h1v1h-1zM236 5h1v1h-1zM236 25h1v1h-1zM236 33h1v1h-1zM236 35h1v1h-1zM236 48h1v1h-1zM238 24h1v1h-1zM239 0h1v1h-1zM239 13h1v2h-1zM239 17h1v1h-1zM239 26h1v1h-1zM239 40h1v1h-1zM240 28h1v1h-1zM243 28h1v1h-1zM243 46h1v1h-1zM244 20h1v1h-1zM247 7h1v1h-1zM248 28h1v1h-1zM248 40h1v1h-1zM250 41h1v1h-1zM255 37h1v1h-1zM257 8h1v1h-1zM258 0h1v1h-1zM258 22h1v1h-1zM258 27h1v1h-1zM259 51h1v1h-1zM260 19h1v1h-1zM261 9h1v1h-1zM261 15h1v1h-1zM262 4h1v1h-1zM264 32h1v1h-1zM264 49h1v1h-1zM265 3h1v1h-1zM265 5h1v2h-1zM267 2h1v1h-1zM268 51h1v1h-1zM269 28h1v1h-1zM270 19h1v1h-1zM270 26h1v1h-1zM270 31h1v1h-1zM271 23h1v1h-1zM272 8h1v1h-1zM272 23h1v1h-1zM273 38h1v1h-1zM274 4h1v2h-1zM274 51h1v1h-1zM281 30h1v1h-1zM285 50h1v1h-1zM289 29h1v1h-1zM291 45h1v1h-1zM291 47h1v1h-1zM292 3h1v2h-1zM292 6h1v1h-1zM292 14h1v2h-1zM294 10h1v1h-1zM295 5h1v1h-1zM295 26h1v1h-1zM297 3h1v1h-1zM297 7h1v1h-1zM297 15h1v1h-1zM298 38h1v1h-1zM299 14h1v1h-1zM299 21h1v1h-1zM299 27h1v1h-1zM300 18h1v1h-1zM303 24h1v1h-1zM312 26h1v1h-1zM314 0h1v1h-1zM317 5h1v1h-1zM317 8h1v1h-1zM317 17h1v1h-1zM317 50h1v1h-1zM318 1h1v1h-1zM318 36h1v1h-1zM318 49h1v1h-1zM318 51h1v1h-1zM319 0h1v1h-1zM319 46h1v1h-1zM326 3h1v1h-1zM332 6h1v1h-1zM332 9h1v1h-1zM332 12h1v1h-1zM332 26h1v1h-1zM333 5h1v3h-1zM333 13h1v1h-1zM334 5h1v1h-1zM335 17h1v1h-1zM335 27h1v1h-1zM335 29h1v1h-1zM335 38h1v1h-1zM339 9h1v1h-1zM341 6h1v1h-1zM341 33h1v1h-1zM343 21h1v2h-1zM343 30h1v1h-1zM343 42h1v1h-1zM344 28h1v1h-1zM346 9h1v1h-1zM348 15h1v1h-1zM348 43h1v1h-1zM349 8h1v1h-1zM349 17h1v2h-1zM349 20h1v2h-1zM350 1h1v1h-1zM350 13h1v1h-1zM350 31h1v1h-1zM350 38h1v1h-1zM351 50h1v1h-1zM352 6h1v1h-1zM352 10h1v1h-1zM352 29h1v1h-1zM353 0h1v1h-1zM354 22h1v1h-1zM355 14h1v1h-1zM355 18h1v1h-1zM355 30h1v1h-1zM356 17h1v1h-1zM356 19h1v1h-1zM356 45h1v1h-1zM357 2h1v1h-1zM357 6h1v1h-1zM358 51h1v1h-1zM361 10h1v1h-1zM361 15h1v1h-1z"/>
<path fill="#46BD00" d="M0 23h1v1h-1zM1 28h1v1h-1zM1 49h1v1h-1zM3 23h1v1h-1zM4 33h1v1h-1zM6 17h1v1h-1zM6 40h1v2h-1zM6 44h1v1h-1zM8 34h1v1h-1zM8 36h1v1h-1zM8 38h1v1h-1zM8 42h1v1h-1zM8 44h1v5h-1zM9 18h1v1h-1zM9 28h1v1h-1zM9 39h1v3h-1zM9 49h1v2h-1zM10 15h1v1h-1zM10 35h1v2h-1zM11 7h1v1h-1zM11 12h1v3h-1zM11 21h1v1h-1zM11 24h1v1h-1zM11 26h1v1h-1zM11 28h1v1h-1zM11 42h1v1h-1zM11 44h1v1h-1zM12 33h1v2h-1zM12 37h1v1h-1zM13 24h1v1h-1zM13 39h1v1h-1zM13 41h1v2h-1zM13 47h1v1h-1zM13 49h1v1h-1zM13 51h1v1h-1zM14 21h1v4h-1zM14 34h1v2h-1zM14 40h1v1h-1zM14 43h1v2h-1zM15 25h1v1h-1zM15 46h1v2h-1zM15 51h1v1h-1zM18 0h1v1h-1zM18 3h1v2h-1zM18 8h1v2h-1zM18 33h1v1h-1zM18 36h1v1h-1zM18 40h1v1h-1zM18 43h1v1h-1zM19 1h1v1h-1zM19 49h1v1h-1zM21 41h1v1h-1zM22 31h1v1h-1zM22 37h1v2h-1zM22 41h1v1h-1zM22 43h1v2h-1zM22 47h1v1h-1zM22 49h1v1h-1zM22 51h1v1h-1zM23 15h1v1h-1zM23 20h1v1h-1zM23 46h1v2h-1zM24 9h1v1h-1zM24 12h1v1h-1zM24 35h1v2h-1zM24 39h1v1h-1zM24 42h1v1h-1zM24 47h1v2h-1zM24 51h1v1h-1zM25 15h1v1h-1zM26 4h1v3h-1zM26 23h1v1h-1zM26 25h1v2h-1zM27 6h1v2h-1zM27 13h1v1h-1zM27 34h1v1h-1zM27 41h1v2h-1zM28 17h1v1h-1zM29 4h1v1h-1zM29 40h1v1h-1zM30 41h1v1h-1zM30 44h1v1h-1zM30 46h1v1h-1zM30 48h1v2h-1zM30 51h1v1h-1zM31 39h1v1h-1zM32 38h1v6h-1zM32 46h1v1h-1zM33 43h1v2h-1zM34 17h1v1h-1zM34 38h1v1h-1zM35 11h1v1h-1zM35 13h1v1h-1zM35 26h1v1h-1zM35 45h1v1h-1zM35 47h1v1h-1zM36 1h1v1h-1zM36 38h1v1h-1zM38 13h1v2h-1zM38 41h1v1h-1zM40 36h1v1h-1zM41 36h1v3h-1zM42 32h1v1h-1zM43 44h1v1h-1zM43 48h1v1h-1zM43 50h1v2h-1zM44 2h1v1h-1zM44 23h1v1h-1zM45 30h1v1h-1zM45 33h1v1h-1zM45 47h1v1h-1zM45 50h1v1h-1zM46 1h1v2h-1zM46 10h1v1h-1zM46 31h1v1h-1zM46 48h1v1h-1zM46 50h1v1h-1zM47 0h1v1h-1zM47 20h1v1h-1zM47 44h1v2h-1zM47 49h1v2h-1zM48 7h1v1h-1zM48 14h1v1h-1zM48 46h1v2h-1zM49 2h1v1h-1zM49 13h1v1h-1zM49 24h1v1h-1zM49 45h1v1h-1zM50 15h1v1h-1zM50 27h1v2h-1zM50 33h1v3h-1zM50 50h1v2h-1zM51 0h1v1h-1zM51 3h1v1h-1zM51 22h1v1h-1zM51 45h1v3h-1zM51 49h1v1h-1zM52 48h1v1h-1zM53 40h1v2h-1zM53 51h1v1h-1zM54 5h1v1h-1zM54 46h1v2h-1zM55 19h1v1h-1zM55 41h1v1h-1zM56 2h1v1h-1zM56 8h1v1h-1zM57 1h1v1h-1zM57 34h1v2h-1zM57 46h1v1h-1zM58 29h1v1h-1zM58 47h1v1h-1zM59 40h1v1h-1zM59 42h1v1h-1zM60 28h1v1h-1zM60 42h1v2h-1zM62 34h1v1h-1zM62 36h1v1h-1zM62 38h1v2h-1zM63 49h1v1h-1zM64 50h1v1h-1zM65 42h1v1h-1zM66 26h1v1h-1zM66 43h1v3h-1zM67 32h1v1h-1zM67 46h1v1h-1zM67 49h1v1h-1zM68 37h1v1h-1zM68 43h1v3h-1zM68 49h1v2h-1zM69 11h1v1h-1zM69 25h1v1h-1zM69 50h1v2h-1zM70 8h1v1h-1zM70 10h1v1h-1zM70 19h1v1h-1zM70 24h1v1h-1zM70 30h1v1h-1zM70 37h1v1h-1zM70 42h1v1h-1zM70 44h1v1h-1zM70 51h1v1h-1zM71 32h1v1h-1zM72 41h1v1h-1zM77 0h1v1h-1zM77 3h1v2h-1zM77 23h1v3h-1zM77 31h1v2h-1zM77 34h1v1h-1zM77 47h1v1h-1zM78 6h1v1h-1zM78 13h1v1h-1zM78 25h1v1h-1zM78 33h1v1h-1zM79 10h1v1h-1zM79 13h1v2h-1zM79 50h1v1h-1zM80 0h1v1h-1zM80 2h1v1h-1zM80 20h1v1h-1zM80 24h1v1h-1zM80 45h1v2h-1zM80 50h1v1h-1zM81 34h1v2h-1zM82 9h1v4h-1zM82 28h1v1h-1zM82 33h1v2h-1zM82 36h1v1h-1zM82 48h1v1h-1zM83 0h1v2h-1zM83 39h1v2h-1zM84 14h1v2h-1zM84 23h1v1h-1zM86 0h1v1h-1zM86 2h1v1h-1zM86 25h1v1h-1zM86 32h1v1h-1zM86 34h1v2h-1zM86 38h1v1h-1zM87 15h1v1h-1zM87 21h1v1h-1zM87 50h1v1h-1zM88 1h1v1h-1zM88 28h1v2h-1zM88 31h1v1h-1zM88 33h1v1h-1zM88 35h1v2h-1zM88 39h1v1h-1zM88 49h1v2h-1zM89 11h1v3h-1zM89 19h1v1h-1zM89 24h1v2h-1zM90 5h1v2h-1zM90 11h1v1h-1zM90 18h1v1h-1zM90 32h1v1h-1zM90 41h1v3h-1zM90 45h1v1h-1zM90 47h1v1h-1zM91 38h1v1h-1zM91 43h1v2h-1zM92 1h1v3h-1zM92 5h1v3h-1zM92 12h1v1h-1zM92 19h1v1h-1zM92 41h1v1h-1zM92 46h1v1h-1zM92 48h1v4h-1zM93 3h1v1h-1zM93 7h1v2h-1zM93 17h1v1h-1zM93 26h1v1h-1zM93 30h1v1h-1zM93 41h1v1h-1zM94 5h1v1h-1zM94 7h1v1h-1zM94 27h1v2h-1zM94 33h1v1h-1zM94 35h1v1h-1zM96 0h1v1h-1zM96 5h1v1h-1zM96 7h1v1h-1zM96 11h1v1h-1zM96 13h1v1h-1zM96 22h1v1h-1zM96 25h1v2h-1zM96 35h1v1h-1zM96 37h1v1h-1zM96 44h1v1h-1zM97 25h1v1h-1zM97 35h1v1h-1zM97 45h1v1h-1zM97 48h1v3h-1zM98 2h1v1h-1zM98 35h1v1h-1zM100 0h1v2h-1zM101 13h1v1h-1zM101 17h1v2h-1zM101 20h1v1h-1zM101 23h1v3h-1zM101 29h1v3h-1zM101 34h1v1h-1zM101 44h1v1h-1zM101 46h1v1h-1zM101 48h1v1h-1zM101 50h1v2h-1zM102 40h1v1h-1zM102 49h1v1h-1zM103 6h1v1h-1zM103 20h1v1h-1zM104 5h1v1h-1zM105 5h1v1h-1zM105 9h1v2h-1zM105 15h1v1h-1zM105 18h1v1h-1zM105 20h1v3h-1zM105 27h1v1h-1zM105 35h1v1h-1zM105 47h1v1h-1zM106 8h1v1h-1zM106 36h1v1h-1zM106 45h1v1h-1zM106 50h1v2h-1zM107 1h1v1h-1zM107 11h1v1h-1zM107 35h1v1h-1zM107 38h1v2h-1zM107 45h1v2h-1zM107 49h1v3h-1zM109 2h1v1h-1zM109 12h1v1h-1zM109 17h1v1h-1zM109 28h1v2h-1zM109 38h1v2h-1zM110 0h1v1h-1zM110 37h1v1h-1zM110 39h1v1h-1zM110 49h1v1h-1zM112 0h1v1h-1zM112 7h1v1h-1zM112 9h1v1h-1zM112 20h1v1h-1zM112 24h1v4h-1zM112 29h1v1h-1zM112 50h1v1h-1zM113 28h1v1h-1zM113 33h1v2h-1zM113 36h1v2h-1zM113 40h1v3h-1zM113 46h1v1h-1zM114 20h1v2h-1zM114 23h1v1h-1zM114 25h1v2h-1zM114 29h1v1h-1zM114 33h1v2h-1zM114 36h1v1h-1zM114 39h1v2h-1zM114 45h1v1h-1zM114 49h1v1h-1zM115 1h1v1h-1zM115 3h1v1h-1zM115 5h1v1h-1zM115 13h1v1h-1zM115 15h1v1h-1zM115 25h1v1h-1zM115 35h1v4h-1zM115 40h1v2h-1zM117 13h1v1h-1zM117 15h1v1h-1zM117 18h1v1h-1zM118 37h1v1h-1zM118 42h1v1h-1zM120 2h1v1h-1zM120 9h1v1h-1zM120 15h1v1h-1zM120 20h1v1h-1zM120 22h1v2h-1zM120 26h1v1h-1zM120 40h1v1h-1zM120 42h1v1h-1zM121 17h1v1h-1zM122 5h1v1h-1zM122 19h1v1h-1zM122 33h1v2h-1zM122 36h1v2h-1zM122 44h1v1h-1zM122 50h1v1h-1zM123 17h1v1h-1zM124 2h1v1h-1zM124 13h1v3h-1zM124 17h1v1h-1zM124 36h1v1h-1zM124 38h1v1h-1zM124 42h1v2h-1zM124 48h1v1h-1zM125 5h1v1h-1zM125 7h1v3h-1zM125 13h1v2h-1zM125 30h1v1h-1zM125 33h1v2h-1zM125 38h1v1h-1zM125 44h1v3h-1zM125 48h1v1h-1zM126 17h1v1h-1zM126 19h1v1h-1zM126 30h1v2h-1zM126 45h1v2h-1zM127 47h1v3h-1zM127 51h1v1h-1zM129 0h1v1h-1zM129 7h1v1h-1zM129 9h1v1h-1zM129 33h1v2h-1zM129 36h1v1h-1zM129 38h1v1h-1zM129 43h1v1h-1zM129 50h1v2h-1zM131 1h1v3h-1zM131 5h1v1h-1zM131 11h1v2h-1zM131 14h1v2h-1zM133 8h1v1h-1zM133 14h1v2h-1zM133 30h1v1h-1zM135 29h1v1h-1zM136 45h1v1h-1zM138 7h1v1h-1zM138 10h1v1h-1zM138 12h1v1h-1zM138 19h1v2h-1zM138 43h1v3h-1zM139 9h1v1h-1zM139 30h1v1h-1zM141 0h1v1h-1zM141 2h1v1h-1zM141 6h1v1h-1zM141 8h1v2h-1zM141 14h1v2h-1zM142 4h1v1h-1zM142 10h1v1h-1zM142 12h1v1h-1zM142 14h1v1h-1zM144 0h1v1h-1zM144 3h1v1h-1zM144 10h1v1h-1zM144 17h1v2h-1zM144 25h1v2h-1zM144 35h1v1h-1zM145 22h1v1h-1zM145 31h1v1h-1zM145 35h1v1h-1zM146 0h1v1h-1zM146 3h1v3h-1zM146 7h1v2h-1zM146 13h1v3h-1zM146 22h1v1h-1zM146 24h1v2h-1zM147 0h1v1h-1zM147 7h1v1h-1zM149 1h1v4h-1zM149 8h1v3h-1zM149 19h1v2h-1zM149 24h1v2h-1zM149 32h1v2h-1zM149 37h1v1h-1zM149 43h1v1h-1zM150 2h1v2h-1zM150 5h1v3h-1zM150 21h1v4h-1zM150 27h1v1h-1zM150 41h1v1h-1zM151 34h1v1h-1zM152 9h1v1h-1zM152 31h1v2h-1zM153 3h1v2h-1zM153 7h1v1h-1zM153 40h1v2h-1zM153 44h1v1h-1zM155 1h1v4h-1zM155 7h1v1h-1zM155 11h1v1h-1zM155 14h1v2h-1zM155 19h1v1h-1zM156 0h1v1h-1zM156 2h1v2h-1zM156 6h1v1h-1zM156 8h1v2h-1zM156 51h1v1h-1zM157 0h1v2h-1zM157 3h1v1h-1zM157 27h1v3h-1zM157 33h1v1h-1zM157 41h1v1h-1zM157 43h1v2h-1zM157 46h1v2h-1zM158 5h1v1h-1zM158 28h1v3h-1zM158 44h1v1h-1zM158 47h1v1h-1zM160 1h1v1h-1zM160 21h1v3h-1zM160 26h1v1h-1zM161 4h1v1h-1zM161 6h1v1h-1zM161 8h1v2h-1zM161 12h1v2h-1zM161 15h1v1h-1zM161 17h1v1h-1zM161 21h1v1h-1zM161 30h1v1h-1zM162 6h1v1h-1zM162 13h1v1h-1zM162 17h1v3h-1zM162 29h1v2h-1zM165 5h1v1h-1zM165 36h1v1h-1zM165 42h1v1h-1zM165 48h1v3h-1zM166 12h1v2h-1zM166 31h1v1h-1zM166 34h1v1h-1zM166 37h1v1h-1zM166 49h1v1h-1zM167 4h1v1h-1zM167 41h1v1h-1zM167 44h1v1h-1zM168 0h1v2h-1zM168 10h1v1h-1zM168 24h1v1h-1zM169 21h1v1h-1zM170 24h1v2h-1zM172 11h1v1h-1zM172 17h1v1h-1zM172 40h1v1h-1zM174 1h1v1h-1zM174 37h1v1h-1zM174 39h1v1h-1zM175 2h1v1h-1zM175 45h1v1h-1zM175 47h1v1h-1zM177 0h1v2h-1zM177 9h1v2h-1zM177 22h1v1h-1zM180 1h1v1h-1zM180 4h1v1h-1zM180 13h1v1h-1zM180 15h1v1h-1zM180 23h1v1h-1zM180 34h1v1h-1zM180 37h1v1h-1zM180 51h1v1h-1zM181 0h1v1h-1zM181 2h1v2h-1zM181 5h1v1h-1zM181 40h1v1h-1zM182 24h1v3h-1zM184 2h1v1h-1zM184 8h1v2h-1zM184 13h1v2h-1zM184 17h1v1h-1zM184 23h1v1h-1zM184 29h1v1h-1zM184 31h1v1h-1zM184 35h1v1h-1zM184 37h1v2h-1zM184 48h1v1h-1zM184 50h1v1h-1zM185 20h1v1h-1zM185 41h1v1h-1zM186 40h1v1h-1zM186 42h1v1h-1zM186 50h1v1h-1zM187 4h1v1h-1zM187 29h1v2h-1zM188 1h1v1h-1zM188 3h1v1h-1zM188 6h1v3h-1zM188 10h1v1h-1zM188 20h1v1h-1zM188 49h1v1h-1zM189 0h1v1h-1zM189 4h1v1h-1zM189 11h1v1h-1zM189 29h1v1h-1zM189 32h1v1h-1zM189 34h1v1h-1zM189 47h1v2h-1zM190 21h1v1h-1zM190 26h1v1h-1zM190 28h1v1h-1zM191 7h1v1h-1zM191 9h1v1h-1zM191 11h1v1h-1zM191 15h1v1h-1zM191 17h1v1h-1zM192 15h1v1h-1zM192 19h1v1h-1zM192 43h1v1h-1zM193 0h1v3h-1zM193 17h1v1h-1zM193 20h1v1h-1zM193 29h1v1h-1zM193 34h1v1h-1zM194 2h1v1h-1zM194 8h1v1h-1zM194 21h1v1h-1zM194 32h1v1h-1zM194 38h1v2h-1zM194 44h1v2h-1zM195 0h1v1h-1zM195 6h1v2h-1zM195 47h1v1h-1zM196 3h1v1h-1zM196 15h1v1h-1zM196 17h1v1h-1zM196 19h1v1h-1zM196 22h1v1h-1zM196 24h1v1h-1zM196 27h1v1h-1zM196 40h1v2h-1zM196 43h1v1h-1zM196 48h1v2h-1zM197 1h1v2h-1zM197 27h1v1h-1zM197 31h1v1h-1zM197 34h1v1h-1zM197 36h1v1h-1zM197 44h1v2h-1zM198 4h1v2h-1zM198 25h1v2h-1zM198 28h1v1h-1zM199 2h1v1h-1zM200 46h1v1h-1zM201 31h1v2h-1zM202 17h1v2h-1zM202 32h1v1h-1zM203 8h1v1h-1zM203 14h1v1h-1zM204 15h1v1h-1zM204 17h1v1h-1zM210 2h1v1h-1zM210 5h1v2h-1zM210 8h1v1h-1zM210 10h1v2h-1zM210 47h1v1h-1zM211 11h1v1h-1zM213 2h1v2h-1zM213 28h1v2h-1zM216 6h1v1h-1zM216 11h1v1h-1zM217 4h1v2h-1zM217 9h1v2h-1zM217 15h1v1h-1zM220 18h1v1h-1zM221 13h1v1h-1zM222 0h1v1h-1zM224 26h1v2h-1zM224 29h1v1h-1zM224 43h1v1h-1zM224 47h1v1h-1zM224 50h1v2h-1zM225 6h1v1h-1zM225 22h1v1h-1zM225 27h1v1h-1zM226 24h1v1h-1zM226 36h1v1h-1zM226 38h1v1h-1zM227 10h1v1h-1zM227 18h1v1h-1zM227 20h1v1h-1zM227 29h1v1h-1zM227 31h1v1h-1zM227 37h1v1h-1zM227 41h1v2h-1zM228 2h1v2h-1zM228 34h1v1h-1zM228 36h1v1h-1zM228 39h1v1h-1zM228 43h1v2h-1zM228 48h1v1h-1zM228 50h1v2h-1zM230 0h1v1h-1zM230 2h1v1h-1zM230 4h1v1h-1zM230 22h1v3h-1zM230 26h1v3h-1zM230 30h1v1h-1zM231 2h1v1h-1zM231 22h1v3h-1zM231 26h1v1h-1zM233 23h1v1h-1zM235 15h1v1h-1zM235 19h1v1h-1zM235 31h1v1h-1zM235 35h1v2h-1zM235 42h1v2h-1zM236 26h1v1h-1zM236 28h1v1h-1zM236 30h1v1h-1zM236 34h1v1h-1zM236 41h1v1h-1zM237 40h1v1h-1zM239 2h1v1h-1zM239 24h1v2h-1zM239 34h1v1h-1zM239 36h1v1h-1zM239 47h1v3h-1zM241 4h1v1h-1zM241 21h1v1h-1zM241 31h1v2h-1zM242 0h1v2h-1zM242 3h1v1h-1zM242 15h1v1h-1zM242 17h1v1h-1zM242 21h1v3h-1zM243 11h1v2h-1zM243 24h1v1h-1zM243 27h1v1h-1zM243 30h1v1h-1zM244 0h1v1h-1zM244 6h1v1h-1zM244 8h1v1h-1zM244 11h1v1h-1zM244 13h1v1h-1zM244 15h1v1h-1zM244 25h1v1h-1zM245 0h1v2h-1zM245 7h1v1h-1zM246 19h1v2h-1zM246 25h1v1h-1zM246 48h1v1h-1zM246 50h1v1h-1zM247 0h1v1h-1zM248 19h1v2h-1zM248 39h1v1h-1zM248 42h1v2h-1zM248 45h1v1h-1zM248 48h1v1h-1zM248 50h1v2h-1zM249 44h1v2h-1zM250 12h1v3h-1zM250 44h1v1h-1zM250 51h1v1h-1zM254 6h1v2h-1zM255 39h1v1h-1zM257 6h1v1h-1zM258 3h1v2h-1zM258 7h1v2h-1zM258 10h1v1h-1zM258 17h1v2h-1zM259 11h1v1h-1zM259 25h1v1h-1zM259 43h1v1h-1zM260 47h1v1h-1zM261 0h1v1h-1zM261 4h1v2h-1zM261 11h1v1h-1zM261 27h1v2h-1zM261 44h1v1h-1zM261 48h1v2h-1zM262 28h1v1h-1zM264 35h1v1h-1zM264 47h1v1h-1zM265 10h1v4h-1zM267 0h1v1h-1zM267 9h1v1h-1zM267 11h1v1h-1zM267 15h1v1h-1zM268 2h1v1h-1zM268 5h1v1h-1zM268 23h1v1h-1zM268 31h1v1h-1zM268 41h1v2h-1zM268 46h1v2h-1zM268 50h1v1h-1zM269 27h1v1h-1zM269 34h1v1h-1zM269 36h1v2h-1zM270 2h1v1h-1zM271 29h1v1h-1zM272 3h1v1h-1zM272 5h1v2h-1zM272 9h1v1h-1zM272 11h1v1h-1zM272 43h1v1h-1zM273 8h1v1h-1zM273 17h1v6h-1zM273 33h1v1h-1zM273 40h1v1h-1zM273 44h1v2h-1zM273 48h1v1h-1zM274 2h1v1h-1zM274 21h1v1h-1zM274 27h1v1h-1zM274 34h1v3h-1zM274 42h1v2h-1zM274 46h1v2h-1zM275 37h1v2h-1zM279 1h1v2h-1zM279 23h1v2h-1zM281 29h1v1h-1zM282 1h1v1h-1zM282 4h1v1h-1zM283 34h1v1h-1zM283 36h1v3h-1zM283 47h1v1h-1zM284 1h1v2h-1zM284 15h1v1h-1zM284 18h1v1h-1zM284 41h1v1h-1zM284 43h1v1h-1zM284 46h1v1h-1zM285 1h1v1h-1zM285 4h1v2h-1zM285 7h1v1h-1zM285 11h1v1h-1zM285 13h1v1h-1zM285 18h1v2h-1zM285 22h1v1h-1zM285 31h1v1h-1zM285 34h1v1h-1zM285 46h1v1h-1zM285 48h1v1h-1zM286 24h1v1h-1zM286 35h1v1h-1zM287 29h1v1h-1zM287 46h1v1h-1zM290 30h1v2h-1zM291 40h1v1h-1zM292 8h1v1h-1zM292 12h1v2h-1zM292 22h1v1h-1zM292 25h1v1h-1zM292 29h1v2h-1zM292 35h1v1h-1zM295 2h1v1h-1zM295 4h1v1h-1zM295 9h1v1h-1zM295 32h1v2h-1zM295 44h1v1h-1zM296 38h1v1h-1zM297 2h1v1h-1zM297 5h1v2h-1zM297 24h1v1h-1zM299 2h1v3h-1zM299 6h1v4h-1zM299 13h1v1h-1zM299 22h1v2h-1zM299 29h1v1h-1zM299 31h1v1h-1zM299 45h1v1h-1zM299 48h1v2h-1zM300 21h1v1h-1zM303 13h1v1h-1zM303 19h1v1h-1zM303 25h1v1h-1zM307 8h1v1h-1zM307 11h1v1h-1zM307 39h1v3h-1zM307 43h1v2h-1zM311 35h1v1h-1zM311 39h1v1h-1zM312 0h1v1h-1zM312 3h1v2h-1zM312 33h1v1h-1zM312 45h1v2h-1zM312 48h1v2h-1zM313 17h1v1h-1zM313 20h1v2h-1zM313 23h1v1h-1zM313 25h1v1h-1zM314 17h1v1h-1zM314 26h1v2h-1zM315 15h1v1h-1zM315 32h1v1h-1zM316 1h1v1h-1zM316 3h1v1h-1zM316 5h1v1h-1zM317 1h1v2h-1zM317 4h1v1h-1zM317 6h1v1h-1zM317 12h1v1h-1zM317 31h1v2h-1zM317 35h1v1h-1zM317 48h1v1h-1zM318 0h1v1h-1zM318 3h1v1h-1zM319 44h1v1h-1zM319 47h1v1h-1zM320 23h1v1h-1zM321 2h1v1h-1zM322 2h1v1h-1zM322 51h1v1h-1zM323 50h1v2h-1zM324 0h1v1h-1zM324 6h1v1h-1zM324 31h1v2h-1zM324 40h1v6h-1zM325 8h1v1h-1zM325 21h1v3h-1zM325 27h1v2h-1zM325 41h1v1h-1zM326 43h1v1h-1zM326 45h1v1h-1zM326 49h1v1h-1zM326 51h1v1h-1zM327 51h1v1h-1zM328 35h1v2h-1zM328 38h1v1h-1zM329 1h1v2h-1zM329 24h1v1h-1zM329 26h1v1h-1zM330 0h1v1h-1zM330 18h1v2h-1zM330 21h1v1h-1zM331 4h1v1h-1zM331 25h1v1h-1zM331 49h1v1h-1zM331 51h1v1h-1zM332 8h1v1h-1zM332 14h1v2h-1zM332 41h1v3h-1zM332 48h1v1h-1zM333 39h1v1h-1zM333 50h1v2h-1zM334 0h1v1h-1zM334 2h1v1h-1zM334 15h1v1h-1zM334 38h1v1h-1zM334 41h1v2h-1zM334 44h1v1h-1zM335 0h1v1h-1zM335 4h1v1h-1zM335 28h1v1h-1zM335 30h1v1h-1zM335 36h1v1h-1zM336 4h1v1h-1zM336 7h1v1h-1zM336 9h1v1h-1zM337 12h1v1h-1zM339 1h1v1h-1zM339 4h1v1h-1zM339 6h1v2h-1zM339 12h1v1h-1zM339 22h1v1h-1zM340 0h1v3h-1zM340 13h1v1h-1zM340 51h1v1h-1zM342 19h1v1h-1zM342 21h1v1h-1zM342 30h1v1h-1zM342 32h1v1h-1zM343 8h1v1h-1zM343 20h1v1h-1zM344 1h1v1h-1zM344 3h1v1h-1zM344 8h1v2h-1zM344 11h1v2h-1zM344 14h1v1h-1zM344 20h1v1h-1zM344 22h1v1h-1zM344 29h1v1h-1zM344 32h1v1h-1zM346 10h1v2h-1zM347 1h1v2h-1zM347 4h1v1h-1zM347 6h1v1h-1zM347 37h1v1h-1zM347 45h1v1h-1zM348 7h1v1h-1zM348 11h1v2h-1zM348 21h1v2h-1zM348 35h1v1h-1zM348 39h1v4h-1zM348 45h1v2h-1zM348 49h1v1h-1zM349 3h1v1h-1zM349 5h1v2h-1zM349 10h1v1h-1zM349 43h1v1h-1zM350 4h1v1h-1zM350 10h1v1h-1zM350 27h1v1h-1zM350 36h1v1h-1zM350 46h1v2h-1zM350 51h1v1h-1zM351 0h1v2h-1zM351 8h1v2h-1zM351 12h1v1h-1zM351 18h1v1h-1zM351 22h1v1h-1zM351 26h1v1h-1zM351 28h1v1h-1zM352 0h1v1h-1zM352 2h1v4h-1zM352 11h1v1h-1zM352 27h1v1h-1zM352 30h1v1h-1zM353 7h1v1h-1zM353 11h1v2h-1zM354 18h1v2h-1zM355 4h1v1h-1zM355 21h1v1h-1zM355 27h1v2h-1zM356 0h1v1h-1zM356 4h1v1h-1zM356 6h1v1h-1zM356 8h1v1h-1zM356 23h1v4h-1zM356 31h1v2h-1zM358 49h1v2h-1zM360 33h1v1h-1zM361 6h1v1h-1zM361 8h1v1h-1zM361 14h1v1h-1zM361 27h1v1h-1zM361 31h1v3h-1zM361 40h1v1h-1zM363 6h1v1h-1zM363 13h1v1h-1zM363 27h1v1h-1zM363 33h1v3h-1z"/>
<path fill="#E6DE08" d="M0 32h1v1h-1zM0 39h1v1h-1zM0 47h1v1h-1zM0 51h1v1h-1zM1 3h1v1h-1zM1 6h1v1h-1zM1 11h1v2h-1zM1 17h1v2h-1zM1 21h1v2h-1zM1 25h1v1h-1zM2 1h1v1h-1zM2 9h1v1h-1zM2 11h1v1h-1zM2 44h1v1h-1zM3 2h1v1h-1zM3 9h1v1h-1zM3 11h1v2h-1zM3 14h1v1h-1zM3 19h1v1h-1zM3 39h1v1h-1zM3 41h1v4h-1zM3 46h1v1h-1zM4 6h1v2h-1zM4 9h1v1h-1zM4 12h1v1h-1zM4 18h1v1h-1zM4 20h1v1h-1zM4 30h1v1h-1zM4 32h1v1h-1zM4 36h1v1h-1zM4 38h1v1h-1zM4 40h1v1h-1zM4 42h1v1h-1zM5 3h1v1h-1zM5 18h1v1h-1zM5 23h1v1h-1zM5 28h1v1h-1zM5 37h1v1h-1zM5 43h1v2h-1zM5 46h1v2h-1zM6 23h1v1h-1zM6 29h1v1h-1zM6 31h1v1h-1zM6 33h1v1h-1zM6 36h1v1h-1zM6 38h1v1h-1zM6 43h1v1h-1zM6 48h1v1h-1zM6 50h1v1h-1zM7 1h1v1h-1zM7 4h1v1h-1zM7 9h1v2h-1zM7 13h1v1h-1zM7 17h1v1h-1zM7 20h1v1h-1zM7 22h1v2h-1zM7 32h1v1h-1zM7 34h1v1h-1zM7 38h1v2h-1zM7 41h1v1h-1zM7 48h1v2h-1zM8 3h1v1h-1zM8 15h1v1h-1zM9 2h1v1h-1zM9 5h1v2h-1zM9 8h1v1h-1zM9 26h1v2h-1zM9 34h1v1h-1zM10 0h1v1h-1zM10 7h1v2h-1zM10 11h1v3h-1zM10 19h1v1h-1zM10 23h1v1h-1zM10 38h1v1h-1zM10 40h1v1h-1zM10 43h1v1h-1zM11 1h1v1h-1zM11 9h1v1h-1zM11 18h1v1h-1zM11 37h1v1h-1zM11 48h1v1h-1zM11 51h1v1h-1zM12 2h1v1h-1zM12 15h1v1h-1zM12 26h1v1h-1zM12 36h1v1h-1zM13 7h1v1h-1zM13 9h1v1h-1zM13 14h1v1h-1zM13 17h1v1h-1zM13 26h1v2h-1zM14 5h1v1h-1zM14 10h1v1h-1zM15 1h1v1h-1zM15 3h1v1h-1zM15 31h1v1h-1zM15 35h1v1h-1zM15 39h1v1h-1zM15 48h1v1h-1zM15 50h1v1h-1zM16 6h1v1h-1zM16 17h1v1h-1zM16 20h1v1h-1zM16 29h1v1h-1zM16 35h1v2h-1zM16 49h1v1h-1zM17 1h1v1h-1zM17 5h1v2h-1zM17 9h1v2h-1zM17 13h1v2h-1zM17 19h1v1h-1zM17 22h1v1h-1zM17 24h1v1h-1zM17 32h1v2h-1zM17 37h1v2h-1zM18 5h1v1h-1zM18 28h1v2h-1zM18 49h1v1h-1zM19 17h1v2h-1zM19 24h1v1h-1zM19 29h1v1h-1zM19 40h1v1h-1zM19 47h1v1h-1zM20 0h1v1h-1zM20 14h1v1h-1zM20 19h1v2h-1zM20 23h1v1h-1zM20 25h1v1h-1zM20 27h1v1h-1zM20 29h1v1h-1zM20 31h1v1h-1zM20 41h1v1h-1zM20 45h1v1h-1zM20 49h1v2h-1zM21 0h1v1h-1zM21 2h1v2h-1zM21 11h1v1h-1zM21 13h1v1h-1zM21 18h1v3h-1zM21 50h1v1h-1zM22 1h1v2h-1zM22 4h1v1h-1zM22 6h1v1h-1zM22 11h1v2h-1zM22 17h1v1h-1zM22 33h1v1h-1zM23 5h1v1h-1zM23 8h1v1h-1zM23 18h1v1h-1zM23 30h1v1h-1zM24 2h1v2h-1zM24 20h1v1h-1zM24 22h1v1h-1zM24 30h1v1h-1zM25 10h1v2h-1zM25 13h1v1h-1zM25 25h1v1h-1zM25 27h1v1h-1zM25 29h1v1h-1zM25 42h1v1h-1zM25 44h1v1h-1zM25 48h1v1h-1zM26 1h1v2h-1zM26 13h1v1h-1zM26 15h1v1h-1zM26 31h1v1h-1zM26 34h1v1h-1zM26 42h1v1h-1zM27 4h1v1h-1zM27 10h1v1h-1zM27 28h1v2h-1zM27 33h1v1h-1zM27 43h1v1h-1zM28 1h1v1h-1zM28 6h1v1h-1zM28 11h1v1h-1zM28 23h1v1h-1zM28 28h1v1h-1zM28 31h1v1h-1zM28 33h1v1h-1zM28 36h1v1h-1zM28 40h1v1h-1zM28 42h1v2h-1zM28 45h1v2h-1zM28 48h1v1h-1zM29 9h1v1h-1zM29 12h1v1h-1zM29 23h1v1h-1zM29 26h1v1h-1zM29 28h1v1h-1zM29 30h1v1h-1zM30 6h1v2h-1zM30 13h1v1h-1zM30 18h1v1h-1zM30 20h1v1h-1zM30 36h1v1h-1zM31 0h1v1h-1zM31 3h1v1h-1zM31 6h1v1h-1zM31 11h1v1h-1zM31 15h1v1h-1zM31 17h1v1h-1zM31 20h1v5h-1zM31 26h1v1h-1zM31 32h1v1h-1zM31 34h1v3h-1zM32 1h1v2h-1zM32 6h1v1h-1zM32 12h1v1h-1zM32 15h1v1h-1zM32 27h1v1h-1zM32 36h1v2h-1zM32 44h1v1h-1zM33 0h1v1h-1zM33 13h1v1h-1zM33 27h1v1h-1zM34 32h1v1h-1zM34 40h1v1h-1zM34 51h1v1h-1zM35 1h1v1h-1zM35 7h1v1h-1zM35 17h1v1h-1zM35 31h1v1h-1zM35 42h1v1h-1zM35 44h1v1h-1zM36 2h1v1h-1zM36 5h1v1h-1zM36 8h1v1h-1zM36 13h1v2h-1zM36 20h1v1h-1zM36 29h1v1h-1zM36 31h1v1h-1zM36 33h1v1h-1zM36 41h1v1h-1zM36 46h1v1h-1zM36 51h1v1h-1zM37 4h1v1h-1zM37 6h1v1h-1zM37 12h1v2h-1zM37 23h1v1h-1zM37 27h1v1h-1zM37 29h1v1h-1zM37 32h1v1h-1zM37 40h1v2h-1zM38 4h1v1h-1zM38 8h1v1h-1zM38 10h1v1h-1zM38 18h1v1h-1zM38 24h1v1h-1zM38 28h1v1h-1zM38 30h1v1h-1zM38 33h1v1h-1zM38 49h1v1h-1zM39 1h1v2h-1zM39 4h1v1h-1zM39 6h1v1h-1zM39 12h1v2h-1zM39 19h1v1h-1zM39 24h1v1h-1zM39 26h1v1h-1zM39 33h1v1h-1zM39 37h1v1h-1zM39 46h1v4h-1zM40 0h1v1h-1zM40 11h1v1h-1zM40 14h1v1h-1zM40 18h1v1h-1zM40 22h1v2h-1zM40 32h1v4h-1zM40 37h1v1h-1zM40 39h1v1h-1zM40 46h1v1h-1zM41 5h1v1h-1zM41 10h1v1h-1zM41 13h1v2h-1zM41 17h1v3h-1zM41 23h1v2h-1zM41 26h1v1h-1zM41 29h1v5h-1zM41 48h1v3h-1zM42 5h1v2h-1zM42 9h1v1h-1zM42 14h1v1h-1zM42 18h1v1h-1zM42 21h1v1h-1zM42 25h1v1h-1zM42 28h1v1h-1zM42 37h1v1h-1zM42 49h1v1h-1zM43 1h1v1h-1zM43 17h1v1h-1zM43 20h1v2h-1zM43 23h1v2h-1zM43 29h1v1h-1zM43 32h1v1h-1zM43 34h1v1h-1zM45 2h1v1h-1zM45 6h1v2h-1zM45 11h1v2h-1zM45 24h1v3h-1zM45 31h1v1h-1zM45 41h1v1h-1zM45 44h1v1h-1zM45 46h1v1h-1zM46 4h1v1h-1zM46 25h1v2h-1zM46 29h1v2h-1zM46 32h1v1h-1zM46 38h1v1h-1zM47 15h1v1h-1zM47 19h1v1h-1zM47 21h1v1h-1zM47 26h1v2h-1zM47 35h1v1h-1zM47 40h1v4h-1zM48 2h1v1h-1zM48 5h1v2h-1zM48 10h1v1h-1zM48 17h1v1h-1zM48 22h1v1h-1zM48 29h1v1h-1zM48 45h1v1h-1zM49 8h1v1h-1zM49 11h1v1h-1zM49 28h1v1h-1zM49 33h1v1h-1zM49 41h1v1h-1zM50 5h1v2h-1zM50 14h1v1h-1zM50 20h1v1h-1zM50 30h1v1h-1zM51 1h1v2h-1zM51 5h1v2h-1zM51 8h1v1h-1zM51 10h1v2h-1zM51 17h1v1h-1zM51 29h1v1h-1zM51 34h1v1h-1zM51 36h1v1h-1zM51 39h1v1h-1zM52 1h1v1h-1zM52 4h1v1h-1zM52 8h1v1h-1zM52 10h1v1h-1zM52 12h1v1h-1zM52 19h1v1h-1zM52 24h1v1h-1zM52 29h1v1h-1zM52 32h1v1h-1zM52 38h1v1h-1zM52 41h1v1h-1zM53 2h1v1h-1zM53 7h1v2h-1zM53 10h1v1h-1zM53 13h1v1h-1zM53 18h1v1h-1zM53 21h1v1h-1zM53 23h1v2h-1zM53 36h1v1h-1zM54 0h1v1h-1zM54 2h1v1h-1zM54 12h1v1h-1zM54 18h1v1h-1zM54 20h1v1h-1zM54 22h1v1h-1zM54 25h1v1h-1zM54 33h1v2h-1zM54 38h1v1h-1zM54 48h1v1h-1zM54 50h1v2h-1zM55 4h1v1h-1zM55 8h1v1h-1zM55 10h1v1h-1zM55 13h1v2h-1zM55 24h1v1h-1zM55 26h1v1h-1zM55 32h1v2h-1zM55 42h1v1h-1zM55 48h1v1h-1zM55 50h1v1h-1zM56 7h1v1h-1zM56 15h1v1h-1zM56 17h1v1h-1zM56 19h1v2h-1zM56 24h1v1h-1zM56 26h1v1h-1zM56 28h1v2h-1zM56 34h1v1h-1zM56 36h1v1h-1zM56 38h1v1h-1zM57 5h1v1h-1zM57 15h1v1h-1zM57 19h1v1h-1zM57 21h1v2h-1zM57 25h1v1h-1zM57 32h1v1h-1zM57 51h1v1h-1zM58 11h1v1h-1zM58 26h1v2h-1zM58 33h1v2h-1zM59 4h1v1h-1zM59 11h1v2h-1zM59 14h1v1h-1zM59 24h1v1h-1zM59 30h1v1h-1zM59 33h1v1h-1zM59 35h1v1h-1zM59 46h1v1h-1zM59 48h1v2h-1zM60 3h1v1h-1zM60 10h1v1h-1zM60 12h1v1h-1zM61 7h1v1h-1zM61 9h1v1h-1zM61 12h1v1h-1zM61 15h1v1h-1zM61 24h1v1h-1zM61 27h1v1h-1zM61 30h1v1h-1zM61 41h1v1h-1zM61 50h1v1h-1zM62 4h1v2h-1zM62 7h1v3h-1zM62 13h1v2h-1zM62 24h1v1h-1zM62 29h1v1h-1zM62 32h1v1h-1zM62 42h1v1h-1zM62 50h1v1h-1zM63 7h1v1h-1zM63 9h1v1h-1zM63 13h1v1h-1zM64 2h1v1h-1zM64 5h1v2h-1zM64 14h1v1h-1zM64 42h1v1h-1zM64 47h1v1h-1zM65 15h1v1h-1zM65 38h1v1h-1zM65 40h1v1h-1zM66 0h1v1h-1zM66 3h1v3h-1zM66 9h1v1h-1zM66 17h1v1h-1zM66 19h1v4h-1zM66 24h1v1h-1zM66 34h1v2h-1zM66 40h1v1h-1zM66 42h1v1h-1zM67 6h1v1h-1zM67 23h1v2h-1zM67 37h1v2h-1zM67 40h1v1h-1zM67 51h1v1h-1zM68 12h1v1h-1zM68 29h1v3h-1zM68 34h1v1h-1zM69 28h1v1h-1zM69 38h1v1h-1zM70 1h1v1h-1zM70 3h1v1h-1zM70 11h1v1h-1zM70 14h1v1h-1zM70 31h1v1h-1zM71 2h1v1h-1zM71 9h1v1h-1zM71 15h1v1h-1zM71 23h1v1h-1zM71 29h1v1h-1zM71 35h1v1h-1zM71 37h1v2h-1zM71 42h1v1h-1zM71 50h1v1h-1zM72 1h1v5h-1zM72 8h1v1h-1zM72 12h1v1h-1zM72 14h1v1h-1zM72 25h1v1h-1zM72 31h1v3h-1zM72 37h1v1h-1zM72 40h1v1h-1zM76 2h1v2h-1zM76 6h1v2h-1zM76 14h1v1h-1zM76 46h1v1h-1zM77 29h1v1h-1zM79 25h1v1h-1zM79 35h1v1h-1zM80 6h1v4h-1zM80 13h1v1h-1zM80 34h1v3h-1zM80 42h1v2h-1zM82 19h1v1h-1zM82 50h1v2h-1zM84 2h1v1h-1zM84 5h1v1h-1zM84 7h1v1h-1zM84 9h1v1h-1zM84 34h1v3h-1zM84 39h1v1h-1zM84 43h1v1h-1zM85 21h1v5h-1zM85 28h1v4h-1zM85 33h1v2h-1zM85 43h1v3h-1zM85 47h1v3h-1zM85 51h1v1h-1zM87 3h1v1h-1zM87 8h1v1h-1zM87 33h1v2h-1zM87 36h1v4h-1zM87 41h1v2h-1zM87 48h1v2h-1zM88 38h1v1h-1zM89 2h1v1h-1zM89 32h1v1h-1zM90 33h1v1h-1zM91 10h1v1h-1zM91 12h1v1h-1zM91 14h1v1h-1zM91 18h1v1h-1zM91 23h1v4h-1zM91 35h1v1h-1zM91 37h1v1h-1zM92 25h1v1h-1zM92 27h1v2h-1zM93 45h1v1h-1zM93 50h1v2h-1zM95 13h1v2h-1zM95 17h1v1h-1zM95 26h1v1h-1zM95 34h1v1h-1zM97 10h1v3h-1zM97 14h1v1h-1zM97 32h1v3h-1zM99 0h1v4h-1zM99 6h1v5h-1zM99 29h1v1h-1zM99 39h1v1h-1zM99 42h1v1h-1zM99 44h1v4h-1zM99 50h1v2h-1zM100 34h1v1h-1zM100 40h1v1h-1zM103 12h1v2h-1zM103 32h1v1h-1zM103 35h1v1h-1zM103 46h1v1h-1zM103 50h1v1h-1zM106 48h1v2h-1zM108 21h1v2h-1zM108 25h1v2h-1zM108 28h1v4h-1zM108 34h1v1h-1zM108 37h1v2h-1zM108 42h1v1h-1zM108 44h1v2h-1zM109 41h1v1h-1zM109 43h1v2h-1zM109 50h1v2h-1zM110 26h1v1h-1zM110 45h1v1h-1zM112 21h1v2h-1zM112 33h1v1h-1zM112 35h1v1h-1zM112 37h1v1h-1zM112 45h1v1h-1zM114 6h1v2h-1zM114 13h1v1h-1zM114 15h1v1h-1zM114 17h1v1h-1zM117 25h1v1h-1zM117 30h1v1h-1zM117 33h1v2h-1zM117 38h1v5h-1zM117 45h1v1h-1zM121 42h1v1h-1zM122 24h1v1h-1zM122 26h1v1h-1zM122 28h1v1h-1zM122 46h1v3h-1zM123 1h1v3h-1zM123 6h1v1h-1zM123 9h1v1h-1zM127 4h1v2h-1zM127 10h1v2h-1zM127 30h1v1h-1zM127 32h1v2h-1zM128 0h1v1h-1zM128 3h1v1h-1zM128 5h1v1h-1zM128 9h1v2h-1zM128 22h1v1h-1zM128 25h1v5h-1zM129 12h1v1h-1zM129 18h1v7h-1zM129 30h1v1h-1zM130 6h1v2h-1zM130 10h1v3h-1zM130 36h1v1h-1zM130 40h1v2h-1zM130 43h1v1h-1zM130 45h1v1h-1zM132 7h1v1h-1zM132 13h1v1h-1zM132 26h1v2h-1zM132 31h1v1h-1zM134 3h1v8h-1zM134 19h1v4h-1zM134 49h1v2h-1zM137 8h1v2h-1zM137 13h1v3h-1zM137 17h1v3h-1zM137 21h1v2h-1zM137 27h1v1h-1zM137 29h1v2h-1zM137 33h1v3h-1zM137 37h1v2h-1zM137 40h1v1h-1zM137 43h1v3h-1zM137 48h1v1h-1zM137 50h1v2h-1zM139 1h1v2h-1zM139 7h1v1h-1zM139 11h1v5h-1zM139 19h1v3h-1zM139 23h1v3h-1zM139 31h1v1h-1zM139 42h1v2h-1zM139 45h1v1h-1zM140 14h1v2h-1zM140 17h1v3h-1zM140 34h1v1h-1zM140 36h1v1h-1zM140 40h1v2h-1zM141 17h1v1h-1zM142 21h1v1h-1zM142 25h1v2h-1zM142 29h1v2h-1zM142 44h1v2h-1zM142 48h1v1h-1zM142 51h1v1h-1zM144 32h1v1h-1zM144 34h1v1h-1zM144 44h1v1h-1zM144 46h1v1h-1zM144 48h1v1h-1zM144 51h1v1h-1zM145 3h1v4h-1zM145 10h1v1h-1zM145 12h1v1h-1zM145 17h1v1h-1zM145 21h1v1h-1zM146 9h1v4h-1zM146 18h1v1h-1zM146 36h1v1h-1zM146 45h1v1h-1zM146 50h1v2h-1zM151 38h1v2h-1zM152 26h1v3h-1zM152 38h1v2h-1zM152 41h1v3h-1zM152 47h1v1h-1zM155 21h1v1h-1zM155 23h1v2h-1zM155 27h1v2h-1zM155 41h1v5h-1zM155 48h1v1h-1zM155 50h1v2h-1zM156 18h1v3h-1zM156 27h1v1h-1zM156 29h1v1h-1zM156 31h1v1h-1zM156 33h1v2h-1zM156 46h1v1h-1zM157 19h1v4h-1zM157 51h1v1h-1zM158 42h1v2h-1zM158 50h1v1h-1zM159 0h1v1h-1zM159 6h1v9h-1zM159 19h1v3h-1zM159 23h1v2h-1zM159 26h1v1h-1zM159 44h1v3h-1zM159 49h1v1h-1zM159 51h1v1h-1zM161 34h1v2h-1zM162 22h1v1h-1zM162 32h1v3h-1zM162 36h1v2h-1zM162 39h1v2h-1zM162 42h1v1h-1zM162 44h1v1h-1zM162 46h1v2h-1zM163 18h1v1h-1zM163 20h1v4h-1zM163 28h1v1h-1zM163 30h1v1h-1zM164 2h1v1h-1zM164 7h1v3h-1zM164 14h1v2h-1zM164 30h1v1h-1zM164 33h1v1h-1zM164 35h1v1h-1zM164 37h1v4h-1zM164 42h1v3h-1zM164 48h1v4h-1zM167 0h1v1h-1zM167 5h1v2h-1zM167 8h1v3h-1zM167 13h1v2h-1zM167 17h1v2h-1zM167 23h1v1h-1zM167 25h1v1h-1zM167 27h1v2h-1zM167 30h1v2h-1zM167 33h1v1h-1zM167 39h1v2h-1zM167 46h1v1h-1zM169 2h1v3h-1zM169 10h1v5h-1zM170 42h1v1h-1zM170 44h1v1h-1zM170 47h1v1h-1zM170 51h1v1h-1zM171 0h1v3h-1zM171 5h1v1h-1zM171 7h1v2h-1zM171 11h1v3h-1zM171 19h1v3h-1zM171 31h1v2h-1zM172 5h1v1h-1zM172 9h1v1h-1zM172 19h1v1h-1zM172 22h1v3h-1zM172 26h1v1h-1zM172 42h1v2h-1zM173 10h1v1h-1zM173 15h1v1h-1zM173 25h1v1h-1zM173 28h1v5h-1zM173 37h1v1h-1zM173 46h1v3h-1zM174 2h1v2h-1zM174 8h1v3h-1zM174 15h1v1h-1zM174 17h1v1h-1zM174 19h1v1h-1zM174 23h1v1h-1zM174 49h1v3h-1zM176 5h1v4h-1zM176 12h1v1h-1zM176 14h1v2h-1zM176 26h1v1h-1zM176 28h1v2h-1zM176 33h1v5h-1zM176 40h1v2h-1zM176 43h1v2h-1zM176 47h1v1h-1zM178 23h1v1h-1zM178 26h1v2h-1zM178 29h1v5h-1zM179 6h1v1h-1zM179 9h1v4h-1zM179 21h1v2h-1zM179 28h1v1h-1zM179 30h1v2h-1zM179 34h1v2h-1zM179 37h1v7h-1zM179 45h1v6h-1zM180 6h1v1h-1zM180 41h1v1h-1zM181 30h1v1h-1zM182 17h1v1h-1zM182 21h1v1h-1zM182 28h1v1h-1zM182 32h1v3h-1zM182 38h1v1h-1zM182 40h1v1h-1zM182 42h1v2h-1zM182 46h1v2h-1zM183 24h1v1h-1zM183 26h1v2h-1zM183 31h1v2h-1zM184 39h1v2h-1zM184 44h1v2h-1zM185 30h1v2h-1zM185 36h1v1h-1zM186 0h1v1h-1zM186 3h1v2h-1zM186 13h1v1h-1zM186 17h1v6h-1zM186 33h1v2h-1zM186 46h1v2h-1zM189 21h1v1h-1zM189 24h1v1h-1zM189 28h1v1h-1zM190 0h1v2h-1zM190 18h1v2h-1zM191 27h1v2h-1zM191 30h1v2h-1zM191 33h1v5h-1zM191 39h1v3h-1zM191 48h1v1h-1zM192 0h1v1h-1zM192 4h1v3h-1zM192 22h1v4h-1zM192 27h1v3h-1zM192 34h1v2h-1zM192 42h1v1h-1zM193 25h1v2h-1zM193 48h1v1h-1zM194 17h1v2h-1zM194 40h1v4h-1zM198 12h1v2h-1zM198 15h1v1h-1zM199 20h1v6h-1zM199 42h1v1h-1zM199 44h1v1h-1zM200 20h1v1h-1zM200 24h1v2h-1zM200 28h1v1h-1zM200 30h1v1h-1zM200 34h1v1h-1zM200 36h1v3h-1zM200 44h1v1h-1zM200 47h1v3h-1zM203 18h1v1h-1zM203 25h1v1h-1zM203 27h1v1h-1zM203 30h1v4h-1zM205 0h1v2h-1zM205 7h1v1h-1zM205 10h1v1h-1zM206 22h1v1h-1zM206 37h1v3h-1zM206 42h1v5h-1zM206 49h1v3h-1zM207 0h1v3h-1zM207 5h1v2h-1zM207 10h1v1h-1zM207 13h1v1h-1zM207 19h1v2h-1zM207 22h1v1h-1zM207 29h1v3h-1zM207 33h1v1h-1zM207 38h1v1h-1zM207 40h1v2h-1zM207 50h1v1h-1zM208 1h1v1h-1zM208 14h1v1h-1zM208 21h1v4h-1zM208 26h1v1h-1zM208 30h1v2h-1zM208 33h1v1h-1zM208 37h1v1h-1zM208 39h1v2h-1zM208 42h1v2h-1zM208 45h1v2h-1zM208 49h1v3h-1zM211 12h1v3h-1zM213 7h1v1h-1zM213 17h1v5h-1zM213 33h1v1h-1zM213 40h1v3h-1zM213 44h1v2h-1zM213 47h1v1h-1zM214 17h1v2h-1zM214 33h1v3h-1zM214 39h1v1h-1zM214 43h1v2h-1zM214 46h1v3h-1zM215 17h1v1h-1zM215 22h1v6h-1zM215 32h1v2h-1zM215 39h1v1h-1zM215 42h1v1h-1zM215 44h1v2h-1zM215 47h1v1h-1zM217 32h1v2h-1zM219 6h1v3h-1zM225 9h1v3h-1zM225 14h1v2h-1zM225 17h1v1h-1zM225 29h1v2h-1zM225 35h1v3h-1zM225 42h1v2h-1zM226 33h1v1h-1zM227 47h1v1h-1zM228 5h1v1h-1zM228 8h1v1h-1zM228 11h1v3h-1zM228 15h1v1h-1zM228 17h1v3h-1zM228 23h1v1h-1zM230 13h1v1h-1zM230 44h1v1h-1zM230 46h1v1h-1zM230 49h1v3h-1zM231 5h1v2h-1zM231 32h1v1h-1zM231 34h1v3h-1zM231 47h1v1h-1zM232 33h1v1h-1zM233 27h1v4h-1zM233 34h1v1h-1zM233 37h1v6h-1zM233 50h1v2h-1zM234 12h1v3h-1zM234 17h1v2h-1zM234 20h1v1h-1zM234 33h1v1h-1zM234 39h1v1h-1zM234 43h1v3h-1zM234 47h1v1h-1zM234 51h1v1h-1zM235 0h1v1h-1zM235 8h1v3h-1zM235 47h1v1h-1zM236 0h1v2h-1zM236 3h1v1h-1zM236 6h1v2h-1zM236 36h1v1h-1zM237 1h1v4h-1zM237 11h1v1h-1zM237 14h1v2h-1zM237 19h1v3h-1zM237 23h1v1h-1zM237 25h1v1h-1zM237 27h1v4h-1zM237 35h1v4h-1zM237 47h1v2h-1zM238 4h1v5h-1zM238 20h1v3h-1zM238 27h1v3h-1zM238 34h1v1h-1zM238 37h1v1h-1zM238 39h1v1h-1zM238 43h1v4h-1zM240 9h1v2h-1zM241 15h1v1h-1zM241 17h1v1h-1zM241 36h1v1h-1zM242 4h1v2h-1zM242 30h1v1h-1zM245 27h1v1h-1zM245 49h1v3h-1zM246 1h1v2h-1zM246 4h1v2h-1zM246 35h1v2h-1zM247 8h1v1h-1zM247 13h1v3h-1zM247 19h1v4h-1zM247 25h1v2h-1zM247 28h1v1h-1zM247 32h1v2h-1zM247 45h1v1h-1zM247 51h1v1h-1zM249 1h1v1h-1zM249 8h1v2h-1zM249 17h1v5h-1zM249 26h1v2h-1zM249 33h1v2h-1zM249 36h1v1h-1zM249 38h1v1h-1zM250 0h1v1h-1zM250 2h1v3h-1zM250 9h1v2h-1zM250 21h1v1h-1zM250 36h1v2h-1zM251 0h1v1h-1zM251 2h1v1h-1zM251 5h1v1h-1zM251 7h1v1h-1zM252 1h1v5h-1zM253 0h1v1h-1zM253 2h1v1h-1zM253 12h1v1h-1zM253 14h1v1h-1zM253 21h1v2h-1zM253 29h1v1h-1zM253 31h1v2h-1zM253 37h1v2h-1zM253 41h1v1h-1zM254 11h1v1h-1zM254 18h1v9h-1zM254 32h1v1h-1zM254 34h1v2h-1zM254 38h1v1h-1zM254 40h1v2h-1zM254 46h1v1h-1zM254 50h1v1h-1zM255 0h1v4h-1zM255 5h1v2h-1zM255 24h1v1h-1zM255 30h1v1h-1zM255 33h1v1h-1zM255 35h1v2h-1zM255 40h1v1h-1zM255 43h1v3h-1zM255 48h1v2h-1zM256 42h1v2h-1zM256 49h1v1h-1zM259 18h1v2h-1zM260 6h1v1h-1zM260 37h1v2h-1zM260 40h1v1h-1zM262 19h1v3h-1zM262 24h1v1h-1zM263 0h1v2h-1zM263 9h1v4h-1zM263 22h1v1h-1zM263 24h1v1h-1zM263 48h1v2h-1zM263 51h1v1h-1zM264 17h1v1h-1zM264 19h1v3h-1zM267 25h1v3h-1zM268 9h1v1h-1zM268 14h1v2h-1zM268 18h1v1h-1zM268 21h1v1h-1zM268 29h1v1h-1zM268 35h1v1h-1zM269 0h1v1h-1zM269 4h1v2h-1zM269 8h1v2h-1zM269 14h1v2h-1zM269 17h1v1h-1zM269 43h1v1h-1zM269 47h1v3h-1zM271 32h1v2h-1zM271 35h1v2h-1zM271 38h1v1h-1zM271 40h1v1h-1zM271 44h1v2h-1zM271 47h1v5h-1zM272 48h1v1h-1zM273 2h1v5h-1zM273 29h1v1h-1zM273 31h1v1h-1zM274 11h1v1h-1zM274 33h1v1h-1zM274 37h1v2h-1zM274 45h1v1h-1zM276 4h1v4h-1zM276 9h1v2h-1zM278 17h1v3h-1zM279 7h1v1h-1zM279 9h1v1h-1zM279 25h1v4h-1zM279 30h1v3h-1zM279 38h1v1h-1zM279 45h1v1h-1zM279 47h1v2h-1zM282 22h1v4h-1zM282 28h1v1h-1zM282 30h1v2h-1zM282 47h1v1h-1zM283 5h1v1h-1zM283 11h1v2h-1zM283 15h1v1h-1zM283 18h1v3h-1zM283 22h1v1h-1zM283 28h1v1h-1zM283 30h1v3h-1zM283 43h1v2h-1zM284 21h1v1h-1zM286 40h1v2h-1zM287 4h1v1h-1zM287 6h1v4h-1zM287 19h1v2h-1zM287 22h1v1h-1zM287 26h1v1h-1zM287 28h1v1h-1zM287 39h1v4h-1zM287 48h1v1h-1zM287 50h1v1h-1zM288 9h1v4h-1zM288 21h1v3h-1zM288 30h1v1h-1zM288 32h1v2h-1zM289 2h1v2h-1zM289 5h1v1h-1zM289 25h1v1h-1zM289 28h1v1h-1zM289 47h1v1h-1zM290 1h1v1h-1zM290 3h1v1h-1zM290 20h1v4h-1zM290 29h1v1h-1zM290 32h1v1h-1zM290 42h1v1h-1zM290 44h1v6h-1zM290 51h1v1h-1zM292 42h1v2h-1zM294 0h1v4h-1zM294 5h1v4h-1zM294 19h1v2h-1zM294 22h1v2h-1zM294 44h1v2h-1zM295 40h1v2h-1zM296 13h1v2h-1zM296 17h1v1h-1zM296 24h1v1h-1zM296 26h1v1h-1zM296 36h1v1h-1zM296 42h1v5h-1zM296 51h1v1h-1zM297 9h1v1h-1zM297 31h1v1h-1zM297 35h1v4h-1zM297 42h1v1h-1zM297 48h1v1h-1zM298 32h1v1h-1zM301 0h1v1h-1zM301 19h1v1h-1zM301 21h1v3h-1zM301 47h1v1h-1zM302 3h1v2h-1zM302 14h1v2h-1zM302 17h1v4h-1zM302 24h1v1h-1zM302 27h1v4h-1zM302 33h1v4h-1zM302 38h1v1h-1zM302 40h1v1h-1zM302 42h1v2h-1zM302 45h1v1h-1zM302 47h1v3h-1zM304 34h1v2h-1zM304 37h1v1h-1zM304 44h1v1h-1zM305 11h1v2h-1zM305 14h1v2h-1zM305 27h1v1h-1zM305 30h1v2h-1zM305 46h1v2h-1zM306 4h1v2h-1zM306 8h1v1h-1zM306 10h1v1h-1zM306 14h1v1h-1zM306 25h1v2h-1zM306 30h1v1h-1zM306 35h1v5h-1zM306 42h1v6h-1zM307 20h1v1h-1zM307 24h1v2h-1zM307 38h1v1h-1zM308 17h1v3h-1zM308 21h1v1h-1zM308 28h1v6h-1zM309 0h1v1h-1zM309 3h1v1h-1zM309 5h1v1h-1zM309 14h1v2h-1zM309 17h1v1h-1zM309 19h1v1h-1zM309 23h1v2h-1zM309 28h1v2h-1zM310 10h1v3h-1zM312 14h1v2h-1zM312 18h1v1h-1zM313 49h1v1h-1zM315 1h1v1h-1zM315 10h1v1h-1zM315 12h1v1h-1zM315 22h1v2h-1zM315 46h1v1h-1zM315 48h1v1h-1zM315 50h1v1h-1zM317 18h1v3h-1zM317 22h1v2h-1zM317 44h1v2h-1zM319 6h1v1h-1zM319 15h1v1h-1zM319 19h1v7h-1zM319 28h1v3h-1zM319 32h1v4h-1zM319 41h1v1h-1zM320 0h1v2h-1zM320 9h1v2h-1zM320 13h1v3h-1zM320 21h1v1h-1zM320 26h1v1h-1zM320 30h1v1h-1zM320 33h1v1h-1zM320 40h1v1h-1zM320 50h1v2h-1zM324 17h1v2h-1zM324 20h1v1h-1zM326 32h1v3h-1zM327 38h1v1h-1zM327 42h1v1h-1zM327 46h1v3h-1zM327 50h1v1h-1zM328 2h1v1h-1zM328 5h1v3h-1zM328 9h1v2h-1zM328 13h1v1h-1zM328 17h1v1h-1zM328 19h1v3h-1zM328 33h1v2h-1zM328 40h1v3h-1zM328 44h1v1h-1zM328 50h1v2h-1zM330 1h1v4h-1zM330 9h1v2h-1zM330 12h1v1h-1zM330 25h1v1h-1zM330 29h1v1h-1zM330 36h1v2h-1zM330 39h1v3h-1zM331 38h1v2h-1zM331 42h1v1h-1zM332 17h1v3h-1zM333 25h1v1h-1zM333 29h1v3h-1zM333 33h1v1h-1zM333 35h1v1h-1zM336 39h1v3h-1zM337 2h1v1h-1zM337 4h1v1h-1zM337 6h1v1h-1zM337 20h1v2h-1zM337 24h1v1h-1zM337 26h1v1h-1zM337 30h1v1h-1zM337 33h1v2h-1zM337 36h1v1h-1zM337 39h1v1h-1zM337 45h1v1h-1zM337 47h1v3h-1zM338 0h1v2h-1zM338 5h1v4h-1zM338 13h1v1h-1zM338 23h1v2h-1zM338 27h1v1h-1zM338 31h1v1h-1zM338 35h1v2h-1zM338 41h1v2h-1zM340 20h1v1h-1zM340 34h1v1h-1zM340 42h1v2h-1zM341 2h1v1h-1zM341 17h1v6h-1zM341 24h1v1h-1zM341 45h1v6h-1zM343 12h1v2h-1zM343 27h1v3h-1zM343 36h1v2h-1zM343 49h1v3h-1zM344 46h1v3h-1zM344 50h1v2h-1zM345 7h1v1h-1zM345 9h1v1h-1zM345 19h1v4h-1zM345 49h1v3h-1zM346 2h1v2h-1zM346 5h1v2h-1zM346 15h1v1h-1zM346 28h1v1h-1zM346 37h1v1h-1zM346 39h1v2h-1zM346 42h1v4h-1zM347 19h1v9h-1zM347 29h1v2h-1zM347 33h1v1h-1zM350 15h1v1h-1zM350 33h1v1h-1zM350 40h1v1h-1zM356 15h1v1h-1zM356 36h1v4h-1zM357 15h1v1h-1zM357 17h1v3h-1zM357 28h1v1h-1zM357 30h1v1h-1zM357 40h1v1h-1zM357 43h1v1h-1zM358 12h1v2h-1zM358 15h1v1h-1zM358 41h1v1h-1zM360 0h1v3h-1zM360 4h1v1h-1zM360 7h1v1h-1zM360 12h1v1h-1zM360 25h1v2h-1zM360 30h1v1h-1zM360 32h1v1h-1zM361 1h1v1h-1zM361 17h1v4h-1zM361 22h1v3h-1zM361 34h1v2h-1zM361 42h1v1h-1zM361 44h1v1h-1zM361 46h1v2h-1zM362 2h1v4h-1zM362 8h1v2h-1zM362 11h1v1h-1zM362 18h1v2h-1zM362 21h1v8h-1zM363 23h1v1h-1zM363 37h1v3h-1zM363 41h1v2h-1zM363 45h1v1h-1zM363 51h1v1h-1zM364 20h1v1h-1zM364 30h1v1h-1zM364 32h1v2h-1zM364 42h1v3h-1z"/>
<path fill="#56C200" d="M0 36h1v3h-1zM0 45h1v2h-1zM1 0h1v2h-1zM1 4h1v1h-1zM1 7h1v1h-1zM1 29h1v1h-1zM1 50h1v2h-1zM3 40h1v1h-1zM4 14h1v1h-1zM6 19h1v1h-1zM6 39h1v1h-1zM6 45h1v1h-1zM6 49h1v1h-1zM8 39h1v1h-1zM8 43h1v1h-1zM9 37h1v2h-1zM10 2h1v1h-1zM10 10h1v1h-1zM10 14h1v1h-1zM10 45h1v1h-1zM11 8h1v1h-1zM11 11h1v1h-1zM11 15h1v1h-1zM11 20h1v1h-1zM12 13h1v1h-1zM12 20h1v2h-1zM12 30h1v1h-1zM12 32h1v1h-1zM12 41h1v2h-1zM12 46h1v1h-1zM13 18h1v2h-1zM13 22h1v2h-1zM13 28h1v1h-1zM13 33h1v1h-1zM13 38h1v1h-1zM13 48h1v1h-1zM14 11h1v1h-1zM14 17h1v3h-1zM14 45h1v2h-1zM14 48h1v1h-1zM15 13h1v1h-1zM15 29h1v1h-1zM15 45h1v1h-1zM18 1h1v2h-1zM18 35h1v1h-1zM18 48h1v1h-1zM19 0h1v1h-1zM19 8h1v1h-1zM19 14h1v1h-1zM19 42h1v1h-1zM21 42h1v2h-1zM22 42h1v1h-1zM22 48h1v1h-1zM23 50h1v1h-1zM24 10h1v2h-1zM24 25h1v2h-1zM24 31h1v1h-1zM24 41h1v1h-1zM24 44h1v3h-1zM24 49h1v2h-1zM25 14h1v1h-1zM26 17h1v2h-1zM26 28h1v3h-1zM26 39h1v1h-1zM26 44h1v2h-1zM26 50h1v1h-1zM28 0h1v1h-1zM28 14h1v2h-1zM28 18h1v1h-1zM29 0h1v1h-1zM29 49h1v1h-1zM30 8h1v2h-1zM30 47h1v1h-1zM30 50h1v1h-1zM31 37h1v2h-1zM32 35h1v1h-1zM34 2h1v1h-1zM34 18h1v1h-1zM34 26h1v1h-1zM34 39h1v1h-1zM35 18h1v1h-1zM35 24h1v1h-1zM35 34h1v2h-1zM35 41h1v1h-1zM36 18h1v1h-1zM38 36h1v2h-1zM38 50h1v2h-1zM40 31h1v1h-1zM40 49h1v1h-1zM41 35h1v1h-1zM42 30h1v1h-1zM43 15h1v1h-1zM43 45h1v2h-1zM44 8h1v1h-1zM44 22h1v1h-1zM44 31h1v1h-1zM45 8h1v1h-1zM46 18h1v2h-1zM46 49h1v1h-1zM47 5h1v1h-1zM47 47h1v1h-1zM48 11h1v1h-1zM48 49h1v1h-1zM49 3h1v1h-1zM49 23h1v1h-1zM49 46h1v5h-1zM50 19h1v1h-1zM50 21h1v1h-1zM50 23h1v1h-1zM50 29h1v1h-1zM50 36h1v4h-1zM50 48h1v2h-1zM51 51h1v1h-1zM52 46h1v2h-1zM52 49h1v1h-1zM54 41h1v2h-1zM55 20h1v2h-1zM55 35h1v1h-1zM55 39h1v2h-1zM56 22h1v1h-1zM56 31h1v2h-1zM56 42h1v1h-1zM56 48h1v4h-1zM57 0h1v1h-1zM57 28h1v1h-1zM57 43h1v3h-1zM57 50h1v1h-1zM58 0h1v1h-1zM58 28h1v1h-1zM58 36h1v1h-1zM58 40h1v1h-1zM60 31h1v1h-1zM60 49h1v1h-1zM61 34h1v1h-1zM63 36h1v2h-1zM63 47h1v1h-1zM64 37h1v1h-1zM64 45h1v2h-1zM65 43h1v1h-1zM65 49h1v3h-1zM67 26h1v1h-1zM67 28h1v1h-1zM67 34h1v2h-1zM67 47h1v2h-1zM68 0h1v1h-1zM68 6h1v1h-1zM68 20h1v1h-1zM69 0h1v1h-1zM69 7h1v1h-1zM69 9h1v2h-1zM69 26h1v1h-1zM69 32h1v1h-1zM70 26h1v1h-1zM71 26h1v3h-1zM71 45h1v1h-1zM72 39h1v1h-1zM77 17h1v1h-1zM77 48h1v1h-1zM77 50h1v1h-1zM78 7h1v1h-1zM79 11h1v2h-1zM79 17h1v1h-1zM80 1h1v1h-1zM80 3h1v1h-1zM80 18h1v2h-1zM80 31h1v1h-1zM81 36h1v1h-1zM82 1h1v2h-1zM82 6h1v2h-1zM82 29h1v1h-1zM82 45h1v1h-1zM83 2h1v1h-1zM83 6h1v1h-1zM83 9h1v2h-1zM83 20h1v1h-1zM83 34h1v3h-1zM84 11h1v2h-1zM84 19h1v2h-1zM84 22h1v1h-1zM84 40h1v1h-1zM84 42h1v1h-1zM84 45h1v1h-1zM84 47h1v1h-1zM84 51h1v1h-1zM86 1h1v1h-1zM86 15h1v1h-1zM86 19h1v1h-1zM86 27h1v1h-1zM86 39h1v1h-1zM86 42h1v1h-1zM86 50h1v1h-1zM87 1h1v2h-1zM87 17h1v3h-1zM89 3h1v2h-1zM90 8h1v1h-1zM90 14h1v2h-1zM90 34h1v1h-1zM90 46h1v1h-1zM91 20h1v1h-1zM91 40h1v2h-1zM91 46h1v4h-1zM92 4h1v1h-1zM92 17h1v2h-1zM92 43h1v3h-1zM93 0h1v1h-1zM93 2h1v1h-1zM93 4h1v3h-1zM93 9h1v1h-1zM93 27h1v2h-1zM94 6h1v1h-1zM96 3h1v2h-1zM96 8h1v3h-1zM96 12h1v1h-1zM96 14h1v1h-1zM96 17h1v1h-1zM96 19h1v1h-1zM96 24h1v1h-1zM96 36h1v1h-1zM96 40h1v4h-1zM96 45h1v2h-1zM97 36h1v3h-1zM97 41h1v3h-1zM97 46h1v2h-1zM98 3h1v2h-1zM98 28h1v1h-1zM98 32h1v2h-1zM98 40h1v2h-1zM99 30h1v1h-1zM101 19h1v1h-1zM101 47h1v1h-1zM102 46h1v1h-1zM103 5h1v1h-1zM103 7h1v1h-1zM103 19h1v1h-1zM103 21h1v1h-1zM104 6h1v1h-1zM105 6h1v3h-1zM105 19h1v1h-1zM105 24h1v1h-1zM105 26h1v1h-1zM105 38h1v1h-1zM105 40h1v3h-1zM106 3h1v1h-1zM106 5h1v3h-1zM106 10h1v3h-1zM106 15h1v1h-1zM106 18h1v1h-1zM106 30h1v1h-1zM106 37h1v3h-1zM107 2h1v2h-1zM107 5h1v5h-1zM107 34h1v1h-1zM107 36h1v2h-1zM107 42h1v3h-1zM107 48h1v1h-1zM108 7h1v3h-1zM108 12h1v1h-1zM109 9h1v1h-1zM109 11h1v1h-1zM109 18h1v1h-1zM109 30h1v3h-1zM112 3h1v2h-1zM112 6h1v1h-1zM112 14h1v1h-1zM112 19h1v1h-1zM113 26h1v2h-1zM113 38h1v2h-1zM113 43h1v1h-1zM113 47h1v1h-1zM114 24h1v1h-1zM114 38h1v1h-1zM114 42h1v1h-1zM114 48h1v1h-1zM115 4h1v1h-1zM118 18h1v1h-1zM118 43h1v2h-1zM120 0h1v1h-1zM120 3h1v2h-1zM120 10h1v1h-1zM120 14h1v1h-1zM120 17h1v1h-1zM120 24h1v2h-1zM120 36h1v4h-1zM121 49h1v1h-1zM122 6h1v1h-1zM122 38h1v2h-1zM122 43h1v1h-1zM123 23h1v1h-1zM124 0h1v1h-1zM124 3h1v2h-1zM124 9h1v1h-1zM124 18h1v1h-1zM124 22h1v2h-1zM124 44h1v1h-1zM124 46h1v1h-1zM124 51h1v1h-1zM125 2h1v2h-1zM125 10h1v1h-1zM125 12h1v1h-1zM125 19h1v1h-1zM125 21h1v1h-1zM125 29h1v1h-1zM125 37h1v1h-1zM125 41h1v3h-1zM125 51h1v1h-1zM126 2h1v1h-1zM126 5h1v1h-1zM126 15h1v1h-1zM126 29h1v1h-1zM126 32h1v1h-1zM126 35h1v4h-1zM126 50h1v1h-1zM127 39h1v1h-1zM127 50h1v1h-1zM129 13h1v1h-1zM129 35h1v1h-1zM129 39h1v2h-1zM129 44h1v2h-1zM129 48h1v2h-1zM131 0h1v1h-1zM131 4h1v1h-1zM131 9h1v2h-1zM131 17h1v1h-1zM131 19h1v1h-1zM131 24h1v2h-1zM131 30h1v1h-1zM133 10h1v2h-1zM133 13h1v1h-1zM133 49h1v3h-1zM136 44h1v1h-1zM138 11h1v1h-1zM138 18h1v1h-1zM138 33h1v1h-1zM138 47h1v1h-1zM139 10h1v1h-1zM140 21h1v1h-1zM141 7h1v1h-1zM141 11h1v2h-1zM142 2h1v2h-1zM142 13h1v1h-1zM144 14h1v2h-1zM144 20h1v1h-1zM144 27h1v1h-1zM144 38h1v2h-1zM144 42h1v2h-1zM146 17h1v1h-1zM146 19h1v2h-1zM146 26h1v4h-1zM146 32h1v4h-1zM147 20h1v3h-1zM149 0h1v1h-1zM149 21h1v2h-1zM149 38h1v2h-1zM149 41h1v2h-1zM150 9h1v2h-1zM150 20h1v1h-1zM150 25h1v2h-1zM150 28h1v4h-1zM150 37h1v1h-1zM150 40h1v1h-1zM151 25h1v3h-1zM151 29h1v3h-1zM153 5h1v2h-1zM153 27h1v1h-1zM153 42h1v2h-1zM153 45h1v3h-1zM155 0h1v1h-1zM155 8h1v1h-1zM155 18h1v1h-1zM156 4h1v1h-1zM156 25h1v1h-1zM157 4h1v1h-1zM157 34h1v1h-1zM157 42h1v1h-1zM157 48h1v1h-1zM158 2h1v3h-1zM158 6h1v2h-1zM158 18h1v2h-1zM158 25h1v2h-1zM158 45h1v2h-1zM158 48h1v1h-1zM158 51h1v1h-1zM160 2h1v1h-1zM160 14h1v2h-1zM160 17h1v2h-1zM160 20h1v1h-1zM160 27h1v3h-1zM160 51h1v1h-1zM161 0h1v1h-1zM161 3h1v1h-1zM161 19h1v1h-1zM162 0h1v1h-1zM162 12h1v1h-1zM162 21h1v1h-1zM162 24h1v2h-1zM165 0h1v1h-1zM165 3h1v2h-1zM165 13h1v3h-1zM165 41h1v1h-1zM165 44h1v1h-1zM165 46h1v2h-1zM166 2h1v1h-1zM166 5h1v7h-1zM166 17h1v1h-1zM166 20h1v2h-1zM166 23h1v1h-1zM166 25h1v1h-1zM166 27h1v3h-1zM166 35h1v2h-1zM166 38h1v2h-1zM166 43h1v2h-1zM166 47h1v1h-1zM167 3h1v1h-1zM168 9h1v1h-1zM170 3h1v3h-1zM170 7h1v2h-1zM172 15h1v1h-1zM172 49h1v1h-1zM174 0h1v1h-1zM174 20h1v1h-1zM174 35h1v2h-1zM174 40h1v1h-1zM174 45h1v2h-1zM175 11h1v1h-1zM175 14h1v2h-1zM175 22h1v1h-1zM175 46h1v1h-1zM177 11h1v1h-1zM177 20h1v2h-1zM177 23h1v1h-1zM177 31h1v3h-1zM177 35h1v1h-1zM177 40h1v1h-1zM180 0h1v1h-1zM180 2h1v1h-1zM180 5h1v1h-1zM180 14h1v1h-1zM180 18h1v3h-1zM180 22h1v1h-1zM180 26h1v4h-1zM180 31h1v1h-1zM180 48h1v2h-1zM181 42h1v2h-1zM182 10h1v1h-1zM182 27h1v1h-1zM184 0h1v1h-1zM184 6h1v2h-1zM184 12h1v1h-1zM184 15h1v1h-1zM184 21h1v2h-1zM184 25h1v4h-1zM184 32h1v2h-1zM184 49h1v1h-1zM185 21h1v1h-1zM186 36h1v1h-1zM186 39h1v1h-1zM186 44h1v1h-1zM187 31h1v1h-1zM187 41h1v1h-1zM187 43h1v1h-1zM188 0h1v1h-1zM188 2h1v1h-1zM188 4h1v2h-1zM188 11h1v1h-1zM188 18h1v2h-1zM188 21h1v1h-1zM188 26h1v2h-1zM188 29h1v1h-1zM188 31h1v1h-1zM188 40h1v2h-1zM188 44h1v2h-1zM189 6h1v2h-1zM189 31h1v1h-1zM189 33h1v1h-1zM189 38h1v4h-1zM189 43h1v1h-1zM189 45h1v2h-1zM189 50h1v1h-1zM191 1h1v1h-1zM191 18h1v2h-1zM193 3h1v5h-1zM193 9h1v2h-1zM194 13h1v3h-1zM194 22h1v1h-1zM194 29h1v1h-1zM194 37h1v1h-1zM194 46h1v1h-1zM194 50h1v1h-1zM195 5h1v1h-1zM195 37h1v2h-1zM196 0h1v2h-1zM196 5h1v2h-1zM196 8h1v1h-1zM196 14h1v1h-1zM196 18h1v1h-1zM196 20h1v1h-1zM196 36h1v3h-1zM196 50h1v2h-1zM197 3h1v1h-1zM197 14h1v2h-1zM197 24h1v3h-1zM197 30h1v1h-1zM197 32h1v2h-1zM197 37h1v1h-1zM197 47h1v1h-1zM199 0h1v1h-1zM201 33h1v1h-1zM202 9h1v1h-1zM202 11h1v4h-1zM202 33h1v5h-1zM202 44h1v1h-1zM202 48h1v1h-1zM202 51h1v1h-1zM203 6h1v2h-1zM210 3h1v2h-1zM210 9h1v1h-1zM210 15h1v1h-1zM210 19h1v1h-1zM210 32h1v1h-1zM210 40h1v3h-1zM210 45h1v1h-1zM210 51h1v1h-1zM213 4h1v1h-1zM213 6h1v1h-1zM213 30h1v1h-1zM213 32h1v1h-1zM213 35h1v1h-1zM215 0h1v1h-1zM215 2h1v2h-1zM216 0h1v1h-1zM216 7h1v3h-1zM220 12h1v1h-1zM220 15h1v1h-1zM220 22h1v1h-1zM222 1h1v1h-1zM222 10h1v1h-1zM224 24h1v1h-1zM224 33h1v1h-1zM224 41h1v1h-1zM224 48h1v2h-1zM225 5h1v1h-1zM225 19h1v2h-1zM225 23h1v2h-1zM225 26h1v1h-1zM225 28h1v1h-1zM225 31h1v2h-1zM225 34h1v1h-1zM225 45h1v1h-1zM226 37h1v1h-1zM226 41h1v1h-1zM226 43h1v2h-1zM227 9h1v1h-1zM227 19h1v1h-1zM227 43h1v1h-1zM228 1h1v1h-1zM228 29h1v2h-1zM228 33h1v1h-1zM228 35h1v1h-1zM228 38h1v1h-1zM229 36h1v1h-1zM229 50h1v2h-1zM230 3h1v1h-1zM230 7h1v1h-1zM230 10h1v2h-1zM230 15h1v1h-1zM230 20h1v1h-1zM230 32h1v2h-1zM230 35h1v1h-1zM230 38h1v1h-1zM231 0h1v1h-1zM231 3h1v2h-1zM231 25h1v1h-1zM231 27h1v2h-1zM233 9h1v2h-1zM235 14h1v1h-1zM235 17h1v2h-1zM235 37h1v2h-1zM235 41h1v1h-1zM236 15h1v1h-1zM236 42h1v1h-1zM236 51h1v1h-1zM237 32h1v2h-1zM239 5h1v1h-1zM239 11h1v1h-1zM239 51h1v1h-1zM241 1h1v2h-1zM241 33h1v2h-1zM242 18h1v2h-1zM243 15h1v1h-1zM243 21h1v2h-1zM243 25h1v1h-1zM244 7h1v1h-1zM244 9h1v1h-1zM244 17h1v2h-1zM244 24h1v1h-1zM244 26h1v1h-1zM244 32h1v2h-1zM245 4h1v1h-1zM245 6h1v1h-1zM246 17h1v2h-1zM246 21h1v2h-1zM246 49h1v1h-1zM246 51h1v1h-1zM248 15h1v1h-1zM248 17h1v2h-1zM248 29h1v1h-1zM248 35h1v3h-1zM248 44h1v1h-1zM248 49h1v1h-1zM250 5h1v1h-1zM250 8h1v1h-1zM250 49h1v1h-1zM254 2h1v1h-1zM254 5h1v1h-1zM257 5h1v1h-1zM257 17h1v1h-1zM258 1h1v1h-1zM258 19h1v2h-1zM258 49h1v2h-1zM259 40h1v1h-1zM259 42h1v1h-1zM259 50h1v1h-1zM261 3h1v1h-1zM261 10h1v1h-1zM261 30h1v1h-1zM261 47h1v1h-1zM262 7h1v2h-1zM262 11h1v2h-1zM262 26h1v2h-1zM263 3h1v2h-1zM263 7h1v2h-1zM263 40h1v1h-1zM264 41h1v3h-1zM265 14h1v2h-1zM265 19h1v1h-1zM265 38h1v1h-1zM267 12h1v1h-1zM268 0h1v2h-1zM268 4h1v1h-1zM268 7h1v1h-1zM268 22h1v1h-1zM268 34h1v1h-1zM268 44h1v2h-1zM269 26h1v1h-1zM269 32h1v2h-1zM269 50h1v1h-1zM270 5h1v2h-1zM270 24h1v2h-1zM270 27h1v1h-1zM271 25h1v4h-1zM271 30h1v1h-1zM272 2h1v1h-1zM272 4h1v1h-1zM272 10h1v1h-1zM272 17h1v1h-1zM272 39h1v1h-1zM273 9h1v1h-1zM273 11h1v1h-1zM273 24h1v3h-1zM273 32h1v1h-1zM273 34h1v1h-1zM273 47h1v1h-1zM273 51h1v1h-1zM274 24h1v1h-1zM274 26h1v1h-1zM275 9h1v1h-1zM281 31h1v1h-1zM282 3h1v1h-1zM282 6h1v1h-1zM283 33h1v1h-1zM283 35h1v1h-1zM284 17h1v1h-1zM284 33h1v1h-1zM284 35h1v1h-1zM284 39h1v1h-1zM284 45h1v1h-1zM284 48h1v2h-1zM285 2h1v2h-1zM285 8h1v1h-1zM285 14h1v2h-1zM285 20h1v1h-1zM285 32h1v1h-1zM285 47h1v1h-1zM285 49h1v1h-1zM285 51h1v1h-1zM286 13h1v1h-1zM286 23h1v1h-1zM286 25h1v4h-1zM286 34h1v1h-1zM286 42h1v3h-1zM286 46h1v2h-1zM286 50h1v1h-1zM287 30h1v1h-1zM289 20h1v3h-1zM289 32h1v1h-1zM291 43h1v2h-1zM292 9h1v1h-1zM292 11h1v1h-1zM292 24h1v1h-1zM292 26h1v1h-1zM295 0h1v2h-1zM295 6h1v1h-1zM295 8h1v1h-1zM295 11h1v1h-1zM295 28h1v1h-1zM296 15h1v1h-1zM296 37h1v1h-1zM297 0h1v2h-1zM297 13h1v1h-1zM297 22h1v2h-1zM298 44h1v1h-1zM299 24h1v1h-1zM299 30h1v1h-1zM299 46h1v1h-1zM300 10h1v1h-1zM300 12h1v2h-1zM300 15h1v1h-1zM303 17h1v2h-1zM303 28h1v1h-1zM303 38h1v1h-1zM311 32h1v2h-1zM312 1h1v2h-1zM312 19h1v4h-1zM312 25h1v1h-1zM312 31h1v2h-1zM312 34h1v1h-1zM312 43h1v2h-1zM313 15h1v1h-1zM313 22h1v1h-1zM313 24h1v1h-1zM313 26h1v2h-1zM314 6h1v4h-1zM314 15h1v1h-1zM314 29h1v1h-1zM315 13h1v2h-1zM315 27h1v1h-1zM316 0h1v1h-1zM317 7h1v1h-1zM317 30h1v1h-1zM317 33h1v1h-1zM317 39h1v1h-1zM317 49h1v1h-1zM319 5h1v1h-1zM319 8h1v2h-1zM319 42h1v2h-1zM319 45h1v1h-1zM319 48h1v1h-1zM319 51h1v1h-1zM321 12h1v2h-1zM322 1h1v1h-1zM322 47h1v2h-1zM322 50h1v1h-1zM323 24h1v1h-1zM323 36h1v3h-1zM323 40h1v2h-1zM323 43h1v2h-1zM323 47h1v2h-1zM324 27h1v1h-1zM324 30h1v1h-1zM324 48h1v1h-1zM324 51h1v1h-1zM325 6h1v2h-1zM325 10h1v1h-1zM325 20h1v1h-1zM325 25h1v2h-1zM325 44h1v1h-1zM326 12h1v1h-1zM326 14h1v1h-1zM326 21h1v1h-1zM326 26h1v4h-1zM326 46h1v3h-1zM326 50h1v1h-1zM327 21h1v1h-1zM327 23h1v2h-1zM327 28h1v2h-1zM328 37h1v1h-1zM328 39h1v1h-1zM329 0h1v1h-1zM329 15h1v1h-1zM329 27h1v1h-1zM330 23h1v2h-1zM331 19h1v1h-1zM331 21h1v2h-1zM331 48h1v1h-1zM332 13h1v1h-1zM332 23h1v1h-1zM332 27h1v3h-1zM332 37h1v1h-1zM332 39h1v1h-1zM332 44h1v1h-1zM332 46h1v1h-1zM332 49h1v1h-1zM333 0h1v3h-1zM333 10h1v1h-1zM333 15h1v1h-1zM333 36h1v1h-1zM334 1h1v1h-1zM334 7h1v1h-1zM334 17h1v1h-1zM334 19h1v1h-1zM334 36h1v2h-1zM334 43h1v1h-1zM334 45h1v1h-1zM335 2h1v2h-1zM335 13h1v1h-1zM335 31h1v1h-1zM339 8h1v1h-1zM339 11h1v1h-1zM339 13h1v3h-1zM340 3h1v1h-1zM340 14h1v2h-1zM340 50h1v1h-1zM341 0h1v1h-1zM341 4h1v1h-1zM341 8h1v1h-1zM341 15h1v1h-1zM342 20h1v1h-1zM343 7h1v1h-1zM343 38h1v3h-1zM343 45h1v1h-1zM344 21h1v1h-1zM344 23h1v2h-1zM345 46h1v3h-1zM346 12h1v1h-1zM346 50h1v1h-1zM347 0h1v1h-1zM347 5h1v1h-1zM347 34h1v1h-1zM347 36h1v1h-1zM347 39h1v1h-1zM347 43h1v2h-1zM347 46h1v1h-1zM347 48h1v1h-1zM347 50h1v2h-1zM348 8h1v1h-1zM348 10h1v1h-1zM348 18h1v1h-1zM348 20h1v1h-1zM348 47h1v1h-1zM348 50h1v1h-1zM349 11h1v1h-1zM350 12h1v1h-1zM350 14h1v1h-1zM350 28h1v1h-1zM350 35h1v1h-1zM350 37h1v1h-1zM350 39h1v1h-1zM350 48h1v1h-1zM351 3h1v1h-1zM351 5h1v1h-1zM351 7h1v1h-1zM351 21h1v1h-1zM351 24h1v2h-1zM351 27h1v1h-1zM351 29h1v1h-1zM351 32h1v1h-1zM351 48h1v1h-1zM352 1h1v1h-1zM352 12h1v1h-1zM352 15h1v1h-1zM352 26h1v1h-1zM352 28h1v1h-1zM353 8h1v3h-1zM353 13h1v3h-1zM355 3h1v1h-1zM355 6h1v1h-1zM355 9h1v2h-1zM355 15h1v1h-1zM356 7h1v1h-1zM356 28h1v3h-1zM357 10h1v1h-1zM358 30h1v2h-1zM358 48h1v1h-1zM361 9h1v1h-1zM361 12h1v2h-1zM361 26h1v1h-1zM361 39h1v1h-1zM361 41h1v1h-1zM363 1h1v1h-1zM363 4h1v2h-1zM363 11h1v2h-1zM363 14h1v1h-1zM363 18h1v1h-1zM363 28h1v1h-1zM363 31h1v2h-1z"/>
<path fill="#79CC00" d="M0 41h1v1h-1zM1 5h1v1h-1zM1 8h1v1h-1zM1 31h1v1h-1zM1 48h1v1h-1zM6 14h1v1h-1zM6 18h1v1h-1zM6 47h1v1h-1zM8 27h1v1h-1zM8 51h1v1h-1zM9 24h1v1h-1zM10 1h1v1h-1zM11 23h1v1h-1zM11 43h1v1h-1zM12 9h1v1h-1zM12 49h1v3h-1zM17 2h1v1h-1zM17 46h1v2h-1zM18 7h1v1h-1zM18 51h1v1h-1zM22 34h1v1h-1zM23 41h1v1h-1zM24 33h1v1h-1zM28 50h1v2h-1zM30 21h1v1h-1zM31 29h1v1h-1zM32 29h1v2h-1zM32 45h1v1h-1zM33 45h1v1h-1zM34 19h1v1h-1zM34 21h1v2h-1zM35 33h1v1h-1zM35 38h1v1h-1zM36 27h1v1h-1zM38 34h1v2h-1zM38 43h1v2h-1zM40 47h1v2h-1zM40 51h1v1h-1zM44 37h1v1h-1zM45 19h1v1h-1zM46 33h1v1h-1zM46 42h1v1h-1zM47 1h1v1h-1zM47 48h1v1h-1zM48 12h1v1h-1zM50 7h1v1h-1zM50 45h1v1h-1zM51 48h1v1h-1zM52 43h1v1h-1zM52 51h1v1h-1zM53 42h1v1h-1zM55 23h1v1h-1zM56 23h1v1h-1zM57 31h1v1h-1zM58 25h1v1h-1zM58 38h1v1h-1zM58 42h1v1h-1zM59 39h1v1h-1zM60 37h1v1h-1zM60 41h1v1h-1zM63 33h1v1h-1zM63 38h1v1h-1zM63 43h1v2h-1zM64 23h1v1h-1zM64 44h1v1h-1zM66 47h1v1h-1zM70 47h1v2h-1zM71 5h1v1h-1zM77 1h1v1h-1zM77 19h1v3h-1zM78 1h1v1h-1zM80 23h1v1h-1zM81 0h1v2h-1zM81 47h1v1h-1zM81 50h1v1h-1zM82 30h1v1h-1zM83 3h1v1h-1zM83 8h1v1h-1zM83 13h1v1h-1zM83 15h1v1h-1zM83 31h1v1h-1zM83 42h1v1h-1zM84 10h1v1h-1zM84 17h1v1h-1zM84 25h1v1h-1zM84 44h1v1h-1zM84 49h1v1h-1zM86 43h1v1h-1zM86 47h1v2h-1zM87 23h1v1h-1zM88 21h1v1h-1zM88 32h1v1h-1zM88 41h1v1h-1zM89 5h1v2h-1zM90 48h1v1h-1zM91 50h1v1h-1zM92 11h1v1h-1zM92 40h1v1h-1zM92 47h1v1h-1zM93 13h1v1h-1zM93 31h1v1h-1zM93 33h1v1h-1zM93 42h1v1h-1zM96 20h1v2h-1zM96 38h1v1h-1zM96 51h1v1h-1zM97 39h1v1h-1zM98 1h1v1h-1zM98 5h1v1h-1zM98 7h1v1h-1zM98 10h1v1h-1zM98 31h1v1h-1zM99 31h1v1h-1zM101 6h1v1h-1zM101 32h1v1h-1zM101 41h1v1h-1zM103 34h1v1h-1zM105 4h1v1h-1zM105 13h1v1h-1zM105 46h1v1h-1zM106 26h1v1h-1zM108 2h1v1h-1zM108 10h1v1h-1zM108 51h1v1h-1zM113 10h1v1h-1zM114 41h1v1h-1zM115 49h1v3h-1zM118 25h1v1h-1zM118 47h1v2h-1zM120 13h1v1h-1zM120 19h1v1h-1zM120 48h1v1h-1zM122 12h1v1h-1zM122 17h1v1h-1zM124 7h1v1h-1zM124 20h1v1h-1zM124 24h1v1h-1zM125 1h1v1h-1zM125 20h1v1h-1zM125 31h1v1h-1zM125 50h1v1h-1zM126 39h1v1h-1zM126 44h1v1h-1zM127 43h1v1h-1zM127 46h1v1h-1zM128 20h1v1h-1zM129 41h1v1h-1zM129 46h1v1h-1zM131 20h1v2h-1zM131 23h1v1h-1zM131 31h1v1h-1zM133 9h1v1h-1zM138 24h1v4h-1zM138 29h1v1h-1zM142 5h1v1h-1zM144 9h1v1h-1zM144 11h1v3h-1zM144 28h1v1h-1zM145 25h1v1h-1zM146 31h1v1h-1zM147 23h1v1h-1zM149 28h1v1h-1zM149 30h1v1h-1zM149 40h1v1h-1zM149 47h1v1h-1zM149 51h1v1h-1zM150 32h1v1h-1zM150 34h1v1h-1zM150 44h1v1h-1zM150 46h1v4h-1zM151 23h1v1h-1zM156 12h1v1h-1zM157 2h1v1h-1zM157 15h1v1h-1zM158 1h1v1h-1zM158 9h1v3h-1zM158 13h1v1h-1zM158 33h1v1h-1zM158 35h1v1h-1zM160 3h1v1h-1zM160 25h1v1h-1zM160 43h1v1h-1zM165 8h1v2h-1zM165 17h1v7h-1zM165 25h1v1h-1zM165 27h1v7h-1zM166 26h1v1h-1zM169 19h1v1h-1zM170 6h1v1h-1zM172 13h1v1h-1zM174 30h1v2h-1zM174 44h1v1h-1zM175 7h1v2h-1zM175 26h1v1h-1zM175 44h1v1h-1zM177 12h1v4h-1zM177 18h1v1h-1zM177 27h1v4h-1zM180 35h1v1h-1zM181 41h1v1h-1zM182 5h1v4h-1zM182 13h1v2h-1zM183 0h1v3h-1zM184 10h1v1h-1zM184 18h1v1h-1zM187 40h1v1h-1zM187 44h1v1h-1zM187 47h1v1h-1zM187 50h1v1h-1zM188 13h1v2h-1zM188 23h1v1h-1zM188 33h1v3h-1zM188 42h1v2h-1zM189 8h1v1h-1zM189 12h1v1h-1zM189 26h1v1h-1zM189 36h1v1h-1zM190 7h1v1h-1zM190 9h1v1h-1zM192 33h1v1h-1zM193 8h1v1h-1zM193 12h1v1h-1zM193 28h1v1h-1zM193 37h1v1h-1zM194 4h1v1h-1zM194 19h1v1h-1zM194 23h1v1h-1zM194 51h1v1h-1zM195 10h1v1h-1zM195 22h1v1h-1zM196 4h1v1h-1zM196 10h1v1h-1zM196 12h1v1h-1zM196 21h1v1h-1zM197 12h1v2h-1zM197 18h1v1h-1zM197 20h1v1h-1zM197 48h1v3h-1zM198 19h1v1h-1zM198 22h1v1h-1zM198 27h1v1h-1zM201 21h1v1h-1zM202 5h1v1h-1zM202 15h1v1h-1zM202 50h1v1h-1zM203 9h1v1h-1zM206 32h1v4h-1zM210 29h1v1h-1zM210 31h1v1h-1zM210 35h1v3h-1zM210 43h1v1h-1zM211 3h1v1h-1zM211 5h1v2h-1zM211 9h1v1h-1zM213 37h1v1h-1zM216 10h1v1h-1zM217 8h1v1h-1zM220 0h1v2h-1zM220 3h1v1h-1zM221 19h1v2h-1zM222 12h1v1h-1zM224 20h1v3h-1zM225 3h1v1h-1zM225 46h1v1h-1zM225 50h1v1h-1zM226 20h1v1h-1zM227 0h1v1h-1zM227 2h1v3h-1zM227 6h1v2h-1zM227 40h1v1h-1zM228 32h1v1h-1zM228 40h1v1h-1zM229 1h1v1h-1zM229 20h1v2h-1zM229 39h1v2h-1zM229 42h1v2h-1zM229 48h1v2h-1zM230 1h1v1h-1zM231 31h1v1h-1zM233 24h1v1h-1zM236 4h1v1h-1zM239 12h1v1h-1zM239 15h1v1h-1zM239 21h1v2h-1zM239 50h1v1h-1zM241 20h1v1h-1zM241 45h1v1h-1zM243 49h1v2h-1zM244 42h1v1h-1zM250 47h1v1h-1zM250 50h1v1h-1zM257 0h1v3h-1zM257 7h1v1h-1zM257 9h1v1h-1zM257 28h1v4h-1zM258 23h1v1h-1zM258 25h1v2h-1zM258 43h1v2h-1zM259 41h1v1h-1zM260 17h1v2h-1zM260 20h1v1h-1zM264 10h1v1h-1zM264 51h1v1h-1zM265 0h1v1h-1zM265 2h1v1h-1zM265 4h1v1h-1zM265 7h1v1h-1zM265 21h1v2h-1zM265 27h1v1h-1zM265 32h1v1h-1zM265 37h1v1h-1zM265 39h1v1h-1zM267 4h1v1h-1zM268 33h1v1h-1zM270 7h1v1h-1zM270 17h1v1h-1zM270 30h1v1h-1zM270 34h1v2h-1zM271 14h1v2h-1zM271 17h1v2h-1zM271 20h1v2h-1zM272 15h1v1h-1zM273 35h1v3h-1zM273 42h1v1h-1zM273 49h1v1h-1zM274 15h1v1h-1zM274 48h1v1h-1zM275 10h1v4h-1zM275 48h1v2h-1zM281 13h1v2h-1zM281 28h1v1h-1zM281 32h1v1h-1zM284 7h1v1h-1zM284 20h1v1h-1zM284 31h1v1h-1zM284 44h1v1h-1zM284 50h1v1h-1zM285 9h1v2h-1zM286 12h1v1h-1zM290 38h1v4h-1zM292 2h1v1h-1zM292 5h1v1h-1zM292 10h1v1h-1zM292 20h1v2h-1zM297 14h1v1h-1zM297 19h1v1h-1zM298 36h1v1h-1zM299 5h1v1h-1zM299 12h1v1h-1zM299 17h1v1h-1zM299 25h1v1h-1zM299 50h1v1h-1zM300 11h1v1h-1zM301 17h1v1h-1zM303 15h1v1h-1zM303 29h1v8h-1zM307 46h1v1h-1zM311 36h1v1h-1zM312 8h1v1h-1zM312 24h1v1h-1zM312 30h1v1h-1zM312 37h1v1h-1zM312 39h1v1h-1zM312 51h1v1h-1zM314 5h1v1h-1zM314 25h1v1h-1zM314 31h1v1h-1zM317 36h1v1h-1zM318 15h1v1h-1zM318 17h1v2h-1zM318 22h1v1h-1zM318 46h1v3h-1zM318 50h1v1h-1zM319 1h1v2h-1zM319 4h1v1h-1zM319 13h1v1h-1zM322 49h1v1h-1zM323 25h1v1h-1zM323 35h1v1h-1zM323 42h1v1h-1zM324 34h1v1h-1zM324 49h1v1h-1zM325 2h1v1h-1zM325 4h1v1h-1zM325 11h1v2h-1zM325 17h1v1h-1zM326 25h1v1h-1zM327 2h1v1h-1zM327 22h1v1h-1zM327 26h1v2h-1zM327 30h1v1h-1zM329 3h1v1h-1zM330 17h1v1h-1zM331 5h1v1h-1zM331 47h1v1h-1zM332 24h1v1h-1zM332 47h1v1h-1zM333 4h1v1h-1zM333 8h1v2h-1zM333 12h1v1h-1zM334 10h1v3h-1zM335 9h1v1h-1zM335 11h1v2h-1zM335 14h1v1h-1zM335 18h1v1h-1zM335 20h1v1h-1zM335 23h1v1h-1zM335 37h1v1h-1zM336 8h1v1h-1zM337 14h1v1h-1zM339 0h1v1h-1zM339 3h1v1h-1zM340 5h1v1h-1zM340 7h1v2h-1zM340 10h1v1h-1zM340 12h1v1h-1zM341 5h1v1h-1zM341 13h1v1h-1zM341 32h1v1h-1zM343 18h1v1h-1zM343 43h1v1h-1zM344 5h1v1h-1zM344 43h1v1h-1zM345 28h1v1h-1zM347 35h1v1h-1zM348 23h1v1h-1zM348 51h1v1h-1zM349 14h1v1h-1zM350 0h1v1h-1zM350 11h1v1h-1zM350 43h1v2h-1zM351 4h1v1h-1zM351 13h1v1h-1zM351 17h1v1h-1zM351 31h1v1h-1zM351 43h1v2h-1zM352 9h1v1h-1zM352 13h1v1h-1zM352 18h1v1h-1zM352 31h1v1h-1zM354 30h1v1h-1zM355 5h1v1h-1zM355 11h1v3h-1zM355 19h1v1h-1zM356 10h1v3h-1zM356 18h1v1h-1zM357 3h1v3h-1zM358 42h1v1h-1zM358 46h1v1h-1zM359 4h1v2h-1zM361 3h1v1h-1zM361 5h1v1h-1zM361 50h1v1h-1zM363 29h1v2h-1z"/>
<path fill="#9ED500" d="M1 33h1v1h-1zM2 26h1v1h-1zM4 15h1v1h-1zM8 40h1v1h-1zM9 19h1v1h-1zM9 45h1v1h-1zM11 25h1v1h-1zM13 20h1v1h-1zM13 34h1v1h-1zM15 19h1v2h-1zM18 44h1v1h-1zM21 38h1v2h-1zM23 17h1v1h-1zM25 19h1v1h-1zM27 35h1v1h-1zM27 44h1v1h-1zM29 15h1v1h-1zM30 10h1v1h-1zM30 38h1v1h-1zM35 14h1v1h-1zM36 28h1v1h-1zM38 45h1v1h-1zM44 47h1v1h-1zM46 51h1v1h-1zM47 9h1v1h-1zM47 18h1v1h-1zM49 12h1v1h-1zM50 43h1v1h-1zM51 44h1v1h-1zM52 27h1v1h-1zM58 46h1v1h-1zM61 46h1v1h-1zM62 37h1v1h-1zM64 51h1v1h-1zM68 51h1v1h-1zM77 2h1v1h-1zM77 7h1v1h-1zM77 51h1v1h-1zM80 21h1v1h-1zM80 51h1v1h-1zM82 0h1v1h-1zM82 4h1v2h-1zM82 13h1v1h-1zM82 27h1v1h-1zM82 46h1v2h-1zM83 38h1v1h-1zM86 26h1v1h-1zM86 51h1v1h-1zM88 3h1v1h-1zM88 6h1v1h-1zM88 46h1v1h-1zM89 15h1v1h-1zM90 2h1v1h-1zM90 20h1v1h-1zM90 31h1v1h-1zM90 40h1v1h-1zM91 21h1v1h-1zM91 42h1v1h-1zM91 45h1v1h-1zM92 0h1v1h-1zM92 13h1v1h-1zM93 23h1v1h-1zM93 40h1v1h-1zM94 36h1v1h-1zM96 6h1v1h-1zM96 18h1v1h-1zM96 30h1v1h-1zM96 33h1v1h-1zM102 33h1v2h-1zM102 50h1v1h-1zM106 2h1v1h-1zM108 4h1v1h-1zM109 33h1v1h-1zM110 1h1v1h-1zM112 5h1v1h-1zM112 8h1v1h-1zM112 17h1v1h-1zM112 48h1v1h-1zM115 2h1v1h-1zM120 8h1v1h-1zM120 12h1v1h-1zM120 44h1v1h-1zM121 14h1v1h-1zM122 0h1v1h-1zM124 1h1v1h-1zM124 28h1v1h-1zM124 50h1v1h-1zM125 11h1v1h-1zM126 18h1v1h-1zM126 22h1v1h-1zM126 48h1v1h-1zM127 35h1v1h-1zM129 8h1v1h-1zM131 13h1v1h-1zM131 32h1v1h-1zM134 48h1v1h-1zM138 6h1v1h-1zM138 9h1v1h-1zM141 10h1v1h-1zM142 11h1v1h-1zM145 14h1v1h-1zM146 21h1v1h-1zM147 1h1v1h-1zM149 15h1v1h-1zM149 23h1v1h-1zM149 26h1v2h-1zM149 36h1v1h-1zM149 50h1v1h-1zM150 4h1v1h-1zM151 35h1v2h-1zM155 20h1v1h-1zM156 1h1v1h-1zM156 23h1v2h-1zM157 14h1v1h-1zM158 24h1v1h-1zM159 30h1v1h-1zM160 46h1v1h-1zM161 2h1v1h-1zM165 10h1v1h-1zM165 43h1v1h-1zM167 2h1v1h-1zM167 7h1v1h-1zM169 18h1v1h-1zM172 37h1v1h-1zM174 48h1v1h-1zM177 8h1v1h-1zM177 38h1v1h-1zM177 42h1v1h-1zM180 3h1v1h-1zM181 4h1v1h-1zM182 0h1v1h-1zM184 47h1v1h-1zM185 40h1v1h-1zM186 37h1v2h-1zM186 51h1v1h-1zM188 22h1v1h-1zM188 51h1v1h-1zM189 49h1v1h-1zM190 6h1v1h-1zM192 14h1v1h-1zM192 38h1v1h-1zM192 44h1v1h-1zM194 0h1v1h-1zM194 9h1v2h-1zM195 23h1v1h-1zM196 7h1v1h-1zM196 23h1v1h-1zM198 18h1v1h-1zM198 20h1v1h-1zM202 6h1v1h-1zM202 46h1v1h-1zM203 13h1v1h-1zM210 7h1v1h-1zM210 49h1v1h-1zM211 7h1v1h-1zM213 12h1v1h-1zM213 27h1v1h-1zM217 11h1v1h-1zM217 17h1v1h-1zM221 14h1v1h-1zM224 30h1v1h-1zM224 42h1v1h-1zM225 25h1v1h-1zM226 45h1v1h-1zM227 8h1v1h-1zM230 8h1v1h-1zM231 1h1v1h-1zM236 24h1v1h-1zM236 32h1v1h-1zM239 32h1v1h-1zM242 2h1v1h-1zM242 14h1v1h-1zM243 0h1v1h-1zM244 10h1v1h-1zM244 21h1v1h-1zM245 2h1v2h-1zM250 46h1v1h-1zM254 4h1v1h-1zM255 38h1v1h-1zM258 13h1v1h-1zM258 28h1v1h-1zM258 30h1v1h-1zM258 45h1v1h-1zM259 30h1v1h-1zM260 23h1v1h-1zM260 48h1v1h-1zM262 39h1v2h-1zM263 42h1v1h-1zM264 13h1v1h-1zM264 31h1v1h-1zM264 37h1v1h-1zM264 48h1v1h-1zM265 26h1v1h-1zM267 5h1v1h-1zM268 8h1v1h-1zM268 20h1v1h-1zM271 19h1v1h-1zM272 18h1v1h-1zM272 22h1v1h-1zM273 39h1v1h-1zM274 1h1v1h-1zM274 25h1v1h-1zM282 2h1v1h-1zM284 36h1v1h-1zM284 42h1v1h-1zM285 6h1v1h-1zM286 31h1v1h-1zM292 1h1v1h-1zM292 17h1v1h-1zM292 28h1v1h-1zM292 33h1v1h-1zM300 17h1v1h-1zM303 9h1v1h-1zM303 22h1v1h-1zM304 0h1v1h-1zM307 9h1v1h-1zM312 6h1v1h-1zM313 5h1v1h-1zM318 37h1v1h-1zM322 45h1v1h-1zM323 18h1v1h-1zM324 39h1v1h-1zM325 5h1v1h-1zM325 15h1v1h-1zM325 38h1v1h-1zM327 0h1v1h-1zM329 25h1v1h-1zM330 22h1v1h-1zM331 3h1v1h-1zM332 10h1v1h-1zM332 38h1v1h-1zM333 3h1v1h-1zM334 13h1v1h-1zM335 6h1v1h-1zM335 25h1v1h-1zM335 39h1v1h-1zM340 32h1v1h-1zM341 9h1v1h-1zM341 28h1v1h-1zM343 23h1v1h-1zM343 46h1v1h-1zM348 2h1v1h-1zM349 13h1v1h-1zM349 42h1v1h-1zM350 6h1v1h-1zM350 29h1v2h-1zM351 2h1v1h-1zM351 20h1v1h-1zM351 23h1v1h-1zM351 42h1v1h-1zM355 29h1v1h-1zM358 32h1v1h-1zM358 43h1v2h-1zM359 3h1v1h-1zM359 15h1v1h-1zM363 3h1v1h-1z"/>
<path fill="#DBE300" d="M1 41h1v1h-1zM1 47h1v1h-1zM3 18h1v1h-1zM5 2h1v1h-1zM5 32h1v1h-1zM6 8h1v1h-1zM6 21h1v1h-1zM6 51h1v1h-1zM7 2h1v1h-1zM7 5h1v1h-1zM7 7h1v1h-1zM7 11h1v1h-1zM7 14h1v2h-1zM7 19h1v1h-1zM7 21h1v1h-1zM7 29h1v2h-1zM7 35h1v2h-1zM7 45h1v3h-1zM9 3h1v2h-1zM9 10h1v1h-1zM9 17h1v1h-1zM9 21h1v1h-1zM9 30h1v1h-1zM9 43h1v1h-1zM10 20h1v1h-1zM10 31h1v1h-1zM10 48h1v1h-1zM11 33h1v1h-1zM11 49h1v1h-1zM13 0h1v2h-1zM13 10h1v1h-1zM13 35h1v2h-1zM14 13h1v1h-1zM14 29h1v2h-1zM14 36h1v1h-1zM14 38h1v1h-1zM14 49h1v1h-1zM16 10h1v2h-1zM16 21h1v1h-1zM16 24h1v2h-1zM16 27h1v1h-1zM16 37h1v2h-1zM17 11h1v1h-1zM17 21h1v1h-1zM17 25h1v1h-1zM17 29h1v3h-1zM17 39h1v4h-1zM18 6h1v1h-1zM18 10h1v1h-1zM18 12h1v1h-1zM18 17h1v1h-1zM18 24h1v1h-1zM18 41h1v1h-1zM20 32h1v1h-1zM21 15h1v1h-1zM21 27h1v1h-1zM21 29h1v2h-1zM22 0h1v1h-1zM22 8h1v1h-1zM22 13h1v1h-1zM22 18h1v2h-1zM22 22h1v2h-1zM22 32h1v1h-1zM23 3h1v1h-1zM23 6h1v1h-1zM23 27h1v1h-1zM23 29h1v1h-1zM25 2h1v1h-1zM25 7h1v1h-1zM25 12h1v1h-1zM25 24h1v1h-1zM25 26h1v1h-1zM25 31h1v2h-1zM25 35h1v1h-1zM25 37h1v1h-1zM25 39h1v1h-1zM25 43h1v1h-1zM25 47h1v1h-1zM25 50h1v1h-1zM26 22h1v1h-1zM28 9h1v1h-1zM28 12h1v1h-1zM28 41h1v1h-1zM28 49h1v1h-1zM29 7h1v1h-1zM29 20h1v1h-1zM31 1h1v1h-1zM31 5h1v1h-1zM31 8h1v1h-1zM31 10h1v1h-1zM31 12h1v1h-1zM31 25h1v1h-1zM31 33h1v1h-1zM31 51h1v1h-1zM32 0h1v1h-1zM32 3h1v1h-1zM32 13h1v2h-1zM32 17h1v2h-1zM32 23h1v1h-1zM32 32h1v1h-1zM36 4h1v1h-1zM36 7h1v1h-1zM36 10h1v2h-1zM36 15h1v1h-1zM36 25h1v1h-1zM36 34h1v2h-1zM36 39h1v1h-1zM37 2h1v1h-1zM37 7h1v1h-1zM37 11h1v1h-1zM38 3h1v1h-1zM38 5h1v1h-1zM38 26h1v1h-1zM38 31h1v1h-1zM39 7h1v1h-1zM39 10h1v1h-1zM39 15h1v1h-1zM39 25h1v1h-1zM39 27h1v1h-1zM39 34h1v1h-1zM39 38h1v1h-1zM39 41h1v1h-1zM40 9h1v1h-1zM40 17h1v1h-1zM40 25h1v2h-1zM40 29h1v2h-1zM40 38h1v1h-1zM41 4h1v1h-1zM41 6h1v1h-1zM41 15h1v1h-1zM41 20h1v2h-1zM41 34h1v1h-1zM42 23h1v1h-1zM42 48h1v1h-1zM42 51h1v1h-1zM43 33h1v1h-1zM44 11h1v1h-1zM44 13h1v1h-1zM44 18h1v1h-1zM44 25h1v1h-1zM44 38h1v1h-1zM44 43h1v1h-1zM45 3h1v1h-1zM45 5h1v1h-1zM46 6h1v1h-1zM46 24h1v1h-1zM46 27h1v2h-1zM46 36h1v1h-1zM46 39h1v2h-1zM47 3h1v2h-1zM47 22h1v2h-1zM47 33h1v1h-1zM47 39h1v1h-1zM48 24h1v1h-1zM48 27h1v1h-1zM48 41h1v1h-1zM49 5h1v1h-1zM49 15h1v1h-1zM49 21h1v1h-1zM49 31h1v1h-1zM49 35h1v1h-1zM49 42h1v1h-1zM51 18h1v1h-1zM51 23h1v1h-1zM51 25h1v1h-1zM51 28h1v1h-1zM51 35h1v1h-1zM51 40h1v2h-1zM52 5h1v2h-1zM52 13h1v1h-1zM52 39h1v1h-1zM54 11h1v1h-1zM54 17h1v1h-1zM54 19h1v1h-1zM54 29h1v1h-1zM54 32h1v1h-1zM55 3h1v1h-1zM55 6h1v1h-1zM55 34h1v1h-1zM55 46h1v1h-1zM55 49h1v1h-1zM56 3h1v3h-1zM56 14h1v1h-1zM56 30h1v1h-1zM56 37h1v1h-1zM56 47h1v1h-1zM59 0h1v2h-1zM59 3h1v1h-1zM59 5h1v2h-1zM59 21h1v1h-1zM59 23h1v1h-1zM59 36h1v1h-1zM62 2h1v1h-1zM62 12h1v1h-1zM62 22h1v2h-1zM62 27h1v1h-1zM64 1h1v1h-1zM64 8h1v1h-1zM64 10h1v1h-1zM64 39h1v3h-1zM65 47h1v1h-1zM66 10h1v1h-1zM66 14h1v1h-1zM66 25h1v1h-1zM66 38h1v1h-1zM67 2h1v1h-1zM67 13h1v2h-1zM67 17h1v1h-1zM67 19h1v1h-1zM67 21h1v1h-1zM67 31h1v1h-1zM68 4h1v1h-1zM68 7h1v1h-1zM68 13h1v1h-1zM68 26h1v1h-1zM68 35h1v2h-1zM68 38h1v1h-1zM68 40h1v1h-1zM69 5h1v1h-1zM69 18h1v1h-1zM69 21h1v1h-1zM69 24h1v1h-1zM69 34h1v2h-1zM70 12h1v1h-1zM70 15h1v1h-1zM70 20h1v1h-1zM70 22h1v2h-1zM70 25h1v1h-1zM70 27h1v3h-1zM70 39h1v1h-1zM70 41h1v1h-1zM71 1h1v1h-1zM71 3h1v1h-1zM71 10h1v1h-1zM71 13h1v1h-1zM71 19h1v1h-1zM71 25h1v1h-1zM71 30h1v1h-1zM71 33h1v1h-1zM71 36h1v1h-1zM71 41h1v1h-1zM76 4h1v2h-1zM76 15h1v1h-1zM84 6h1v1h-1zM84 24h1v1h-1zM84 30h1v1h-1zM84 37h1v2h-1zM85 46h1v1h-1zM87 4h1v1h-1zM87 7h1v1h-1zM87 9h1v2h-1zM87 14h1v1h-1zM87 24h1v3h-1zM87 29h1v1h-1zM87 32h1v1h-1zM87 35h1v1h-1zM87 40h1v1h-1zM87 43h1v5h-1zM88 9h1v1h-1zM88 43h1v1h-1zM88 45h1v1h-1zM89 0h1v2h-1zM89 18h1v1h-1zM89 28h1v4h-1zM89 33h1v1h-1zM89 35h1v1h-1zM89 45h1v6h-1zM91 11h1v1h-1zM91 13h1v1h-1zM95 15h1v1h-1zM95 18h1v1h-1zM95 24h1v2h-1zM95 27h1v1h-1zM97 8h1v2h-1zM97 13h1v1h-1zM97 15h1v1h-1zM97 17h1v6h-1zM97 24h1v1h-1zM97 27h1v1h-1zM97 29h1v1h-1zM99 43h1v1h-1zM108 23h1v2h-1zM108 43h1v1h-1zM109 42h1v1h-1zM112 46h1v1h-1zM114 18h1v2h-1zM114 46h1v1h-1zM117 4h1v2h-1zM117 26h1v4h-1zM121 30h1v1h-1zM121 33h1v1h-1zM121 41h1v1h-1zM121 43h1v2h-1zM121 50h1v2h-1zM122 25h1v1h-1zM122 29h1v4h-1zM122 49h1v1h-1zM123 0h1v1h-1zM123 10h1v2h-1zM128 1h1v2h-1zM128 8h1v1h-1zM128 11h1v5h-1zM128 21h1v1h-1zM128 31h1v3h-1zM129 2h1v5h-1zM129 15h1v1h-1zM129 17h1v1h-1zM129 25h1v5h-1zM129 32h1v1h-1zM130 0h1v1h-1zM130 3h1v1h-1zM130 5h1v1h-1zM130 8h1v2h-1zM130 17h1v1h-1zM130 19h1v3h-1zM130 23h1v2h-1zM130 37h1v3h-1zM130 46h1v1h-1zM130 49h1v1h-1zM130 51h1v1h-1zM132 8h1v3h-1zM132 12h1v1h-1zM132 14h1v2h-1zM132 17h1v6h-1zM132 25h1v1h-1zM132 28h1v1h-1zM132 32h1v3h-1zM132 44h1v1h-1zM132 48h1v3h-1zM134 0h1v3h-1zM134 11h1v2h-1zM134 18h1v1h-1zM134 23h1v4h-1zM134 28h1v1h-1zM134 51h1v1h-1zM137 10h1v3h-1zM137 20h1v1h-1zM137 28h1v1h-1zM137 36h1v1h-1zM137 39h1v1h-1zM137 41h1v2h-1zM137 49h1v1h-1zM139 3h1v1h-1zM139 6h1v1h-1zM139 8h1v1h-1zM139 26h1v1h-1zM139 32h1v1h-1zM139 35h1v3h-1zM139 44h1v1h-1zM139 46h1v3h-1zM139 51h1v1h-1zM142 22h1v3h-1zM142 27h1v2h-1zM142 46h1v2h-1zM145 0h1v1h-1zM145 2h1v1h-1zM145 13h1v1h-1zM145 20h1v1h-1zM152 15h1v1h-1zM152 17h1v5h-1zM152 44h1v1h-1zM155 5h1v2h-1zM155 22h1v1h-1zM155 34h1v2h-1zM155 39h1v2h-1zM156 26h1v1h-1zM156 32h1v1h-1zM156 42h1v4h-1zM157 23h1v2h-1zM159 2h1v1h-1zM159 4h1v2h-1zM159 15h1v1h-1zM159 18h1v1h-1zM159 50h1v1h-1zM161 36h1v1h-1zM162 35h1v1h-1zM162 41h1v1h-1zM162 43h1v1h-1zM162 45h1v1h-1zM162 48h1v4h-1zM163 19h1v1h-1zM163 29h1v1h-1zM164 12h1v2h-1zM164 18h1v4h-1zM164 24h1v6h-1zM164 31h1v2h-1zM164 41h1v1h-1zM164 45h1v3h-1zM167 11h1v2h-1zM167 15h1v1h-1zM167 32h1v1h-1zM167 35h1v1h-1zM171 4h1v1h-1zM171 9h1v1h-1zM172 20h1v2h-1zM172 25h1v1h-1zM172 27h1v4h-1zM173 24h1v1h-1zM173 26h1v2h-1zM173 33h1v3h-1zM173 38h1v1h-1zM174 11h1v2h-1zM176 13h1v1h-1zM176 27h1v1h-1zM176 30h1v3h-1zM176 38h1v1h-1zM176 48h1v1h-1zM176 50h1v1h-1zM178 17h1v1h-1zM178 21h1v1h-1zM178 24h1v2h-1zM179 0h1v3h-1zM179 5h1v1h-1zM179 7h1v2h-1zM179 13h1v2h-1zM179 17h1v4h-1zM179 51h1v1h-1zM180 7h1v2h-1zM180 12h1v1h-1zM180 38h1v3h-1zM180 45h1v3h-1zM182 41h1v1h-1zM182 44h1v1h-1zM183 17h1v3h-1zM183 22h1v2h-1zM183 33h1v1h-1zM184 41h1v3h-1zM189 15h1v1h-1zM189 17h1v2h-1zM189 20h1v1h-1zM189 22h1v2h-1zM191 32h1v1h-1zM191 49h1v1h-1zM192 1h1v3h-1zM192 21h1v1h-1zM192 48h1v4h-1zM194 33h1v1h-1zM198 14h1v1h-1zM199 19h1v1h-1zM200 26h1v1h-1zM200 29h1v1h-1zM200 35h1v1h-1zM205 2h1v1h-1zM205 5h1v2h-1zM205 8h1v2h-1zM205 11h1v2h-1zM205 14h1v2h-1zM206 0h1v1h-1zM206 15h1v1h-1zM206 18h1v4h-1zM206 40h1v2h-1zM206 47h1v2h-1zM207 3h1v2h-1zM207 11h1v1h-1zM207 14h1v2h-1zM207 18h1v1h-1zM207 34h1v2h-1zM207 37h1v1h-1zM207 42h1v2h-1zM207 45h1v5h-1zM207 51h1v1h-1zM208 15h1v1h-1zM208 25h1v1h-1zM208 41h1v1h-1zM208 44h1v1h-1zM208 47h1v2h-1zM211 15h1v1h-1zM213 0h1v2h-1zM213 22h1v1h-1zM213 43h1v1h-1zM213 49h1v3h-1zM215 34h1v5h-1zM215 40h1v2h-1zM215 43h1v1h-1zM215 46h1v1h-1zM215 49h1v3h-1zM225 7h1v2h-1zM225 12h1v2h-1zM225 18h1v1h-1zM228 20h1v3h-1zM228 46h1v2h-1zM230 45h1v1h-1zM230 47h1v2h-1zM231 7h1v7h-1zM231 33h1v1h-1zM231 37h1v2h-1zM231 40h1v4h-1zM231 45h1v2h-1zM231 48h1v3h-1zM233 36h1v1h-1zM234 3h1v1h-1zM234 7h1v2h-1zM234 10h1v2h-1zM234 15h1v1h-1zM234 19h1v1h-1zM234 21h1v2h-1zM234 30h1v3h-1zM234 34h1v5h-1zM234 40h1v3h-1zM234 48h1v3h-1zM236 8h1v1h-1zM237 0h1v1h-1zM237 5h1v3h-1zM237 9h1v2h-1zM237 18h1v1h-1zM237 22h1v1h-1zM237 26h1v1h-1zM237 45h1v2h-1zM237 49h1v2h-1zM238 0h1v4h-1zM238 9h1v3h-1zM238 15h1v1h-1zM238 42h1v1h-1zM242 6h1v1h-1zM242 8h1v1h-1zM242 29h1v1h-1zM242 32h1v1h-1zM242 40h1v5h-1zM242 48h1v4h-1zM246 26h1v4h-1zM246 34h1v1h-1zM246 37h1v2h-1zM246 40h1v3h-1zM247 3h1v1h-1zM247 6h1v1h-1zM247 11h1v2h-1zM247 17h1v2h-1zM247 23h1v2h-1zM247 27h1v1h-1zM247 29h1v3h-1zM247 46h1v2h-1zM247 49h1v2h-1zM249 2h1v2h-1zM249 5h1v3h-1zM249 10h1v6h-1zM249 22h1v1h-1zM249 24h1v2h-1zM249 28h1v1h-1zM249 32h1v1h-1zM249 37h1v1h-1zM249 39h1v5h-1zM249 46h1v5h-1zM250 1h1v1h-1zM250 11h1v1h-1zM250 20h1v1h-1zM250 22h1v3h-1zM250 26h1v2h-1zM250 29h1v3h-1zM250 35h1v1h-1zM250 38h1v3h-1zM251 3h1v1h-1zM251 6h1v1h-1zM252 6h1v6h-1zM252 13h1v1h-1zM253 1h1v1h-1zM253 3h1v4h-1zM253 9h1v3h-1zM253 13h1v1h-1zM253 15h1v1h-1zM253 18h1v3h-1zM253 25h1v4h-1zM253 33h1v4h-1zM253 39h1v1h-1zM253 42h1v2h-1zM253 51h1v1h-1zM254 12h1v2h-1zM254 31h1v1h-1zM254 33h1v1h-1zM254 51h1v1h-1zM255 7h1v1h-1zM255 9h1v4h-1zM255 17h1v2h-1zM255 20h1v1h-1zM255 41h1v2h-1zM255 46h1v2h-1zM262 30h1v1h-1zM263 21h1v1h-1zM263 23h1v1h-1zM263 25h1v3h-1zM263 30h1v2h-1zM263 36h1v3h-1zM263 45h1v2h-1zM263 50h1v1h-1zM264 18h1v1h-1zM268 24h1v5h-1zM269 1h1v3h-1zM269 6h1v2h-1zM269 10h1v4h-1zM269 18h1v3h-1zM269 24h1v2h-1zM269 44h1v3h-1zM271 34h1v1h-1zM273 0h1v2h-1zM273 7h1v1h-1zM273 23h1v1h-1zM273 30h1v1h-1zM274 12h1v2h-1zM274 30h1v1h-1zM274 32h1v1h-1zM274 39h1v1h-1zM274 44h1v1h-1zM279 4h1v3h-1zM279 8h1v1h-1zM279 10h1v1h-1zM279 12h1v1h-1zM279 29h1v1h-1zM279 40h1v2h-1zM279 43h1v2h-1zM279 46h1v1h-1zM279 49h1v3h-1zM282 13h1v3h-1zM282 17h1v5h-1zM282 32h1v2h-1zM282 45h1v2h-1zM283 6h1v2h-1zM283 10h1v1h-1zM283 17h1v1h-1zM283 21h1v1h-1zM283 29h1v1h-1zM283 42h1v1h-1zM287 2h1v2h-1zM287 5h1v1h-1zM287 10h1v1h-1zM287 12h1v1h-1zM287 18h1v1h-1zM287 21h1v1h-1zM287 27h1v1h-1zM287 34h1v2h-1zM287 38h1v1h-1zM287 49h1v1h-1zM287 51h1v1h-1zM288 6h1v1h-1zM288 8h1v1h-1zM288 13h1v3h-1zM288 17h1v4h-1zM288 24h1v6h-1zM289 4h1v1h-1zM290 12h1v2h-1zM290 15h1v1h-1zM290 17h1v3h-1zM290 43h1v1h-1zM292 40h1v2h-1zM292 50h1v2h-1zM294 46h1v2h-1zM294 49h1v3h-1zM296 8h1v5h-1zM296 18h1v4h-1zM296 23h1v1h-1zM296 25h1v1h-1zM296 27h1v1h-1zM296 30h1v2h-1zM296 35h1v1h-1zM296 39h1v3h-1zM296 48h1v2h-1zM297 30h1v1h-1zM297 33h1v2h-1zM302 5h1v3h-1zM302 11h1v2h-1zM302 21h1v3h-1zM302 25h1v2h-1zM302 37h1v1h-1zM302 39h1v1h-1zM302 41h1v1h-1zM302 44h1v1h-1zM304 36h1v1h-1zM304 38h1v6h-1zM304 45h1v7h-1zM306 2h1v2h-1zM306 6h1v2h-1zM306 13h1v1h-1zM306 17h1v5h-1zM306 23h1v2h-1zM306 27h1v3h-1zM306 31h1v1h-1zM306 33h1v2h-1zM306 48h1v4h-1zM307 26h1v3h-1zM307 30h1v2h-1zM307 35h1v3h-1zM308 22h1v1h-1zM308 26h1v2h-1zM309 1h1v2h-1zM309 4h1v1h-1zM309 6h1v4h-1zM309 13h1v1h-1zM309 22h1v1h-1zM309 25h1v3h-1zM309 30h1v4h-1zM312 17h1v1h-1zM315 0h1v1h-1zM315 2h1v1h-1zM315 5h1v4h-1zM315 21h1v1h-1zM315 24h1v3h-1zM315 37h1v3h-1zM315 45h1v1h-1zM315 47h1v1h-1zM317 21h1v1h-1zM319 7h1v1h-1zM319 26h1v2h-1zM320 11h1v2h-1zM320 25h1v1h-1zM320 34h1v1h-1zM324 7h1v5h-1zM324 14h1v2h-1zM324 19h1v1h-1zM324 24h1v3h-1zM326 35h1v1h-1zM327 12h1v2h-1zM328 8h1v1h-1zM328 11h1v2h-1zM328 14h1v2h-1zM328 22h1v5h-1zM328 43h1v1h-1zM328 48h1v2h-1zM330 5h1v3h-1zM330 20h1v1h-1zM330 26h1v1h-1zM330 28h1v1h-1zM331 0h1v1h-1zM331 2h1v1h-1zM331 6h1v3h-1zM331 27h1v2h-1zM331 30h1v8h-1zM331 40h1v2h-1zM332 20h1v3h-1zM333 17h1v3h-1zM333 21h1v4h-1zM333 40h1v3h-1zM333 44h1v2h-1zM337 0h1v2h-1zM337 5h1v1h-1zM337 7h1v1h-1zM337 10h1v2h-1zM337 19h1v1h-1zM337 25h1v1h-1zM337 27h1v3h-1zM337 35h1v1h-1zM337 51h1v1h-1zM338 2h1v1h-1zM338 10h1v3h-1zM338 44h1v2h-1zM338 51h1v1h-1zM341 1h1v1h-1zM341 23h1v1h-1zM344 49h1v1h-1zM346 4h1v1h-1zM346 7h1v1h-1zM346 27h1v1h-1zM347 7h1v4h-1zM347 15h1v1h-1zM350 19h1v2h-1zM350 23h1v1h-1zM350 25h1v1h-1zM350 32h1v1h-1zM350 34h1v1h-1zM351 51h1v1h-1zM356 33h1v1h-1zM356 35h1v1h-1zM357 29h1v1h-1zM357 31h1v2h-1zM360 8h1v4h-1zM361 7h1v1h-1zM361 43h1v1h-1zM361 45h1v1h-1zM362 10h1v1h-1zM363 9h1v2h-1zM363 22h1v1h-1zM363 25h1v2h-1zM363 36h1v1h-1zM363 40h1v1h-1zM363 43h1v2h-1zM363 48h1v3h-1z"/>
<path fill="#1AAF00" d="M4 2h1v1h-1zM6 0h1v1h-1zM10 27h1v3h-1zM11 30h1v1h-1zM23 2h1v1h-1zM23 33h1v1h-1zM23 35h1v6h-1zM30 29h1v1h-1zM31 43h1v1h-1zM31 45h1v1h-1zM41 40h1v1h-1zM46 5h1v1h-1zM46 7h1v1h-1zM47 8h1v1h-1zM47 10h1v1h-1zM47 13h1v1h-1zM66 48h1v1h-1zM66 50h1v1h-1zM68 22h1v1h-1zM69 4h1v1h-1zM77 10h1v1h-1zM79 26h1v1h-1zM83 25h1v3h-1zM88 5h1v1h-1zM88 7h1v1h-1zM88 12h1v1h-1zM90 21h1v2h-1zM101 2h1v4h-1zM101 7h1v3h-1zM105 32h1v1h-1zM106 40h1v1h-1zM108 36h1v1h-1zM108 50h1v1h-1zM115 11h1v1h-1zM120 28h1v2h-1zM120 50h1v1h-1zM121 3h1v2h-1zM121 6h1v1h-1zM121 8h1v6h-1zM121 22h1v1h-1zM122 3h1v1h-1zM122 9h1v3h-1zM122 13h1v1h-1zM124 33h1v1h-1zM126 40h1v3h-1zM127 34h1v1h-1zM128 18h1v1h-1zM133 0h1v7h-1zM140 5h1v2h-1zM140 9h1v2h-1zM145 24h1v1h-1zM149 6h1v1h-1zM149 12h1v1h-1zM153 20h1v1h-1zM161 33h1v1h-1zM161 38h1v5h-1zM161 44h1v3h-1zM172 32h1v1h-1zM181 7h1v2h-1zM185 4h1v1h-1zM185 43h1v2h-1zM189 13h1v1h-1zM190 32h1v1h-1zM193 27h1v1h-1zM195 11h1v1h-1zM199 9h1v1h-1zM202 23h1v1h-1zM226 48h1v1h-1zM234 0h1v2h-1zM235 45h1v2h-1zM236 9h1v1h-1zM236 11h1v1h-1zM239 38h1v1h-1zM243 5h1v2h-1zM244 3h1v1h-1zM245 13h1v1h-1zM254 29h1v2h-1zM261 17h1v1h-1zM261 21h1v1h-1zM261 23h1v1h-1zM261 38h1v2h-1zM261 51h1v1h-1zM262 49h1v3h-1zM269 41h1v1h-1zM279 14h1v2h-1zM279 17h1v1h-1zM282 42h1v1h-1zM284 4h1v1h-1zM285 26h1v4h-1zM292 46h1v1h-1zM295 13h1v1h-1zM300 0h1v1h-1zM300 2h1v1h-1zM303 26h1v1h-1zM307 0h1v1h-1zM307 2h1v2h-1zM307 5h1v1h-1zM307 47h1v2h-1zM307 50h1v2h-1zM314 23h1v1h-1zM315 18h1v1h-1zM323 0h1v1h-1zM327 11h1v1h-1zM331 12h1v1h-1zM332 3h1v1h-1zM332 5h1v1h-1zM349 41h1v1h-1zM352 34h1v1h-1zM353 1h1v3h-1zM353 5h1v1h-1z"/>
<path fill="#B1DA00" d="M4 21h1v1h-1zM11 6h1v1h-1zM12 10h1v1h-1zM12 29h1v1h-1zM15 22h1v1h-1zM19 12h1v1h-1zM21 21h1v1h-1zM21 36h1v2h-1zM27 8h1v1h-1zM27 15h1v1h-1zM31 42h1v1h-1zM31 44h1v1h-1zM31 46h1v4h-1zM35 12h1v1h-1zM35 43h1v1h-1zM38 42h1v1h-1zM40 41h1v1h-1zM43 49h1v1h-1zM45 32h1v1h-1zM46 43h1v1h-1zM60 30h1v1h-1zM60 38h1v1h-1zM60 44h1v1h-1zM63 48h1v1h-1zM63 51h1v1h-1zM77 11h1v1h-1zM77 46h1v1h-1zM78 26h1v1h-1zM80 48h1v1h-1zM82 8h1v1h-1zM82 31h1v1h-1zM84 28h1v1h-1zM84 41h1v1h-1zM87 12h1v1h-1zM88 22h1v1h-1zM88 48h1v1h-1zM89 22h1v1h-1zM89 26h1v1h-1zM90 4h1v1h-1zM93 10h1v1h-1zM93 29h1v1h-1zM94 8h1v1h-1zM105 11h1v1h-1zM105 28h1v1h-1zM106 24h1v1h-1zM109 14h1v1h-1zM112 31h1v1h-1zM113 7h1v1h-1zM115 9h1v1h-1zM117 2h1v1h-1zM120 5h1v1h-1zM121 24h1v2h-1zM121 27h1v2h-1zM122 15h1v1h-1zM124 37h1v1h-1zM125 47h1v1h-1zM129 42h1v1h-1zM130 26h1v6h-1zM132 0h1v3h-1zM132 4h1v2h-1zM132 37h1v5h-1zM133 12h1v1h-1zM134 17h1v1h-1zM134 33h1v3h-1zM134 37h1v9h-1zM138 23h1v1h-1zM138 46h1v1h-1zM140 2h1v1h-1zM144 7h1v1h-1zM145 27h1v1h-1zM145 30h1v1h-1zM146 6h1v1h-1zM147 30h1v1h-1zM149 5h1v1h-1zM149 46h1v1h-1zM150 38h1v1h-1zM153 8h1v1h-1zM155 9h1v1h-1zM156 5h1v1h-1zM162 15h1v1h-1zM165 35h1v1h-1zM166 24h1v1h-1zM184 20h1v1h-1zM184 46h1v1h-1zM185 42h1v1h-1zM186 43h1v1h-1zM187 42h1v1h-1zM187 48h1v1h-1zM190 33h1v1h-1zM195 8h1v1h-1zM196 30h1v1h-1zM196 32h1v1h-1zM197 38h1v1h-1zM206 6h1v4h-1zM206 11h1v3h-1zM210 28h1v1h-1zM225 51h1v1h-1zM227 38h1v1h-1zM227 50h1v1h-1zM231 14h1v1h-1zM234 23h1v1h-1zM234 26h1v1h-1zM237 44h1v1h-1zM238 14h1v1h-1zM239 4h1v1h-1zM239 23h1v1h-1zM241 5h1v1h-1zM242 34h1v1h-1zM244 22h1v1h-1zM246 30h1v3h-1zM247 4h1v2h-1zM249 30h1v1h-1zM253 44h1v2h-1zM260 34h1v1h-1zM260 36h1v1h-1zM261 50h1v1h-1zM262 34h1v3h-1zM262 45h1v4h-1zM263 34h1v1h-1zM264 11h1v1h-1zM264 14h1v1h-1zM264 46h1v1h-1zM269 21h1v1h-1zM269 51h1v1h-1zM272 7h1v1h-1zM273 46h1v1h-1zM273 50h1v1h-1zM274 29h1v1h-1zM282 43h1v1h-1zM284 14h1v1h-1zM284 34h1v1h-1zM285 21h1v1h-1zM286 32h1v1h-1zM286 49h1v1h-1zM291 42h1v1h-1zM292 47h1v2h-1zM296 5h1v1h-1zM298 37h1v1h-1zM312 5h1v1h-1zM314 19h1v1h-1zM314 33h1v1h-1zM315 33h1v1h-1zM317 13h1v1h-1zM317 34h1v1h-1zM320 36h1v3h-1zM321 14h1v1h-1zM322 46h1v1h-1zM324 1h1v1h-1zM325 9h1v1h-1zM327 5h1v1h-1zM331 13h1v1h-1zM331 23h1v1h-1zM332 34h1v1h-1zM332 50h1v1h-1zM334 4h1v1h-1zM335 5h1v1h-1zM338 48h1v1h-1zM339 21h1v1h-1zM340 4h1v1h-1zM343 10h1v1h-1zM344 0h1v1h-1zM344 4h1v1h-1zM345 27h1v1h-1zM347 41h1v1h-1zM347 47h1v1h-1zM350 3h1v1h-1zM350 9h1v1h-1zM350 26h1v1h-1zM351 14h1v1h-1zM351 19h1v1h-1zM355 20h1v1h-1zM356 1h1v1h-1zM356 3h1v1h-1zM361 2h1v1h-1zM361 4h1v1h-1zM363 2h1v1h-1zM364 13h1v1h-1z"/>
<path fill="#C6DE00" d="M7 18h1v1h-1zM7 24h1v1h-1zM7 40h1v1h-1zM7 42h1v1h-1zM7 44h1v1h-1zM14 3h1v2h-1zM14 25h1v1h-1zM14 28h1v1h-1zM17 26h1v3h-1zM21 22h1v5h-1zM21 28h1v1h-1zM21 31h1v5h-1zM22 20h1v2h-1zM22 24h1v7h-1zM31 7h1v1h-1zM31 50h1v1h-1zM36 12h1v1h-1zM39 22h1v1h-1zM40 24h1v1h-1zM40 27h1v2h-1zM41 22h1v1h-1zM41 41h1v2h-1zM41 46h1v1h-1zM46 22h1v1h-1zM47 28h1v1h-1zM49 6h1v1h-1zM49 9h1v1h-1zM56 0h1v1h-1zM71 7h1v1h-1zM71 17h1v1h-1zM71 31h1v1h-1zM71 34h1v1h-1zM71 46h1v1h-1zM87 11h1v1h-1zM87 13h1v1h-1zM87 27h1v2h-1zM87 30h1v2h-1zM88 8h1v1h-1zM88 44h1v1h-1zM89 34h1v1h-1zM89 36h1v9h-1zM89 51h1v1h-1zM90 30h1v1h-1zM97 23h1v1h-1zM97 28h1v1h-1zM97 30h1v2h-1zM117 0h1v2h-1zM117 3h1v1h-1zM121 26h1v1h-1zM121 31h1v2h-1zM121 34h1v7h-1zM128 6h1v2h-1zM128 17h1v1h-1zM128 30h1v1h-1zM130 1h1v2h-1zM130 4h1v1h-1zM130 18h1v1h-1zM130 22h1v1h-1zM130 25h1v1h-1zM130 32h1v4h-1zM130 47h1v2h-1zM130 50h1v1h-1zM132 3h1v1h-1zM132 6h1v1h-1zM132 11h1v1h-1zM132 23h1v2h-1zM132 29h1v2h-1zM132 35h1v2h-1zM132 42h1v2h-1zM132 45h1v3h-1zM132 51h1v1h-1zM134 13h1v3h-1zM134 27h1v1h-1zM134 29h1v4h-1zM134 36h1v1h-1zM139 27h1v2h-1zM139 33h1v2h-1zM139 38h1v4h-1zM139 49h1v2h-1zM155 36h1v3h-1zM159 3h1v1h-1zM159 17h1v1h-1zM161 37h1v1h-1zM164 10h1v2h-1zM164 22h1v2h-1zM167 34h1v1h-1zM167 36h1v3h-1zM171 3h1v1h-1zM172 31h1v1h-1zM173 18h1v6h-1zM173 36h1v1h-1zM174 13h1v2h-1zM176 49h1v1h-1zM176 51h1v1h-1zM178 18h1v3h-1zM178 22h1v1h-1zM179 3h1v2h-1zM179 15h1v1h-1zM180 9h1v3h-1zM180 42h1v3h-1zM182 45h1v1h-1zM183 20h1v2h-1zM189 19h1v1h-1zM194 34h1v1h-1zM200 27h1v1h-1zM205 13h1v1h-1zM206 1h1v5h-1zM206 10h1v1h-1zM206 14h1v1h-1zM206 17h1v1h-1zM207 17h1v1h-1zM207 36h1v1h-1zM207 44h1v1h-1zM208 17h1v4h-1zM213 23h1v1h-1zM213 26h1v1h-1zM231 39h1v1h-1zM231 44h1v1h-1zM231 51h1v1h-1zM234 4h1v3h-1zM234 9h1v1h-1zM234 24h1v2h-1zM234 27h1v3h-1zM237 8h1v1h-1zM237 17h1v1h-1zM238 12h1v2h-1zM242 7h1v1h-1zM242 26h1v3h-1zM242 31h1v1h-1zM242 33h1v1h-1zM242 35h1v5h-1zM242 45h1v3h-1zM246 33h1v1h-1zM246 39h1v1h-1zM246 43h1v1h-1zM247 48h1v1h-1zM249 4h1v1h-1zM249 23h1v1h-1zM249 29h1v1h-1zM249 31h1v1h-1zM249 51h1v1h-1zM250 17h1v2h-1zM250 25h1v1h-1zM250 32h1v3h-1zM251 4h1v1h-1zM252 12h1v1h-1zM252 14h1v2h-1zM253 7h1v2h-1zM253 17h1v1h-1zM253 23h1v2h-1zM253 40h1v1h-1zM253 46h1v5h-1zM255 8h1v1h-1zM255 13h1v3h-1zM255 19h1v1h-1zM262 33h1v1h-1zM262 37h1v2h-1zM262 43h1v2h-1zM263 28h1v2h-1zM263 32h1v2h-1zM263 35h1v1h-1zM263 44h1v1h-1zM274 31h1v1h-1zM279 11h1v1h-1zM279 42h1v1h-1zM282 9h1v4h-1zM282 34h1v2h-1zM282 44h1v1h-1zM283 8h1v2h-1zM287 0h1v2h-1zM287 11h1v1h-1zM287 13h1v3h-1zM287 17h1v1h-1zM287 32h1v2h-1zM287 36h1v2h-1zM288 7h1v1h-1zM290 4h1v8h-1zM290 14h1v1h-1zM292 49h1v1h-1zM294 48h1v1h-1zM296 0h1v5h-1zM296 6h1v2h-1zM296 22h1v1h-1zM296 28h1v2h-1zM296 32h1v3h-1zM297 26h1v4h-1zM302 8h1v3h-1zM302 13h1v1h-1zM306 0h1v2h-1zM306 22h1v1h-1zM306 32h1v1h-1zM307 4h1v1h-1zM307 29h1v1h-1zM307 32h1v3h-1zM308 23h1v3h-1zM309 10h1v3h-1zM315 3h1v2h-1zM315 19h1v2h-1zM315 40h1v5h-1zM320 35h1v1h-1zM320 39h1v1h-1zM324 3h1v2h-1zM324 12h1v2h-1zM324 21h1v3h-1zM330 27h1v1h-1zM331 1h1v1h-1zM331 14h1v1h-1zM333 20h1v1h-1zM333 43h1v1h-1zM333 46h1v2h-1zM337 8h1v2h-1zM337 18h1v1h-1zM338 49h1v2h-1zM347 11h1v4h-1zM350 17h1v2h-1zM350 21h1v2h-1zM350 24h1v1h-1zM361 28h1v2h-1zM363 20h1v2h-1zM363 24h1v1h-1zM363 46h1v2h-1z"/>
<path fill="#EBB35C" d="M8 30h1v3h-1zM60 17h1v1h-1zM60 21h1v1h-1zM60 23h1v4h-1zM63 17h1v4h-1zM63 22h1v4h-1zM63 28h1v4h-1zM64 33h1v1h-1zM81 4h1v2h-1zM81 7h1v2h-1zM86 12h1v1h-1zM94 0h1v3h-1zM94 19h1v2h-1zM98 12h1v1h-1zM98 38h1v2h-1zM100 20h1v1h-1zM100 25h1v1h-1zM104 8h1v2h-1zM111 30h1v6h-1zM116 12h1v1h-1zM116 17h1v1h-1zM116 25h1v5h-1zM116 38h1v1h-1zM116 51h1v1h-1zM126 34h1v1h-1zM131 50h1v2h-1zM135 14h1v2h-1zM135 17h1v2h-1zM135 20h1v8h-1zM135 35h1v1h-1zM135 40h1v6h-1zM135 47h1v5h-1zM136 23h1v7h-1zM136 33h1v3h-1zM136 37h1v2h-1zM136 47h1v2h-1zM138 41h1v1h-1zM171 47h1v1h-1zM178 42h1v1h-1zM178 44h1v2h-1zM178 47h1v1h-1zM183 3h1v5h-1zM183 11h1v2h-1zM183 48h1v2h-1zM193 14h1v1h-1zM201 6h1v1h-1zM201 8h1v7h-1zM204 30h1v1h-1zM205 36h1v2h-1zM209 24h1v2h-1zM210 17h1v1h-1zM211 27h1v1h-1zM211 37h1v1h-1zM211 39h1v1h-1zM211 44h1v1h-1zM211 50h1v1h-1zM215 9h1v1h-1zM216 47h1v2h-1zM218 28h1v1h-1zM219 50h1v1h-1zM221 6h1v1h-1zM221 9h1v1h-1zM221 21h1v1h-1zM221 36h1v1h-1zM223 29h1v1h-1zM226 17h1v2h-1zM229 0h1v1h-1zM229 2h1v5h-1zM229 22h1v1h-1zM229 25h1v1h-1zM243 44h1v2h-1zM248 0h1v1h-1zM248 9h1v1h-1zM248 23h1v2h-1zM251 38h1v1h-1zM256 17h1v1h-1zM257 25h1v1h-1zM258 33h1v8h-1zM265 1h1v1h-1zM265 17h1v1h-1zM265 20h1v1h-1zM265 23h1v1h-1zM265 29h1v3h-1zM265 40h1v12h-1zM266 18h1v1h-1zM275 40h1v1h-1zM275 43h1v1h-1zM275 45h1v3h-1zM276 20h1v2h-1zM276 26h1v5h-1zM276 51h1v1h-1zM277 26h1v1h-1zM280 33h1v2h-1zM281 12h1v1h-1zM281 38h1v4h-1zM281 44h1v2h-1zM291 14h1v2h-1zM291 17h1v2h-1zM291 24h1v1h-1zM293 12h1v2h-1zM293 49h1v3h-1zM300 34h1v5h-1zM300 41h1v2h-1zM303 46h1v4h-1zM308 6h1v6h-1zM308 35h1v9h-1zM310 35h1v1h-1zM310 37h1v1h-1zM310 43h1v2h-1zM310 46h1v1h-1zM316 9h1v1h-1zM316 12h1v3h-1zM318 23h1v3h-1zM318 27h1v3h-1zM321 41h1v1h-1zM325 18h1v1h-1zM334 20h1v1h-1zM334 50h1v1h-1zM335 46h1v1h-1zM339 29h1v1h-1zM339 31h1v1h-1zM339 47h1v4h-1zM342 49h1v1h-1zM349 19h1v1h-1zM349 22h1v1h-1zM352 42h1v4h-1zM354 36h1v1h-1zM355 32h1v1h-1zM355 34h1v2h-1zM357 7h1v1h-1zM359 0h1v1h-1zM359 2h1v1h-1zM359 6h1v1h-1zM359 34h1v1h-1z"/>
</g></g>
<path d="M103.7 986.7H1537.2V1297.1H103.7ZM103.7 1297.1v13.5M103.7 986.7v-13.5M221.21 1297.1v13.5M221.21 986.7v-13.5M338.72 1297.1v13.5M338.72 986.7v-13.5M456.23 1297.1v13.5M456.23 986.7v-13.5M573.74 1297.1v13.5M573.74 986.7v-13.5M691.25 1297.1v13.5M691.25 986.7v-13.5M808.76 1297.1v13.5M808.76 986.7v-13.5M926.27 1297.1v13.5M926.27 986.7v-13.5M1043.78 1297.1v13.5M1043.78 986.7v-13.5M1161.29 1297.1v13.5M1161.29 986.7v-13.5M1278.8 1297.1v13.5M1278.8 986.7v-13.5M1396.31 1297.1v13.5M1396.31 986.7v-13.5M1513.82 1297.1v13.5M1513.82 986.7v-13.5M103.7 1297.1h-13.5M1537.2 1297.1h13.5M103.7 1261.27h-13.5M1537.2 1261.27h13.5M103.7 1225.44h-13.5M1537.2 1225.44h13.5M103.7 1189.61h-13.5M1537.2 1189.61h13.5M103.7 1153.78h-13.5M1537.2 1153.78h13.5M103.7 1117.95h-13.5M1537.2 1117.95h13.5M103.7 1082.12h-13.5M1537.2 1082.12h13.5M103.7 1046.29h-13.5M1537.2 1046.29h13.5M103.7 1010.46h-13.5M1537.2 1010.46h13.5" fill="none" stroke="#000" stroke-width="1.8" stroke-linecap="butt"/>
<g font-size="22.6" text-anchor="middle">
<text transform="translate(103.7 1341.3) scale(1 1.02)">0</text>
<text transform="translate(221.21 1341.3) scale(1 1.02)">30</text>
<text transform="translate(338.72 1341.3) scale(1 1.02)">60</text>
<text transform="translate(456.23 1341.3) scale(1 1.02)">90</text>
<text transform="translate(573.74 1341.3) scale(1 1.02)">120</text>
<text transform="translate(691.25 1341.3) scale(1 1.02)">150</text>
<text transform="translate(808.76 1341.3) scale(1 1.02)">180</text>
<text transform="translate(926.27 1341.3) scale(1 1.02)">210</text>
<text transform="translate(1043.78 1341.3) scale(1 1.02)">240</text>
<text transform="translate(1161.29 1341.3) scale(1 1.02)">270</text>
<text transform="translate(1278.8 1341.3) scale(1 1.02)">300</text>
<text transform="translate(1396.31 1341.3) scale(1 1.02)">330</text>
<text transform="translate(1513.82 1341.3) scale(1 1.02)">360</text>
</g>
<g font-size="22.6" text-anchor="end">
<text transform="translate(76.7 1306.7) scale(1 1.02)">8</text>
<text transform="translate(76.7 1270.87) scale(1 1.02)">9</text>
<text transform="translate(76.7 1235.04) scale(1 1.02)">10</text>
<text transform="translate(76.7 1199.21) scale(1 1.02)">11</text>
<text transform="translate(76.7 1163.38) scale(1 1.02)">12</text>
<text transform="translate(76.7 1127.55) scale(1 1.02)">13</text>
<text transform="translate(76.7 1091.72) scale(1 1.02)">14</text>
<text transform="translate(76.7 1055.89) scale(1 1.02)">15</text>
<text transform="translate(76.7 1020.06) scale(1 1.02)">16</text>
</g>
<text transform="translate(23.5 1142.7) rotate(-90) scale(1 1.02)" font-size="28.5" text-anchor="middle">Time of Day (UTC+8)</text>
<g shape-rendering="crispEdges">
<rect x="1591.3" y="1291.56" width="41.7" height="6.04" fill="#F2F2F2"/>
<rect x="1591.3" y="1286.01" width="41.7" height="6.04" fill="#F2E9E9"/>
<rect x="1591.3" y="1280.47" width="41.7" height="6.04" fill="#F1E1E0"/>
<rect x="1591.3" y="1274.93" width="41.7" height="6.04" fill="#F1DAD7"/>
<rect x="1591.3" y="1269.39" width="41.7" height="6.04" fill="#F0D3CE"/>
<rect x="1591.3" y="1263.84" width="41.7" height="6.04" fill="#F0CDC5"/>
<rect x="1591.3" y="1258.3" width="41.7" height="6.04" fill="#F0C7BC"/>
<rect x="1591.3" y="1252.76" width="41.7" height="6.04" fill="#EFC2B3"/>
<rect x="1591.3" y="1247.21" width="41.7" height="6.04" fill="#EFBEAA"/>
<rect x="1591.3" y="1241.67" width="41.7" height="6.04" fill="#EEBAA2"/>
<rect x="1591.3" y="1236.13" width="41.7" height="6.04" fill="#EEB799"/>
<rect x="1591.3" y="1230.59" width="41.7" height="6.04" fill="#EDB590"/>
<rect x="1591.3" y="1225.04" width="41.7" height="6.04" fill="#EDB387"/>
<rect x="1591.3" y="1219.5" width="41.7" height="6.04" fill="#ECB27F"/>
<rect x="1591.3" y="1213.96" width="41.7" height="6.04" fill="#ECB176"/>
<rect x="1591.3" y="1208.41" width="41.7" height="6.04" fill="#EBB16D"/>
<rect x="1591.3" y="1202.87" width="41.7" height="6.04" fill="#EBB165"/>
<rect x="1591.3" y="1197.33" width="41.7" height="6.04" fill="#EBB35C"/>
<rect x="1591.3" y="1191.79" width="41.7" height="6.04" fill="#EAB454"/>
<rect x="1591.3" y="1186.24" width="41.7" height="6.04" fill="#EAB74B"/>
<rect x="1591.3" y="1180.7" width="41.7" height="6.04" fill="#E9BA43"/>
<rect x="1591.3" y="1175.16" width="41.7" height="6.04" fill="#E9BD3A"/>
<rect x="1591.3" y="1169.61" width="41.7" height="6.04" fill="#E8C132"/>
<rect x="1591.3" y="1164.07" width="41.7" height="6.04" fill="#E8C629"/>
<rect x="1591.3" y="1158.53" width="41.7" height="6.04" fill="#E7CB21"/>
<rect x="1591.3" y="1152.99" width="41.7" height="6.04" fill="#E7D119"/>
<rect x="1591.3" y="1147.44" width="41.7" height="6.04" fill="#E6D710"/>
<rect x="1591.3" y="1141.9" width="41.7" height="6.04" fill="#E6DE08"/>
<rect x="1591.3" y="1136.36" width="41.7" height="6.04" fill="#E6E600"/>
<rect x="1591.3" y="1130.81" width="41.7" height="6.04" fill="#DBE300"/>
<rect x="1591.3" y="1125.27" width="41.7" height="6.04" fill="#D0E100"/>
<rect x="1591.3" y="1119.73" width="41.7" height="6.04" fill="#C6DE00"/>
<rect x="1591.3" y="1114.19" width="41.7" height="6.04" fill="#BBDC00"/>
<rect x="1591.3" y="1108.64" width="41.7" height="6.04" fill="#B1DA00"/>
<rect x="1591.3" y="1103.1" width="41.7" height="6.04" fill="#A7D700"/>
<rect x="1591.3" y="1097.56" width="41.7" height="6.04" fill="#9ED500"/>
<rect x="1591.3" y="1092.01" width="41.7" height="6.04" fill="#94D300"/>
<rect x="1591.3" y="1086.47" width="41.7" height="6.04" fill="#8BD000"/>
<rect x="1591.3" y="1080.93" width="41.7" height="6.04" fill="#82CE00"/>
<rect x="1591.3" y="1075.39" width="41.7" height="6.04" fill="#79CC00"/>
<rect x="1591.3" y="1069.84" width="41.7" height="6.04" fill="#70C900"/>
<rect x="1591.3" y="1064.3" width="41.7" height="6.04" fill="#67C700"/>
<rect x="1591.3" y="1058.76" width="41.7" height="6.04" fill="#5FC400"/>
<rect x="1591.3" y="1053.21" width="41.7" height="6.04" fill="#56C200"/>
<rect x="1591.3" y="1047.67" width="41.7" height="6.04" fill="#4EC000"/>
<rect x="1591.3" y="1042.13" width="41.7" height="6.04" fill="#46BD00"/>
<rect x="1591.3" y="1036.59" width="41.7" height="6.04" fill="#3EBB00"/>
<rect x="1591.3" y="1031.04" width="41.7" height="6.04" fill="#37B900"/>
<rect x="1591.3" y="1025.5" width="41.7" height="6.04" fill="#2FB600"/>
<rect x="1591.3" y="1019.96" width="41.7" height="6.04" fill="#28B400"/>
<rect x="1591.3" y="1014.41" width="41.7" height="6.04" fill="#21B200"/>
<rect x="1591.3" y="1008.87" width="41.7" height="6.04" fill="#1AAF00"/>
<rect x="1591.3" y="1003.33" width="41.7" height="6.04" fill="#13AD00"/>
<rect x="1591.3" y="997.79" width="41.7" height="6.04" fill="#0DAA00"/>
<rect x="1591.3" y="992.24" width="41.7" height="6.04" fill="#06A800"/>
<rect x="1591.3" y="986.7" width="41.7" height="6.04" fill="#00A600"/>
</g>
<g font-size="22.6">
<text transform="translate(1653.5 1283.23) scale(1 1.02)">-0.4</text>
<text transform="translate(1653.5 1238.89) scale(1 1.02)">-0.2</text>
<text transform="translate(1653.5 1194.54) scale(1 1.02)">0.0</text>
<text transform="translate(1653.5 1150.2) scale(1 1.02)">0.2</text>
<text transform="translate(1653.5 1105.86) scale(1 1.02)">0.4</text>
<text transform="translate(1653.5 1061.51) scale(1 1.02)">0.6</text>
<text transform="translate(1653.5 1017.17) scale(1 1.02)">0.8</text>
</g>
<path d="M1591.3 986.7H1633V1297.1H1591.3ZM1633 1274.93h10.5M1633 1230.59h10.5M1633 1186.24h10.5M1633 1141.9h10.5M1633 1097.56h10.5M1633 1053.21h10.5M1633 1008.87h10.5" fill="none" stroke="#000" stroke-width="1.8"/>
<text transform="translate(1663.5 972.8) scale(1 1.02)" font-size="29.7" text-anchor="middle">NDVI</text>
<clipPath id="c2B"><rect x="102" y="1366" width="1435.2" height="305.9"/></clipPath>
<rect x="102" y="1366" width="1435.2" height="305.9" fill="#F2F2F2"/>
<g clip-path="url(#c2B)"><g shape-rendering="crispEdges" transform="translate(100.04 1676.26) scale(3.921 -8.7175)">
<path fill="#8BD000" d="M0 0h1v36h-1zM1 0h1v29h-1zM1 34h1v2h-1zM2 0h1v1h-1zM2 2h1v34h-1zM3 12h1v1h-1zM3 19h1v2h-1zM3 22h1v3h-1zM3 31h1v5h-1zM4 17h1v7h-1zM4 30h1v5h-1zM5 0h1v7h-1zM5 12h1v4h-1zM5 17h1v3h-1zM5 22h1v2h-1zM5 30h1v2h-1zM5 34h1v1h-1zM6 15h1v1h-1zM6 18h1v5h-1zM6 34h1v1h-1zM7 0h1v2h-1zM7 4h1v1h-1zM7 11h1v3h-1zM7 16h1v3h-1zM7 27h1v3h-1zM8 5h1v2h-1zM8 23h1v4h-1zM8 29h1v6h-1zM9 9h1v1h-1zM9 27h1v7h-1zM10 11h1v3h-1zM10 17h1v2h-1zM10 24h1v4h-1zM10 31h1v1h-1zM10 33h1v3h-1zM11 0h1v2h-1zM11 7h1v26h-1zM12 1h1v6h-1zM12 11h1v18h-1zM12 33h1v3h-1zM13 0h1v3h-1zM13 8h1v10h-1zM13 19h1v17h-1zM14 9h1v22h-1zM15 12h1v16h-1zM15 29h1v3h-1zM16 0h1v3h-1zM16 11h1v18h-1zM16 34h1v1h-1zM17 9h1v1h-1zM17 12h1v9h-1zM17 23h1v8h-1zM17 33h1v3h-1zM18 2h1v7h-1zM18 12h1v1h-1zM18 14h1v1h-1zM18 17h1v4h-1zM18 23h1v6h-1zM18 31h1v1h-1zM18 34h1v2h-1zM19 0h1v7h-1zM19 8h1v19h-1zM19 28h1v6h-1zM19 35h1v1h-1zM20 0h1v6h-1zM20 8h1v14h-1zM20 23h1v1h-1zM20 27h1v8h-1zM21 9h1v1h-1zM21 13h1v3h-1zM21 18h1v12h-1zM21 31h1v1h-1zM22 10h1v12h-1zM22 25h1v11h-1zM23 2h1v10h-1zM23 13h1v9h-1zM23 23h1v3h-1zM23 27h1v2h-1zM24 0h1v2h-1zM24 8h1v4h-1zM24 14h1v1h-1zM24 16h1v6h-1zM24 23h1v1h-1zM25 2h1v1h-1zM25 7h1v22h-1zM26 0h1v11h-1zM26 13h1v11h-1zM26 27h1v9h-1zM27 0h1v26h-1zM27 28h1v6h-1zM28 0h1v28h-1zM28 30h1v1h-1zM29 0h1v9h-1zM29 12h1v23h-1zM30 0h1v14h-1zM30 16h1v8h-1zM30 26h1v5h-1zM30 32h1v4h-1zM31 0h1v7h-1zM31 9h1v19h-1zM31 31h1v5h-1zM32 0h1v1h-1zM32 14h1v14h-1zM32 30h1v5h-1zM33 0h1v1h-1zM33 5h1v1h-1zM33 14h1v2h-1zM33 21h1v13h-1zM33 35h1v1h-1zM34 2h1v3h-1zM34 12h1v5h-1zM34 21h1v1h-1zM34 31h1v1h-1zM34 33h1v3h-1zM35 17h1v8h-1zM35 28h1v8h-1zM36 5h1v5h-1zM36 13h1v3h-1zM36 17h1v2h-1zM36 20h1v6h-1zM36 31h1v5h-1zM37 4h1v9h-1zM37 19h1v2h-1zM37 24h1v4h-1zM37 35h1v1h-1zM38 0h1v1h-1zM38 4h1v5h-1zM38 17h1v3h-1zM38 23h1v6h-1zM39 3h1v3h-1zM39 13h1v14h-1zM39 30h1v6h-1zM40 6h1v4h-1zM40 23h1v13h-1zM41 13h1v4h-1zM41 23h1v3h-1zM41 29h1v6h-1zM42 0h1v13h-1zM42 17h1v9h-1zM42 30h1v6h-1zM43 15h1v1h-1zM43 21h1v11h-1zM43 34h1v2h-1zM44 12h1v1h-1zM44 18h1v18h-1zM45 0h1v1h-1zM45 2h1v1h-1zM45 5h1v2h-1zM45 15h1v3h-1zM45 22h1v4h-1zM45 31h1v5h-1zM46 2h1v6h-1zM46 11h1v23h-1zM46 35h1v1h-1zM47 9h1v4h-1zM47 19h1v17h-1zM48 0h1v2h-1zM48 10h1v3h-1zM48 15h1v7h-1zM48 24h1v12h-1zM49 1h1v1h-1zM49 11h1v8h-1zM49 20h1v5h-1zM49 27h1v3h-1zM49 32h1v4h-1zM50 0h1v3h-1zM50 7h1v1h-1zM50 10h1v16h-1zM50 28h1v4h-1zM50 33h1v3h-1zM51 13h1v23h-1zM52 2h1v3h-1zM52 11h1v5h-1zM52 18h1v18h-1zM53 11h1v3h-1zM53 21h1v1h-1zM53 27h1v3h-1zM54 18h1v2h-1zM54 21h1v1h-1zM54 24h1v2h-1zM54 28h1v1h-1zM54 34h1v2h-1zM55 0h1v4h-1zM55 6h1v2h-1zM55 18h1v2h-1zM55 23h1v3h-1zM55 29h1v3h-1zM56 10h1v11h-1zM56 25h1v11h-1zM57 2h1v3h-1zM57 12h1v3h-1zM57 23h1v1h-1zM57 25h1v9h-1zM58 5h1v1h-1zM58 19h1v15h-1zM59 19h1v17h-1zM60 11h1v1h-1zM60 13h1v1h-1zM60 15h1v1h-1zM60 19h1v3h-1zM60 23h1v4h-1zM60 31h1v4h-1zM61 11h1v2h-1zM61 18h1v7h-1zM61 29h1v7h-1zM62 10h1v3h-1zM62 16h1v1h-1zM62 19h1v7h-1zM62 27h1v9h-1zM63 10h1v3h-1zM63 18h1v3h-1zM63 27h1v4h-1zM64 9h1v5h-1zM64 17h1v9h-1zM64 30h1v6h-1zM65 1h1v2h-1zM65 11h1v1h-1zM65 19h1v5h-1zM66 9h1v3h-1zM66 17h1v1h-1zM66 20h1v4h-1zM66 26h1v7h-1zM66 35h1v1h-1zM67 0h1v3h-1zM67 9h1v1h-1zM67 11h1v6h-1zM67 18h1v1h-1zM67 20h1v14h-1zM67 35h1v1h-1zM68 0h1v1h-1zM68 7h1v25h-1zM69 0h1v4h-1zM69 6h1v1h-1zM69 9h1v1h-1zM69 11h1v11h-1zM69 25h1v6h-1zM70 0h1v1h-1zM70 6h1v11h-1zM70 20h1v13h-1zM70 34h1v2h-1zM71 9h1v19h-1zM71 30h1v5h-1zM72 0h1v2h-1zM72 10h1v2h-1zM72 14h1v22h-1zM73 12h1v2h-1zM73 18h1v1h-1zM73 20h1v3h-1zM73 29h1v7h-1zM74 29h1v7h-1zM75 28h1v4h-1zM75 33h1v3h-1zM76 0h1v2h-1zM76 6h1v10h-1zM76 27h1v6h-1zM77 0h1v2h-1zM77 6h1v1h-1zM77 16h1v8h-1zM77 35h1v1h-1zM78 0h1v4h-1zM78 7h1v20h-1zM78 28h1v8h-1zM79 0h1v4h-1zM79 8h1v3h-1zM79 13h1v2h-1zM79 18h1v3h-1zM79 24h1v8h-1zM79 33h1v1h-1zM79 35h1v1h-1zM80 1h1v1h-1zM80 4h1v1h-1zM80 6h1v2h-1zM80 9h1v1h-1zM80 11h1v1h-1zM80 14h1v1h-1zM80 19h1v2h-1zM80 26h1v10h-1zM81 9h1v15h-1zM81 28h1v8h-1zM82 6h1v2h-1zM82 13h1v7h-1zM82 23h1v2h-1zM82 28h1v8h-1zM83 2h1v1h-1zM83 4h1v3h-1zM91 0h1v1h-1zM91 12h1v4h-1zM91 21h1v10h-1zM91 33h1v3h-1zM92 1h1v4h-1zM92 7h1v11h-1zM92 20h1v16h-1zM93 0h1v3h-1zM93 7h1v14h-1zM93 22h1v7h-1zM93 30h1v1h-1zM94 0h1v4h-1zM94 7h1v2h-1zM94 17h1v19h-1zM95 2h1v1h-1zM95 18h1v11h-1zM96 5h1v3h-1zM96 9h1v2h-1zM96 17h1v9h-1zM96 27h1v9h-1zM97 14h1v20h-1zM98 0h1v7h-1zM98 10h1v16h-1zM98 28h1v3h-1zM98 32h1v4h-1zM99 11h1v25h-1zM100 3h1v3h-1zM100 16h1v3h-1zM100 35h1v1h-1zM101 3h1v4h-1zM101 11h1v4h-1zM101 16h1v1h-1zM101 29h1v1h-1zM102 0h1v3h-1zM102 10h1v17h-1zM102 34h1v2h-1zM103 12h1v1h-1zM103 18h1v4h-1zM103 23h1v5h-1zM103 29h1v4h-1zM103 34h1v2h-1zM104 8h1v6h-1zM104 15h1v1h-1zM104 17h1v11h-1zM104 34h1v2h-1zM105 12h1v3h-1zM105 20h1v5h-1zM105 26h1v1h-1zM105 30h1v6h-1zM106 0h1v21h-1zM106 28h1v5h-1zM106 34h1v2h-1zM107 0h1v3h-1zM107 4h1v6h-1zM107 12h1v17h-1zM107 30h1v1h-1zM107 35h1v1h-1zM108 0h1v3h-1zM108 6h1v1h-1zM233 9h1v2h-1zM233 12h1v2h-1zM233 16h1v5h-1zM233 28h1v4h-1zM234 12h1v1h-1zM234 16h1v6h-1zM236 0h1v4h-1zM236 10h1v8h-1zM236 19h1v1h-1zM236 21h1v15h-1zM237 0h1v1h-1zM237 3h1v1h-1zM237 10h1v3h-1zM237 14h1v22h-1zM238 15h1v21h-1zM239 13h1v2h-1zM239 18h1v8h-1zM239 28h1v1h-1zM239 30h1v3h-1zM239 34h1v1h-1zM240 2h1v1h-1zM240 12h1v1h-1zM240 15h1v12h-1zM240 34h1v2h-1zM241 0h1v7h-1zM241 14h1v1h-1zM241 22h1v11h-1zM242 0h1v3h-1zM242 4h1v7h-1zM242 13h1v22h-1zM243 11h1v7h-1zM243 24h1v2h-1zM243 35h1v1h-1zM244 1h1v30h-1zM244 32h1v4h-1zM245 0h1v6h-1zM245 7h1v1h-1zM245 9h1v19h-1zM245 29h1v1h-1zM245 33h1v3h-1zM246 0h1v5h-1zM246 7h1v5h-1zM246 13h1v8h-1zM246 22h1v3h-1zM246 27h1v9h-1zM247 0h1v10h-1zM247 12h1v7h-1zM247 20h1v4h-1zM247 25h1v4h-1zM247 35h1v1h-1zM248 1h1v3h-1zM248 7h1v3h-1zM248 17h1v4h-1zM248 28h1v2h-1zM248 32h1v4h-1zM249 0h1v3h-1zM249 9h1v4h-1zM249 15h1v1h-1zM249 19h1v2h-1zM249 26h1v5h-1zM249 33h1v3h-1zM250 0h1v5h-1zM250 25h1v1h-1zM251 0h1v1h-1zM251 4h1v3h-1zM251 8h1v23h-1zM251 32h1v4h-1zM252 0h1v7h-1zM252 8h1v1h-1zM252 10h1v12h-1zM252 25h1v2h-1zM252 34h1v2h-1zM253 26h1v1h-1zM254 31h1v1h-1zM254 34h1v2h-1zM255 0h1v2h-1zM255 3h1v1h-1zM255 12h1v9h-1zM255 22h1v1h-1zM255 28h1v2h-1zM256 11h1v5h-1zM256 26h1v4h-1zM257 22h1v5h-1zM258 0h1v5h-1zM258 8h1v12h-1zM259 0h1v4h-1zM259 6h1v1h-1zM259 9h1v2h-1zM259 12h1v15h-1zM259 31h1v2h-1zM260 0h1v33h-1zM261 2h1v5h-1zM261 8h1v20h-1zM262 0h1v4h-1zM262 9h1v22h-1zM262 32h1v4h-1zM263 0h1v21h-1zM263 24h1v12h-1zM264 0h1v30h-1zM265 14h1v2h-1zM265 32h1v4h-1zM266 1h1v1h-1zM266 14h1v1h-1zM266 28h1v3h-1zM266 33h1v3h-1zM267 1h1v1h-1zM267 19h1v4h-1zM267 30h1v3h-1zM267 35h1v1h-1zM268 12h1v1h-1zM268 19h1v3h-1zM268 23h1v1h-1zM268 27h1v4h-1zM268 32h1v4h-1zM269 0h1v36h-1zM270 3h1v14h-1zM270 20h1v6h-1zM270 29h1v7h-1zM347 32h1v4h-1zM348 15h1v1h-1zM348 18h1v2h-1zM348 22h1v14h-1zM349 0h1v36h-1zM350 25h1v1h-1zM350 27h1v9h-1zM351 4h1v1h-1zM351 7h1v17h-1zM351 25h1v11h-1zM352 0h1v26h-1zM352 27h1v8h-1zM353 4h1v2h-1zM353 8h1v28h-1zM354 1h1v2h-1zM354 4h1v1h-1zM354 13h1v21h-1zM355 0h1v10h-1zM355 21h1v6h-1zM355 28h1v4h-1zM356 0h1v3h-1zM356 4h1v7h-1zM356 12h1v6h-1zM356 22h1v3h-1zM356 30h1v5h-1zM357 0h1v13h-1zM357 14h1v14h-1zM357 30h1v6h-1z"/>
<path fill="#00A600" d="M1 29h1v5h-1zM7 2h1v2h-1zM9 34h1v2h-1zM10 28h1v3h-1zM10 32h1v1h-1zM11 33h1v3h-1zM14 31h1v1h-1zM15 28h1v1h-1zM15 32h1v4h-1zM19 27h1v1h-1zM19 34h1v1h-1zM23 29h1v7h-1zM24 22h1v1h-1zM24 24h1v12h-1zM25 29h1v7h-1zM27 34h1v2h-1zM28 28h1v2h-1zM28 31h1v5h-1zM33 34h1v1h-1zM47 3h1v1h-1zM49 30h1v2h-1zM50 32h1v1h-1zM57 34h1v2h-1zM58 34h1v2h-1zM67 34h1v1h-1zM68 32h1v4h-1zM69 31h1v5h-1zM70 1h1v5h-1zM70 33h1v1h-1zM78 27h1v1h-1zM90 11h1v1h-1zM91 31h1v2h-1zM93 3h1v4h-1zM93 29h1v1h-1zM93 31h1v5h-1zM94 4h1v2h-1zM97 8h1v1h-1zM98 31h1v1h-1zM102 27h1v7h-1zM106 33h1v1h-1zM107 3h1v1h-1zM107 10h1v2h-1zM107 29h1v1h-1zM107 31h1v1h-1zM108 3h1v3h-1zM233 15h1v1h-1zM236 8h1v2h-1zM237 1h1v2h-1zM237 4h1v6h-1zM240 27h1v1h-1zM243 1h1v1h-1zM243 3h1v3h-1zM245 6h1v1h-1zM245 8h1v1h-1zM247 24h1v1h-1zM247 30h1v1h-1zM251 31h1v1h-1zM255 2h1v1h-1zM255 6h1v1h-1zM255 8h1v4h-1zM259 4h1v2h-1zM259 7h1v2h-1zM259 11h1v1h-1zM352 35h1v1h-1zM353 1h1v3h-1zM353 6h1v2h-1zM356 11h1v1h-1z"/>
<path fill="#EAB64E" d="M2 1h1v1h-1zM3 0h1v12h-1zM3 13h1v6h-1zM3 21h1v1h-1zM3 25h1v6h-1zM4 0h1v17h-1zM4 24h1v6h-1zM4 35h1v1h-1zM5 7h1v5h-1zM5 16h1v1h-1zM5 20h1v2h-1zM5 24h1v6h-1zM5 32h1v2h-1zM5 35h1v1h-1zM6 0h1v15h-1zM6 16h1v2h-1zM6 23h1v11h-1zM6 35h1v1h-1zM7 5h1v6h-1zM7 14h1v2h-1zM7 19h1v8h-1zM7 30h1v6h-1zM8 0h1v5h-1zM8 7h1v16h-1zM8 27h1v2h-1zM8 35h1v1h-1zM9 0h1v9h-1zM9 10h1v8h-1zM9 19h1v8h-1zM10 0h1v11h-1zM10 14h1v3h-1zM10 19h1v5h-1zM11 2h1v5h-1zM12 0h1v1h-1zM12 7h1v4h-1zM12 29h1v4h-1zM13 3h1v5h-1zM13 18h1v1h-1zM14 0h1v9h-1zM14 32h1v4h-1zM15 0h1v12h-1zM16 3h1v8h-1zM16 29h1v5h-1zM16 35h1v1h-1zM17 0h1v9h-1zM17 10h1v2h-1zM17 21h1v2h-1zM17 31h1v2h-1zM18 0h1v2h-1zM18 9h1v3h-1zM18 13h1v1h-1zM18 15h1v2h-1zM18 21h1v2h-1zM18 29h1v2h-1zM18 32h1v2h-1zM19 7h1v1h-1zM20 6h1v2h-1zM20 22h1v1h-1zM20 24h1v3h-1zM20 35h1v1h-1zM21 0h1v9h-1zM21 10h1v3h-1zM21 16h1v2h-1zM21 30h1v1h-1zM21 32h1v4h-1zM22 0h1v10h-1zM22 22h1v3h-1zM23 0h1v2h-1zM23 12h1v1h-1zM23 22h1v1h-1zM23 26h1v1h-1zM24 2h1v6h-1zM24 12h1v2h-1zM24 15h1v1h-1zM25 0h1v2h-1zM25 3h1v4h-1zM26 11h1v2h-1zM26 24h1v3h-1zM27 26h1v2h-1zM29 9h1v3h-1zM29 35h1v1h-1zM30 14h1v2h-1zM30 24h1v2h-1zM30 31h1v1h-1zM31 7h1v2h-1zM31 28h1v3h-1zM32 1h1v13h-1zM32 28h1v2h-1zM32 35h1v1h-1zM33 1h1v4h-1zM33 6h1v8h-1zM33 16h1v5h-1zM34 0h1v2h-1zM34 5h1v7h-1zM34 17h1v4h-1zM34 22h1v9h-1zM34 32h1v1h-1zM35 0h1v17h-1zM35 25h1v3h-1zM36 0h1v5h-1zM36 10h1v3h-1zM36 16h1v1h-1zM36 19h1v1h-1zM36 26h1v5h-1zM37 0h1v4h-1zM37 13h1v6h-1zM37 21h1v3h-1zM37 28h1v7h-1zM38 1h1v3h-1zM38 9h1v8h-1zM38 20h1v3h-1zM38 29h1v7h-1zM39 0h1v3h-1zM39 6h1v7h-1zM39 27h1v3h-1zM40 0h1v6h-1zM40 10h1v13h-1zM41 0h1v13h-1zM41 17h1v6h-1zM41 26h1v3h-1zM41 35h1v1h-1zM42 13h1v4h-1zM42 26h1v4h-1zM43 0h1v15h-1zM43 16h1v5h-1zM43 32h1v2h-1zM44 0h1v12h-1zM44 13h1v5h-1zM45 1h1v1h-1zM45 3h1v2h-1zM45 7h1v8h-1zM45 18h1v4h-1zM45 26h1v5h-1zM46 0h1v2h-1zM46 8h1v3h-1zM46 34h1v1h-1zM47 0h1v3h-1zM47 4h1v5h-1zM47 13h1v6h-1zM48 2h1v8h-1zM48 13h1v2h-1zM48 22h1v2h-1zM49 0h1v1h-1zM49 2h1v9h-1zM49 19h1v1h-1zM49 25h1v2h-1zM50 3h1v4h-1zM50 8h1v2h-1zM50 26h1v2h-1zM51 0h1v13h-1zM52 0h1v2h-1zM52 5h1v6h-1zM52 16h1v2h-1zM53 0h1v11h-1zM53 14h1v7h-1zM53 22h1v5h-1zM53 30h1v6h-1zM54 0h1v18h-1zM54 20h1v1h-1zM54 22h1v2h-1zM54 26h1v2h-1zM54 29h1v5h-1zM55 4h1v2h-1zM55 8h1v10h-1zM55 20h1v3h-1zM55 26h1v3h-1zM55 32h1v4h-1zM56 0h1v10h-1zM56 21h1v4h-1zM57 0h1v2h-1zM57 5h1v7h-1zM57 15h1v8h-1zM57 24h1v1h-1zM58 0h1v5h-1zM58 6h1v13h-1zM59 0h1v19h-1zM60 0h1v11h-1zM60 12h1v1h-1zM60 14h1v1h-1zM60 16h1v3h-1zM60 22h1v1h-1zM60 27h1v4h-1zM60 35h1v1h-1zM61 0h1v11h-1zM61 13h1v5h-1zM61 25h1v4h-1zM62 0h1v10h-1zM62 13h1v3h-1zM62 17h1v2h-1zM62 26h1v1h-1zM63 0h1v10h-1zM63 13h1v5h-1zM63 21h1v6h-1zM63 31h1v5h-1zM64 0h1v9h-1zM64 14h1v3h-1zM64 26h1v4h-1zM65 0h1v1h-1zM65 3h1v8h-1zM65 12h1v7h-1zM65 24h1v12h-1zM66 0h1v9h-1zM66 12h1v5h-1zM66 18h1v2h-1zM66 24h1v2h-1zM66 33h1v2h-1zM67 3h1v6h-1zM67 10h1v1h-1zM67 17h1v1h-1zM67 19h1v1h-1zM68 1h1v6h-1zM69 4h1v2h-1zM69 7h1v2h-1zM69 10h1v1h-1zM69 22h1v3h-1zM70 17h1v3h-1zM71 0h1v9h-1zM71 28h1v2h-1zM71 35h1v1h-1zM72 2h1v8h-1zM72 12h1v2h-1zM73 0h1v12h-1zM73 14h1v4h-1zM73 19h1v1h-1zM73 23h1v6h-1zM74 0h1v29h-1zM75 0h1v28h-1zM75 32h1v1h-1zM76 2h1v4h-1zM76 16h1v11h-1zM76 33h1v3h-1zM77 2h1v4h-1zM77 7h1v9h-1zM77 24h1v11h-1zM78 4h1v3h-1zM79 4h1v4h-1zM79 11h1v2h-1zM79 15h1v3h-1zM79 21h1v3h-1zM79 32h1v1h-1zM79 34h1v1h-1zM80 0h1v1h-1zM80 2h1v2h-1zM80 5h1v1h-1zM80 8h1v1h-1zM80 10h1v1h-1zM80 12h1v2h-1zM80 15h1v4h-1zM80 21h1v5h-1zM81 0h1v9h-1zM81 24h1v4h-1zM82 0h1v6h-1zM82 8h1v5h-1zM82 20h1v3h-1zM82 25h1v3h-1zM83 0h1v2h-1zM83 3h1v1h-1zM83 7h1v1h-1zM91 1h1v11h-1zM91 16h1v5h-1zM92 0h1v1h-1zM92 5h1v2h-1zM92 18h1v2h-1zM93 21h1v1h-1zM94 6h1v1h-1zM94 9h1v8h-1zM95 0h1v2h-1zM95 3h1v15h-1zM95 29h1v7h-1zM96 0h1v5h-1zM96 8h1v1h-1zM96 11h1v6h-1zM96 26h1v1h-1zM97 0h1v8h-1zM97 9h1v5h-1zM97 34h1v2h-1zM98 7h1v3h-1zM98 26h1v2h-1zM99 0h1v11h-1zM100 0h1v3h-1zM100 6h1v10h-1zM100 19h1v16h-1zM101 0h1v3h-1zM101 7h1v4h-1zM101 15h1v1h-1zM101 17h1v12h-1zM101 30h1v6h-1zM102 3h1v7h-1zM103 0h1v12h-1zM103 13h1v5h-1zM103 22h1v1h-1zM103 28h1v1h-1zM103 33h1v1h-1zM104 0h1v8h-1zM104 14h1v1h-1zM104 16h1v1h-1zM104 28h1v6h-1zM105 0h1v12h-1zM105 15h1v5h-1zM105 25h1v1h-1zM105 27h1v3h-1zM106 21h1v7h-1zM107 32h1v3h-1zM233 6h1v3h-1zM233 11h1v1h-1zM233 14h1v1h-1zM233 21h1v7h-1zM233 32h1v4h-1zM234 0h1v12h-1zM234 13h1v3h-1zM234 22h1v14h-1zM235 0h1v36h-1zM236 4h1v4h-1zM236 18h1v1h-1zM236 20h1v1h-1zM237 13h1v1h-1zM238 0h1v15h-1zM239 0h1v13h-1zM239 15h1v3h-1zM239 26h1v2h-1zM239 29h1v1h-1zM239 33h1v1h-1zM239 35h1v1h-1zM240 0h1v2h-1zM240 3h1v9h-1zM240 13h1v2h-1zM240 28h1v6h-1zM241 7h1v7h-1zM241 15h1v7h-1zM241 33h1v3h-1zM242 3h1v1h-1zM242 11h1v2h-1zM242 35h1v1h-1zM243 0h1v1h-1zM243 2h1v1h-1zM243 6h1v5h-1zM243 18h1v6h-1zM243 26h1v9h-1zM244 0h1v1h-1zM244 31h1v1h-1zM245 28h1v1h-1zM245 30h1v3h-1zM246 5h1v2h-1zM246 12h1v1h-1zM246 21h1v1h-1zM246 25h1v2h-1zM247 10h1v2h-1zM247 19h1v1h-1zM247 29h1v1h-1zM247 31h1v4h-1zM248 0h1v1h-1zM248 4h1v3h-1zM248 10h1v7h-1zM248 21h1v7h-1zM248 30h1v2h-1zM249 3h1v6h-1zM249 13h1v2h-1zM249 16h1v3h-1zM249 21h1v5h-1zM249 31h1v2h-1zM250 5h1v20h-1zM250 26h1v10h-1zM251 1h1v3h-1zM251 7h1v1h-1zM252 7h1v1h-1zM252 9h1v1h-1zM252 22h1v3h-1zM252 27h1v7h-1zM253 0h1v26h-1zM253 27h1v9h-1zM254 0h1v31h-1zM254 32h1v2h-1zM255 4h1v2h-1zM255 7h1v1h-1zM255 23h1v5h-1zM255 30h1v6h-1zM256 0h1v11h-1zM256 16h1v10h-1zM256 30h1v6h-1zM257 0h1v22h-1zM257 27h1v9h-1zM258 5h1v3h-1zM258 20h1v16h-1zM259 27h1v4h-1zM259 33h1v3h-1zM260 33h1v3h-1zM261 0h1v2h-1zM261 7h1v1h-1zM261 28h1v8h-1zM262 4h1v5h-1zM262 31h1v1h-1zM263 21h1v3h-1zM264 30h1v6h-1zM265 0h1v14h-1zM265 16h1v16h-1zM266 0h1v1h-1zM266 2h1v12h-1zM266 15h1v13h-1zM266 31h1v2h-1zM267 0h1v1h-1zM267 2h1v17h-1zM267 23h1v7h-1zM267 33h1v2h-1zM268 0h1v12h-1zM268 13h1v6h-1zM268 24h1v3h-1zM268 31h1v1h-1zM270 0h1v3h-1zM270 17h1v3h-1zM270 26h1v2h-1zM271 24h1v1h-1zM347 16h1v16h-1zM348 0h1v15h-1zM348 16h1v2h-1zM348 20h1v2h-1zM350 0h1v25h-1zM350 26h1v1h-1zM351 0h1v4h-1zM351 5h1v2h-1zM351 24h1v1h-1zM352 26h1v1h-1zM353 0h1v1h-1zM354 0h1v1h-1zM354 3h1v1h-1zM354 5h1v8h-1zM354 34h1v2h-1zM355 10h1v11h-1zM355 27h1v1h-1zM355 32h1v4h-1zM356 3h1v1h-1zM356 18h1v4h-1zM356 25h1v5h-1zM356 35h1v1h-1zM357 13h1v1h-1zM357 28h1v2h-1z"/>
<path fill="#FFFFFF" d="M9 18h1v1h-1zM255 21h1v1h-1zM268 22h1v1h-1zM270 28h1v1h-1z"/>
</g></g>
<path d="M102 1366H1537.2V1671.9H102ZM102 1671.9v13.5M102 1366v-13.5M219.63 1671.9v13.5M219.63 1366v-13.5M337.26 1671.9v13.5M337.26 1366v-13.5M454.89 1671.9v13.5M454.89 1366v-13.5M572.52 1671.9v13.5M572.52 1366v-13.5M690.15 1671.9v13.5M690.15 1366v-13.5M807.78 1671.9v13.5M807.78 1366v-13.5M925.41 1671.9v13.5M925.41 1366v-13.5M1043.04 1671.9v13.5M1043.04 1366v-13.5M1160.67 1671.9v13.5M1160.67 1366v-13.5M1278.3 1671.9v13.5M1278.3 1366v-13.5M1395.93 1671.9v13.5M1395.93 1366v-13.5M1513.56 1671.9v13.5M1513.56 1366v-13.5M102 1671.9h-13.5M1537.2 1671.9h13.5M102 1637.03h-13.5M1537.2 1637.03h13.5M102 1602.16h-13.5M1537.2 1602.16h13.5M102 1567.29h-13.5M1537.2 1567.29h13.5M102 1532.42h-13.5M1537.2 1532.42h13.5M102 1497.55h-13.5M1537.2 1497.55h13.5M102 1462.68h-13.5M1537.2 1462.68h13.5M102 1427.81h-13.5M1537.2 1427.81h13.5M102 1392.94h-13.5M1537.2 1392.94h13.5" fill="none" stroke="#000" stroke-width="1.8" stroke-linecap="butt"/>
<g font-size="22.6" text-anchor="middle">
<text transform="translate(102 1716.1) scale(1 1.02)">0</text>
<text transform="translate(219.63 1716.1) scale(1 1.02)">30</text>
<text transform="translate(337.26 1716.1) scale(1 1.02)">60</text>
<text transform="translate(454.89 1716.1) scale(1 1.02)">90</text>
<text transform="translate(572.52 1716.1) scale(1 1.02)">120</text>
<text transform="translate(690.15 1716.1) scale(1 1.02)">150</text>
<text transform="translate(807.78 1716.1) scale(1 1.02)">180</text>
<text transform="translate(925.41 1716.1) scale(1 1.02)">210</text>
<text transform="translate(1043.04 1716.1) scale(1 1.02)">240</text>
<text transform="translate(1160.67 1716.1) scale(1 1.02)">270</text>
<text transform="translate(1278.3 1716.1) scale(1 1.02)">300</text>
<text transform="translate(1395.93 1716.1) scale(1 1.02)">330</text>
<text transform="translate(1513.56 1716.1) scale(1 1.02)">360</text>
</g>
<g font-size="22.6" text-anchor="end">
<text transform="translate(75 1679.9) scale(1 1.02)">8</text>
<text transform="translate(75 1645.03) scale(1 1.02)">9</text>
<text transform="translate(75 1610.16) scale(1 1.02)">10</text>
<text transform="translate(75 1575.29) scale(1 1.02)">11</text>
<text transform="translate(75 1540.42) scale(1 1.02)">12</text>
<text transform="translate(75 1505.55) scale(1 1.02)">13</text>
<text transform="translate(75 1470.68) scale(1 1.02)">14</text>
<text transform="translate(75 1435.81) scale(1 1.02)">15</text>
<text transform="translate(75 1400.94) scale(1 1.02)">16</text>
</g>
<text transform="translate(23.5 1519.75) rotate(-90) scale(1 1.02)" font-size="28.5" text-anchor="middle">Time of Day (UTC+8)</text>
<g shape-rendering="crispEdges">
<rect x="1591" y="1366" width="40.8" height="76.98" fill="#00A600"/>
<rect x="1591" y="1442.47" width="40.8" height="76.98" fill="#8BD000"/>
<rect x="1591" y="1518.95" width="40.8" height="76.98" fill="#EAB64E"/>
<rect x="1591" y="1595.43" width="40.8" height="76.98" fill="#F2F2F2"/>
</g>
<path d="M1591 1366H1631.8V1671.9H1591ZM1631.8 1404.24h10.5M1631.8 1480.71h10.5M1631.8 1557.19h10.5M1631.8 1633.66h10.5" fill="none" stroke="#000" stroke-width="1.8"/>
<g font-size="29.1">
<text transform="translate(1648.3 1400.6) scale(1 1.02)">Very</text>
<text transform="translate(1648.3 1435) scale(1 1.02)">Sunny</text>
<text transform="translate(1648.3 1489.5) scale(1 1.02)">Sunny</text>
<text transform="translate(1648.3 1563.4) scale(1 1.02)">Cloudy</text>
<text transform="translate(1648.3 1620.7) scale(1 1.02)">No</text>
<text transform="translate(1648.3 1654.6) scale(1 1.02)">Data</text>
</g>
<text transform="translate(819.7 1763.2) scale(1 1.02)" font-size="28.8" text-anchor="middle">Day of Year</text>
</svg></body></html>
